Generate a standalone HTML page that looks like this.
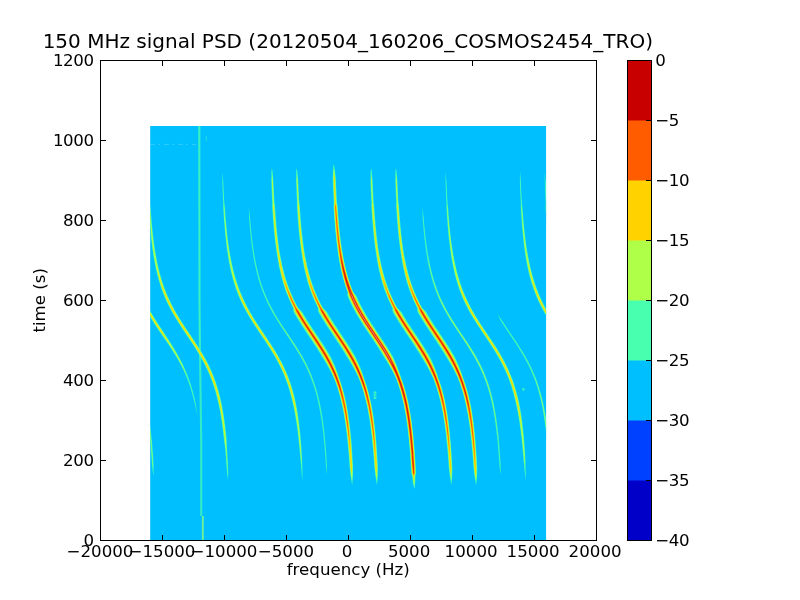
<!DOCTYPE html><html><head><meta charset="utf-8"><title>150 MHz signal PSD</title>
<style>html,body{margin:0;padding:0;background:#fff;overflow:hidden}svg{display:block}text{font-family:"DejaVu Sans","Liberation Sans",sans-serif;fill:#000}</style></head><body>
<svg width="800" height="600" viewBox="0 0 800 600">
<rect width="800" height="600" fill="#fff"/>
<defs><clipPath id="dc"><rect x="150.2" y="126.0" width="395.9" height="414.0"/></clipPath></defs>
<rect x="150.2" y="126.0" width="395.9" height="414.0" fill="#00bfff"/>
<g clip-path="url(#dc)"><g>
<g fill="none" stroke="#48ffaf">
<path d="M199.3 126L199.5 300L199.9 345" stroke-width="2.1" stroke-opacity="0.8"/>
<path d="M199.9 345L201.2 440L201.2 516" stroke-width="2.1" stroke-opacity="0.7"/>
<path d="M202.8 516L202.8 540" stroke-width="1.8" stroke="#8fff7a" stroke-opacity="0.8"/>
<path d="M150 144.4H196" stroke="#ffffff" stroke-width="0.8" stroke-opacity="0.25" stroke-dasharray="5 3 2 4"/>
<path d="M206.3 136V141" stroke-width="1" stroke-opacity="0.5"/>
</g>
<g fill="#48ffaf" fill-opacity="0.8">
<rect x="373.6" y="391.4" width="2.8" height="2.4"/><rect x="373.6" y="394.3" width="2.8" height="2.2"/><rect x="373.6" y="397" width="2.8" height="2"/>
<rect x="522.2" y="388.2" width="2.4" height="2.4"/>
</g>

<g fill="#48ffaf">
<polygon points="333.8,164.0 333.6,165.0 333.4,166.0 333.3,167.0 333.2,168.0 333.2,169.0 333.1,170.0 333.1,171.0 333.0,172.0 332.9,173.0 332.9,174.0 332.9,175.0 332.8,176.0 332.8,177.0 332.7,178.0 332.8,179.0 332.8,180.0 332.8,181.0 332.9,182.0 332.9,183.0 332.9,184.0 333.0,185.0 333.0,186.0 333.0,187.0 333.1,188.0 333.1,189.0 333.2,190.0 333.2,191.0 333.2,192.0 333.3,193.0 333.3,194.0 333.4,195.0 333.4,196.0 333.5,197.0 333.5,198.0 333.6,199.0 333.6,200.0 333.7,201.0 333.7,202.0 333.8,203.0 333.7,204.0 333.6,205.0 333.6,206.0 333.6,207.0 333.7,208.0 333.7,209.0 333.8,210.0 333.9,211.0 333.9,212.0 334.0,213.0 334.0,214.0 334.1,215.0 334.2,216.0 334.3,217.0 334.3,218.0 334.4,219.0 334.5,220.0 334.5,221.0 334.6,222.0 334.7,223.0 334.8,224.0 334.9,225.0 334.9,226.0 335.0,227.0 335.1,228.0 335.2,229.0 335.3,230.0 335.4,231.0 335.5,232.0 335.6,233.0 335.7,234.0 335.8,235.0 335.9,236.0 336.0,237.0 336.1,238.0 336.2,239.0 336.3,240.0 336.4,241.0 336.5,242.0 336.7,243.0 336.8,244.0 336.9,245.0 337.0,246.0 337.2,247.0 337.3,248.0 337.4,249.0 337.6,250.0 337.7,251.0 337.8,252.0 338.0,253.0 338.1,254.0 338.3,255.0 338.4,256.0 338.6,257.0 338.8,258.0 338.9,259.0 339.1,260.0 339.3,261.0 339.4,262.0 339.6,263.0 339.8,264.0 340.0,265.0 340.2,266.0 340.4,267.0 340.6,268.0 340.8,269.0 341.1,270.0 341.3,271.0 341.5,272.0 341.8,273.0 342.0,274.0 342.3,275.0 342.5,276.0 342.8,277.0 343.0,278.0 343.3,279.0 343.6,280.0 343.9,281.0 344.2,282.0 344.5,283.0 344.8,284.0 345.1,285.0 345.4,286.0 345.8,287.0 346.1,288.0 346.4,289.0 346.8,290.0 347.2,291.0 347.5,292.0 347.5,293.0 347.5,294.0 347.5,295.0 347.5,296.0 347.9,297.0 348.3,298.0 348.8,299.0 349.2,300.0 349.7,301.0 350.1,302.0 350.6,303.0 351.1,304.0 351.6,305.0 352.1,306.0 352.6,307.0 353.1,308.0 353.6,309.0 354.2,310.0 354.7,311.0 355.3,312.0 355.8,313.0 356.4,314.0 357.0,315.0 357.6,316.0 358.1,317.0 358.7,318.0 359.4,319.0 360.0,320.0 360.6,321.0 361.2,322.0 361.9,323.0 362.5,324.0 363.1,325.0 363.8,326.0 364.4,327.0 365.1,328.0 365.8,329.0 366.4,330.0 367.1,331.0 367.8,332.0 368.4,333.0 369.1,334.0 369.8,335.0 370.4,336.0 371.1,337.0 371.8,338.0 372.5,339.0 373.1,340.0 373.8,341.0 374.5,342.0 375.1,343.0 375.8,344.0 376.4,345.0 377.1,346.0 377.7,347.0 378.4,348.0 379.0,349.0 379.6,350.0 380.3,351.0 380.9,352.0 381.5,353.0 382.1,354.0 382.7,355.0 383.3,356.0 383.9,357.0 384.6,358.0 385.2,359.0 385.9,360.0 386.5,361.0 387.1,362.0 387.7,363.0 388.3,364.0 388.9,365.0 389.5,366.0 390.1,367.0 390.7,368.0 391.2,369.0 391.8,370.0 392.3,371.0 392.8,372.0 393.4,373.0 393.9,374.0 394.4,375.0 394.9,376.0 395.3,377.0 395.8,378.0 396.2,379.0 396.6,380.0 397.0,381.0 397.3,382.0 397.7,383.0 398.0,384.0 398.4,385.0 398.7,386.0 399.0,387.0 399.3,388.0 399.7,389.0 400.0,390.0 400.3,391.0 400.5,392.0 400.8,393.0 401.1,394.0 401.4,395.0 401.6,396.0 401.9,397.0 402.2,398.0 402.4,399.0 402.6,400.0 402.9,401.0 403.1,402.0 403.3,403.0 403.6,404.0 403.8,405.0 404.0,406.0 404.2,407.0 404.4,408.0 404.6,409.0 404.8,410.0 405.0,411.0 405.1,412.0 405.3,413.0 405.5,414.0 405.7,415.0 405.8,416.0 406.0,417.0 406.2,418.0 406.3,419.0 406.5,420.0 406.6,421.0 406.8,422.0 406.9,423.0 407.0,424.0 407.2,425.0 407.3,426.0 407.4,427.0 407.6,428.0 407.7,429.0 407.8,430.0 407.9,431.0 408.1,432.0 408.2,433.0 408.3,434.0 408.4,435.0 408.5,436.0 408.6,437.0 408.7,438.0 408.8,439.0 408.9,440.0 409.0,441.0 409.1,442.0 409.2,443.0 409.3,444.0 409.4,445.0 409.5,446.0 409.6,447.0 409.6,448.0 409.7,449.0 409.8,450.0 409.9,451.0 410.0,452.0 410.0,453.0 410.1,454.0 410.2,455.0 410.3,456.0 410.3,457.0 410.4,458.0 410.5,459.0 410.5,460.0 410.6,461.0 410.7,462.0 410.7,463.0 410.8,464.0 410.8,465.0 410.9,466.0 411.0,467.0 411.1,468.0 411.1,469.0 411.2,470.0 411.3,471.0 411.3,472.0 411.4,473.0 411.6,474.0 411.8,475.0 412.2,476.0 412.3,477.0 412.4,478.0 412.5,479.0 412.6,480.0 412.8,481.0 412.9,482.0 413.0,483.0 413.2,484.0 413.4,485.0 413.6,486.0 413.8,487.0 414.1,488.0 414.3,489.0 414.3,489.0 414.5,488.0 414.7,487.0 414.8,486.0 414.9,485.0 415.0,484.0 415.2,483.0 415.2,482.0 415.2,481.0 415.3,480.0 415.3,479.0 415.4,478.0 415.4,477.0 415.4,476.0 415.6,475.0 415.8,474.0 415.9,473.0 415.8,472.0 415.8,471.0 415.8,470.0 415.7,469.0 415.7,468.0 415.6,467.0 415.6,466.0 415.5,465.0 415.5,464.0 415.4,463.0 415.4,462.0 415.3,461.0 415.2,460.0 415.2,459.0 415.1,458.0 415.1,457.0 415.0,456.0 414.9,455.0 414.8,454.0 414.8,453.0 414.7,452.0 414.6,451.0 414.6,450.0 414.5,449.0 414.4,448.0 414.3,447.0 414.2,446.0 414.2,445.0 414.1,444.0 414.0,443.0 413.9,442.0 413.8,441.0 413.7,440.0 413.6,439.0 413.5,438.0 413.4,437.0 413.3,436.0 413.2,435.0 413.1,434.0 413.0,433.0 412.9,432.0 412.8,431.0 412.7,430.0 412.6,429.0 412.4,428.0 412.3,427.0 412.2,426.0 412.1,425.0 411.9,424.0 411.8,423.0 411.7,422.0 411.5,421.0 411.4,420.0 411.2,419.0 411.1,418.0 410.9,417.0 410.8,416.0 410.6,415.0 410.5,414.0 410.3,413.0 410.1,412.0 410.0,411.0 409.8,410.0 409.6,409.0 409.4,408.0 409.2,407.0 409.0,406.0 408.8,405.0 408.6,404.0 408.4,403.0 408.2,402.0 408.0,401.0 407.7,400.0 407.5,399.0 407.3,398.0 407.0,397.0 406.8,396.0 406.5,395.0 406.3,394.0 406.0,393.0 405.7,392.0 405.5,391.0 405.2,390.0 404.9,389.0 404.6,388.0 404.3,387.0 404.0,386.0 403.6,385.0 403.3,384.0 403.0,383.0 402.6,382.0 402.3,381.0 401.9,380.0 401.6,379.0 401.2,378.0 400.9,377.0 400.6,376.0 400.2,375.0 399.9,374.0 399.6,373.0 399.2,372.0 398.9,371.0 398.5,370.0 398.2,369.0 397.8,368.0 397.4,367.0 397.0,366.0 396.6,365.0 396.2,364.0 395.8,363.0 395.3,362.0 394.9,361.0 394.5,360.0 394.0,359.0 393.5,358.0 393.0,357.0 392.6,356.0 392.0,355.0 391.4,354.0 390.8,353.0 390.2,352.0 389.6,351.0 389.0,350.0 388.4,349.0 387.8,348.0 387.1,347.0 386.5,346.0 385.8,345.0 385.2,344.0 384.5,343.0 383.9,342.0 383.2,341.0 382.6,340.0 381.9,339.0 381.2,338.0 380.6,337.0 379.9,336.0 379.2,335.0 378.5,334.0 377.9,333.0 377.2,332.0 376.5,331.0 375.9,330.0 375.2,329.0 374.5,328.0 373.9,327.0 373.2,326.0 372.5,325.0 371.9,324.0 371.2,323.0 370.6,322.0 370.0,321.0 369.3,320.0 368.7,319.0 368.1,318.0 367.5,317.0 366.9,316.0 366.3,315.0 365.7,314.0 365.1,313.0 364.5,312.0 363.9,311.0 363.4,310.0 362.8,309.0 362.3,308.0 361.8,307.0 361.2,306.0 360.7,305.0 360.2,304.0 359.7,303.0 359.2,302.0 358.7,301.0 358.3,300.0 357.8,299.0 357.4,298.0 356.9,297.0 356.5,296.0 355.6,295.0 354.8,294.0 354.0,293.0 353.2,292.0 352.8,291.0 352.4,290.0 352.0,289.0 351.6,288.0 351.3,287.0 350.9,286.0 350.5,285.0 350.2,284.0 349.9,283.0 349.5,282.0 349.2,281.0 348.9,280.0 348.6,279.0 348.3,278.0 348.0,277.0 347.7,276.0 347.4,275.0 347.2,274.0 346.9,273.0 346.6,272.0 346.4,271.0 346.1,270.0 345.9,269.0 345.6,268.0 345.4,267.0 345.2,266.0 345.0,265.0 344.7,264.0 344.5,263.0 344.3,262.0 344.1,261.0 343.9,260.0 343.7,259.0 343.5,258.0 343.3,257.0 343.1,256.0 342.9,255.0 342.8,254.0 342.6,253.0 342.4,252.0 342.2,251.0 342.1,250.0 341.9,249.0 341.8,248.0 341.6,247.0 341.5,246.0 341.3,245.0 341.2,244.0 341.0,243.0 340.9,242.0 340.8,241.0 340.7,240.0 340.5,239.0 340.4,238.0 340.3,237.0 340.2,236.0 340.1,235.0 340.0,234.0 339.8,233.0 339.7,232.0 339.6,231.0 339.5,230.0 339.4,229.0 339.3,228.0 339.2,227.0 339.1,226.0 339.0,225.0 339.0,224.0 338.9,223.0 338.8,222.0 338.7,221.0 338.6,220.0 338.5,219.0 338.4,218.0 338.4,217.0 338.3,216.0 338.2,215.0 338.1,214.0 338.1,213.0 338.0,212.0 337.9,211.0 337.8,210.0 337.8,209.0 337.7,208.0 337.6,207.0 337.6,206.0 337.4,205.0 337.2,204.0 337.0,203.0 337.0,202.0 336.9,201.0 336.8,200.0 336.8,199.0 336.7,198.0 336.7,197.0 336.6,196.0 336.6,195.0 336.5,194.0 336.5,193.0 336.4,192.0 336.4,191.0 336.3,190.0 336.3,189.0 336.2,188.0 336.2,187.0 336.1,186.0 336.1,185.0 336.0,184.0 336.0,183.0 335.9,182.0 335.9,181.0 335.8,180.0 335.8,179.0 335.8,178.0 335.7,177.0 335.5,176.0 335.4,175.0 335.3,174.0 335.2,173.0 335.1,172.0 335.0,171.0 334.8,170.0 334.7,169.0 334.6,168.0 334.4,167.0 334.3,166.0 334.0,165.0 333.8,164.0"/>
<polygon points="371.1,168.0 371.0,169.0 370.8,170.0 370.7,171.0 370.6,172.0 370.6,173.0 370.6,174.0 370.6,175.0 370.6,176.0 370.6,177.0 370.6,178.0 370.6,179.0 370.5,180.0 370.5,181.0 370.6,182.0 370.6,183.0 370.6,184.0 370.7,185.0 370.7,186.0 370.7,187.0 370.8,188.0 370.8,189.0 370.9,190.0 370.9,191.0 370.9,192.0 371.0,193.0 371.0,194.0 371.1,195.0 371.1,196.0 371.2,197.0 371.2,198.0 371.3,199.0 371.3,200.0 371.4,201.0 371.4,202.0 371.5,203.0 371.4,204.0 371.4,205.0 371.3,206.0 371.4,207.0 371.5,208.0 371.5,209.0 371.6,210.0 371.6,211.0 371.7,212.0 371.8,213.0 371.8,214.0 371.9,215.0 372.0,216.0 372.0,217.0 372.1,218.0 372.2,219.0 372.3,220.0 372.3,221.0 372.4,222.0 372.5,223.0 372.6,224.0 372.7,225.0 372.8,226.0 372.8,227.0 372.9,228.0 373.0,229.0 373.1,230.0 373.2,231.0 373.3,232.0 373.4,233.0 373.5,234.0 373.6,235.0 373.7,236.0 373.8,237.0 373.9,238.0 374.0,239.0 374.2,240.0 374.3,241.0 374.4,242.0 374.5,243.0 374.6,244.0 374.8,245.0 374.9,246.0 375.0,247.0 375.2,248.0 375.3,249.0 375.5,250.0 375.6,251.0 375.7,252.0 375.9,253.0 376.1,254.0 376.2,255.0 376.4,256.0 376.5,257.0 376.7,258.0 376.9,259.0 377.0,260.0 377.2,261.0 377.4,262.0 377.6,263.0 377.8,264.0 377.9,265.0 378.1,266.0 378.3,267.0 378.6,268.0 378.8,269.0 379.0,270.0 379.2,271.0 379.4,272.0 379.7,273.0 379.9,274.0 380.2,275.0 380.4,276.0 380.7,277.0 380.9,278.0 381.2,279.0 381.5,280.0 381.8,281.0 382.0,282.0 382.3,283.0 382.6,284.0 383.0,285.0 383.3,286.0 383.6,287.0 383.9,288.0 384.3,289.0 384.6,290.0 385.0,291.0 385.4,292.0 385.7,293.0 386.1,294.0 386.5,295.0 386.9,296.0 387.3,297.0 387.8,298.0 388.2,299.0 388.6,300.0 389.1,301.0 389.5,302.0 390.0,303.0 390.5,304.0 390.9,305.0 391.4,306.0 391.9,307.0 392.4,308.0 392.5,309.0 392.5,310.0 392.6,311.0 392.8,312.0 393.3,313.0 393.9,314.0 394.5,315.0 395.1,316.0 395.7,317.0 396.3,318.0 396.9,319.0 397.5,320.0 398.1,321.0 398.7,322.0 399.4,323.0 400.0,324.0 400.6,325.0 401.3,326.0 401.9,327.0 402.6,328.0 403.3,329.0 403.9,330.0 404.6,331.0 405.2,332.0 405.9,333.0 406.6,334.0 407.3,335.0 407.9,336.0 408.6,337.0 409.3,338.0 409.9,339.0 410.6,340.0 411.3,341.0 411.9,342.0 412.6,343.0 413.3,344.0 413.9,345.0 414.6,346.0 415.2,347.0 415.9,348.0 416.5,349.0 417.1,350.0 417.7,351.0 418.4,352.0 419.0,353.0 419.6,354.0 420.2,355.0 420.7,356.0 421.4,357.0 422.0,358.0 422.7,359.0 423.3,360.0 423.9,361.0 424.5,362.0 425.1,363.0 425.7,364.0 426.3,365.0 426.9,366.0 427.4,367.0 428.0,368.0 428.5,369.0 429.1,370.0 429.6,371.0 430.1,372.0 430.6,373.0 431.1,374.0 431.6,375.0 432.1,376.0 432.6,377.0 433.1,378.0 433.5,379.0 433.9,380.0 434.2,381.0 434.6,382.0 435.0,383.0 435.3,384.0 435.7,385.0 436.0,386.0 436.3,387.0 436.7,388.0 437.0,389.0 437.3,390.0 437.6,391.0 437.9,392.0 438.2,393.0 438.4,394.0 438.7,395.0 439.0,396.0 439.3,397.0 439.5,398.0 439.8,399.0 440.0,400.0 440.3,401.0 440.5,402.0 440.7,403.0 440.9,404.0 441.2,405.0 441.4,406.0 441.6,407.0 441.8,408.0 442.0,409.0 442.2,410.0 442.4,411.0 442.6,412.0 442.8,413.0 443.0,414.0 443.1,415.0 443.3,416.0 443.5,417.0 443.6,418.0 443.8,419.0 444.0,420.0 444.1,421.0 444.3,422.0 444.4,423.0 444.6,424.0 444.7,425.0 444.8,426.0 445.0,427.0 445.1,428.0 445.2,429.0 445.4,430.0 445.5,431.0 445.6,432.0 445.7,433.0 445.9,434.0 446.0,435.0 446.1,436.0 446.2,437.0 446.3,438.0 446.4,439.0 446.5,440.0 446.6,441.0 446.7,442.0 446.8,443.0 446.9,444.0 447.0,445.0 447.1,446.0 447.2,447.0 447.3,448.0 447.4,449.0 447.5,450.0 447.6,451.0 447.7,452.0 447.7,453.0 447.8,454.0 447.9,455.0 448.0,456.0 448.1,457.0 448.1,458.0 448.2,459.0 448.3,460.0 448.4,461.0 448.4,462.0 448.5,463.0 448.6,464.0 448.6,465.0 448.7,466.0 448.8,467.0 448.8,468.0 449.0,469.0 449.1,470.0 449.2,471.0 449.3,472.0 449.4,473.0 449.5,474.0 449.7,475.0 449.8,476.0 450.0,477.0 450.1,478.0 450.3,479.0 450.5,480.0 450.6,481.0 450.8,482.0 451.0,483.0 451.2,484.0 451.4,485.0 451.4,485.0 451.5,484.0 451.6,483.0 451.7,482.0 451.8,481.0 451.9,480.0 451.9,479.0 452.0,478.0 452.1,477.0 452.2,476.0 452.2,475.0 452.2,474.0 452.2,473.0 452.3,472.0 452.3,471.0 452.3,470.0 452.3,469.0 452.3,468.0 452.3,467.0 452.2,466.0 452.2,465.0 452.1,464.0 452.1,463.0 452.0,462.0 451.9,461.0 451.9,460.0 451.8,459.0 451.8,458.0 451.7,457.0 451.7,456.0 451.6,455.0 451.5,454.0 451.5,453.0 451.4,452.0 451.3,451.0 451.3,450.0 451.2,449.0 451.1,448.0 451.1,447.0 451.0,446.0 450.9,445.0 450.8,444.0 450.8,443.0 450.7,442.0 450.6,441.0 450.5,440.0 450.4,439.0 450.3,438.0 450.2,437.0 450.1,436.0 450.1,435.0 450.0,434.0 449.9,433.0 449.7,432.0 449.6,431.0 449.5,430.0 449.4,429.0 449.3,428.0 449.2,427.0 449.1,426.0 449.0,425.0 448.8,424.0 448.7,423.0 448.6,422.0 448.4,421.0 448.3,420.0 448.2,419.0 448.0,418.0 447.9,417.0 447.7,416.0 447.6,415.0 447.4,414.0 447.3,413.0 447.1,412.0 446.9,411.0 446.7,410.0 446.6,409.0 446.4,408.0 446.2,407.0 446.0,406.0 445.8,405.0 445.6,404.0 445.4,403.0 445.2,402.0 445.0,401.0 444.8,400.0 444.5,399.0 444.3,398.0 444.1,397.0 443.8,396.0 443.6,395.0 443.3,394.0 443.1,393.0 442.8,392.0 442.5,391.0 442.3,390.0 442.0,389.0 441.7,388.0 441.4,387.0 441.1,386.0 440.8,385.0 440.4,384.0 440.1,383.0 439.8,382.0 439.4,381.0 439.1,380.0 438.7,379.0 438.3,378.0 438.0,377.0 437.7,376.0 437.4,375.0 437.1,374.0 436.7,373.0 436.4,372.0 436.0,371.0 435.6,370.0 435.2,369.0 434.9,368.0 434.5,367.0 434.1,366.0 433.6,365.0 433.2,364.0 432.8,363.0 432.3,362.0 431.9,361.0 431.4,360.0 431.0,359.0 430.5,358.0 430.0,357.0 429.5,356.0 428.9,355.0 428.3,354.0 427.7,353.0 427.1,352.0 426.5,351.0 425.9,350.0 425.3,349.0 424.7,348.0 424.0,347.0 423.4,346.0 422.8,345.0 422.1,344.0 421.5,343.0 420.8,342.0 420.1,341.0 419.5,340.0 418.8,339.0 418.1,338.0 417.5,337.0 416.8,336.0 416.1,335.0 415.5,334.0 414.8,333.0 414.1,332.0 413.4,331.0 412.8,330.0 412.1,329.0 411.4,328.0 410.8,327.0 410.1,326.0 409.4,325.0 408.8,324.0 408.1,323.0 407.5,322.0 406.9,321.0 406.2,320.0 405.6,319.0 405.0,318.0 404.4,317.0 403.7,316.0 403.2,315.0 402.6,314.0 402.0,313.0 401.4,312.0 400.4,311.0 399.4,310.0 398.4,309.0 397.3,308.0 396.8,307.0 396.3,306.0 395.7,305.0 395.2,304.0 394.7,303.0 394.2,302.0 393.7,301.0 393.3,300.0 392.8,299.0 392.3,298.0 391.9,297.0 391.4,296.0 391.0,295.0 390.6,294.0 390.1,293.0 389.7,292.0 389.3,291.0 388.9,290.0 388.6,289.0 388.2,288.0 387.8,287.0 387.4,286.0 387.1,285.0 386.7,284.0 386.4,283.0 386.1,282.0 385.7,281.0 385.4,280.0 385.1,279.0 384.8,278.0 384.5,277.0 384.2,276.0 383.9,275.0 383.7,274.0 383.4,273.0 383.1,272.0 382.9,271.0 382.6,270.0 382.4,269.0 382.1,268.0 381.9,267.0 381.6,266.0 381.4,265.0 381.2,264.0 381.0,263.0 380.8,262.0 380.6,261.0 380.4,260.0 380.2,259.0 380.0,258.0 379.8,257.0 379.6,256.0 379.4,255.0 379.2,254.0 379.1,253.0 378.9,252.0 378.7,251.0 378.6,250.0 378.4,249.0 378.3,248.0 378.1,247.0 378.0,246.0 377.9,245.0 377.7,244.0 377.6,243.0 377.5,242.0 377.3,241.0 377.2,240.0 377.1,239.0 377.0,238.0 376.9,237.0 376.7,236.0 376.6,235.0 376.5,234.0 376.4,233.0 376.3,232.0 376.2,231.0 376.1,230.0 376.0,229.0 375.9,228.0 375.8,227.0 375.7,226.0 375.6,225.0 375.5,224.0 375.5,223.0 375.4,222.0 375.3,221.0 375.2,220.0 375.1,219.0 375.0,218.0 375.0,217.0 374.9,216.0 374.8,215.0 374.7,214.0 374.7,213.0 374.6,212.0 374.5,211.0 374.5,210.0 374.4,209.0 374.3,208.0 374.3,207.0 374.2,206.0 374.0,205.0 373.9,204.0 373.7,203.0 373.7,202.0 373.6,201.0 373.5,200.0 373.5,199.0 373.4,198.0 373.4,197.0 373.3,196.0 373.3,195.0 373.2,194.0 373.2,193.0 373.1,192.0 373.1,191.0 373.0,190.0 373.0,189.0 372.9,188.0 372.9,187.0 372.8,186.0 372.8,185.0 372.7,184.0 372.7,183.0 372.6,182.0 372.6,181.0 372.5,180.0 372.4,179.0 372.3,178.0 372.2,177.0 372.2,176.0 372.1,175.0 372.0,174.0 371.9,173.0 371.8,172.0 371.7,171.0 371.5,170.0 371.3,169.0 371.1,168.0"/>
<polygon points="395.9,168.0 395.8,169.0 395.6,170.0 395.5,171.0 395.4,172.0 395.4,173.0 395.4,174.0 395.4,175.0 395.4,176.0 395.4,177.0 395.4,178.0 395.4,179.0 395.3,180.0 395.3,181.0 395.4,182.0 395.4,183.0 395.4,184.0 395.5,185.0 395.5,186.0 395.5,187.0 395.6,188.0 395.6,189.0 395.7,190.0 395.7,191.0 395.7,192.0 395.8,193.0 395.8,194.0 395.9,195.0 395.9,196.0 396.0,197.0 396.0,198.0 396.1,199.0 396.1,200.0 396.2,201.0 396.2,202.0 396.3,203.0 396.2,204.0 396.2,205.0 396.1,206.0 396.2,207.0 396.3,208.0 396.3,209.0 396.4,210.0 396.4,211.0 396.5,212.0 396.6,213.0 396.6,214.0 396.7,215.0 396.8,216.0 396.8,217.0 396.9,218.0 397.0,219.0 397.1,220.0 397.1,221.0 397.2,222.0 397.3,223.0 397.4,224.0 397.5,225.0 397.6,226.0 397.6,227.0 397.7,228.0 397.8,229.0 397.9,230.0 398.0,231.0 398.1,232.0 398.2,233.0 398.3,234.0 398.4,235.0 398.5,236.0 398.6,237.0 398.7,238.0 398.8,239.0 399.0,240.0 399.1,241.0 399.2,242.0 399.3,243.0 399.4,244.0 399.6,245.0 399.7,246.0 399.8,247.0 400.0,248.0 400.1,249.0 400.3,250.0 400.4,251.0 400.5,252.0 400.7,253.0 400.9,254.0 401.0,255.0 401.2,256.0 401.3,257.0 401.5,258.0 401.7,259.0 401.8,260.0 402.0,261.0 402.2,262.0 402.4,263.0 402.6,264.0 402.7,265.0 402.9,266.0 403.1,267.0 403.4,268.0 403.6,269.0 403.8,270.0 404.0,271.0 404.2,272.0 404.5,273.0 404.7,274.0 405.0,275.0 405.2,276.0 405.5,277.0 405.7,278.0 406.0,279.0 406.3,280.0 406.6,281.0 406.8,282.0 407.1,283.0 407.4,284.0 407.8,285.0 408.1,286.0 408.4,287.0 408.7,288.0 409.1,289.0 409.4,290.0 409.8,291.0 410.2,292.0 410.5,293.0 410.9,294.0 411.3,295.0 411.7,296.0 412.1,297.0 412.6,298.0 413.0,299.0 413.4,300.0 413.9,301.0 414.3,302.0 414.8,303.0 415.3,304.0 415.7,305.0 416.2,306.0 416.7,307.0 417.2,308.0 417.3,309.0 417.3,310.0 417.4,311.0 417.6,312.0 418.1,313.0 418.7,314.0 419.3,315.0 419.9,316.0 420.5,317.0 421.1,318.0 421.7,319.0 422.3,320.0 422.9,321.0 423.5,322.0 424.2,323.0 424.8,324.0 425.4,325.0 426.1,326.0 426.7,327.0 427.4,328.0 428.1,329.0 428.7,330.0 429.4,331.0 430.0,332.0 430.7,333.0 431.4,334.0 432.1,335.0 432.7,336.0 433.4,337.0 434.1,338.0 434.7,339.0 435.4,340.0 436.1,341.0 436.7,342.0 437.4,343.0 438.1,344.0 438.7,345.0 439.4,346.0 440.0,347.0 440.7,348.0 441.3,349.0 441.9,350.0 442.5,351.0 443.2,352.0 443.8,353.0 444.4,354.0 445.0,355.0 445.5,356.0 446.2,357.0 446.8,358.0 447.5,359.0 448.1,360.0 448.7,361.0 449.3,362.0 449.9,363.0 450.5,364.0 451.1,365.0 451.7,366.0 452.2,367.0 452.8,368.0 453.3,369.0 453.9,370.0 454.4,371.0 454.9,372.0 455.4,373.0 455.9,374.0 456.4,375.0 456.9,376.0 457.4,377.0 457.9,378.0 458.3,379.0 458.6,380.0 459.0,381.0 459.4,382.0 459.7,383.0 460.1,384.0 460.4,385.0 460.8,386.0 461.1,387.0 461.4,388.0 461.7,389.0 462.0,390.0 462.3,391.0 462.6,392.0 462.9,393.0 463.2,394.0 463.5,395.0 463.7,396.0 464.0,397.0 464.2,398.0 464.5,399.0 464.7,400.0 465.0,401.0 465.2,402.0 465.5,403.0 465.7,404.0 465.9,405.0 466.1,406.0 466.3,407.0 466.5,408.0 466.7,409.0 466.9,410.0 467.1,411.0 467.3,412.0 467.5,413.0 467.7,414.0 467.9,415.0 468.0,416.0 468.2,417.0 468.4,418.0 468.5,419.0 468.7,420.0 468.8,421.0 469.0,422.0 469.1,423.0 469.3,424.0 469.4,425.0 469.6,426.0 469.7,427.0 469.8,428.0 470.0,429.0 470.1,430.0 470.2,431.0 470.3,432.0 470.5,433.0 470.6,434.0 470.7,435.0 470.8,436.0 470.9,437.0 471.0,438.0 471.1,439.0 471.2,440.0 471.4,441.0 471.5,442.0 471.6,443.0 471.6,444.0 471.7,445.0 471.8,446.0 471.9,447.0 472.0,448.0 472.1,449.0 472.2,450.0 472.3,451.0 472.4,452.0 472.4,453.0 472.5,454.0 472.6,455.0 472.7,456.0 472.8,457.0 472.8,458.0 472.9,459.0 473.0,460.0 473.1,461.0 473.1,462.0 473.2,463.0 473.3,464.0 473.3,465.0 473.4,466.0 473.5,467.0 473.5,468.0 473.7,469.0 473.8,470.0 473.9,471.0 474.0,472.0 474.1,473.0 474.2,474.0 474.4,475.0 474.5,476.0 474.7,477.0 474.8,478.0 475.0,479.0 475.2,480.0 475.4,481.0 475.5,482.0 475.7,483.0 475.9,484.0 476.2,485.0 476.2,485.0 476.3,484.0 476.5,483.0 476.6,482.0 476.7,481.0 476.7,480.0 476.8,479.0 476.9,478.0 477.0,477.0 477.1,476.0 477.1,475.0 477.1,474.0 477.1,473.0 477.2,472.0 477.2,471.0 477.2,470.0 477.2,469.0 477.2,468.0 477.2,467.0 477.1,466.0 477.1,465.0 477.0,464.0 477.0,463.0 476.9,462.0 476.8,461.0 476.8,460.0 476.7,459.0 476.7,458.0 476.6,457.0 476.6,456.0 476.5,455.0 476.4,454.0 476.4,453.0 476.3,452.0 476.2,451.0 476.2,450.0 476.1,449.0 476.0,448.0 475.9,447.0 475.9,446.0 475.8,445.0 475.7,444.0 475.6,443.0 475.6,442.0 475.5,441.0 475.4,440.0 475.3,439.0 475.2,438.0 475.1,437.0 475.0,436.0 474.9,435.0 474.8,434.0 474.7,433.0 474.6,432.0 474.5,431.0 474.4,430.0 474.3,429.0 474.2,428.0 474.1,427.0 473.9,426.0 473.8,425.0 473.7,424.0 473.6,423.0 473.4,422.0 473.3,421.0 473.2,420.0 473.0,419.0 472.9,418.0 472.7,417.0 472.6,416.0 472.4,415.0 472.3,414.0 472.1,413.0 472.0,412.0 471.8,411.0 471.6,410.0 471.4,409.0 471.3,408.0 471.1,407.0 470.9,406.0 470.7,405.0 470.5,404.0 470.3,403.0 470.1,402.0 469.9,401.0 469.6,400.0 469.4,399.0 469.2,398.0 468.9,397.0 468.7,396.0 468.4,395.0 468.2,394.0 467.9,393.0 467.7,392.0 467.4,391.0 467.1,390.0 466.8,389.0 466.5,388.0 466.2,387.0 465.9,386.0 465.6,385.0 465.3,384.0 464.9,383.0 464.6,382.0 464.2,381.0 463.9,380.0 463.5,379.0 463.1,378.0 462.8,377.0 462.5,376.0 462.2,375.0 461.9,374.0 461.5,373.0 461.2,372.0 460.8,371.0 460.4,370.0 460.0,369.0 459.7,368.0 459.3,367.0 458.9,366.0 458.4,365.0 458.0,364.0 457.6,363.0 457.1,362.0 456.7,361.0 456.2,360.0 455.8,359.0 455.3,358.0 454.8,357.0 454.3,356.0 453.7,355.0 453.1,354.0 452.5,353.0 451.9,352.0 451.3,351.0 450.7,350.0 450.1,349.0 449.5,348.0 448.8,347.0 448.2,346.0 447.6,345.0 446.9,344.0 446.3,343.0 445.6,342.0 444.9,341.0 444.3,340.0 443.6,339.0 442.9,338.0 442.3,337.0 441.6,336.0 440.9,335.0 440.3,334.0 439.6,333.0 438.9,332.0 438.2,331.0 437.6,330.0 436.9,329.0 436.2,328.0 435.6,327.0 434.9,326.0 434.2,325.0 433.6,324.0 432.9,323.0 432.3,322.0 431.7,321.0 431.0,320.0 430.4,319.0 429.8,318.0 429.2,317.0 428.5,316.0 428.0,315.0 427.4,314.0 426.8,313.0 426.2,312.0 425.2,311.0 424.2,310.0 423.2,309.0 422.1,308.0 421.6,307.0 421.1,306.0 420.5,305.0 420.0,304.0 419.5,303.0 419.0,302.0 418.5,301.0 418.1,300.0 417.6,299.0 417.1,298.0 416.7,297.0 416.2,296.0 415.8,295.0 415.4,294.0 414.9,293.0 414.5,292.0 414.1,291.0 413.7,290.0 413.4,289.0 413.0,288.0 412.6,287.0 412.2,286.0 411.9,285.0 411.5,284.0 411.2,283.0 410.9,282.0 410.5,281.0 410.2,280.0 409.9,279.0 409.6,278.0 409.3,277.0 409.0,276.0 408.7,275.0 408.5,274.0 408.2,273.0 407.9,272.0 407.7,271.0 407.4,270.0 407.2,269.0 406.9,268.0 406.7,267.0 406.4,266.0 406.2,265.0 406.0,264.0 405.8,263.0 405.6,262.0 405.4,261.0 405.2,260.0 405.0,259.0 404.8,258.0 404.6,257.0 404.4,256.0 404.2,255.0 404.0,254.0 403.9,253.0 403.7,252.0 403.5,251.0 403.4,250.0 403.2,249.0 403.1,248.0 402.9,247.0 402.8,246.0 402.7,245.0 402.5,244.0 402.4,243.0 402.3,242.0 402.1,241.0 402.0,240.0 401.9,239.0 401.8,238.0 401.7,237.0 401.5,236.0 401.4,235.0 401.3,234.0 401.2,233.0 401.1,232.0 401.0,231.0 400.9,230.0 400.8,229.0 400.7,228.0 400.6,227.0 400.5,226.0 400.4,225.0 400.3,224.0 400.3,223.0 400.2,222.0 400.1,221.0 400.0,220.0 399.9,219.0 399.8,218.0 399.8,217.0 399.7,216.0 399.6,215.0 399.5,214.0 399.5,213.0 399.4,212.0 399.3,211.0 399.3,210.0 399.2,209.0 399.1,208.0 399.1,207.0 399.0,206.0 398.8,205.0 398.7,204.0 398.5,203.0 398.5,202.0 398.4,201.0 398.3,200.0 398.3,199.0 398.2,198.0 398.2,197.0 398.1,196.0 398.1,195.0 398.0,194.0 398.0,193.0 397.9,192.0 397.9,191.0 397.8,190.0 397.8,189.0 397.7,188.0 397.7,187.0 397.6,186.0 397.6,185.0 397.5,184.0 397.5,183.0 397.4,182.0 397.4,181.0 397.3,180.0 397.2,179.0 397.1,178.0 397.0,177.0 397.0,176.0 396.9,175.0 396.8,174.0 396.7,173.0 396.6,172.0 396.5,171.0 396.3,170.0 396.1,169.0 395.9,168.0"/>
<polygon points="296.7,168.0 296.6,169.0 296.4,170.0 296.3,171.0 296.2,172.0 296.2,173.0 296.2,174.0 296.2,175.0 296.2,176.0 296.2,177.0 296.2,178.0 296.2,179.0 296.1,180.0 296.1,181.0 296.2,182.0 296.2,183.0 296.2,184.0 296.3,185.0 296.3,186.0 296.3,187.0 296.4,188.0 296.4,189.0 296.5,190.0 296.5,191.0 296.5,192.0 296.6,193.0 296.6,194.0 296.7,195.0 296.7,196.0 296.8,197.0 296.8,198.0 296.9,199.0 296.9,200.0 297.0,201.0 297.0,202.0 297.1,203.0 297.0,204.0 297.0,205.0 296.9,206.0 297.0,207.0 297.1,208.0 297.1,209.0 297.2,210.0 297.2,211.0 297.3,212.0 297.4,213.0 297.4,214.0 297.5,215.0 297.6,216.0 297.6,217.0 297.7,218.0 297.8,219.0 297.9,220.0 297.9,221.0 298.0,222.0 298.1,223.0 298.2,224.0 298.3,225.0 298.4,226.0 298.4,227.0 298.5,228.0 298.6,229.0 298.7,230.0 298.8,231.0 298.9,232.0 299.0,233.0 299.1,234.0 299.2,235.0 299.3,236.0 299.4,237.0 299.5,238.0 299.6,239.0 299.8,240.0 299.9,241.0 300.0,242.0 300.1,243.0 300.2,244.0 300.4,245.0 300.5,246.0 300.6,247.0 300.8,248.0 300.9,249.0 301.1,250.0 301.2,251.0 301.3,252.0 301.5,253.0 301.7,254.0 301.8,255.0 302.0,256.0 302.1,257.0 302.3,258.0 302.5,259.0 302.6,260.0 302.8,261.0 303.0,262.0 303.2,263.0 303.4,264.0 303.5,265.0 303.7,266.0 303.9,267.0 304.2,268.0 304.4,269.0 304.6,270.0 304.8,271.0 305.0,272.0 305.3,273.0 305.5,274.0 305.8,275.0 306.0,276.0 306.3,277.0 306.5,278.0 306.8,279.0 307.1,280.0 307.4,281.0 307.6,282.0 307.9,283.0 308.2,284.0 308.6,285.0 308.9,286.0 309.2,287.0 309.5,288.0 309.9,289.0 310.2,290.0 310.6,291.0 311.0,292.0 311.3,293.0 311.7,294.0 312.1,295.0 312.5,296.0 312.9,297.0 313.4,298.0 313.8,299.0 314.2,300.0 314.7,301.0 315.1,302.0 315.6,303.0 316.1,304.0 316.5,305.0 317.0,306.0 317.5,307.0 318.0,308.0 318.1,309.0 318.1,310.0 318.2,311.0 318.4,312.0 318.9,313.0 319.5,314.0 320.1,315.0 320.7,316.0 321.3,317.0 321.9,318.0 322.5,319.0 323.1,320.0 323.7,321.0 324.3,322.0 325.0,323.0 325.6,324.0 326.2,325.0 326.9,326.0 327.5,327.0 328.2,328.0 328.9,329.0 329.5,330.0 330.2,331.0 330.8,332.0 331.5,333.0 332.2,334.0 332.9,335.0 333.5,336.0 334.2,337.0 334.9,338.0 335.5,339.0 336.2,340.0 336.9,341.0 337.5,342.0 338.2,343.0 338.9,344.0 339.5,345.0 340.2,346.0 340.8,347.0 341.5,348.0 342.1,349.0 342.7,350.0 343.3,351.0 344.0,352.0 344.6,353.0 345.2,354.0 345.8,355.0 346.3,356.0 347.0,357.0 347.6,358.0 348.3,359.0 348.9,360.0 349.5,361.0 350.1,362.0 350.7,363.0 351.3,364.0 351.9,365.0 352.5,366.0 353.0,367.0 353.6,368.0 354.1,369.0 354.7,370.0 355.2,371.0 355.7,372.0 356.2,373.0 356.7,374.0 357.2,375.0 357.7,376.0 358.2,377.0 358.7,378.0 359.1,379.0 359.5,380.0 359.8,381.0 360.2,382.0 360.6,383.0 360.9,384.0 361.3,385.0 361.6,386.0 361.9,387.0 362.3,388.0 362.6,389.0 362.9,390.0 363.2,391.0 363.5,392.0 363.8,393.0 364.0,394.0 364.3,395.0 364.6,396.0 364.9,397.0 365.1,398.0 365.4,399.0 365.6,400.0 365.9,401.0 366.1,402.0 366.3,403.0 366.5,404.0 366.8,405.0 367.0,406.0 367.2,407.0 367.4,408.0 367.6,409.0 367.8,410.0 368.0,411.0 368.2,412.0 368.4,413.0 368.6,414.0 368.7,415.0 368.9,416.0 369.1,417.0 369.2,418.0 369.4,419.0 369.6,420.0 369.7,421.0 369.9,422.0 370.0,423.0 370.2,424.0 370.3,425.0 370.4,426.0 370.6,427.0 370.7,428.0 370.8,429.0 371.0,430.0 371.1,431.0 371.2,432.0 371.3,433.0 371.5,434.0 371.6,435.0 371.7,436.0 371.8,437.0 371.9,438.0 372.0,439.0 372.1,440.0 372.2,441.0 372.3,442.0 372.4,443.0 372.5,444.0 372.6,445.0 372.7,446.0 372.8,447.0 372.9,448.0 373.0,449.0 373.1,450.0 373.2,451.0 373.3,452.0 373.3,453.0 373.4,454.0 373.5,455.0 373.6,456.0 373.7,457.0 373.7,458.0 373.8,459.0 373.9,460.0 374.0,461.0 374.0,462.0 374.1,463.0 374.2,464.0 374.2,465.0 374.3,466.0 374.4,467.0 374.4,468.0 374.6,469.0 374.7,470.0 374.8,471.0 374.9,472.0 375.0,473.0 375.1,474.0 375.3,475.0 375.4,476.0 375.6,477.0 375.7,478.0 375.9,479.0 376.1,480.0 376.2,481.0 376.4,482.0 376.6,483.0 376.8,484.0 377.0,485.0 377.0,485.0 377.1,484.0 377.2,483.0 377.3,482.0 377.4,481.0 377.5,480.0 377.5,479.0 377.6,478.0 377.7,477.0 377.8,476.0 377.8,475.0 377.8,474.0 377.8,473.0 377.9,472.0 377.9,471.0 377.9,470.0 377.9,469.0 377.9,468.0 377.9,467.0 377.8,466.0 377.8,465.0 377.7,464.0 377.7,463.0 377.6,462.0 377.5,461.0 377.5,460.0 377.4,459.0 377.4,458.0 377.3,457.0 377.3,456.0 377.2,455.0 377.1,454.0 377.1,453.0 377.0,452.0 376.9,451.0 376.9,450.0 376.8,449.0 376.7,448.0 376.7,447.0 376.6,446.0 376.5,445.0 376.4,444.0 376.4,443.0 376.3,442.0 376.2,441.0 376.1,440.0 376.0,439.0 375.9,438.0 375.8,437.0 375.7,436.0 375.7,435.0 375.6,434.0 375.5,433.0 375.3,432.0 375.2,431.0 375.1,430.0 375.0,429.0 374.9,428.0 374.8,427.0 374.7,426.0 374.6,425.0 374.4,424.0 374.3,423.0 374.2,422.0 374.0,421.0 373.9,420.0 373.8,419.0 373.6,418.0 373.5,417.0 373.3,416.0 373.2,415.0 373.0,414.0 372.9,413.0 372.7,412.0 372.5,411.0 372.3,410.0 372.2,409.0 372.0,408.0 371.8,407.0 371.6,406.0 371.4,405.0 371.2,404.0 371.0,403.0 370.8,402.0 370.6,401.0 370.4,400.0 370.1,399.0 369.9,398.0 369.7,397.0 369.4,396.0 369.2,395.0 368.9,394.0 368.7,393.0 368.4,392.0 368.1,391.0 367.9,390.0 367.6,389.0 367.3,388.0 367.0,387.0 366.7,386.0 366.4,385.0 366.0,384.0 365.7,383.0 365.4,382.0 365.0,381.0 364.7,380.0 364.3,379.0 363.9,378.0 363.6,377.0 363.3,376.0 363.0,375.0 362.7,374.0 362.3,373.0 362.0,372.0 361.6,371.0 361.2,370.0 360.8,369.0 360.5,368.0 360.1,367.0 359.7,366.0 359.2,365.0 358.8,364.0 358.4,363.0 357.9,362.0 357.5,361.0 357.0,360.0 356.6,359.0 356.1,358.0 355.6,357.0 355.1,356.0 354.5,355.0 353.9,354.0 353.3,353.0 352.7,352.0 352.1,351.0 351.5,350.0 350.9,349.0 350.3,348.0 349.6,347.0 349.0,346.0 348.4,345.0 347.7,344.0 347.1,343.0 346.4,342.0 345.7,341.0 345.1,340.0 344.4,339.0 343.7,338.0 343.1,337.0 342.4,336.0 341.7,335.0 341.1,334.0 340.4,333.0 339.7,332.0 339.0,331.0 338.4,330.0 337.7,329.0 337.0,328.0 336.4,327.0 335.7,326.0 335.0,325.0 334.4,324.0 333.7,323.0 333.1,322.0 332.5,321.0 331.8,320.0 331.2,319.0 330.6,318.0 330.0,317.0 329.3,316.0 328.8,315.0 328.2,314.0 327.6,313.0 327.0,312.0 326.0,311.0 325.0,310.0 324.0,309.0 322.9,308.0 322.4,307.0 321.9,306.0 321.3,305.0 320.8,304.0 320.3,303.0 319.8,302.0 319.3,301.0 318.9,300.0 318.4,299.0 317.9,298.0 317.5,297.0 317.0,296.0 316.6,295.0 316.2,294.0 315.7,293.0 315.3,292.0 314.9,291.0 314.5,290.0 314.2,289.0 313.8,288.0 313.4,287.0 313.0,286.0 312.7,285.0 312.3,284.0 312.0,283.0 311.7,282.0 311.3,281.0 311.0,280.0 310.7,279.0 310.4,278.0 310.1,277.0 309.8,276.0 309.5,275.0 309.3,274.0 309.0,273.0 308.7,272.0 308.5,271.0 308.2,270.0 308.0,269.0 307.7,268.0 307.5,267.0 307.2,266.0 307.0,265.0 306.8,264.0 306.6,263.0 306.4,262.0 306.2,261.0 306.0,260.0 305.8,259.0 305.6,258.0 305.4,257.0 305.2,256.0 305.0,255.0 304.8,254.0 304.7,253.0 304.5,252.0 304.3,251.0 304.2,250.0 304.0,249.0 303.9,248.0 303.7,247.0 303.6,246.0 303.5,245.0 303.3,244.0 303.2,243.0 303.1,242.0 302.9,241.0 302.8,240.0 302.7,239.0 302.6,238.0 302.5,237.0 302.3,236.0 302.2,235.0 302.1,234.0 302.0,233.0 301.9,232.0 301.8,231.0 301.7,230.0 301.6,229.0 301.5,228.0 301.4,227.0 301.3,226.0 301.2,225.0 301.1,224.0 301.1,223.0 301.0,222.0 300.9,221.0 300.8,220.0 300.7,219.0 300.6,218.0 300.6,217.0 300.5,216.0 300.4,215.0 300.3,214.0 300.3,213.0 300.2,212.0 300.1,211.0 300.1,210.0 300.0,209.0 299.9,208.0 299.9,207.0 299.8,206.0 299.6,205.0 299.5,204.0 299.3,203.0 299.3,202.0 299.2,201.0 299.1,200.0 299.1,199.0 299.0,198.0 299.0,197.0 298.9,196.0 298.9,195.0 298.8,194.0 298.8,193.0 298.7,192.0 298.7,191.0 298.6,190.0 298.6,189.0 298.5,188.0 298.5,187.0 298.4,186.0 298.4,185.0 298.3,184.0 298.3,183.0 298.2,182.0 298.2,181.0 298.1,180.0 298.0,179.0 297.9,178.0 297.8,177.0 297.8,176.0 297.7,175.0 297.6,174.0 297.5,173.0 297.4,172.0 297.3,171.0 297.1,170.0 296.9,169.0 296.7,168.0"/>
<polygon points="271.9,168.0 271.8,169.0 271.6,170.0 271.5,171.0 271.4,172.0 271.4,173.0 271.4,174.0 271.4,175.0 271.4,176.0 271.4,177.0 271.4,178.0 271.4,179.0 271.3,180.0 271.3,181.0 271.4,182.0 271.4,183.0 271.4,184.0 271.5,185.0 271.5,186.0 271.5,187.0 271.6,188.0 271.6,189.0 271.7,190.0 271.7,191.0 271.7,192.0 271.8,193.0 271.8,194.0 271.9,195.0 271.9,196.0 272.0,197.0 272.0,198.0 272.1,199.0 272.1,200.0 272.2,201.0 272.2,202.0 272.3,203.0 272.2,204.0 272.2,205.0 272.1,206.0 272.2,207.0 272.3,208.0 272.3,209.0 272.4,210.0 272.4,211.0 272.5,212.0 272.6,213.0 272.6,214.0 272.7,215.0 272.8,216.0 272.8,217.0 272.9,218.0 273.0,219.0 273.1,220.0 273.1,221.0 273.2,222.0 273.3,223.0 273.4,224.0 273.5,225.0 273.6,226.0 273.6,227.0 273.7,228.0 273.8,229.0 273.9,230.0 274.0,231.0 274.1,232.0 274.2,233.0 274.3,234.0 274.4,235.0 274.5,236.0 274.6,237.0 274.7,238.0 274.8,239.0 275.0,240.0 275.1,241.0 275.2,242.0 275.3,243.0 275.4,244.0 275.6,245.0 275.7,246.0 275.8,247.0 276.0,248.0 276.1,249.0 276.3,250.0 276.4,251.0 276.5,252.0 276.7,253.0 276.9,254.0 277.0,255.0 277.2,256.0 277.3,257.0 277.5,258.0 277.7,259.0 277.8,260.0 278.0,261.0 278.2,262.0 278.4,263.0 278.6,264.0 278.7,265.0 278.9,266.0 279.1,267.0 279.4,268.0 279.6,269.0 279.8,270.0 280.0,271.0 280.2,272.0 280.5,273.0 280.7,274.0 281.0,275.0 281.2,276.0 281.5,277.0 281.7,278.0 282.0,279.0 282.3,280.0 282.6,281.0 282.8,282.0 283.1,283.0 283.4,284.0 283.8,285.0 284.1,286.0 284.4,287.0 284.7,288.0 285.1,289.0 285.4,290.0 285.8,291.0 286.2,292.0 286.5,293.0 286.9,294.0 287.3,295.0 287.7,296.0 288.1,297.0 288.6,298.0 289.0,299.0 289.4,300.0 289.9,301.0 290.3,302.0 290.8,303.0 291.3,304.0 291.7,305.0 292.2,306.0 292.7,307.0 293.2,308.0 293.3,309.0 293.3,310.0 293.4,311.0 293.6,312.0 294.1,313.0 294.7,314.0 295.3,315.0 295.9,316.0 296.5,317.0 297.1,318.0 297.7,319.0 298.3,320.0 298.9,321.0 299.5,322.0 300.2,323.0 300.8,324.0 301.4,325.0 302.1,326.0 302.7,327.0 303.4,328.0 304.1,329.0 304.7,330.0 305.4,331.0 306.0,332.0 306.7,333.0 307.4,334.0 308.1,335.0 308.7,336.0 309.4,337.0 310.1,338.0 310.7,339.0 311.4,340.0 312.1,341.0 312.7,342.0 313.4,343.0 314.1,344.0 314.7,345.0 315.4,346.0 316.0,347.0 316.7,348.0 317.3,349.0 317.9,350.0 318.5,351.0 319.2,352.0 319.8,353.0 320.4,354.0 321.0,355.0 321.5,356.0 322.2,357.0 322.8,358.0 323.5,359.0 324.1,360.0 324.7,361.0 325.3,362.0 325.9,363.0 326.5,364.0 327.1,365.0 327.7,366.0 328.2,367.0 328.8,368.0 329.3,369.0 329.9,370.0 330.4,371.0 330.9,372.0 331.4,373.0 331.9,374.0 332.4,375.0 332.9,376.0 333.4,377.0 333.9,378.0 334.3,379.0 334.7,380.0 335.0,381.0 335.4,382.0 335.8,383.0 336.1,384.0 336.5,385.0 336.8,386.0 337.2,387.0 337.5,388.0 337.8,389.0 338.1,390.0 338.4,391.0 338.7,392.0 339.0,393.0 339.3,394.0 339.6,395.0 339.8,396.0 340.1,397.0 340.3,398.0 340.6,399.0 340.8,400.0 341.1,401.0 341.3,402.0 341.6,403.0 341.8,404.0 342.0,405.0 342.2,406.0 342.4,407.0 342.6,408.0 342.8,409.0 343.0,410.0 343.2,411.0 343.4,412.0 343.6,413.0 343.8,414.0 344.0,415.0 344.1,416.0 344.3,417.0 344.5,418.0 344.6,419.0 344.8,420.0 344.9,421.0 345.1,422.0 345.2,423.0 345.4,424.0 345.5,425.0 345.7,426.0 345.8,427.0 345.9,428.0 346.1,429.0 346.2,430.0 346.3,431.0 346.5,432.0 346.6,433.0 346.7,434.0 346.8,435.0 346.9,436.0 347.0,437.0 347.1,438.0 347.2,439.0 347.4,440.0 347.5,441.0 347.6,442.0 347.7,443.0 347.8,444.0 347.9,445.0 348.0,446.0 348.1,447.0 348.1,448.0 348.2,449.0 348.3,450.0 348.4,451.0 348.5,452.0 348.6,453.0 348.7,454.0 348.8,455.0 348.8,456.0 348.9,457.0 349.0,458.0 349.1,459.0 349.1,460.0 349.2,461.0 349.3,462.0 349.4,463.0 349.4,464.0 349.5,465.0 349.6,466.0 349.6,467.0 349.7,468.0 349.8,469.0 349.9,470.0 350.0,471.0 350.2,472.0 350.3,473.0 350.4,474.0 350.5,475.0 350.7,476.0 350.8,477.0 351.0,478.0 351.1,479.0 351.3,480.0 351.4,481.0 351.6,482.0 351.8,483.0 352.0,484.0 352.2,485.0 352.2,485.0 352.3,484.0 352.4,483.0 352.5,482.0 352.6,481.0 352.6,480.0 352.7,479.0 352.8,478.0 352.8,477.0 352.9,476.0 352.9,475.0 353.0,474.0 353.0,473.0 353.0,472.0 353.0,471.0 353.0,470.0 353.0,469.0 353.0,468.0 353.0,467.0 353.0,466.0 352.9,465.0 352.9,464.0 352.8,463.0 352.7,462.0 352.7,461.0 352.6,460.0 352.6,459.0 352.5,458.0 352.5,457.0 352.4,456.0 352.3,455.0 352.3,454.0 352.2,453.0 352.2,452.0 352.1,451.0 352.0,450.0 352.0,449.0 351.9,448.0 351.8,447.0 351.7,446.0 351.7,445.0 351.6,444.0 351.5,443.0 351.4,442.0 351.4,441.0 351.3,440.0 351.2,439.0 351.1,438.0 351.0,437.0 350.9,436.0 350.8,435.0 350.7,434.0 350.6,433.0 350.5,432.0 350.4,431.0 350.3,430.0 350.2,429.0 350.1,428.0 350.0,427.0 349.8,426.0 349.7,425.0 349.6,424.0 349.5,423.0 349.3,422.0 349.2,421.0 349.1,420.0 348.9,419.0 348.8,418.0 348.6,417.0 348.5,416.0 348.3,415.0 348.2,414.0 348.0,413.0 347.9,412.0 347.7,411.0 347.5,410.0 347.3,409.0 347.2,408.0 347.0,407.0 346.8,406.0 346.6,405.0 346.4,404.0 346.2,403.0 346.0,402.0 345.8,401.0 345.5,400.0 345.3,399.0 345.1,398.0 344.8,397.0 344.6,396.0 344.4,395.0 344.1,394.0 343.8,393.0 343.6,392.0 343.3,391.0 343.0,390.0 342.7,389.0 342.5,388.0 342.2,387.0 341.8,386.0 341.5,385.0 341.2,384.0 340.9,383.0 340.6,382.0 340.2,381.0 339.9,380.0 339.5,379.0 339.1,378.0 338.8,377.0 338.5,376.0 338.2,375.0 337.9,374.0 337.5,373.0 337.2,372.0 336.8,371.0 336.4,370.0 336.0,369.0 335.7,368.0 335.3,367.0 334.9,366.0 334.4,365.0 334.0,364.0 333.6,363.0 333.1,362.0 332.7,361.0 332.2,360.0 331.8,359.0 331.3,358.0 330.8,357.0 330.3,356.0 329.7,355.0 329.1,354.0 328.5,353.0 327.9,352.0 327.3,351.0 326.7,350.0 326.1,349.0 325.5,348.0 324.8,347.0 324.2,346.0 323.6,345.0 322.9,344.0 322.3,343.0 321.6,342.0 320.9,341.0 320.3,340.0 319.6,339.0 318.9,338.0 318.3,337.0 317.6,336.0 316.9,335.0 316.3,334.0 315.6,333.0 314.9,332.0 314.2,331.0 313.6,330.0 312.9,329.0 312.2,328.0 311.6,327.0 310.9,326.0 310.2,325.0 309.6,324.0 308.9,323.0 308.3,322.0 307.7,321.0 307.0,320.0 306.4,319.0 305.8,318.0 305.2,317.0 304.5,316.0 304.0,315.0 303.4,314.0 302.8,313.0 302.2,312.0 301.2,311.0 300.2,310.0 299.2,309.0 298.1,308.0 297.6,307.0 297.1,306.0 296.5,305.0 296.0,304.0 295.5,303.0 295.0,302.0 294.5,301.0 294.1,300.0 293.6,299.0 293.1,298.0 292.7,297.0 292.2,296.0 291.8,295.0 291.4,294.0 290.9,293.0 290.5,292.0 290.1,291.0 289.7,290.0 289.4,289.0 289.0,288.0 288.6,287.0 288.2,286.0 287.9,285.0 287.5,284.0 287.2,283.0 286.9,282.0 286.5,281.0 286.2,280.0 285.9,279.0 285.6,278.0 285.3,277.0 285.0,276.0 284.7,275.0 284.5,274.0 284.2,273.0 283.9,272.0 283.7,271.0 283.4,270.0 283.2,269.0 282.9,268.0 282.7,267.0 282.4,266.0 282.2,265.0 282.0,264.0 281.8,263.0 281.6,262.0 281.4,261.0 281.2,260.0 281.0,259.0 280.8,258.0 280.6,257.0 280.4,256.0 280.2,255.0 280.0,254.0 279.9,253.0 279.7,252.0 279.5,251.0 279.4,250.0 279.2,249.0 279.1,248.0 278.9,247.0 278.8,246.0 278.7,245.0 278.5,244.0 278.4,243.0 278.3,242.0 278.1,241.0 278.0,240.0 277.9,239.0 277.8,238.0 277.7,237.0 277.5,236.0 277.4,235.0 277.3,234.0 277.2,233.0 277.1,232.0 277.0,231.0 276.9,230.0 276.8,229.0 276.7,228.0 276.6,227.0 276.5,226.0 276.4,225.0 276.3,224.0 276.3,223.0 276.2,222.0 276.1,221.0 276.0,220.0 275.9,219.0 275.8,218.0 275.8,217.0 275.7,216.0 275.6,215.0 275.5,214.0 275.5,213.0 275.4,212.0 275.3,211.0 275.3,210.0 275.2,209.0 275.1,208.0 275.1,207.0 275.0,206.0 274.8,205.0 274.7,204.0 274.5,203.0 274.5,202.0 274.4,201.0 274.3,200.0 274.3,199.0 274.2,198.0 274.2,197.0 274.1,196.0 274.1,195.0 274.0,194.0 274.0,193.0 273.9,192.0 273.9,191.0 273.8,190.0 273.8,189.0 273.7,188.0 273.7,187.0 273.6,186.0 273.6,185.0 273.5,184.0 273.5,183.0 273.4,182.0 273.4,181.0 273.3,180.0 273.2,179.0 273.1,178.0 273.0,177.0 273.0,176.0 272.9,175.0 272.8,174.0 272.7,173.0 272.6,172.0 272.5,171.0 272.3,170.0 272.1,169.0 271.9,168.0"/>
<polygon points="222.4,172.0 222.4,173.0 222.4,174.0 222.4,175.0 222.4,176.0 222.4,177.0 222.4,178.0 222.4,179.0 222.4,180.0 222.4,181.0 222.4,182.0 222.4,183.0 222.4,184.0 222.5,185.0 222.5,186.0 222.5,187.0 222.6,188.0 222.6,189.0 222.6,190.0 222.7,191.0 222.7,192.0 222.8,193.0 222.8,194.0 222.9,195.0 222.9,196.0 223.0,197.0 223.0,198.0 223.0,199.0 223.1,200.0 223.1,201.0 223.2,202.0 223.3,203.0 223.2,204.0 223.2,205.0 223.2,206.0 223.2,207.0 223.3,208.0 223.3,209.0 223.4,210.0 223.4,211.0 223.5,212.0 223.6,213.0 223.6,214.0 223.7,215.0 223.8,216.0 223.8,217.0 223.9,218.0 224.0,219.0 224.0,220.0 224.1,221.0 224.2,222.0 224.3,223.0 224.3,224.0 224.4,225.0 224.5,226.0 224.6,227.0 224.7,228.0 224.8,229.0 224.8,230.0 224.9,231.0 225.0,232.0 225.1,233.0 225.2,234.0 225.3,235.0 225.4,236.0 225.5,237.0 225.6,238.0 225.7,239.0 225.9,240.0 226.0,241.0 226.1,242.0 226.2,243.0 226.3,244.0 226.4,245.0 226.5,246.0 226.7,247.0 226.8,248.0 226.9,249.0 227.1,250.0 227.2,251.0 227.4,252.0 227.5,253.0 227.7,254.0 227.8,255.0 228.0,256.0 228.1,257.0 228.3,258.0 228.5,259.0 228.6,260.0 228.8,261.0 229.0,262.0 229.2,263.0 229.4,264.0 229.6,265.0 229.8,266.0 230.0,267.0 230.2,268.0 230.4,269.0 230.6,270.0 230.8,271.0 231.1,272.0 231.3,273.0 231.5,274.0 231.8,275.0 232.0,276.0 232.3,277.0 232.6,278.0 232.8,279.0 233.1,280.0 233.4,281.0 233.7,282.0 234.0,283.0 234.3,284.0 234.6,285.0 235.0,286.0 235.3,287.0 235.6,288.0 236.0,289.0 236.3,290.0 236.7,291.0 237.1,292.0 237.4,293.0 237.8,294.0 238.2,295.0 238.6,296.0 239.0,297.0 239.5,298.0 239.9,299.0 240.3,300.0 240.8,301.0 241.3,302.0 241.7,303.0 242.2,304.0 242.7,305.0 243.2,306.0 243.7,307.0 244.2,308.0 244.8,309.0 245.3,310.0 245.9,311.0 246.4,312.0 247.0,313.0 247.5,314.0 248.1,315.0 248.7,316.0 249.3,317.0 249.9,318.0 250.5,319.0 251.1,320.0 251.8,321.0 252.4,322.0 253.0,323.0 253.7,324.0 254.3,325.0 255.0,326.0 255.6,327.0 256.3,328.0 256.9,329.0 257.6,330.0 258.3,331.0 258.9,332.0 259.6,333.0 260.3,334.0 260.9,335.0 261.6,336.0 262.3,337.0 263.0,338.0 263.6,339.0 264.3,340.0 265.0,341.0 265.6,342.0 266.3,343.0 266.9,344.0 267.6,345.0 268.2,346.0 268.9,347.0 269.5,348.0 270.2,349.0 270.8,350.0 271.4,351.0 272.0,352.0 272.6,353.0 273.2,354.0 273.8,355.0 274.4,356.0 275.0,357.0 275.5,358.0 276.1,359.0 276.7,360.0 277.2,361.0 277.7,362.0 278.3,363.0 278.8,364.0 279.3,365.0 279.8,366.0 280.3,367.0 280.8,368.0 281.3,369.0 281.7,370.0 282.2,371.0 282.6,372.0 283.1,373.0 283.5,374.0 283.9,375.0 284.3,376.0 284.7,377.0 285.1,378.0 285.5,379.0 285.9,380.0 286.3,381.0 286.6,382.0 287.0,383.0 287.4,384.0 287.7,385.0 288.0,386.0 288.4,387.0 288.7,388.0 289.0,389.0 289.3,390.0 289.6,391.0 289.9,392.0 290.2,393.0 290.4,394.0 290.7,395.0 291.0,396.0 291.2,397.0 291.5,398.0 291.7,399.0 292.0,400.0 292.2,401.0 292.5,402.0 292.7,403.0 292.9,404.0 293.1,405.0 293.4,406.0 293.6,407.0 293.8,408.0 294.0,409.0 294.2,410.0 294.4,411.0 294.6,412.0 294.8,413.0 294.9,414.0 295.1,415.0 295.3,416.0 295.5,417.0 295.6,418.0 295.8,419.0 296.0,420.0 296.1,421.0 296.3,422.0 296.4,423.0 296.6,424.0 296.7,425.0 296.9,426.0 297.0,427.0 297.2,428.0 297.3,429.0 297.4,430.0 297.6,431.0 297.7,432.0 297.8,433.0 297.9,434.0 298.1,435.0 298.2,436.0 298.3,437.0 298.4,438.0 298.5,439.0 298.6,440.0 298.7,441.0 298.8,442.0 298.9,443.0 299.1,444.0 299.2,445.0 299.3,446.0 299.3,447.0 299.4,448.0 299.5,449.0 299.6,450.0 299.7,451.0 299.8,452.0 299.9,453.0 300.0,454.0 300.1,455.0 300.2,456.0 300.2,457.0 300.3,458.0 300.4,459.0 300.5,460.0 300.6,461.0 300.7,462.0 300.8,463.0 300.8,464.0 300.9,465.0 301.0,466.0 301.1,467.0 301.2,468.0 301.3,469.0 301.4,470.0 301.5,471.0 301.6,472.0 301.6,473.0 301.7,474.0 301.8,475.0 301.9,476.0 302.0,477.0 302.1,478.0 302.2,479.0 302.3,480.0 302.4,481.0 302.4,481.0 302.4,480.0 302.4,479.0 302.4,478.0 302.4,477.0 302.4,476.0 302.4,475.0 302.4,474.0 302.4,473.0 302.4,472.0 302.4,471.0 302.4,470.0 302.4,469.0 302.3,468.0 302.3,467.0 302.3,466.0 302.3,465.0 302.2,464.0 302.2,463.0 302.2,462.0 302.1,461.0 302.1,460.0 302.1,459.0 302.0,458.0 301.9,457.0 301.9,456.0 301.8,455.0 301.8,454.0 301.7,453.0 301.7,452.0 301.6,451.0 301.5,450.0 301.5,449.0 301.4,448.0 301.3,447.0 301.3,446.0 301.2,445.0 301.1,444.0 301.0,443.0 301.0,442.0 300.9,441.0 300.8,440.0 300.7,439.0 300.6,438.0 300.5,437.0 300.5,436.0 300.4,435.0 300.3,434.0 300.2,433.0 300.1,432.0 300.0,431.0 299.9,430.0 299.8,429.0 299.6,428.0 299.5,427.0 299.4,426.0 299.3,425.0 299.2,424.0 299.1,423.0 298.9,422.0 298.8,421.0 298.7,420.0 298.5,419.0 298.4,418.0 298.3,417.0 298.1,416.0 298.0,415.0 297.8,414.0 297.7,413.0 297.5,412.0 297.3,411.0 297.2,410.0 297.0,409.0 296.8,408.0 296.6,407.0 296.4,406.0 296.2,405.0 296.1,404.0 295.9,403.0 295.6,402.0 295.4,401.0 295.2,400.0 295.0,399.0 294.7,398.0 294.5,397.0 294.3,396.0 294.0,395.0 293.7,394.0 293.5,393.0 293.2,392.0 292.9,391.0 292.6,390.0 292.4,389.0 292.1,388.0 291.8,387.0 291.4,386.0 291.1,385.0 290.8,384.0 290.5,383.0 290.1,382.0 289.8,381.0 289.4,380.0 289.0,379.0 288.7,378.0 288.3,377.0 287.9,376.0 287.5,375.0 287.1,374.0 286.7,373.0 286.3,372.0 285.8,371.0 285.4,370.0 284.9,369.0 284.5,368.0 284.0,367.0 283.5,366.0 283.0,365.0 282.5,364.0 282.0,363.0 281.5,362.0 281.0,361.0 280.5,360.0 279.9,359.0 279.4,358.0 278.8,357.0 278.2,356.0 277.7,355.0 277.1,354.0 276.5,353.0 275.9,352.0 275.3,351.0 274.7,350.0 274.0,349.0 273.4,348.0 272.8,347.0 272.1,346.0 271.5,345.0 270.8,344.0 270.2,343.0 269.5,342.0 268.9,341.0 268.2,340.0 267.5,339.0 266.9,338.0 266.2,337.0 265.5,336.0 264.8,335.0 264.2,334.0 263.5,333.0 262.8,332.0 262.2,331.0 261.5,330.0 260.8,329.0 260.1,328.0 259.5,327.0 258.8,326.0 258.2,325.0 257.5,324.0 256.9,323.0 256.2,322.0 255.6,321.0 255.0,320.0 254.3,319.0 253.7,318.0 253.1,317.0 252.5,316.0 251.9,315.0 251.3,314.0 250.7,313.0 250.2,312.0 249.6,311.0 249.0,310.0 248.5,309.0 247.9,308.0 247.4,307.0 246.9,306.0 246.4,305.0 245.9,304.0 245.4,303.0 244.9,302.0 244.4,301.0 243.9,300.0 243.5,299.0 243.0,298.0 242.6,297.0 242.1,296.0 241.7,295.0 241.3,294.0 240.8,293.0 240.4,292.0 240.0,291.0 239.6,290.0 239.3,289.0 238.9,288.0 238.5,287.0 238.2,286.0 237.8,285.0 237.5,284.0 237.1,283.0 236.8,282.0 236.5,281.0 236.2,280.0 235.9,279.0 235.6,278.0 235.3,277.0 235.0,276.0 234.7,275.0 234.4,274.0 234.2,273.0 233.9,272.0 233.6,271.0 233.4,270.0 233.1,269.0 232.9,268.0 232.7,267.0 232.4,266.0 232.2,265.0 232.0,264.0 231.8,263.0 231.6,262.0 231.4,261.0 231.2,260.0 231.0,259.0 230.8,258.0 230.6,257.0 230.4,256.0 230.2,255.0 230.0,254.0 229.9,253.0 229.7,252.0 229.5,251.0 229.4,250.0 229.2,249.0 229.1,248.0 228.9,247.0 228.7,246.0 228.6,245.0 228.5,244.0 228.3,243.0 228.2,242.0 228.0,241.0 227.9,240.0 227.8,239.0 227.7,238.0 227.5,237.0 227.4,236.0 227.3,235.0 227.2,234.0 227.1,233.0 227.0,232.0 226.9,231.0 226.8,230.0 226.7,229.0 226.6,228.0 226.5,227.0 226.4,226.0 226.3,225.0 226.2,224.0 226.1,223.0 226.0,222.0 225.9,221.0 225.8,220.0 225.8,219.0 225.7,218.0 225.6,217.0 225.5,216.0 225.4,215.0 225.4,214.0 225.3,213.0 225.2,212.0 225.1,211.0 225.1,210.0 225.0,209.0 224.9,208.0 224.8,207.0 224.7,206.0 224.6,205.0 224.5,204.0 224.3,203.0 224.3,202.0 224.2,201.0 224.2,200.0 224.1,199.0 224.0,198.0 224.0,197.0 223.9,196.0 223.9,195.0 223.8,194.0 223.8,193.0 223.7,192.0 223.7,191.0 223.6,190.0 223.6,189.0 223.5,188.0 223.5,187.0 223.4,186.0 223.4,185.0 223.3,184.0 223.3,183.0 223.2,182.0 223.2,181.0 223.1,180.0 223.0,179.0 222.9,178.0 222.8,177.0 222.8,176.0 222.7,175.0 222.6,174.0 222.5,173.0 222.4,172.0"/>
<polygon points="445.6,172.0 445.6,173.0 445.6,174.0 445.6,175.0 445.6,176.0 445.6,177.0 445.6,178.0 445.6,179.0 445.6,180.0 445.6,181.0 445.6,182.0 445.6,183.0 445.6,184.0 445.7,185.0 445.7,186.0 445.7,187.0 445.8,188.0 445.8,189.0 445.8,190.0 445.9,191.0 445.9,192.0 446.0,193.0 446.0,194.0 446.1,195.0 446.1,196.0 446.2,197.0 446.2,198.0 446.2,199.0 446.3,200.0 446.3,201.0 446.4,202.0 446.5,203.0 446.4,204.0 446.4,205.0 446.4,206.0 446.4,207.0 446.5,208.0 446.5,209.0 446.6,210.0 446.6,211.0 446.7,212.0 446.8,213.0 446.8,214.0 446.9,215.0 447.0,216.0 447.0,217.0 447.1,218.0 447.2,219.0 447.2,220.0 447.3,221.0 447.4,222.0 447.5,223.0 447.5,224.0 447.6,225.0 447.7,226.0 447.8,227.0 447.9,228.0 448.0,229.0 448.0,230.0 448.1,231.0 448.2,232.0 448.3,233.0 448.4,234.0 448.5,235.0 448.6,236.0 448.7,237.0 448.8,238.0 448.9,239.0 449.1,240.0 449.2,241.0 449.3,242.0 449.4,243.0 449.5,244.0 449.6,245.0 449.7,246.0 449.9,247.0 450.0,248.0 450.1,249.0 450.3,250.0 450.4,251.0 450.6,252.0 450.7,253.0 450.9,254.0 451.0,255.0 451.2,256.0 451.3,257.0 451.5,258.0 451.7,259.0 451.8,260.0 452.0,261.0 452.2,262.0 452.4,263.0 452.6,264.0 452.8,265.0 453.0,266.0 453.2,267.0 453.4,268.0 453.6,269.0 453.8,270.0 454.0,271.0 454.3,272.0 454.5,273.0 454.7,274.0 455.0,275.0 455.2,276.0 455.5,277.0 455.8,278.0 456.0,279.0 456.3,280.0 456.6,281.0 456.9,282.0 457.2,283.0 457.5,284.0 457.8,285.0 458.2,286.0 458.5,287.0 458.8,288.0 459.2,289.0 459.5,290.0 459.9,291.0 460.3,292.0 460.6,293.0 461.0,294.0 461.4,295.0 461.8,296.0 462.2,297.0 462.7,298.0 463.1,299.0 463.5,300.0 464.0,301.0 464.5,302.0 464.9,303.0 465.4,304.0 465.9,305.0 466.4,306.0 466.9,307.0 467.4,308.0 468.0,309.0 468.5,310.0 469.1,311.0 469.6,312.0 470.2,313.0 470.7,314.0 471.3,315.0 471.9,316.0 472.5,317.0 473.1,318.0 473.7,319.0 474.3,320.0 475.0,321.0 475.6,322.0 476.2,323.0 476.9,324.0 477.5,325.0 478.2,326.0 478.8,327.0 479.5,328.0 480.1,329.0 480.8,330.0 481.5,331.0 482.1,332.0 482.8,333.0 483.5,334.0 484.1,335.0 484.8,336.0 485.5,337.0 486.2,338.0 486.8,339.0 487.5,340.0 488.2,341.0 488.8,342.0 489.5,343.0 490.1,344.0 490.8,345.0 491.4,346.0 492.1,347.0 492.7,348.0 493.4,349.0 494.0,350.0 494.6,351.0 495.2,352.0 495.8,353.0 496.4,354.0 497.0,355.0 497.6,356.0 498.2,357.0 498.7,358.0 499.3,359.0 499.9,360.0 500.4,361.0 500.9,362.0 501.5,363.0 502.0,364.0 502.5,365.0 503.0,366.0 503.5,367.0 504.0,368.0 504.4,369.0 504.9,370.0 505.4,371.0 505.8,372.0 506.2,373.0 506.7,374.0 507.1,375.0 507.5,376.0 507.9,377.0 508.3,378.0 508.7,379.0 509.1,380.0 509.4,381.0 509.8,382.0 510.1,383.0 510.5,384.0 510.8,385.0 511.2,386.0 511.5,387.0 511.8,388.0 512.1,389.0 512.4,390.0 512.7,391.0 513.0,392.0 513.3,393.0 513.5,394.0 513.8,395.0 514.1,396.0 514.3,397.0 514.6,398.0 514.8,399.0 515.1,400.0 515.3,401.0 515.5,402.0 515.8,403.0 516.0,404.0 516.2,405.0 516.5,406.0 516.7,407.0 516.9,408.0 517.1,409.0 517.3,410.0 517.5,411.0 517.7,412.0 517.9,413.0 518.0,414.0 518.2,415.0 518.4,416.0 518.6,417.0 518.7,418.0 518.9,419.0 519.1,420.0 519.2,421.0 519.4,422.0 519.5,423.0 519.7,424.0 519.8,425.0 520.0,426.0 520.1,427.0 520.2,428.0 520.4,429.0 520.5,430.0 520.6,431.0 520.8,432.0 520.9,433.0 521.0,434.0 521.1,435.0 521.3,436.0 521.4,437.0 521.5,438.0 521.6,439.0 521.7,440.0 521.8,441.0 521.9,442.0 522.0,443.0 522.1,444.0 522.2,445.0 522.3,446.0 522.4,447.0 522.5,448.0 522.6,449.0 522.7,450.0 522.8,451.0 522.9,452.0 523.0,453.0 523.1,454.0 523.1,455.0 523.2,456.0 523.3,457.0 523.4,458.0 523.5,459.0 523.5,460.0 523.6,461.0 523.8,462.0 523.9,463.0 524.0,464.0 524.1,465.0 524.1,466.0 524.2,467.0 524.3,468.0 524.4,469.0 524.5,470.0 524.6,471.0 524.7,472.0 524.8,473.0 524.9,474.0 525.0,475.0 525.1,476.0 525.2,477.0 525.3,478.0 525.4,479.0 525.5,480.0 525.6,481.0 525.6,481.0 525.6,480.0 525.6,479.0 525.6,478.0 525.7,477.0 525.7,476.0 525.7,475.0 525.7,474.0 525.7,473.0 525.7,472.0 525.7,471.0 525.6,470.0 525.6,469.0 525.6,468.0 525.6,467.0 525.6,466.0 525.5,465.0 525.5,464.0 525.5,463.0 525.5,462.0 525.5,461.0 525.4,460.0 525.4,459.0 525.3,458.0 525.3,457.0 525.2,456.0 525.2,455.0 525.1,454.0 525.0,453.0 525.0,452.0 524.9,451.0 524.9,450.0 524.8,449.0 524.7,448.0 524.7,447.0 524.6,446.0 524.5,445.0 524.4,444.0 524.4,443.0 524.3,442.0 524.2,441.0 524.1,440.0 524.0,439.0 524.0,438.0 523.9,437.0 523.8,436.0 523.7,435.0 523.6,434.0 523.5,433.0 523.4,432.0 523.3,431.0 523.2,430.0 523.1,429.0 523.0,428.0 522.9,427.0 522.7,426.0 522.6,425.0 522.5,424.0 522.4,423.0 522.3,422.0 522.1,421.0 522.0,420.0 521.9,419.0 521.7,418.0 521.6,417.0 521.4,416.0 521.3,415.0 521.1,414.0 521.0,413.0 520.8,412.0 520.6,411.0 520.5,410.0 520.3,409.0 520.1,408.0 519.9,407.0 519.7,406.0 519.6,405.0 519.4,404.0 519.2,403.0 519.0,402.0 518.7,401.0 518.5,400.0 518.3,399.0 518.1,398.0 517.8,397.0 517.6,396.0 517.3,395.0 517.0,394.0 516.8,393.0 516.5,392.0 516.2,391.0 515.9,390.0 515.6,389.0 515.3,388.0 515.0,387.0 514.7,386.0 514.4,385.0 514.1,384.0 513.7,383.0 513.4,382.0 513.0,381.0 512.7,380.0 512.3,379.0 511.9,378.0 511.5,377.0 511.1,376.0 510.7,375.0 510.3,374.0 509.9,373.0 509.5,372.0 509.1,371.0 508.6,370.0 508.2,369.0 507.7,368.0 507.2,367.0 506.7,366.0 506.2,365.0 505.7,364.0 505.2,363.0 504.7,362.0 504.2,361.0 503.7,360.0 503.1,359.0 502.6,358.0 502.0,357.0 501.4,356.0 500.9,355.0 500.3,354.0 499.7,353.0 499.1,352.0 498.5,351.0 497.9,350.0 497.2,349.0 496.6,348.0 496.0,347.0 495.3,346.0 494.7,345.0 494.0,344.0 493.4,343.0 492.7,342.0 492.1,341.0 491.4,340.0 490.7,339.0 490.1,338.0 489.4,337.0 488.7,336.0 488.0,335.0 487.4,334.0 486.7,333.0 486.0,332.0 485.4,331.0 484.7,330.0 484.0,329.0 483.3,328.0 482.7,327.0 482.0,326.0 481.4,325.0 480.7,324.0 480.1,323.0 479.4,322.0 478.8,321.0 478.2,320.0 477.5,319.0 476.9,318.0 476.3,317.0 475.7,316.0 475.1,315.0 474.5,314.0 473.9,313.0 473.4,312.0 472.8,311.0 472.2,310.0 471.7,309.0 471.1,308.0 470.6,307.0 470.1,306.0 469.6,305.0 469.1,304.0 468.6,303.0 468.1,302.0 467.6,301.0 467.1,300.0 466.7,299.0 466.2,298.0 465.8,297.0 465.3,296.0 464.9,295.0 464.5,294.0 464.0,293.0 463.6,292.0 463.2,291.0 462.8,290.0 462.5,289.0 462.1,288.0 461.7,287.0 461.4,286.0 461.0,285.0 460.7,284.0 460.3,283.0 460.0,282.0 459.7,281.0 459.4,280.0 459.1,279.0 458.8,278.0 458.5,277.0 458.2,276.0 457.9,275.0 457.6,274.0 457.4,273.0 457.1,272.0 456.8,271.0 456.6,270.0 456.3,269.0 456.1,268.0 455.9,267.0 455.6,266.0 455.4,265.0 455.2,264.0 455.0,263.0 454.8,262.0 454.6,261.0 454.4,260.0 454.2,259.0 454.0,258.0 453.8,257.0 453.6,256.0 453.4,255.0 453.2,254.0 453.1,253.0 452.9,252.0 452.7,251.0 452.6,250.0 452.4,249.0 452.3,248.0 452.1,247.0 451.9,246.0 451.8,245.0 451.7,244.0 451.5,243.0 451.4,242.0 451.2,241.0 451.1,240.0 451.0,239.0 450.9,238.0 450.7,237.0 450.6,236.0 450.5,235.0 450.4,234.0 450.3,233.0 450.2,232.0 450.1,231.0 450.0,230.0 449.9,229.0 449.8,228.0 449.7,227.0 449.6,226.0 449.5,225.0 449.4,224.0 449.3,223.0 449.2,222.0 449.1,221.0 449.0,220.0 449.0,219.0 448.9,218.0 448.8,217.0 448.7,216.0 448.6,215.0 448.6,214.0 448.5,213.0 448.4,212.0 448.3,211.0 448.3,210.0 448.2,209.0 448.1,208.0 448.0,207.0 447.9,206.0 447.8,205.0 447.7,204.0 447.5,203.0 447.5,202.0 447.4,201.0 447.4,200.0 447.3,199.0 447.2,198.0 447.2,197.0 447.1,196.0 447.1,195.0 447.0,194.0 447.0,193.0 446.9,192.0 446.9,191.0 446.8,190.0 446.8,189.0 446.7,188.0 446.7,187.0 446.6,186.0 446.6,185.0 446.5,184.0 446.5,183.0 446.4,182.0 446.4,181.0 446.3,180.0 446.2,179.0 446.1,178.0 446.0,177.0 446.0,176.0 445.9,175.0 445.8,174.0 445.7,173.0 445.6,172.0"/>
<polygon opacity="0.9" points="248.8,207.0 248.8,208.0 248.9,209.0 248.9,210.0 248.9,211.0 248.9,212.0 248.9,213.0 249.0,214.0 249.0,215.0 249.0,216.0 249.1,217.0 249.1,218.0 249.2,219.0 249.2,220.0 249.3,221.0 249.4,222.0 249.5,223.0 249.6,224.0 249.6,225.0 249.7,226.0 249.8,227.0 249.9,228.0 250.0,229.0 250.1,230.0 250.2,231.0 250.3,232.0 250.4,233.0 250.5,234.0 250.6,235.0 250.7,236.0 250.8,237.0 250.9,238.0 251.0,239.0 251.1,240.0 251.2,241.0 251.4,242.0 251.5,243.0 251.6,244.0 251.7,245.0 251.9,246.0 252.0,247.0 252.1,248.0 252.3,249.0 252.4,250.0 252.6,251.0 252.7,252.0 252.9,253.0 253.0,254.0 253.2,255.0 253.4,256.0 253.5,257.0 253.7,258.0 253.9,259.0 254.1,260.0 254.3,261.0 254.4,262.0 254.6,263.0 254.8,264.0 255.0,265.0 255.2,266.0 255.5,267.0 255.7,268.0 255.9,269.0 256.1,270.0 256.4,271.0 256.6,272.0 256.8,273.0 257.1,274.0 257.4,275.0 257.6,276.0 257.9,277.0 258.2,278.0 258.4,279.0 258.7,280.0 259.0,281.0 259.3,282.0 259.6,283.0 260.0,284.0 260.3,285.0 260.6,286.0 261.0,287.0 261.3,288.0 261.7,289.0 262.0,290.0 262.4,291.0 262.8,292.0 263.2,293.0 263.6,294.0 264.0,295.0 264.4,296.0 264.8,297.0 265.2,298.0 265.7,299.0 266.1,300.0 266.6,301.0 267.0,302.0 267.5,303.0 268.0,304.0 268.5,305.0 269.0,306.0 269.5,307.0 270.0,308.0 270.6,309.0 271.1,310.0 271.6,311.0 272.2,312.0 272.8,313.0 273.3,314.0 273.9,315.0 274.5,316.0 275.1,317.0 275.7,318.0 276.3,319.0 276.9,320.0 277.6,321.0 278.2,322.0 278.8,323.0 279.5,324.0 280.1,325.0 280.8,326.0 281.4,327.0 282.1,328.0 282.7,329.0 283.4,330.0 284.1,331.0 284.7,332.0 285.4,333.0 286.1,334.0 286.7,335.0 287.4,336.0 288.1,337.0 288.8,338.0 289.4,339.0 290.1,340.0 290.7,341.0 291.4,342.0 292.1,343.0 292.7,344.0 293.4,345.0 294.0,346.0 294.7,347.0 295.3,348.0 295.9,349.0 296.5,350.0 297.2,351.0 297.8,352.0 298.4,353.0 299.0,354.0 299.6,355.0 300.2,356.0 300.8,357.0 301.3,358.0 301.9,359.0 302.4,360.0 303.0,361.0 303.5,362.0 304.0,363.0 304.6,364.0 305.1,365.0 305.6,366.0 306.1,367.0 306.5,368.0 307.0,369.0 307.5,370.0 307.9,371.0 308.4,372.0 308.8,373.0 309.2,374.0 309.7,375.0 310.1,376.0 310.5,377.0 310.9,378.0 311.3,379.0 311.6,380.0 312.0,381.0 312.4,382.0 312.7,383.0 313.1,384.0 313.4,385.0 313.7,386.0 314.1,387.0 314.4,388.0 314.7,389.0 315.0,390.0 315.3,391.0 315.6,392.0 315.9,393.0 316.1,394.0 316.4,395.0 316.7,396.0 316.9,397.0 317.2,398.0 317.4,399.0 317.7,400.0 317.9,401.0 318.1,402.0 318.3,403.0 318.6,404.0 318.8,405.0 319.0,406.0 319.2,407.0 319.4,408.0 319.6,409.0 319.8,410.0 320.0,411.0 320.1,412.0 320.3,413.0 320.5,414.0 320.7,415.0 320.8,416.0 321.0,417.0 321.1,418.0 321.3,419.0 321.5,420.0 321.6,421.0 321.8,422.0 321.9,423.0 322.0,424.0 322.2,425.0 322.3,426.0 322.4,427.0 322.6,428.0 322.7,429.0 322.8,430.0 322.9,431.0 323.1,432.0 323.2,433.0 323.3,434.0 323.4,435.0 323.5,436.0 323.6,437.0 323.7,438.0 323.8,439.0 323.9,440.0 324.0,441.0 324.1,442.0 324.2,443.0 324.3,444.0 324.4,445.0 324.5,446.0 324.6,447.0 324.7,448.0 324.7,449.0 324.8,450.0 324.9,451.0 325.0,452.0 325.1,453.0 325.1,454.0 325.2,455.0 325.3,456.0 325.4,457.0 325.4,458.0 325.5,459.0 325.6,460.0 325.6,461.0 325.7,462.0 325.8,463.0 325.8,464.0 325.9,465.0 326.0,466.0 326.1,467.0 326.2,468.0 326.3,469.0 326.4,470.0 326.5,471.0 326.6,472.0 326.7,473.0 326.8,474.0 326.9,475.0 326.9,475.0 326.9,474.0 326.9,473.0 326.9,472.0 326.9,471.0 326.9,470.0 326.9,469.0 326.9,468.0 326.9,467.0 326.9,466.0 326.9,465.0 326.8,464.0 326.8,463.0 326.7,462.0 326.7,461.0 326.6,460.0 326.5,459.0 326.5,458.0 326.4,457.0 326.3,456.0 326.3,455.0 326.2,454.0 326.1,453.0 326.1,452.0 326.0,451.0 325.9,450.0 325.9,449.0 325.8,448.0 325.7,447.0 325.6,446.0 325.5,445.0 325.5,444.0 325.4,443.0 325.3,442.0 325.2,441.0 325.1,440.0 325.0,439.0 324.9,438.0 324.8,437.0 324.7,436.0 324.6,435.0 324.5,434.0 324.4,433.0 324.3,432.0 324.2,431.0 324.1,430.0 324.0,429.0 323.8,428.0 323.7,427.0 323.6,426.0 323.5,425.0 323.3,424.0 323.2,423.0 323.1,422.0 322.9,421.0 322.8,420.0 322.7,419.0 322.5,418.0 322.4,417.0 322.2,416.0 322.0,415.0 321.9,414.0 321.7,413.0 321.5,412.0 321.4,411.0 321.2,410.0 321.0,409.0 320.8,408.0 320.6,407.0 320.4,406.0 320.2,405.0 320.0,404.0 319.8,403.0 319.6,402.0 319.4,401.0 319.1,400.0 318.9,399.0 318.7,398.0 318.4,397.0 318.2,396.0 317.9,395.0 317.7,394.0 317.4,393.0 317.1,392.0 316.8,391.0 316.5,390.0 316.3,389.0 316.0,388.0 315.6,387.0 315.3,386.0 315.0,385.0 314.7,384.0 314.3,383.0 314.0,382.0 313.6,381.0 313.3,380.0 312.9,379.0 312.5,378.0 312.2,377.0 311.8,376.0 311.4,375.0 311.0,374.0 310.5,373.0 310.1,372.0 309.7,371.0 309.2,370.0 308.8,369.0 308.3,368.0 307.8,367.0 307.4,366.0 306.9,365.0 306.4,364.0 305.9,363.0 305.3,362.0 304.8,361.0 304.3,360.0 303.7,359.0 303.2,358.0 302.6,357.0 302.1,356.0 301.5,355.0 300.9,354.0 300.3,353.0 299.7,352.0 299.1,351.0 298.5,350.0 297.9,349.0 297.2,348.0 296.6,347.0 296.0,346.0 295.3,345.0 294.7,344.0 294.0,343.0 293.3,342.0 292.7,341.0 292.0,340.0 291.3,339.0 290.7,338.0 290.0,337.0 289.3,336.0 288.7,335.0 288.0,334.0 287.3,333.0 286.6,332.0 286.0,331.0 285.3,330.0 284.6,329.0 283.9,328.0 283.3,327.0 282.6,326.0 282.0,325.0 281.3,324.0 280.7,323.0 280.0,322.0 279.4,321.0 278.8,320.0 278.1,319.0 277.5,318.0 276.9,317.0 276.3,316.0 275.7,315.0 275.1,314.0 274.5,313.0 274.0,312.0 273.4,311.0 272.8,310.0 272.3,309.0 271.8,308.0 271.2,307.0 270.7,306.0 270.2,305.0 269.7,304.0 269.2,303.0 268.7,302.0 268.2,301.0 267.8,300.0 267.3,299.0 266.9,298.0 266.4,297.0 266.0,296.0 265.6,295.0 265.1,294.0 264.7,293.0 264.3,292.0 263.9,291.0 263.6,290.0 263.2,289.0 262.8,288.0 262.5,287.0 262.1,286.0 261.8,285.0 261.4,284.0 261.1,283.0 260.8,282.0 260.5,281.0 260.2,280.0 259.9,279.0 259.6,278.0 259.3,277.0 259.0,276.0 258.7,275.0 258.5,274.0 258.2,273.0 258.0,272.0 257.7,271.0 257.5,270.0 257.2,269.0 257.0,268.0 256.8,267.0 256.5,266.0 256.3,265.0 256.1,264.0 255.9,263.0 255.7,262.0 255.5,261.0 255.3,260.0 255.1,259.0 254.9,258.0 254.8,257.0 254.6,256.0 254.4,255.0 254.2,254.0 254.1,253.0 253.9,252.0 253.8,251.0 253.6,250.0 253.5,249.0 253.3,248.0 253.2,247.0 253.0,246.0 252.9,245.0 252.8,244.0 252.6,243.0 252.5,242.0 252.4,241.0 252.2,240.0 252.1,239.0 252.0,238.0 251.9,237.0 251.8,236.0 251.7,235.0 251.6,234.0 251.4,233.0 251.3,232.0 251.2,231.0 251.1,230.0 251.0,229.0 250.9,228.0 250.8,227.0 250.8,226.0 250.7,225.0 250.6,224.0 250.5,223.0 250.4,222.0 250.3,221.0 250.2,220.0 250.2,219.0 250.1,218.0 250.0,217.0 249.8,216.0 249.7,215.0 249.6,214.0 249.5,213.0 249.4,212.0 249.3,211.0 249.2,210.0 249.1,209.0 248.9,208.0 248.8,207.0"/>
<polygon opacity="0.9" points="422.4,207.0 422.4,208.0 422.5,209.0 422.5,210.0 422.5,211.0 422.5,212.0 422.5,213.0 422.6,214.0 422.6,215.0 422.6,216.0 422.7,217.0 422.7,218.0 422.8,219.0 422.8,220.0 422.9,221.0 423.0,222.0 423.1,223.0 423.1,224.0 423.2,225.0 423.3,226.0 423.4,227.0 423.5,228.0 423.6,229.0 423.6,230.0 423.7,231.0 423.8,232.0 423.9,233.0 424.0,234.0 424.1,235.0 424.2,236.0 424.3,237.0 424.4,238.0 424.5,239.0 424.7,240.0 424.8,241.0 424.9,242.0 425.0,243.0 425.1,244.0 425.2,245.0 425.4,246.0 425.5,247.0 425.6,248.0 425.8,249.0 425.9,250.0 426.1,251.0 426.2,252.0 426.4,253.0 426.5,254.0 426.7,255.0 426.8,256.0 427.0,257.0 427.2,258.0 427.3,259.0 427.5,260.0 427.7,261.0 427.9,262.0 428.1,263.0 428.3,264.0 428.5,265.0 428.7,266.0 428.9,267.0 429.1,268.0 429.3,269.0 429.6,270.0 429.8,271.0 430.0,272.0 430.3,273.0 430.5,274.0 430.8,275.0 431.1,276.0 431.3,277.0 431.6,278.0 431.9,279.0 432.2,280.0 432.5,281.0 432.8,282.0 433.1,283.0 433.4,284.0 433.7,285.0 434.1,286.0 434.4,287.0 434.7,288.0 435.1,289.0 435.5,290.0 435.8,291.0 436.2,292.0 436.6,293.0 437.0,294.0 437.4,295.0 437.8,296.0 438.2,297.0 438.7,298.0 439.1,299.0 439.5,300.0 440.0,301.0 440.5,302.0 440.9,303.0 441.4,304.0 441.9,305.0 442.4,306.0 442.9,307.0 443.5,308.0 444.0,309.0 444.5,310.0 445.1,311.0 445.6,312.0 446.2,313.0 446.8,314.0 447.3,315.0 447.9,316.0 448.5,317.0 449.1,318.0 449.7,319.0 450.3,320.0 451.0,321.0 451.6,322.0 452.2,323.0 452.9,324.0 453.5,325.0 454.2,326.0 454.8,327.0 455.5,328.0 456.1,329.0 456.8,330.0 457.5,331.0 458.1,332.0 458.8,333.0 459.5,334.0 460.1,335.0 460.8,336.0 461.5,337.0 462.2,338.0 462.8,339.0 463.5,340.0 464.2,341.0 464.8,342.0 465.5,343.0 466.1,344.0 466.8,345.0 467.4,346.0 468.1,347.0 468.7,348.0 469.3,349.0 470.0,350.0 470.6,351.0 471.2,352.0 471.8,353.0 472.4,354.0 473.0,355.0 473.6,356.0 474.2,357.0 474.7,358.0 475.3,359.0 475.8,360.0 476.4,361.0 476.9,362.0 477.5,363.0 478.0,364.0 478.5,365.0 479.0,366.0 479.5,367.0 480.0,368.0 480.4,369.0 480.9,370.0 481.4,371.0 481.8,372.0 482.2,373.0 482.7,374.0 483.1,375.0 483.5,376.0 483.9,377.0 484.3,378.0 484.7,379.0 485.1,380.0 485.4,381.0 485.8,382.0 486.2,383.0 486.5,384.0 486.8,385.0 487.2,386.0 487.5,387.0 487.8,388.0 488.1,389.0 488.4,390.0 488.7,391.0 489.0,392.0 489.3,393.0 489.6,394.0 489.8,395.0 490.1,396.0 490.4,397.0 490.6,398.0 490.9,399.0 491.1,400.0 491.3,401.0 491.6,402.0 491.8,403.0 492.0,404.0 492.2,405.0 492.4,406.0 492.6,407.0 492.8,408.0 493.0,409.0 493.2,410.0 493.4,411.0 493.6,412.0 493.8,413.0 493.9,414.0 494.1,415.0 494.3,416.0 494.4,417.0 494.6,418.0 494.8,419.0 494.9,420.0 495.1,421.0 495.2,422.0 495.4,423.0 495.5,424.0 495.6,425.0 495.8,426.0 495.9,427.0 496.0,428.0 496.2,429.0 496.3,430.0 496.4,431.0 496.5,432.0 496.6,433.0 496.7,434.0 496.9,435.0 497.0,436.0 497.1,437.0 497.2,438.0 497.3,439.0 497.4,440.0 497.5,441.0 497.6,442.0 497.7,443.0 497.8,444.0 497.9,445.0 497.9,446.0 498.0,447.0 498.1,448.0 498.2,449.0 498.3,450.0 498.4,451.0 498.5,452.0 498.5,453.0 498.6,454.0 498.7,455.0 498.8,456.0 498.8,457.0 498.9,458.0 499.0,459.0 499.0,460.0 499.1,461.0 499.2,462.0 499.2,463.0 499.3,464.0 499.4,465.0 499.5,466.0 499.6,467.0 499.7,468.0 499.8,469.0 499.9,470.0 500.0,471.0 500.2,472.0 500.3,473.0 500.4,474.0 500.5,475.0 500.5,475.0 500.6,474.0 500.6,473.0 500.6,472.0 500.6,471.0 500.6,470.0 500.7,469.0 500.7,468.0 500.6,467.0 500.6,466.0 500.6,465.0 500.6,464.0 500.5,463.0 500.5,462.0 500.4,461.0 500.3,460.0 500.3,459.0 500.2,458.0 500.2,457.0 500.1,456.0 500.0,455.0 500.0,454.0 499.9,453.0 499.8,452.0 499.7,451.0 499.7,450.0 499.6,449.0 499.5,448.0 499.4,447.0 499.4,446.0 499.3,445.0 499.2,444.0 499.1,443.0 499.0,442.0 498.9,441.0 498.8,440.0 498.8,439.0 498.7,438.0 498.6,437.0 498.5,436.0 498.4,435.0 498.3,434.0 498.2,433.0 498.0,432.0 497.9,431.0 497.8,430.0 497.7,429.0 497.6,428.0 497.5,427.0 497.3,426.0 497.2,425.0 497.1,424.0 497.0,423.0 496.8,422.0 496.7,421.0 496.5,420.0 496.4,419.0 496.3,418.0 496.1,417.0 495.9,416.0 495.8,415.0 495.6,414.0 495.5,413.0 495.3,412.0 495.1,411.0 494.9,410.0 494.7,409.0 494.6,408.0 494.4,407.0 494.2,406.0 494.0,405.0 493.8,404.0 493.6,403.0 493.3,402.0 493.1,401.0 492.9,400.0 492.7,399.0 492.4,398.0 492.2,397.0 491.9,396.0 491.7,395.0 491.4,394.0 491.1,393.0 490.9,392.0 490.6,391.0 490.3,390.0 490.0,389.0 489.7,388.0 489.4,387.0 489.1,386.0 488.8,385.0 488.4,384.0 488.1,383.0 487.8,382.0 487.4,381.0 487.1,380.0 486.7,379.0 486.3,378.0 485.9,377.0 485.5,376.0 485.1,375.0 484.7,374.0 484.3,373.0 483.9,372.0 483.5,371.0 483.0,370.0 482.6,369.0 482.1,368.0 481.6,367.0 481.1,366.0 480.7,365.0 480.2,364.0 479.6,363.0 479.1,362.0 478.6,361.0 478.1,360.0 477.5,359.0 477.0,358.0 476.4,357.0 475.9,356.0 475.3,355.0 474.7,354.0 474.1,353.0 473.5,352.0 472.9,351.0 472.3,350.0 471.7,349.0 471.0,348.0 470.4,347.0 469.8,346.0 469.1,345.0 468.5,344.0 467.8,343.0 467.1,342.0 466.5,341.0 465.8,340.0 465.1,339.0 464.5,338.0 463.8,337.0 463.1,336.0 462.4,335.0 461.8,334.0 461.1,333.0 460.4,332.0 459.7,331.0 459.1,330.0 458.4,329.0 457.7,328.0 457.1,327.0 456.4,326.0 455.8,325.0 455.1,324.0 454.5,323.0 453.8,322.0 453.2,321.0 452.5,320.0 451.9,319.0 451.3,318.0 450.7,317.0 450.1,316.0 449.5,315.0 448.9,314.0 448.3,313.0 447.7,312.0 447.2,311.0 446.6,310.0 446.1,309.0 445.5,308.0 445.0,307.0 444.5,306.0 444.0,305.0 443.5,304.0 443.0,303.0 442.5,302.0 442.0,301.0 441.5,300.0 441.1,299.0 440.6,298.0 440.2,297.0 439.7,296.0 439.3,295.0 438.9,294.0 438.5,293.0 438.1,292.0 437.7,291.0 437.3,290.0 436.9,289.0 436.6,288.0 436.2,287.0 435.9,286.0 435.5,285.0 435.2,284.0 434.9,283.0 434.5,282.0 434.2,281.0 433.9,280.0 433.6,279.0 433.3,278.0 433.0,277.0 432.8,276.0 432.5,275.0 432.2,274.0 432.0,273.0 431.7,272.0 431.5,271.0 431.2,270.0 431.0,269.0 430.7,268.0 430.5,267.0 430.3,266.0 430.1,265.0 429.9,264.0 429.7,263.0 429.5,262.0 429.3,261.0 429.1,260.0 428.9,259.0 428.7,258.0 428.5,257.0 428.3,256.0 428.1,255.0 428.0,254.0 427.8,253.0 427.6,252.0 427.5,251.0 427.3,250.0 427.2,249.0 427.0,248.0 426.9,247.0 426.7,246.0 426.6,245.0 426.4,244.0 426.3,243.0 426.2,242.0 426.0,241.0 425.9,240.0 425.8,239.0 425.7,238.0 425.6,237.0 425.4,236.0 425.3,235.0 425.2,234.0 425.1,233.0 425.0,232.0 424.9,231.0 424.8,230.0 424.7,229.0 424.6,228.0 424.5,227.0 424.4,226.0 424.3,225.0 424.2,224.0 424.1,223.0 424.0,222.0 423.9,221.0 423.8,220.0 423.8,219.0 423.7,218.0 423.6,217.0 423.4,216.0 423.3,215.0 423.2,214.0 423.1,213.0 423.0,212.0 422.9,211.0 422.8,210.0 422.7,209.0 422.5,208.0 422.4,207.0"/>
<polygon opacity="0.9" points="497.4,314.0 497.9,315.0 498.4,316.0 498.9,317.0 499.4,318.0 499.9,319.0 500.4,320.0 501.0,321.0 501.5,322.0 502.2,323.0 502.8,324.0 503.4,325.0 504.1,326.0 504.7,327.0 505.4,328.0 506.1,329.0 506.7,330.0 507.4,331.0 508.1,332.0 508.7,333.0 509.4,334.0 510.1,335.0 510.7,336.0 511.4,337.0 512.1,338.0 512.7,339.0 513.4,340.0 514.1,341.0 514.7,342.0 515.4,343.0 516.0,344.0 516.7,345.0 517.3,346.0 518.0,347.0 518.6,348.0 519.2,349.0 519.9,350.0 520.5,351.0 521.1,352.0 521.7,353.0 522.3,354.0 522.9,355.0 523.5,356.0 524.0,357.0 524.6,358.0 525.2,359.0 525.7,360.0 526.2,361.0 526.8,362.0 527.3,363.0 527.8,364.0 528.3,365.0 528.8,366.0 529.3,367.0 529.8,368.0 530.2,369.0 530.7,370.0 531.1,371.0 531.6,372.0 532.0,373.0 532.4,374.0 532.8,375.0 533.3,376.0 533.7,377.0 534.0,378.0 534.4,379.0 534.8,380.0 535.2,381.0 535.5,382.0 535.9,383.0 536.2,384.0 536.5,385.0 536.9,386.0 537.2,387.0 537.5,388.0 537.8,389.0 538.1,390.0 538.4,391.0 538.7,392.0 538.9,393.0 539.2,394.0 539.5,395.0 539.7,396.0 540.0,397.0 540.2,398.0 540.5,399.0 540.7,400.0 540.9,401.0 541.2,402.0 541.4,403.0 541.6,404.0 541.8,405.0 542.0,406.0 542.2,407.0 542.4,408.0 542.6,409.0 542.8,410.0 543.0,411.0 543.1,412.0 543.3,413.0 543.5,414.0 543.6,415.0 543.8,416.0 544.0,417.0 544.1,418.0 544.3,419.0 544.4,420.0 544.6,421.0 544.7,422.0 544.8,423.0 545.0,424.0 545.1,425.0 545.2,426.0 545.4,427.0 545.5,428.0 545.6,429.0 545.7,430.0 545.8,431.0 546.0,432.0 546.1,433.0 546.2,434.0 546.3,435.0 546.4,436.0 546.5,437.0 546.6,438.0 546.7,439.0 546.8,440.0 546.9,441.0 547.0,442.0 547.1,443.0 547.2,444.0 547.3,445.0 547.4,446.0 547.5,447.0 547.6,448.0 547.6,449.0 547.7,450.0 547.8,451.0 547.9,452.0 548.0,453.0 548.0,454.0 548.1,455.0 548.2,456.0 548.3,457.0 548.3,458.0 548.4,459.0 548.5,460.0 548.5,461.0 548.6,462.0 548.7,463.0 548.7,464.0 548.8,465.0 548.9,466.0 549.0,467.0 549.1,468.0 549.2,469.0 549.4,470.0 549.5,471.0 549.6,472.0 549.7,473.0 549.9,474.0 550.0,475.0 550.2,476.0 550.2,476.0 550.2,475.0 550.3,474.0 550.3,473.0 550.4,472.0 550.4,471.0 550.4,470.0 550.4,469.0 550.4,468.0 550.4,467.0 550.4,466.0 550.4,465.0 550.4,464.0 550.3,463.0 550.2,462.0 550.2,461.0 550.1,460.0 550.1,459.0 550.0,458.0 549.9,457.0 549.9,456.0 549.8,455.0 549.7,454.0 549.7,453.0 549.6,452.0 549.5,451.0 549.4,450.0 549.4,449.0 549.3,448.0 549.2,447.0 549.1,446.0 549.0,445.0 549.0,444.0 548.9,443.0 548.8,442.0 548.7,441.0 548.6,440.0 548.5,439.0 548.4,438.0 548.3,437.0 548.2,436.0 548.1,435.0 548.0,434.0 547.9,433.0 547.8,432.0 547.7,431.0 547.6,430.0 547.5,429.0 547.3,428.0 547.2,427.0 547.1,426.0 546.9,425.0 546.8,424.0 546.7,423.0 546.5,422.0 546.4,421.0 546.2,420.0 546.1,419.0 545.9,418.0 545.8,417.0 545.6,416.0 545.4,415.0 545.3,414.0 545.1,413.0 544.9,412.0 544.8,411.0 544.6,410.0 544.4,409.0 544.2,408.0 544.0,407.0 543.8,406.0 543.6,405.0 543.4,404.0 543.2,403.0 542.9,402.0 542.7,401.0 542.5,400.0 542.2,399.0 542.0,398.0 541.7,397.0 541.5,396.0 541.2,395.0 541.0,394.0 540.7,393.0 540.4,392.0 540.1,391.0 539.8,390.0 539.5,389.0 539.2,388.0 538.9,387.0 538.6,386.0 538.3,385.0 537.9,384.0 537.6,383.0 537.3,382.0 536.9,381.0 536.5,380.0 536.2,379.0 535.8,378.0 535.4,377.0 535.0,376.0 534.6,375.0 534.2,374.0 533.7,373.0 533.3,372.0 532.9,371.0 532.4,370.0 532.0,369.0 531.5,368.0 531.0,367.0 530.5,366.0 530.0,365.0 529.5,364.0 529.0,363.0 528.5,362.0 528.0,361.0 527.4,360.0 526.9,359.0 526.3,358.0 525.8,357.0 525.2,356.0 524.6,355.0 524.0,354.0 523.4,353.0 522.8,352.0 522.2,351.0 521.6,350.0 521.0,349.0 520.3,348.0 519.7,347.0 519.0,346.0 518.4,345.0 517.7,344.0 517.1,343.0 516.4,342.0 515.8,341.0 515.1,340.0 514.4,339.0 513.7,338.0 513.1,337.0 512.4,336.0 511.7,335.0 511.0,334.0 510.4,333.0 509.7,332.0 509.0,331.0 508.3,330.0 507.7,329.0 507.0,328.0 506.3,327.0 505.7,326.0 505.0,325.0 504.4,324.0 503.7,323.0 503.1,322.0 502.4,321.0 501.7,320.0 501.0,319.0 500.3,318.0 499.6,317.0 498.8,316.0 498.1,315.0 497.4,314.0"/>
<polygon opacity="0.9" points="100.6,314.0 101.1,315.0 101.6,316.0 102.1,317.0 102.6,318.0 103.1,319.0 103.6,320.0 104.2,321.0 104.7,322.0 105.4,323.0 106.0,324.0 106.6,325.0 107.3,326.0 107.9,327.0 108.6,328.0 109.3,329.0 109.9,330.0 110.6,331.0 111.3,332.0 111.9,333.0 112.6,334.0 113.3,335.0 113.9,336.0 114.6,337.0 115.3,338.0 115.9,339.0 116.6,340.0 117.3,341.0 117.9,342.0 118.6,343.0 119.2,344.0 119.9,345.0 120.5,346.0 121.2,347.0 121.8,348.0 122.4,349.0 123.1,350.0 123.7,351.0 124.3,352.0 124.9,353.0 125.5,354.0 126.1,355.0 126.7,356.0 127.2,357.0 127.8,358.0 128.4,359.0 128.9,360.0 129.4,361.0 130.0,362.0 130.5,363.0 131.0,364.0 131.5,365.0 132.0,366.0 132.5,367.0 133.0,368.0 133.4,369.0 133.9,370.0 134.3,371.0 134.8,372.0 135.2,373.0 135.6,374.0 136.0,375.0 136.5,376.0 136.9,377.0 137.2,378.0 137.6,379.0 138.0,380.0 138.4,381.0 138.7,382.0 139.1,383.0 139.4,384.0 139.7,385.0 140.1,386.0 140.4,387.0 140.7,388.0 141.0,389.0 141.3,390.0 141.6,391.0 141.9,392.0 142.1,393.0 142.4,394.0 142.7,395.0 142.9,396.0 143.2,397.0 143.4,398.0 143.7,399.0 143.9,400.0 144.1,401.0 144.4,402.0 144.6,403.0 144.8,404.0 145.0,405.0 145.2,406.0 145.4,407.0 145.6,408.0 145.8,409.0 146.0,410.0 146.2,411.0 146.3,412.0 146.5,413.0 146.7,414.0 146.8,415.0 147.0,416.0 147.2,417.0 147.3,418.0 147.5,419.0 147.6,420.0 147.8,421.0 147.9,422.0 148.0,423.0 148.2,424.0 148.3,425.0 148.4,426.0 148.6,427.0 148.7,428.0 148.8,429.0 148.9,430.0 149.0,431.0 149.2,432.0 149.3,433.0 149.4,434.0 149.5,435.0 149.6,436.0 149.7,437.0 149.8,438.0 149.9,439.0 150.0,440.0 150.1,441.0 150.2,442.0 150.3,443.0 150.4,444.0 150.5,445.0 150.6,446.0 150.7,447.0 150.8,448.0 150.8,449.0 150.9,450.0 151.0,451.0 151.1,452.0 151.2,453.0 151.2,454.0 151.3,455.0 151.4,456.0 151.5,457.0 151.5,458.0 151.6,459.0 151.7,460.0 151.7,461.0 151.8,462.0 151.9,463.0 151.9,464.0 152.0,465.0 152.1,466.0 152.2,467.0 152.3,468.0 152.4,469.0 152.6,470.0 152.7,471.0 152.8,472.0 152.9,473.0 153.1,474.0 153.2,475.0 153.4,476.0 153.4,476.0 153.4,475.0 153.5,474.0 153.5,473.0 153.6,472.0 153.6,471.0 153.6,470.0 153.6,469.0 153.6,468.0 153.6,467.0 153.6,466.0 153.6,465.0 153.6,464.0 153.5,463.0 153.4,462.0 153.4,461.0 153.3,460.0 153.3,459.0 153.2,458.0 153.1,457.0 153.1,456.0 153.0,455.0 152.9,454.0 152.9,453.0 152.8,452.0 152.7,451.0 152.6,450.0 152.6,449.0 152.5,448.0 152.4,447.0 152.3,446.0 152.2,445.0 152.2,444.0 152.1,443.0 152.0,442.0 151.9,441.0 151.8,440.0 151.7,439.0 151.6,438.0 151.5,437.0 151.4,436.0 151.3,435.0 151.2,434.0 151.1,433.0 151.0,432.0 150.9,431.0 150.8,430.0 150.7,429.0 150.5,428.0 150.4,427.0 150.3,426.0 150.1,425.0 150.0,424.0 149.9,423.0 149.7,422.0 149.6,421.0 149.4,420.0 149.3,419.0 149.1,418.0 149.0,417.0 148.8,416.0 148.6,415.0 148.5,414.0 148.3,413.0 148.1,412.0 148.0,411.0 147.8,410.0 147.6,409.0 147.4,408.0 147.2,407.0 147.0,406.0 146.8,405.0 146.6,404.0 146.4,403.0 146.1,402.0 145.9,401.0 145.7,400.0 145.4,399.0 145.2,398.0 144.9,397.0 144.7,396.0 144.4,395.0 144.2,394.0 143.9,393.0 143.6,392.0 143.3,391.0 143.0,390.0 142.7,389.0 142.4,388.0 142.1,387.0 141.8,386.0 141.5,385.0 141.1,384.0 140.8,383.0 140.5,382.0 140.1,381.0 139.7,380.0 139.4,379.0 139.0,378.0 138.6,377.0 138.2,376.0 137.8,375.0 137.4,374.0 136.9,373.0 136.5,372.0 136.1,371.0 135.6,370.0 135.2,369.0 134.7,368.0 134.2,367.0 133.7,366.0 133.2,365.0 132.7,364.0 132.2,363.0 131.7,362.0 131.2,361.0 130.6,360.0 130.1,359.0 129.5,358.0 129.0,357.0 128.4,356.0 127.8,355.0 127.2,354.0 126.6,353.0 126.0,352.0 125.4,351.0 124.8,350.0 124.2,349.0 123.5,348.0 122.9,347.0 122.2,346.0 121.6,345.0 120.9,344.0 120.3,343.0 119.6,342.0 119.0,341.0 118.3,340.0 117.6,339.0 116.9,338.0 116.3,337.0 115.6,336.0 114.9,335.0 114.2,334.0 113.6,333.0 112.9,332.0 112.2,331.0 111.5,330.0 110.9,329.0 110.2,328.0 109.5,327.0 108.9,326.0 108.2,325.0 107.6,324.0 106.9,323.0 106.3,322.0 105.6,321.0 104.9,320.0 104.2,319.0 103.5,318.0 102.8,317.0 102.0,316.0 101.3,315.0 100.6,314.0"/>
<polygon points="520.0,171.0 520.0,172.0 520.0,173.0 520.0,174.0 520.0,175.0 519.9,176.0 519.9,177.0 519.9,178.0 519.9,179.0 519.9,180.0 519.9,181.0 519.9,182.0 520.0,183.0 520.0,184.0 520.1,185.0 520.1,186.0 520.1,187.0 520.2,188.0 520.2,189.0 520.2,190.0 520.3,191.0 520.3,192.0 520.4,193.0 520.4,194.0 520.5,195.0 520.5,196.0 520.6,197.0 520.6,198.0 520.6,199.0 520.7,200.0 520.7,201.0 520.8,202.0 520.9,203.0 520.8,204.0 520.8,205.0 520.8,206.0 520.8,207.0 520.9,208.0 520.9,209.0 521.0,210.0 521.0,211.0 521.1,212.0 521.2,213.0 521.2,214.0 521.3,215.0 521.3,216.0 521.4,217.0 521.5,218.0 521.5,219.0 521.6,220.0 521.7,221.0 521.8,222.0 521.8,223.0 521.9,224.0 522.0,225.0 522.1,226.0 522.1,227.0 522.2,228.0 522.3,229.0 522.4,230.0 522.5,231.0 522.6,232.0 522.7,233.0 522.8,234.0 522.9,235.0 523.0,236.0 523.1,237.0 523.2,238.0 523.3,239.0 523.4,240.0 523.5,241.0 523.6,242.0 523.7,243.0 523.8,244.0 524.0,245.0 524.1,246.0 524.2,247.0 524.3,248.0 524.5,249.0 524.6,250.0 524.7,251.0 524.9,252.0 525.0,253.0 525.2,254.0 525.3,255.0 525.5,256.0 525.6,257.0 525.8,258.0 526.0,259.0 526.1,260.0 526.3,261.0 526.5,262.0 526.7,263.0 526.8,264.0 527.0,265.0 527.2,266.0 527.4,267.0 527.6,268.0 527.9,269.0 528.1,270.0 528.3,271.0 528.5,272.0 528.8,273.0 529.0,274.0 529.3,275.0 529.5,276.0 529.8,277.0 530.1,278.0 530.4,279.0 530.6,280.0 530.9,281.0 531.2,282.0 531.5,283.0 531.9,284.0 532.2,285.0 532.5,286.0 532.8,287.0 533.2,288.0 533.5,289.0 533.9,290.0 534.3,291.0 534.6,292.0 535.0,293.0 535.4,294.0 535.8,295.0 536.2,296.0 536.6,297.0 537.1,298.0 537.5,299.0 537.9,300.0 538.4,301.0 538.9,302.0 539.3,303.0 539.8,304.0 540.3,305.0 540.8,306.0 541.3,307.0 541.9,308.0 542.4,309.0 542.9,310.0 543.5,311.0 544.0,312.0 544.6,313.0 545.2,314.0 545.7,315.0 546.3,316.0 546.9,317.0 547.5,318.0 548.1,319.0 548.8,320.0 549.4,321.0 550.0,322.0 550.6,323.0 551.3,324.0 551.9,325.0 552.6,326.0 553.2,327.0 553.9,328.0 554.6,329.0 555.2,330.0 555.9,331.0 556.6,332.0 557.3,333.0 558.0,334.0 558.7,335.0 559.4,336.0 560.1,337.0 560.7,338.0 561.4,339.0 562.1,340.0 562.8,341.0 563.5,342.0 564.2,343.0 564.9,344.0 565.5,345.0 566.2,346.0 566.9,347.0 567.5,348.0 568.2,349.0 568.8,350.0 569.5,351.0 570.1,352.0 570.7,353.0 571.4,354.0 572.0,355.0 572.6,356.0 573.2,357.0 573.8,358.0 574.4,359.0 574.9,360.0 575.5,361.0 576.0,362.0 576.6,363.0 577.1,364.0 577.7,365.0 578.2,366.0 578.7,367.0 579.2,368.0 579.7,369.0 580.2,370.0 580.7,371.0 581.1,372.0 581.6,373.0 582.0,374.0 582.5,375.0 582.9,376.0 583.3,377.0 583.7,378.0 584.1,379.0 584.5,380.0 584.9,381.0 585.2,382.0 585.6,383.0 585.9,384.0 586.3,385.0 586.6,386.0 587.0,387.0 587.3,388.0 587.6,389.0 587.9,390.0 588.2,391.0 588.5,392.0 588.8,393.0 589.1,394.0 589.4,395.0 589.6,396.0 589.9,397.0 590.2,398.0 590.4,399.0 590.7,400.0 590.9,401.0 591.2,402.0 591.4,403.0 591.7,404.0 591.9,405.0 592.1,406.0 592.4,407.0 592.6,408.0 592.8,409.0 593.1,410.0 593.3,411.0 593.5,412.0 593.7,413.0 593.9,414.0 594.1,415.0 594.3,416.0 594.5,417.0 594.5,417.0 594.3,416.0 594.2,415.0 594.1,414.0 593.9,413.0 593.8,412.0 593.6,411.0 593.5,410.0 593.3,409.0 593.2,408.0 593.0,407.0 592.9,406.0 592.7,405.0 592.5,404.0 592.3,403.0 592.1,402.0 591.9,401.0 591.7,400.0 591.5,399.0 591.3,398.0 591.0,397.0 590.8,396.0 590.5,395.0 590.3,394.0 590.0,393.0 589.8,392.0 589.5,391.0 589.2,390.0 588.9,389.0 588.6,388.0 588.3,387.0 588.0,386.0 587.7,385.0 587.4,384.0 587.1,383.0 586.7,382.0 586.4,381.0 586.0,380.0 585.7,379.0 585.3,378.0 584.9,377.0 584.6,376.0 584.2,375.0 583.8,374.0 583.4,373.0 583.0,372.0 582.5,371.0 582.1,370.0 581.7,369.0 581.2,368.0 580.8,367.0 580.3,366.0 579.9,365.0 579.4,364.0 578.9,363.0 578.4,362.0 577.9,361.0 577.4,360.0 576.9,359.0 576.3,358.0 575.8,357.0 575.3,356.0 574.7,355.0 574.1,354.0 573.6,353.0 573.0,352.0 572.4,351.0 571.8,350.0 571.2,349.0 570.6,348.0 570.0,347.0 569.4,346.0 568.8,345.0 568.1,344.0 567.5,343.0 566.9,342.0 566.2,341.0 565.6,340.0 564.9,339.0 564.3,338.0 563.6,337.0 563.0,336.0 562.3,335.0 561.7,334.0 561.0,333.0 560.4,332.0 559.7,331.0 559.0,330.0 558.4,329.0 557.7,328.0 557.1,327.0 556.4,326.0 555.7,325.0 555.1,324.0 554.4,323.0 553.8,322.0 553.2,321.0 552.5,320.0 551.9,319.0 551.3,318.0 550.7,317.0 550.1,316.0 549.5,315.0 548.9,314.0 548.3,313.0 547.7,312.0 547.2,311.0 546.6,310.0 546.1,309.0 545.5,308.0 545.0,307.0 544.5,306.0 544.0,305.0 543.5,304.0 543.0,303.0 542.5,302.0 542.0,301.0 541.5,300.0 541.1,299.0 540.6,298.0 540.2,297.0 539.7,296.0 539.3,295.0 538.9,294.0 538.5,293.0 538.1,292.0 537.7,291.0 537.3,290.0 536.9,289.0 536.5,288.0 536.2,287.0 535.8,286.0 535.5,285.0 535.1,284.0 534.8,283.0 534.5,282.0 534.2,281.0 533.9,280.0 533.5,279.0 533.3,278.0 533.0,277.0 532.7,276.0 532.4,275.0 532.1,274.0 531.9,273.0 531.6,272.0 531.4,271.0 531.1,270.0 530.9,269.0 530.6,268.0 530.4,267.0 530.1,266.0 529.9,265.0 529.7,264.0 529.5,263.0 529.3,262.0 529.1,261.0 528.9,260.0 528.7,259.0 528.5,258.0 528.3,257.0 528.1,256.0 527.9,255.0 527.7,254.0 527.6,253.0 527.4,252.0 527.2,251.0 527.0,250.0 526.9,249.0 526.7,248.0 526.6,247.0 526.4,246.0 526.3,245.0 526.1,244.0 526.0,243.0 525.8,242.0 525.7,241.0 525.6,240.0 525.5,239.0 525.3,238.0 525.2,237.0 525.1,236.0 525.0,235.0 524.9,234.0 524.7,233.0 524.6,232.0 524.5,231.0 524.4,230.0 524.3,229.0 524.2,228.0 524.1,227.0 524.0,226.0 523.9,225.0 523.8,224.0 523.7,223.0 523.6,222.0 523.5,221.0 523.5,220.0 523.4,219.0 523.3,218.0 523.2,217.0 523.1,216.0 523.0,215.0 523.0,214.0 522.9,213.0 522.8,212.0 522.7,211.0 522.7,210.0 522.6,209.0 522.5,208.0 522.4,207.0 522.3,206.0 522.2,205.0 522.1,204.0 521.9,203.0 521.9,202.0 521.8,201.0 521.8,200.0 521.7,199.0 521.6,198.0 521.6,197.0 521.5,196.0 521.5,195.0 521.4,194.0 521.4,193.0 521.3,192.0 521.3,191.0 521.2,190.0 521.2,189.0 521.1,188.0 521.1,187.0 521.0,186.0 521.0,185.0 520.9,184.0 520.9,183.0 520.8,182.0 520.8,181.0 520.7,180.0 520.7,179.0 520.6,178.0 520.5,177.0 520.4,176.0 520.3,175.0 520.2,174.0 520.2,173.0 520.1,172.0 520.0,171.0"/>
<polygon points="123.2,171.0 123.2,172.0 123.2,173.0 123.2,174.0 123.2,175.0 123.1,176.0 123.1,177.0 123.1,178.0 123.1,179.0 123.1,180.0 123.1,181.0 123.1,182.0 123.2,183.0 123.2,184.0 123.3,185.0 123.3,186.0 123.3,187.0 123.4,188.0 123.4,189.0 123.4,190.0 123.5,191.0 123.5,192.0 123.6,193.0 123.6,194.0 123.7,195.0 123.7,196.0 123.8,197.0 123.8,198.0 123.8,199.0 123.9,200.0 123.9,201.0 124.0,202.0 124.1,203.0 124.0,204.0 124.0,205.0 124.0,206.0 124.0,207.0 124.1,208.0 124.1,209.0 124.2,210.0 124.2,211.0 124.3,212.0 124.4,213.0 124.4,214.0 124.5,215.0 124.5,216.0 124.6,217.0 124.7,218.0 124.7,219.0 124.8,220.0 124.9,221.0 125.0,222.0 125.0,223.0 125.1,224.0 125.2,225.0 125.3,226.0 125.3,227.0 125.4,228.0 125.5,229.0 125.6,230.0 125.7,231.0 125.8,232.0 125.9,233.0 126.0,234.0 126.1,235.0 126.2,236.0 126.3,237.0 126.4,238.0 126.5,239.0 126.6,240.0 126.7,241.0 126.8,242.0 126.9,243.0 127.0,244.0 127.2,245.0 127.3,246.0 127.4,247.0 127.5,248.0 127.7,249.0 127.8,250.0 127.9,251.0 128.1,252.0 128.2,253.0 128.4,254.0 128.5,255.0 128.7,256.0 128.8,257.0 129.0,258.0 129.2,259.0 129.3,260.0 129.5,261.0 129.7,262.0 129.9,263.0 130.0,264.0 130.2,265.0 130.4,266.0 130.6,267.0 130.8,268.0 131.1,269.0 131.3,270.0 131.5,271.0 131.7,272.0 132.0,273.0 132.2,274.0 132.5,275.0 132.7,276.0 133.0,277.0 133.3,278.0 133.6,279.0 133.8,280.0 134.1,281.0 134.4,282.0 134.7,283.0 135.1,284.0 135.4,285.0 135.7,286.0 136.0,287.0 136.4,288.0 136.7,289.0 137.1,290.0 137.5,291.0 137.8,292.0 138.2,293.0 138.6,294.0 139.0,295.0 139.4,296.0 139.8,297.0 140.3,298.0 140.7,299.0 141.1,300.0 141.6,301.0 142.1,302.0 142.5,303.0 143.0,304.0 143.5,305.0 144.0,306.0 144.5,307.0 145.1,308.0 145.6,309.0 146.1,310.0 146.7,311.0 147.2,312.0 147.8,313.0 148.4,314.0 148.9,315.0 149.5,316.0 150.1,317.0 150.7,318.0 151.3,319.0 152.0,320.0 152.6,321.0 153.2,322.0 153.8,323.0 154.5,324.0 155.1,325.0 155.8,326.0 156.4,327.0 157.1,328.0 157.8,329.0 158.4,330.0 159.1,331.0 159.8,332.0 160.5,333.0 161.2,334.0 161.9,335.0 162.6,336.0 163.3,337.0 163.9,338.0 164.6,339.0 165.3,340.0 166.0,341.0 166.7,342.0 167.4,343.0 168.1,344.0 168.7,345.0 169.4,346.0 170.1,347.0 170.7,348.0 171.4,349.0 172.0,350.0 172.7,351.0 173.3,352.0 173.9,353.0 174.6,354.0 175.2,355.0 175.8,356.0 176.4,357.0 177.0,358.0 177.6,359.0 178.1,360.0 178.7,361.0 179.2,362.0 179.8,363.0 180.3,364.0 180.9,365.0 181.4,366.0 181.9,367.0 182.4,368.0 182.9,369.0 183.4,370.0 183.9,371.0 184.3,372.0 184.8,373.0 185.2,374.0 185.7,375.0 186.1,376.0 186.5,377.0 186.9,378.0 187.3,379.0 187.7,380.0 188.1,381.0 188.4,382.0 188.8,383.0 189.1,384.0 189.5,385.0 189.8,386.0 190.2,387.0 190.5,388.0 190.8,389.0 191.1,390.0 191.4,391.0 191.7,392.0 192.0,393.0 192.3,394.0 192.6,395.0 192.8,396.0 193.1,397.0 193.4,398.0 193.6,399.0 193.9,400.0 194.1,401.0 194.4,402.0 194.6,403.0 194.9,404.0 195.1,405.0 195.3,406.0 195.6,407.0 195.8,408.0 196.0,409.0 196.3,410.0 196.5,411.0 196.7,412.0 196.9,413.0 197.1,414.0 197.3,415.0 197.5,416.0 197.7,417.0 197.7,417.0 197.5,416.0 197.4,415.0 197.3,414.0 197.1,413.0 197.0,412.0 196.8,411.0 196.7,410.0 196.5,409.0 196.4,408.0 196.2,407.0 196.1,406.0 195.9,405.0 195.7,404.0 195.5,403.0 195.3,402.0 195.1,401.0 194.9,400.0 194.7,399.0 194.5,398.0 194.2,397.0 194.0,396.0 193.7,395.0 193.5,394.0 193.2,393.0 193.0,392.0 192.7,391.0 192.4,390.0 192.1,389.0 191.8,388.0 191.5,387.0 191.2,386.0 190.9,385.0 190.6,384.0 190.3,383.0 189.9,382.0 189.6,381.0 189.2,380.0 188.9,379.0 188.5,378.0 188.1,377.0 187.8,376.0 187.4,375.0 187.0,374.0 186.6,373.0 186.2,372.0 185.7,371.0 185.3,370.0 184.9,369.0 184.4,368.0 184.0,367.0 183.5,366.0 183.1,365.0 182.6,364.0 182.1,363.0 181.6,362.0 181.1,361.0 180.6,360.0 180.1,359.0 179.5,358.0 179.0,357.0 178.5,356.0 177.9,355.0 177.3,354.0 176.8,353.0 176.2,352.0 175.6,351.0 175.0,350.0 174.4,349.0 173.8,348.0 173.2,347.0 172.6,346.0 172.0,345.0 171.3,344.0 170.7,343.0 170.1,342.0 169.4,341.0 168.8,340.0 168.1,339.0 167.5,338.0 166.8,337.0 166.2,336.0 165.5,335.0 164.9,334.0 164.2,333.0 163.6,332.0 162.9,331.0 162.2,330.0 161.6,329.0 160.9,328.0 160.3,327.0 159.6,326.0 158.9,325.0 158.3,324.0 157.6,323.0 157.0,322.0 156.4,321.0 155.7,320.0 155.1,319.0 154.5,318.0 153.9,317.0 153.3,316.0 152.7,315.0 152.1,314.0 151.5,313.0 150.9,312.0 150.4,311.0 149.8,310.0 149.3,309.0 148.7,308.0 148.2,307.0 147.7,306.0 147.2,305.0 146.7,304.0 146.2,303.0 145.7,302.0 145.2,301.0 144.7,300.0 144.3,299.0 143.8,298.0 143.4,297.0 142.9,296.0 142.5,295.0 142.1,294.0 141.7,293.0 141.3,292.0 140.9,291.0 140.5,290.0 140.1,289.0 139.7,288.0 139.4,287.0 139.0,286.0 138.7,285.0 138.3,284.0 138.0,283.0 137.7,282.0 137.4,281.0 137.1,280.0 136.7,279.0 136.5,278.0 136.2,277.0 135.9,276.0 135.6,275.0 135.3,274.0 135.1,273.0 134.8,272.0 134.6,271.0 134.3,270.0 134.1,269.0 133.8,268.0 133.6,267.0 133.3,266.0 133.1,265.0 132.9,264.0 132.7,263.0 132.5,262.0 132.3,261.0 132.1,260.0 131.9,259.0 131.7,258.0 131.5,257.0 131.3,256.0 131.1,255.0 130.9,254.0 130.8,253.0 130.6,252.0 130.4,251.0 130.2,250.0 130.1,249.0 129.9,248.0 129.8,247.0 129.6,246.0 129.5,245.0 129.3,244.0 129.2,243.0 129.0,242.0 128.9,241.0 128.8,240.0 128.7,239.0 128.5,238.0 128.4,237.0 128.3,236.0 128.2,235.0 128.1,234.0 127.9,233.0 127.8,232.0 127.7,231.0 127.6,230.0 127.5,229.0 127.4,228.0 127.3,227.0 127.2,226.0 127.1,225.0 127.0,224.0 126.9,223.0 126.8,222.0 126.7,221.0 126.7,220.0 126.6,219.0 126.5,218.0 126.4,217.0 126.3,216.0 126.2,215.0 126.2,214.0 126.1,213.0 126.0,212.0 125.9,211.0 125.9,210.0 125.8,209.0 125.7,208.0 125.6,207.0 125.5,206.0 125.4,205.0 125.3,204.0 125.1,203.0 125.1,202.0 125.0,201.0 125.0,200.0 124.9,199.0 124.8,198.0 124.8,197.0 124.7,196.0 124.7,195.0 124.6,194.0 124.6,193.0 124.5,192.0 124.5,191.0 124.4,190.0 124.4,189.0 124.3,188.0 124.3,187.0 124.2,186.0 124.2,185.0 124.1,184.0 124.1,183.0 124.0,182.0 124.0,181.0 123.9,180.0 123.9,179.0 123.8,178.0 123.7,177.0 123.6,176.0 123.5,175.0 123.4,174.0 123.4,173.0 123.3,172.0 123.2,171.0"/>
<polygon points="544.8,172.0 544.8,173.0 544.8,174.0 544.8,175.0 544.8,176.0 544.8,177.0 544.8,178.0 544.8,179.0 544.8,180.0 544.8,181.0 544.8,182.0 544.9,183.0 544.9,184.0 544.9,185.0 545.0,186.0 545.0,187.0 545.0,188.0 545.1,189.0 545.1,190.0 545.2,191.0 545.2,192.0 545.2,193.0 545.3,194.0 545.3,195.0 545.4,196.0 545.4,197.0 545.5,198.0 545.5,199.0 545.6,200.0 545.6,201.0 545.7,202.0 545.7,203.0 545.7,204.0 545.6,205.0 545.6,206.0 545.5,207.0 545.5,208.0 545.6,209.0 545.7,210.0 545.7,211.0 545.8,212.0 545.8,213.0 545.9,214.0 546.0,215.0 546.0,216.0 546.1,217.0 546.2,218.0 546.2,219.0 546.3,220.0 546.4,221.0 546.5,222.0 546.5,223.0 546.6,224.0 546.7,225.0 546.8,226.0 546.9,227.0 546.9,228.0 547.0,229.0 547.1,230.0 547.2,231.0 547.3,232.0 547.4,233.0 547.5,234.0 547.6,235.0 547.7,236.0 547.8,237.0 547.9,238.0 548.0,239.0 548.1,240.0 548.2,241.0 548.4,242.0 548.5,243.0 548.6,244.0 548.7,245.0 548.8,246.0 549.0,247.0 549.1,248.0 549.2,249.0 549.4,250.0 549.5,251.0 549.7,252.0 549.8,253.0 550.0,254.0 550.1,255.0 550.3,256.0 550.4,257.0 550.6,258.0 550.8,259.0 550.9,260.0 551.1,261.0 551.3,262.0 551.5,263.0 551.7,264.0 551.9,265.0 552.1,266.0 552.3,267.0 552.5,268.0 552.7,269.0 552.9,270.0 553.2,271.0 553.4,272.0 553.6,273.0 553.9,274.0 554.1,275.0 554.4,276.0 554.6,277.0 554.9,278.0 555.2,279.0 555.5,280.0 555.8,281.0 556.1,282.0 556.4,283.0 556.7,284.0 557.0,285.0 557.3,286.0 557.6,287.0 558.0,288.0 558.3,289.0 558.7,290.0 559.0,291.0 559.4,292.0 559.8,293.0 560.2,294.0 560.6,295.0 561.0,296.0 561.4,297.0 561.8,298.0 562.2,299.0 562.7,300.0 563.1,301.0 563.6,302.0 564.1,303.0 564.6,304.0 565.1,305.0 565.6,306.0 566.1,307.0 566.6,308.0 567.1,309.0 567.7,310.0 568.2,311.0 568.8,312.0 569.3,313.0 569.9,314.0 570.5,315.0 571.1,316.0 571.6,317.0 572.3,318.0 572.9,319.0 573.5,320.0 574.1,321.0 574.7,322.0 575.4,323.0 576.0,324.0 576.6,325.0 577.3,326.0 577.9,327.0 578.6,328.0 579.3,329.0 579.9,330.0 580.6,331.0 581.3,332.0 581.9,333.0 582.6,334.0 583.3,335.0 584.0,336.0 584.6,337.0 585.3,338.0 586.0,339.0 586.6,340.0 587.3,341.0 588.0,342.0 588.6,343.0 589.3,344.0 589.9,345.0 590.6,346.0 591.2,347.0 591.9,348.0 592.5,349.0 593.1,350.0 593.7,351.0 594.4,352.0 595.0,353.0 595.6,354.0 596.2,355.0 596.7,356.0 597.3,357.0 597.9,358.0 598.4,359.0 599.0,360.0 599.5,361.0 600.1,362.0 600.6,363.0 601.1,364.0 601.7,365.0 602.2,366.0 602.7,367.0 603.1,368.0 603.6,369.0 604.1,370.0 604.5,371.0 605.0,372.0 605.4,373.0 605.9,374.0 606.3,375.0 606.7,376.0 607.1,377.0 607.5,378.0 607.9,379.0 608.3,380.0 608.7,381.0 609.0,382.0 609.4,383.0 609.7,384.0 610.1,385.0 610.4,386.0 610.7,387.0 611.1,388.0 611.4,389.0 611.7,390.0 612.0,391.0 612.3,392.0 612.5,393.0 612.8,394.0 613.1,395.0 613.4,396.0 613.6,397.0 613.9,398.0 614.1,399.0 614.4,400.0 614.6,401.0 614.8,402.0 615.1,403.0 615.3,404.0 615.5,405.0 615.7,406.0 615.9,407.0 616.1,408.0 616.3,409.0 616.5,410.0 616.7,411.0 616.9,412.0 617.1,413.0 617.3,414.0 617.4,415.0 617.6,416.0 617.8,417.0 617.9,418.0 618.1,419.0 618.3,420.0 618.4,421.0 618.6,422.0 618.7,423.0 618.9,424.0 619.0,425.0 619.1,426.0 619.3,427.0 619.4,428.0 619.5,429.0 619.7,430.0 619.8,431.0 619.9,432.0 620.0,433.0 620.1,434.0 620.2,435.0 620.4,436.0 620.5,437.0 620.6,438.0 620.7,439.0 620.8,440.0 620.9,441.0 621.1,442.0 621.2,443.0 621.4,444.0 621.5,445.0 621.6,446.0 621.8,447.0 621.9,448.0 622.0,449.0 622.1,450.0 622.2,451.0 622.2,452.0 622.3,453.0 622.4,454.0 622.5,455.0 622.6,456.0 622.7,457.0 622.7,458.0 622.8,459.0 622.9,460.0 623.0,461.0 623.0,462.0 623.1,463.0 623.2,464.0 623.2,465.0 623.3,466.0 623.4,467.0 623.4,468.0 623.5,469.0 623.6,470.0 623.7,471.0 623.8,472.0 623.9,473.0 624.0,474.0 624.1,475.0 624.2,476.0 624.4,477.0 624.5,478.0 624.6,479.0 624.8,480.0 624.8,480.0 624.8,479.0 624.8,478.0 624.9,477.0 624.9,476.0 624.9,475.0 625.0,474.0 625.0,473.0 625.0,472.0 625.0,471.0 625.0,470.0 624.9,469.0 624.9,468.0 624.8,467.0 624.8,466.0 624.8,465.0 624.7,464.0 624.7,463.0 624.6,462.0 624.5,461.0 624.5,460.0 624.4,459.0 624.4,458.0 624.3,457.0 624.3,456.0 624.2,455.0 624.2,454.0 624.1,453.0 624.0,452.0 624.0,451.0 623.9,450.0 623.8,449.0 623.8,448.0 623.7,447.0 623.7,446.0 623.6,445.0 623.6,444.0 623.6,443.0 623.5,442.0 623.5,441.0 623.4,440.0 623.4,439.0 623.3,438.0 623.2,437.0 623.1,436.0 623.0,435.0 622.9,434.0 622.8,433.0 622.7,432.0 622.6,431.0 622.4,430.0 622.3,429.0 622.2,428.0 622.1,427.0 622.0,426.0 621.9,425.0 621.7,424.0 621.6,423.0 621.5,422.0 621.3,421.0 621.2,420.0 621.1,419.0 620.9,418.0 620.8,417.0 620.6,416.0 620.5,415.0 620.3,414.0 620.1,413.0 620.0,412.0 619.8,411.0 619.6,410.0 619.4,409.0 619.3,408.0 619.1,407.0 618.9,406.0 618.7,405.0 618.5,404.0 618.3,403.0 618.1,402.0 617.8,401.0 617.6,400.0 617.4,399.0 617.2,398.0 616.9,397.0 616.7,396.0 616.4,395.0 616.2,394.0 615.9,393.0 615.6,392.0 615.3,391.0 615.1,390.0 614.8,389.0 614.5,388.0 614.2,387.0 613.9,386.0 613.5,385.0 613.2,384.0 612.9,383.0 612.5,382.0 612.2,381.0 611.8,380.0 611.5,379.0 611.1,378.0 610.7,377.0 610.3,376.0 609.9,375.0 609.5,374.0 609.1,373.0 608.7,372.0 608.3,371.0 607.8,370.0 607.4,369.0 606.9,368.0 606.4,367.0 606.0,366.0 605.5,365.0 605.0,364.0 604.5,363.0 604.0,362.0 603.5,361.0 602.9,360.0 602.4,359.0 601.8,358.0 601.3,357.0 600.7,356.0 600.1,355.0 599.5,354.0 598.9,353.0 598.3,352.0 597.7,351.0 597.1,350.0 596.5,349.0 595.9,348.0 595.2,347.0 594.6,346.0 594.0,345.0 593.3,344.0 592.7,343.0 592.0,342.0 591.3,341.0 590.7,340.0 590.0,339.0 589.3,338.0 588.7,337.0 588.0,336.0 587.3,335.0 586.6,334.0 586.0,333.0 585.3,332.0 584.6,331.0 583.9,330.0 583.3,329.0 582.6,328.0 581.9,327.0 581.3,326.0 580.6,325.0 580.0,324.0 579.3,323.0 578.7,322.0 578.0,321.0 577.4,320.0 576.8,319.0 576.2,318.0 575.6,317.0 575.0,316.0 574.4,315.0 573.8,314.0 573.2,313.0 572.6,312.0 572.0,311.0 571.5,310.0 570.9,309.0 570.4,308.0 569.9,307.0 569.3,306.0 568.8,305.0 568.3,304.0 567.8,303.0 567.3,302.0 566.9,301.0 566.4,300.0 565.9,299.0 565.5,298.0 565.0,297.0 564.6,296.0 564.1,295.0 563.7,294.0 563.3,293.0 562.9,292.0 562.5,291.0 562.1,290.0 561.7,289.0 561.3,288.0 561.0,287.0 560.6,286.0 560.3,285.0 559.9,284.0 559.6,283.0 559.3,282.0 558.9,281.0 558.6,280.0 558.3,279.0 558.0,278.0 557.7,277.0 557.4,276.0 557.2,275.0 556.9,274.0 556.6,273.0 556.4,272.0 556.1,271.0 555.8,270.0 555.6,269.0 555.4,268.0 555.1,267.0 554.9,266.0 554.7,265.0 554.5,264.0 554.2,263.0 554.0,262.0 553.8,261.0 553.6,260.0 553.4,259.0 553.3,258.0 553.1,257.0 552.9,256.0 552.7,255.0 552.5,254.0 552.4,253.0 552.2,252.0 552.0,251.0 551.9,250.0 551.7,249.0 551.6,248.0 551.4,247.0 551.3,246.0 551.1,245.0 551.0,244.0 550.8,243.0 550.7,242.0 550.6,241.0 550.4,240.0 550.3,239.0 550.2,238.0 550.1,237.0 550.0,236.0 549.8,235.0 549.7,234.0 549.6,233.0 549.5,232.0 549.4,231.0 549.3,230.0 549.2,229.0 549.1,228.0 549.0,227.0 548.9,226.0 548.8,225.0 548.7,224.0 548.6,223.0 548.5,222.0 548.4,221.0 548.4,220.0 548.3,219.0 548.2,218.0 548.1,217.0 548.0,216.0 548.0,215.0 547.9,214.0 547.8,213.0 547.7,212.0 547.7,211.0 547.6,210.0 547.5,209.0 547.4,208.0 547.4,207.0 547.2,206.0 547.0,205.0 546.9,204.0 546.7,203.0 546.6,202.0 546.6,201.0 546.5,200.0 546.4,199.0 546.4,198.0 546.3,197.0 546.3,196.0 546.2,195.0 546.2,194.0 546.1,193.0 546.1,192.0 546.0,191.0 546.0,190.0 545.9,189.0 545.9,188.0 545.8,187.0 545.8,186.0 545.7,185.0 545.7,184.0 545.6,183.0 545.6,182.0 545.5,181.0 545.4,180.0 545.3,179.0 545.3,178.0 545.2,177.0 545.1,176.0 545.1,175.0 545.0,174.0 544.9,173.0 544.8,172.0"/>
<polygon points="148.0,172.0 148.0,173.0 148.0,174.0 148.0,175.0 148.0,176.0 148.0,177.0 148.0,178.0 148.0,179.0 148.0,180.0 148.0,181.0 148.0,182.0 148.1,183.0 148.1,184.0 148.1,185.0 148.2,186.0 148.2,187.0 148.2,188.0 148.3,189.0 148.3,190.0 148.4,191.0 148.4,192.0 148.4,193.0 148.5,194.0 148.5,195.0 148.6,196.0 148.6,197.0 148.7,198.0 148.7,199.0 148.8,200.0 148.8,201.0 148.9,202.0 148.9,203.0 148.9,204.0 148.8,205.0 148.8,206.0 148.7,207.0 148.7,208.0 148.8,209.0 148.9,210.0 148.9,211.0 149.0,212.0 149.0,213.0 149.1,214.0 149.2,215.0 149.2,216.0 149.3,217.0 149.4,218.0 149.4,219.0 149.5,220.0 149.6,221.0 149.7,222.0 149.7,223.0 149.8,224.0 149.9,225.0 150.0,226.0 150.1,227.0 150.1,228.0 150.2,229.0 150.3,230.0 150.4,231.0 150.5,232.0 150.6,233.0 150.7,234.0 150.8,235.0 150.9,236.0 151.0,237.0 151.1,238.0 151.2,239.0 151.3,240.0 151.4,241.0 151.6,242.0 151.7,243.0 151.8,244.0 151.9,245.0 152.0,246.0 152.2,247.0 152.3,248.0 152.4,249.0 152.6,250.0 152.7,251.0 152.9,252.0 153.0,253.0 153.2,254.0 153.3,255.0 153.5,256.0 153.6,257.0 153.8,258.0 154.0,259.0 154.1,260.0 154.3,261.0 154.5,262.0 154.7,263.0 154.9,264.0 155.1,265.0 155.3,266.0 155.5,267.0 155.7,268.0 155.9,269.0 156.1,270.0 156.4,271.0 156.6,272.0 156.8,273.0 157.1,274.0 157.3,275.0 157.6,276.0 157.8,277.0 158.1,278.0 158.4,279.0 158.7,280.0 159.0,281.0 159.3,282.0 159.6,283.0 159.9,284.0 160.2,285.0 160.5,286.0 160.8,287.0 161.2,288.0 161.5,289.0 161.9,290.0 162.2,291.0 162.6,292.0 163.0,293.0 163.4,294.0 163.8,295.0 164.2,296.0 164.6,297.0 165.0,298.0 165.4,299.0 165.9,300.0 166.3,301.0 166.8,302.0 167.3,303.0 167.8,304.0 168.3,305.0 168.8,306.0 169.3,307.0 169.8,308.0 170.3,309.0 170.9,310.0 171.4,311.0 172.0,312.0 172.5,313.0 173.1,314.0 173.7,315.0 174.3,316.0 174.8,317.0 175.5,318.0 176.1,319.0 176.7,320.0 177.3,321.0 177.9,322.0 178.6,323.0 179.2,324.0 179.8,325.0 180.5,326.0 181.1,327.0 181.8,328.0 182.5,329.0 183.1,330.0 183.8,331.0 184.5,332.0 185.1,333.0 185.8,334.0 186.5,335.0 187.2,336.0 187.8,337.0 188.5,338.0 189.2,339.0 189.8,340.0 190.5,341.0 191.2,342.0 191.8,343.0 192.5,344.0 193.1,345.0 193.8,346.0 194.4,347.0 195.1,348.0 195.7,349.0 196.3,350.0 196.9,351.0 197.6,352.0 198.2,353.0 198.8,354.0 199.4,355.0 199.9,356.0 200.5,357.0 201.1,358.0 201.6,359.0 202.2,360.0 202.7,361.0 203.3,362.0 203.8,363.0 204.3,364.0 204.9,365.0 205.4,366.0 205.9,367.0 206.3,368.0 206.8,369.0 207.3,370.0 207.7,371.0 208.2,372.0 208.6,373.0 209.1,374.0 209.5,375.0 209.9,376.0 210.3,377.0 210.7,378.0 211.1,379.0 211.5,380.0 211.9,381.0 212.2,382.0 212.6,383.0 212.9,384.0 213.3,385.0 213.6,386.0 213.9,387.0 214.3,388.0 214.6,389.0 214.9,390.0 215.2,391.0 215.5,392.0 215.7,393.0 216.0,394.0 216.3,395.0 216.6,396.0 216.8,397.0 217.1,398.0 217.3,399.0 217.6,400.0 217.8,401.0 218.0,402.0 218.3,403.0 218.5,404.0 218.7,405.0 218.9,406.0 219.1,407.0 219.3,408.0 219.5,409.0 219.7,410.0 219.9,411.0 220.1,412.0 220.3,413.0 220.5,414.0 220.6,415.0 220.8,416.0 221.0,417.0 221.1,418.0 221.3,419.0 221.5,420.0 221.6,421.0 221.8,422.0 221.9,423.0 222.1,424.0 222.2,425.0 222.3,426.0 222.5,427.0 222.6,428.0 222.7,429.0 222.9,430.0 223.0,431.0 223.1,432.0 223.2,433.0 223.3,434.0 223.4,435.0 223.6,436.0 223.7,437.0 223.8,438.0 223.9,439.0 224.0,440.0 224.1,441.0 224.3,442.0 224.4,443.0 224.6,444.0 224.7,445.0 224.8,446.0 225.0,447.0 225.1,448.0 225.2,449.0 225.3,450.0 225.4,451.0 225.4,452.0 225.5,453.0 225.6,454.0 225.7,455.0 225.8,456.0 225.9,457.0 225.9,458.0 226.0,459.0 226.1,460.0 226.2,461.0 226.2,462.0 226.3,463.0 226.4,464.0 226.4,465.0 226.5,466.0 226.6,467.0 226.6,468.0 226.7,469.0 226.8,470.0 226.9,471.0 227.0,472.0 227.1,473.0 227.2,474.0 227.3,475.0 227.4,476.0 227.6,477.0 227.7,478.0 227.8,479.0 228.0,480.0 228.0,480.0 228.0,479.0 228.0,478.0 228.1,477.0 228.1,476.0 228.1,475.0 228.2,474.0 228.2,473.0 228.2,472.0 228.2,471.0 228.2,470.0 228.1,469.0 228.1,468.0 228.0,467.0 228.0,466.0 228.0,465.0 227.9,464.0 227.9,463.0 227.8,462.0 227.7,461.0 227.7,460.0 227.6,459.0 227.6,458.0 227.5,457.0 227.5,456.0 227.4,455.0 227.4,454.0 227.3,453.0 227.2,452.0 227.2,451.0 227.1,450.0 227.0,449.0 227.0,448.0 226.9,447.0 226.9,446.0 226.8,445.0 226.8,444.0 226.8,443.0 226.7,442.0 226.7,441.0 226.6,440.0 226.6,439.0 226.5,438.0 226.4,437.0 226.3,436.0 226.2,435.0 226.1,434.0 226.0,433.0 225.9,432.0 225.8,431.0 225.6,430.0 225.5,429.0 225.4,428.0 225.3,427.0 225.2,426.0 225.1,425.0 224.9,424.0 224.8,423.0 224.7,422.0 224.5,421.0 224.4,420.0 224.3,419.0 224.1,418.0 224.0,417.0 223.8,416.0 223.7,415.0 223.5,414.0 223.3,413.0 223.2,412.0 223.0,411.0 222.8,410.0 222.6,409.0 222.5,408.0 222.3,407.0 222.1,406.0 221.9,405.0 221.7,404.0 221.5,403.0 221.3,402.0 221.0,401.0 220.8,400.0 220.6,399.0 220.4,398.0 220.1,397.0 219.9,396.0 219.6,395.0 219.4,394.0 219.1,393.0 218.8,392.0 218.5,391.0 218.3,390.0 218.0,389.0 217.7,388.0 217.4,387.0 217.1,386.0 216.7,385.0 216.4,384.0 216.1,383.0 215.7,382.0 215.4,381.0 215.0,380.0 214.7,379.0 214.3,378.0 213.9,377.0 213.5,376.0 213.1,375.0 212.7,374.0 212.3,373.0 211.9,372.0 211.5,371.0 211.0,370.0 210.6,369.0 210.1,368.0 209.6,367.0 209.2,366.0 208.7,365.0 208.2,364.0 207.7,363.0 207.2,362.0 206.7,361.0 206.1,360.0 205.6,359.0 205.0,358.0 204.5,357.0 203.9,356.0 203.3,355.0 202.7,354.0 202.1,353.0 201.5,352.0 200.9,351.0 200.3,350.0 199.7,349.0 199.1,348.0 198.4,347.0 197.8,346.0 197.2,345.0 196.5,344.0 195.9,343.0 195.2,342.0 194.5,341.0 193.9,340.0 193.2,339.0 192.5,338.0 191.9,337.0 191.2,336.0 190.5,335.0 189.8,334.0 189.2,333.0 188.5,332.0 187.8,331.0 187.1,330.0 186.5,329.0 185.8,328.0 185.1,327.0 184.5,326.0 183.8,325.0 183.2,324.0 182.5,323.0 181.9,322.0 181.2,321.0 180.6,320.0 180.0,319.0 179.4,318.0 178.8,317.0 178.2,316.0 177.6,315.0 177.0,314.0 176.4,313.0 175.8,312.0 175.2,311.0 174.7,310.0 174.1,309.0 173.6,308.0 173.1,307.0 172.5,306.0 172.0,305.0 171.5,304.0 171.0,303.0 170.5,302.0 170.1,301.0 169.6,300.0 169.1,299.0 168.7,298.0 168.2,297.0 167.8,296.0 167.3,295.0 166.9,294.0 166.5,293.0 166.1,292.0 165.7,291.0 165.3,290.0 164.9,289.0 164.5,288.0 164.2,287.0 163.8,286.0 163.5,285.0 163.1,284.0 162.8,283.0 162.5,282.0 162.1,281.0 161.8,280.0 161.5,279.0 161.2,278.0 160.9,277.0 160.6,276.0 160.4,275.0 160.1,274.0 159.8,273.0 159.6,272.0 159.3,271.0 159.0,270.0 158.8,269.0 158.6,268.0 158.3,267.0 158.1,266.0 157.9,265.0 157.7,264.0 157.4,263.0 157.2,262.0 157.0,261.0 156.8,260.0 156.6,259.0 156.5,258.0 156.3,257.0 156.1,256.0 155.9,255.0 155.7,254.0 155.6,253.0 155.4,252.0 155.2,251.0 155.1,250.0 154.9,249.0 154.8,248.0 154.6,247.0 154.5,246.0 154.3,245.0 154.2,244.0 154.0,243.0 153.9,242.0 153.8,241.0 153.6,240.0 153.5,239.0 153.4,238.0 153.3,237.0 153.2,236.0 153.0,235.0 152.9,234.0 152.8,233.0 152.7,232.0 152.6,231.0 152.5,230.0 152.4,229.0 152.3,228.0 152.2,227.0 152.1,226.0 152.0,225.0 151.9,224.0 151.8,223.0 151.7,222.0 151.6,221.0 151.6,220.0 151.5,219.0 151.4,218.0 151.3,217.0 151.2,216.0 151.2,215.0 151.1,214.0 151.0,213.0 150.9,212.0 150.9,211.0 150.8,210.0 150.7,209.0 150.6,208.0 150.6,207.0 150.4,206.0 150.2,205.0 150.1,204.0 149.9,203.0 149.8,202.0 149.8,201.0 149.7,200.0 149.6,199.0 149.6,198.0 149.5,197.0 149.5,196.0 149.4,195.0 149.4,194.0 149.3,193.0 149.3,192.0 149.2,191.0 149.2,190.0 149.1,189.0 149.1,188.0 149.0,187.0 149.0,186.0 148.9,185.0 148.9,184.0 148.8,183.0 148.8,182.0 148.7,181.0 148.6,180.0 148.5,179.0 148.5,178.0 148.4,177.0 148.3,176.0 148.3,175.0 148.2,174.0 148.1,173.0 148.0,172.0"/>
</g>
<g fill="#afff48">
<polygon points="333.9,168.0 333.8,169.0 333.7,170.0 333.6,171.0 333.6,172.0 333.5,173.0 333.5,174.0 333.4,175.0 333.4,176.0 333.4,177.0 333.3,178.0 333.3,179.0 333.4,180.0 333.4,181.0 333.4,182.0 333.5,183.0 333.5,184.0 333.5,185.0 333.6,186.0 333.6,187.0 333.7,188.0 333.7,189.0 333.7,190.0 333.8,191.0 333.8,192.0 333.9,193.0 333.9,194.0 333.9,195.0 334.0,196.0 334.0,197.0 334.1,198.0 334.1,199.0 334.2,200.0 334.2,201.0 334.3,202.0 334.3,203.0 334.2,204.0 334.1,205.0 334.0,206.0 334.1,207.0 334.2,208.0 334.2,209.0 334.3,210.0 334.3,211.0 334.4,212.0 334.4,213.0 334.5,214.0 334.6,215.0 334.6,216.0 334.7,217.0 334.8,218.0 334.8,219.0 334.9,220.0 335.0,221.0 335.1,222.0 335.1,223.0 335.2,224.0 335.3,225.0 335.4,226.0 335.5,227.0 335.6,228.0 335.6,229.0 335.7,230.0 335.8,231.0 335.9,232.0 336.0,233.0 336.1,234.0 336.2,235.0 336.3,236.0 336.4,237.0 336.5,238.0 336.6,239.0 336.7,240.0 336.9,241.0 337.0,242.0 337.1,243.0 337.2,244.0 337.3,245.0 337.5,246.0 337.6,247.0 337.7,248.0 337.8,249.0 338.0,250.0 338.1,251.0 338.2,252.0 338.4,253.0 338.5,254.0 338.6,255.0 338.8,256.0 339.0,257.0 339.1,258.0 339.3,259.0 339.4,260.0 339.6,261.0 339.8,262.0 340.0,263.0 340.2,264.0 340.4,265.0 340.6,266.0 340.8,267.0 341.0,268.0 341.2,269.0 341.4,270.0 341.6,271.0 341.9,272.0 342.1,273.0 342.3,274.0 342.6,275.0 342.9,276.0 343.1,277.0 343.4,278.0 343.6,279.0 343.9,280.0 344.2,281.0 344.5,282.0 344.8,283.0 345.1,284.0 345.4,285.0 345.7,286.0 346.1,287.0 346.4,288.0 346.8,289.0 347.1,290.0 347.5,291.0 347.8,292.0 348.0,293.0 348.1,294.0 348.3,295.0 348.5,296.0 348.9,297.0 349.3,298.0 349.8,299.0 350.2,300.0 350.7,301.0 351.1,302.0 351.6,303.0 352.1,304.0 352.6,305.0 353.1,306.0 353.6,307.0 354.1,308.0 354.6,309.0 355.2,310.0 355.7,311.0 356.3,312.0 356.8,313.0 357.4,314.0 358.0,315.0 358.6,316.0 359.2,317.0 359.8,318.0 360.4,319.0 361.0,320.0 361.6,321.0 362.2,322.0 362.9,323.0 363.5,324.0 364.2,325.0 364.8,326.0 365.5,327.0 366.1,328.0 366.8,329.0 367.4,330.0 368.1,331.0 368.8,332.0 369.4,333.0 370.1,334.0 370.8,335.0 371.5,336.0 372.1,337.0 372.8,338.0 373.5,339.0 374.2,340.0 374.8,341.0 375.5,342.0 376.2,343.0 376.8,344.0 377.5,345.0 378.1,346.0 378.8,347.0 379.4,348.0 380.0,349.0 380.7,350.0 381.3,351.0 381.9,352.0 382.5,353.0 383.1,354.0 383.7,355.0 384.3,356.0 384.9,357.0 385.5,358.0 386.1,359.0 386.8,360.0 387.4,361.0 388.0,362.0 388.5,363.0 389.1,364.0 389.7,365.0 390.2,366.0 390.8,367.0 391.3,368.0 391.9,369.0 392.4,370.0 392.9,371.0 393.4,372.0 393.9,373.0 394.4,374.0 394.8,375.0 395.3,376.0 395.7,377.0 396.2,378.0 396.6,379.0 396.9,380.0 397.3,381.0 397.7,382.0 398.0,383.0 398.4,384.0 398.7,385.0 399.0,386.0 399.4,387.0 399.7,388.0 400.0,389.0 400.3,390.0 400.6,391.0 400.9,392.0 401.2,393.0 401.5,394.0 401.7,395.0 402.0,396.0 402.2,397.0 402.5,398.0 402.7,399.0 403.0,400.0 403.2,401.0 403.5,402.0 403.7,403.0 403.9,404.0 404.1,405.0 404.3,406.0 404.5,407.0 404.7,408.0 404.9,409.0 405.1,410.0 405.3,411.0 405.5,412.0 405.7,413.0 405.8,414.0 406.0,415.0 406.2,416.0 406.3,417.0 406.5,418.0 406.7,419.0 406.8,420.0 407.0,421.0 407.1,422.0 407.2,423.0 407.4,424.0 407.5,425.0 407.7,426.0 407.8,427.0 407.9,428.0 408.0,429.0 408.2,430.0 408.3,431.0 408.4,432.0 408.5,433.0 408.6,434.0 408.7,435.0 408.8,436.0 408.9,437.0 409.1,438.0 409.2,439.0 409.3,440.0 409.4,441.0 409.4,442.0 409.5,443.0 409.6,444.0 409.7,445.0 409.8,446.0 409.9,447.0 410.0,448.0 410.1,449.0 410.1,450.0 410.2,451.0 410.3,452.0 410.4,453.0 410.5,454.0 410.5,455.0 410.6,456.0 410.7,457.0 410.7,458.0 410.8,459.0 410.9,460.0 410.9,461.0 411.0,462.0 411.1,463.0 411.1,464.0 411.2,465.0 411.3,466.0 411.3,467.0 411.4,468.0 411.5,469.0 411.5,470.0 411.6,471.0 411.7,472.0 411.7,473.0 412.1,474.0 412.4,475.0 412.7,476.0 412.9,477.0 413.0,478.0 413.1,479.0 413.2,480.0 413.4,481.0 413.5,482.0 413.6,483.0 413.9,484.0 414.1,485.0 414.2,486.0 414.2,486.0 414.2,485.0 414.4,484.0 414.6,483.0 414.6,482.0 414.7,481.0 414.7,480.0 414.7,479.0 414.8,478.0 414.8,477.0 414.8,476.0 415.1,475.0 415.3,474.0 415.5,473.0 415.5,472.0 415.5,471.0 415.4,470.0 415.4,469.0 415.3,468.0 415.3,467.0 415.2,466.0 415.2,465.0 415.1,464.0 415.1,463.0 415.0,462.0 415.0,461.0 414.9,460.0 414.8,459.0 414.8,458.0 414.7,457.0 414.6,456.0 414.6,455.0 414.5,454.0 414.4,453.0 414.4,452.0 414.3,451.0 414.2,450.0 414.1,449.0 414.1,448.0 414.0,447.0 413.9,446.0 413.8,445.0 413.7,444.0 413.6,443.0 413.6,442.0 413.5,441.0 413.4,440.0 413.3,439.0 413.2,438.0 413.1,437.0 413.0,436.0 412.9,435.0 412.8,434.0 412.7,433.0 412.6,432.0 412.5,431.0 412.3,430.0 412.2,429.0 412.1,428.0 412.0,427.0 411.9,426.0 411.7,425.0 411.6,424.0 411.5,423.0 411.3,422.0 411.2,421.0 411.0,420.0 410.9,419.0 410.8,418.0 410.6,417.0 410.4,416.0 410.3,415.0 410.1,414.0 410.0,413.0 409.8,412.0 409.6,411.0 409.4,410.0 409.3,409.0 409.1,408.0 408.9,407.0 408.7,406.0 408.5,405.0 408.3,404.0 408.1,403.0 407.8,402.0 407.6,401.0 407.4,400.0 407.2,399.0 406.9,398.0 406.7,397.0 406.4,396.0 406.2,395.0 405.9,394.0 405.7,393.0 405.4,392.0 405.1,391.0 404.8,390.0 404.5,389.0 404.2,388.0 403.9,387.0 403.6,386.0 403.3,385.0 403.0,384.0 402.6,383.0 402.3,382.0 401.9,381.0 401.6,380.0 401.2,379.0 400.8,378.0 400.5,377.0 400.2,376.0 399.8,375.0 399.4,374.0 399.1,373.0 398.7,372.0 398.3,371.0 397.9,370.0 397.5,369.0 397.1,368.0 396.7,367.0 396.3,366.0 395.9,365.0 395.4,364.0 395.0,363.0 394.5,362.0 394.0,361.0 393.6,360.0 393.1,359.0 392.6,358.0 392.1,357.0 391.5,356.0 391.0,355.0 390.4,354.0 389.8,353.0 389.2,352.0 388.6,351.0 388.0,350.0 387.4,349.0 386.7,348.0 386.1,347.0 385.5,346.0 384.8,345.0 384.2,344.0 383.5,343.0 382.9,342.0 382.2,341.0 381.5,340.0 380.9,339.0 380.2,338.0 379.5,337.0 378.9,336.0 378.2,335.0 377.5,334.0 376.8,333.0 376.2,332.0 375.5,331.0 374.8,330.0 374.2,329.0 373.5,328.0 372.8,327.0 372.2,326.0 371.5,325.0 370.9,324.0 370.2,323.0 369.6,322.0 368.9,321.0 368.3,320.0 367.7,319.0 367.1,318.0 366.4,317.0 365.8,316.0 365.2,315.0 364.7,314.0 364.1,313.0 363.5,312.0 362.9,311.0 362.4,310.0 361.8,309.0 361.3,308.0 360.7,307.0 360.2,306.0 359.7,305.0 359.2,304.0 358.7,303.0 358.2,302.0 357.7,301.0 357.3,300.0 356.8,299.0 356.4,298.0 355.9,297.0 355.5,296.0 354.8,295.0 354.1,294.0 353.5,293.0 352.9,292.0 352.5,291.0 352.1,290.0 351.7,289.0 351.3,288.0 350.9,287.0 350.6,286.0 350.2,285.0 349.9,284.0 349.5,283.0 349.2,282.0 348.9,281.0 348.6,280.0 348.3,279.0 348.0,278.0 347.7,277.0 347.4,276.0 347.1,275.0 346.8,274.0 346.5,273.0 346.3,272.0 346.0,271.0 345.8,270.0 345.5,269.0 345.3,268.0 345.0,267.0 344.8,266.0 344.6,265.0 344.4,264.0 344.2,263.0 343.9,262.0 343.7,261.0 343.5,260.0 343.3,259.0 343.1,258.0 342.9,257.0 342.8,256.0 342.6,255.0 342.4,254.0 342.2,253.0 342.0,252.0 341.9,251.0 341.7,250.0 341.5,249.0 341.4,248.0 341.2,247.0 341.0,246.0 340.9,245.0 340.8,244.0 340.6,243.0 340.5,242.0 340.4,241.0 340.2,240.0 340.1,239.0 340.0,238.0 339.9,237.0 339.7,236.0 339.6,235.0 339.5,234.0 339.4,233.0 339.3,232.0 339.2,231.0 339.1,230.0 339.0,229.0 338.9,228.0 338.8,227.0 338.7,226.0 338.6,225.0 338.5,224.0 338.4,223.0 338.3,222.0 338.2,221.0 338.2,220.0 338.1,219.0 338.0,218.0 337.9,217.0 337.8,216.0 337.7,215.0 337.7,214.0 337.6,213.0 337.5,212.0 337.4,211.0 337.4,210.0 337.3,209.0 337.2,208.0 337.2,207.0 337.1,206.0 336.9,205.0 336.7,204.0 336.5,203.0 336.4,202.0 336.3,201.0 336.3,200.0 336.2,199.0 336.2,198.0 336.1,197.0 336.1,196.0 336.0,195.0 335.9,194.0 335.9,193.0 335.8,192.0 335.8,191.0 335.7,190.0 335.7,189.0 335.6,188.0 335.6,187.0 335.5,186.0 335.5,185.0 335.4,184.0 335.4,183.0 335.4,182.0 335.3,181.0 335.3,180.0 335.2,179.0 335.2,178.0 335.1,177.0 334.9,176.0 334.8,175.0 334.7,174.0 334.6,173.0 334.5,172.0 334.4,171.0 334.2,170.0 334.1,169.0 333.9,168.0"/>
<polygon points="371.3,174.0 371.3,175.0 371.3,176.0 371.2,177.0 371.2,178.0 371.1,179.0 371.1,180.0 371.1,181.0 371.1,182.0 371.2,183.0 371.2,184.0 371.2,185.0 371.3,186.0 371.3,187.0 371.4,188.0 371.4,189.0 371.4,190.0 371.5,191.0 371.5,192.0 371.6,193.0 371.6,194.0 371.7,195.0 371.7,196.0 371.8,197.0 371.8,198.0 371.8,199.0 371.9,200.0 371.9,201.0 372.0,202.0 372.1,203.0 372.0,204.0 372.0,205.0 372.0,206.0 372.0,207.0 372.1,208.0 372.1,209.0 372.2,210.0 372.3,211.0 372.3,212.0 372.4,213.0 372.5,214.0 372.5,215.0 372.6,216.0 372.7,217.0 372.7,218.0 372.8,219.0 372.9,220.0 373.0,221.0 373.0,222.0 373.1,223.0 373.2,224.0 373.3,225.0 373.4,226.0 373.4,227.0 373.5,228.0 373.6,229.0 373.7,230.0 373.8,231.0 373.9,232.0 374.0,233.0 374.1,234.0 374.2,235.0 374.3,236.0 374.4,237.0 374.5,238.0 374.6,239.0 374.8,240.0 374.9,241.0 375.0,242.0 375.1,243.0 375.2,244.0 375.4,245.0 375.5,246.0 375.6,247.0 375.8,248.0 375.9,249.0 376.1,250.0 376.2,251.0 376.4,252.0 376.5,253.0 376.7,254.0 376.8,255.0 377.0,256.0 377.1,257.0 377.3,258.0 377.5,259.0 377.6,260.0 377.8,261.0 378.0,262.0 378.2,263.0 378.3,264.0 378.5,265.0 378.7,266.0 378.9,267.0 379.1,268.0 379.3,269.0 379.6,270.0 379.8,271.0 380.0,272.0 380.2,273.0 380.5,274.0 380.7,275.0 381.0,276.0 381.2,277.0 381.5,278.0 381.8,279.0 382.0,280.0 382.3,281.0 382.6,282.0 382.9,283.0 383.2,284.0 383.5,285.0 383.8,286.0 384.2,287.0 384.5,288.0 384.8,289.0 385.2,290.0 385.5,291.0 385.9,292.0 386.3,293.0 386.7,294.0 387.1,295.0 387.5,296.0 387.9,297.0 388.3,298.0 388.7,299.0 389.1,300.0 389.6,301.0 390.0,302.0 390.5,303.0 391.0,304.0 391.4,305.0 391.9,306.0 392.4,307.0 392.9,308.0 393.1,309.0 393.3,310.0 393.5,311.0 393.9,312.0 394.4,313.0 395.0,314.0 395.6,315.0 396.2,316.0 396.8,317.0 397.4,318.0 398.0,319.0 398.6,320.0 399.2,321.0 399.8,322.0 400.5,323.0 401.1,324.0 401.7,325.0 402.4,326.0 403.0,327.0 403.7,328.0 404.4,329.0 405.0,330.0 405.7,331.0 406.4,332.0 407.0,333.0 407.7,334.0 408.4,335.0 409.0,336.0 409.7,337.0 410.4,338.0 411.1,339.0 411.7,340.0 412.4,341.0 413.1,342.0 413.7,343.0 414.4,344.0 415.0,345.0 415.7,346.0 416.3,347.0 417.0,348.0 417.6,349.0 418.2,350.0 418.8,351.0 419.5,352.0 420.1,353.0 420.7,354.0 421.3,355.0 421.8,356.0 422.5,357.0 423.1,358.0 423.7,359.0 424.3,360.0 424.8,361.0 425.4,362.0 426.0,363.0 426.5,364.0 427.1,365.0 427.6,366.0 428.2,367.0 428.7,368.0 429.2,369.0 429.7,370.0 430.2,371.0 430.7,372.0 431.2,373.0 431.6,374.0 432.1,375.0 432.6,376.0 433.0,377.0 433.5,378.0 433.8,379.0 434.2,380.0 434.6,381.0 435.0,382.0 435.3,383.0 435.7,384.0 436.0,385.0 436.4,386.0 436.7,387.0 437.0,388.0 437.3,389.0 437.6,390.0 438.0,391.0 438.2,392.0 438.5,393.0 438.8,394.0 439.1,395.0 439.4,396.0 439.6,397.0 439.9,398.0 440.1,399.0 440.4,400.0 440.6,401.0 440.9,402.0 441.1,403.0 441.3,404.0 441.6,405.0 441.8,406.0 442.0,407.0 442.2,408.0 442.4,409.0 442.6,410.0 442.8,411.0 443.0,412.0 443.2,413.0 443.4,414.0 443.6,415.0 443.7,416.0 443.9,417.0 444.1,418.0 444.2,419.0 444.4,420.0 444.6,421.0 444.7,422.0 444.9,423.0 445.0,424.0 445.2,425.0 445.3,426.0 445.4,427.0 445.6,428.0 445.7,429.0 445.8,430.0 446.0,431.0 446.1,432.0 446.2,433.0 446.3,434.0 446.5,435.0 446.6,436.0 446.7,437.0 446.8,438.0 446.9,439.0 447.0,440.0 447.1,441.0 447.2,442.0 447.3,443.0 447.4,444.0 447.5,445.0 447.6,446.0 447.7,447.0 447.8,448.0 447.9,449.0 448.0,450.0 448.1,451.0 448.2,452.0 448.3,453.0 448.4,454.0 448.4,455.0 448.5,456.0 448.6,457.0 448.7,458.0 448.7,459.0 448.8,460.0 448.9,461.0 449.0,462.0 449.0,463.0 449.1,464.0 449.2,465.0 449.2,466.0 449.3,467.0 449.4,468.0 449.5,469.0 449.6,470.0 449.8,471.0 449.9,472.0 450.0,473.0 450.1,474.0 450.3,475.0 450.4,476.0 450.5,477.0 450.7,478.0 450.9,479.0 451.2,480.0 451.2,480.0 451.3,479.0 451.4,478.0 451.5,477.0 451.6,476.0 451.6,475.0 451.6,474.0 451.6,473.0 451.7,472.0 451.7,471.0 451.7,470.0 451.7,469.0 451.8,468.0 451.7,467.0 451.7,466.0 451.6,465.0 451.6,464.0 451.5,463.0 451.5,462.0 451.4,461.0 451.4,460.0 451.3,459.0 451.2,458.0 451.2,457.0 451.1,456.0 451.1,455.0 451.0,454.0 450.9,453.0 450.9,452.0 450.8,451.0 450.8,450.0 450.7,449.0 450.6,448.0 450.6,447.0 450.5,446.0 450.4,445.0 450.3,444.0 450.3,443.0 450.2,442.0 450.1,441.0 450.0,440.0 449.9,439.0 449.8,438.0 449.8,437.0 449.7,436.0 449.6,435.0 449.5,434.0 449.4,433.0 449.3,432.0 449.2,431.0 449.1,430.0 449.0,429.0 448.8,428.0 448.7,427.0 448.6,426.0 448.5,425.0 448.4,424.0 448.3,423.0 448.1,422.0 448.0,421.0 447.9,420.0 447.7,419.0 447.6,418.0 447.4,417.0 447.3,416.0 447.1,415.0 447.0,414.0 446.8,413.0 446.7,412.0 446.5,411.0 446.3,410.0 446.2,409.0 446.0,408.0 445.8,407.0 445.6,406.0 445.4,405.0 445.2,404.0 445.0,403.0 444.8,402.0 444.6,401.0 444.4,400.0 444.2,399.0 443.9,398.0 443.7,397.0 443.5,396.0 443.2,395.0 443.0,394.0 442.7,393.0 442.4,392.0 442.2,391.0 441.9,390.0 441.6,389.0 441.3,388.0 441.0,387.0 440.7,386.0 440.4,385.0 440.1,384.0 439.7,383.0 439.4,382.0 439.0,381.0 438.7,380.0 438.3,379.0 438.0,378.0 437.6,377.0 437.3,376.0 436.9,375.0 436.6,374.0 436.2,373.0 435.8,372.0 435.4,371.0 435.0,370.0 434.6,369.0 434.2,368.0 433.7,367.0 433.3,366.0 432.8,365.0 432.4,364.0 431.9,363.0 431.4,362.0 431.0,361.0 430.5,360.0 430.0,359.0 429.4,358.0 428.9,357.0 428.4,356.0 427.8,355.0 427.2,354.0 426.6,353.0 426.0,352.0 425.4,351.0 424.8,350.0 424.2,349.0 423.6,348.0 422.9,347.0 422.3,346.0 421.7,345.0 421.0,344.0 420.4,343.0 419.7,342.0 419.0,341.0 418.4,340.0 417.7,339.0 417.0,338.0 416.4,337.0 415.7,336.0 415.0,335.0 414.3,334.0 413.7,333.0 413.0,332.0 412.3,331.0 411.6,330.0 411.0,329.0 410.3,328.0 409.6,327.0 409.0,326.0 408.3,325.0 407.7,324.0 407.0,323.0 406.4,322.0 405.7,321.0 405.1,320.0 404.5,319.0 403.9,318.0 403.3,317.0 402.6,316.0 402.0,315.0 401.5,314.0 400.9,313.0 400.3,312.0 399.5,311.0 398.6,310.0 397.7,309.0 396.8,308.0 396.3,307.0 395.8,306.0 395.2,305.0 394.7,304.0 394.2,303.0 393.7,302.0 393.2,301.0 392.7,300.0 392.3,299.0 391.8,298.0 391.3,297.0 390.9,296.0 390.5,295.0 390.0,294.0 389.6,293.0 389.2,292.0 388.8,291.0 388.4,290.0 388.0,289.0 387.6,288.0 387.2,287.0 386.9,286.0 386.5,285.0 386.2,284.0 385.8,283.0 385.5,282.0 385.2,281.0 384.9,280.0 384.5,279.0 384.2,278.0 383.9,277.0 383.6,276.0 383.4,275.0 383.1,274.0 382.8,273.0 382.5,272.0 382.3,271.0 382.0,270.0 381.8,269.0 381.5,268.0 381.3,267.0 381.1,266.0 380.8,265.0 380.6,264.0 380.4,263.0 380.2,262.0 380.0,261.0 379.8,260.0 379.6,259.0 379.4,258.0 379.2,257.0 379.0,256.0 378.8,255.0 378.6,254.0 378.5,253.0 378.3,252.0 378.1,251.0 378.0,250.0 377.8,249.0 377.7,248.0 377.5,247.0 377.4,246.0 377.3,245.0 377.1,244.0 377.0,243.0 376.9,242.0 376.7,241.0 376.6,240.0 376.5,239.0 376.4,238.0 376.3,237.0 376.1,236.0 376.0,235.0 375.9,234.0 375.8,233.0 375.7,232.0 375.6,231.0 375.5,230.0 375.4,229.0 375.3,228.0 375.2,227.0 375.1,226.0 375.0,225.0 374.9,224.0 374.8,223.0 374.8,222.0 374.7,221.0 374.6,220.0 374.5,219.0 374.4,218.0 374.4,217.0 374.3,216.0 374.2,215.0 374.1,214.0 374.1,213.0 374.0,212.0 373.9,211.0 373.8,210.0 373.8,209.0 373.7,208.0 373.7,207.0 373.6,206.0 373.4,205.0 373.3,204.0 373.1,203.0 373.1,202.0 373.0,201.0 373.0,200.0 372.9,199.0 372.8,198.0 372.8,197.0 372.7,196.0 372.7,195.0 372.6,194.0 372.6,193.0 372.5,192.0 372.5,191.0 372.4,190.0 372.4,189.0 372.3,188.0 372.3,187.0 372.2,186.0 372.2,185.0 372.2,184.0 372.1,183.0 372.1,182.0 372.0,181.0 371.9,180.0 371.8,179.0 371.7,178.0 371.6,177.0 371.5,176.0 371.4,175.0 371.3,174.0"/>
<polygon points="396.1,174.0 396.1,175.0 396.1,176.0 396.0,177.0 396.0,178.0 395.9,179.0 395.9,180.0 395.9,181.0 395.9,182.0 396.0,183.0 396.0,184.0 396.0,185.0 396.1,186.0 396.1,187.0 396.2,188.0 396.2,189.0 396.2,190.0 396.3,191.0 396.3,192.0 396.4,193.0 396.4,194.0 396.5,195.0 396.5,196.0 396.6,197.0 396.6,198.0 396.6,199.0 396.7,200.0 396.7,201.0 396.8,202.0 396.9,203.0 396.8,204.0 396.8,205.0 396.8,206.0 396.8,207.0 396.9,208.0 396.9,209.0 397.0,210.0 397.1,211.0 397.1,212.0 397.2,213.0 397.3,214.0 397.3,215.0 397.4,216.0 397.5,217.0 397.5,218.0 397.6,219.0 397.7,220.0 397.8,221.0 397.8,222.0 397.9,223.0 398.0,224.0 398.1,225.0 398.2,226.0 398.2,227.0 398.3,228.0 398.4,229.0 398.5,230.0 398.6,231.0 398.7,232.0 398.8,233.0 398.9,234.0 399.0,235.0 399.1,236.0 399.2,237.0 399.3,238.0 399.4,239.0 399.6,240.0 399.7,241.0 399.8,242.0 399.9,243.0 400.0,244.0 400.2,245.0 400.3,246.0 400.4,247.0 400.6,248.0 400.7,249.0 400.9,250.0 401.0,251.0 401.2,252.0 401.3,253.0 401.5,254.0 401.6,255.0 401.8,256.0 401.9,257.0 402.1,258.0 402.3,259.0 402.4,260.0 402.6,261.0 402.8,262.0 403.0,263.0 403.1,264.0 403.3,265.0 403.5,266.0 403.7,267.0 403.9,268.0 404.1,269.0 404.4,270.0 404.6,271.0 404.8,272.0 405.0,273.0 405.3,274.0 405.5,275.0 405.8,276.0 406.0,277.0 406.3,278.0 406.6,279.0 406.8,280.0 407.1,281.0 407.4,282.0 407.7,283.0 408.0,284.0 408.3,285.0 408.6,286.0 409.0,287.0 409.3,288.0 409.6,289.0 410.0,290.0 410.3,291.0 410.7,292.0 411.1,293.0 411.5,294.0 411.9,295.0 412.3,296.0 412.7,297.0 413.1,298.0 413.5,299.0 413.9,300.0 414.4,301.0 414.8,302.0 415.3,303.0 415.8,304.0 416.2,305.0 416.7,306.0 417.2,307.0 417.7,308.0 417.9,309.0 418.1,310.0 418.3,311.0 418.7,312.0 419.2,313.0 419.8,314.0 420.4,315.0 421.0,316.0 421.6,317.0 422.2,318.0 422.8,319.0 423.4,320.0 424.0,321.0 424.6,322.0 425.3,323.0 425.9,324.0 426.5,325.0 427.2,326.0 427.8,327.0 428.5,328.0 429.2,329.0 429.8,330.0 430.5,331.0 431.2,332.0 431.8,333.0 432.5,334.0 433.2,335.0 433.8,336.0 434.5,337.0 435.2,338.0 435.9,339.0 436.5,340.0 437.2,341.0 437.9,342.0 438.5,343.0 439.2,344.0 439.8,345.0 440.5,346.0 441.1,347.0 441.8,348.0 442.4,349.0 443.0,350.0 443.6,351.0 444.3,352.0 444.9,353.0 445.5,354.0 446.1,355.0 446.6,356.0 447.3,357.0 447.9,358.0 448.5,359.0 449.1,360.0 449.6,361.0 450.2,362.0 450.8,363.0 451.3,364.0 451.9,365.0 452.4,366.0 453.0,367.0 453.5,368.0 454.0,369.0 454.5,370.0 455.0,371.0 455.5,372.0 456.0,373.0 456.4,374.0 456.9,375.0 457.4,376.0 457.8,377.0 458.2,378.0 458.6,379.0 459.0,380.0 459.4,381.0 459.8,382.0 460.1,383.0 460.5,384.0 460.8,385.0 461.1,386.0 461.5,387.0 461.8,388.0 462.1,389.0 462.4,390.0 462.7,391.0 463.0,392.0 463.3,393.0 463.6,394.0 463.8,395.0 464.1,396.0 464.4,397.0 464.6,398.0 464.9,399.0 465.1,400.0 465.3,401.0 465.6,402.0 465.8,403.0 466.0,404.0 466.3,405.0 466.5,406.0 466.7,407.0 466.9,408.0 467.1,409.0 467.3,410.0 467.5,411.0 467.7,412.0 467.9,413.0 468.1,414.0 468.2,415.0 468.4,416.0 468.6,417.0 468.8,418.0 468.9,419.0 469.1,420.0 469.2,421.0 469.4,422.0 469.6,423.0 469.7,424.0 469.8,425.0 470.0,426.0 470.1,427.0 470.3,428.0 470.4,429.0 470.5,430.0 470.7,431.0 470.8,432.0 470.9,433.0 471.0,434.0 471.2,435.0 471.3,436.0 471.4,437.0 471.5,438.0 471.6,439.0 471.7,440.0 471.8,441.0 471.9,442.0 472.0,443.0 472.1,444.0 472.2,445.0 472.3,446.0 472.4,447.0 472.5,448.0 472.6,449.0 472.7,450.0 472.8,451.0 472.9,452.0 473.0,453.0 473.0,454.0 473.1,455.0 473.2,456.0 473.3,457.0 473.4,458.0 473.4,459.0 473.5,460.0 473.6,461.0 473.6,462.0 473.7,463.0 473.8,464.0 473.9,465.0 473.9,466.0 474.0,467.0 474.1,468.0 474.2,469.0 474.3,470.0 474.4,471.0 474.6,472.0 474.7,473.0 474.8,474.0 475.0,475.0 475.1,476.0 475.2,477.0 475.4,478.0 475.6,479.0 475.9,480.0 476.0,481.0 476.0,481.0 476.1,480.0 476.2,479.0 476.3,478.0 476.4,477.0 476.5,476.0 476.5,475.0 476.5,474.0 476.6,473.0 476.6,472.0 476.6,471.0 476.6,470.0 476.7,469.0 476.7,468.0 476.6,467.0 476.6,466.0 476.5,465.0 476.5,464.0 476.4,463.0 476.4,462.0 476.3,461.0 476.3,460.0 476.2,459.0 476.2,458.0 476.1,457.0 476.0,456.0 476.0,455.0 475.9,454.0 475.9,453.0 475.8,452.0 475.7,451.0 475.7,450.0 475.6,449.0 475.5,448.0 475.5,447.0 475.4,446.0 475.3,445.0 475.2,444.0 475.2,443.0 475.1,442.0 475.0,441.0 474.9,440.0 474.8,439.0 474.7,438.0 474.7,437.0 474.6,436.0 474.5,435.0 474.4,434.0 474.3,433.0 474.2,432.0 474.1,431.0 474.0,430.0 473.9,429.0 473.8,428.0 473.6,427.0 473.5,426.0 473.4,425.0 473.3,424.0 473.2,423.0 473.0,422.0 472.9,421.0 472.8,420.0 472.6,419.0 472.5,418.0 472.3,417.0 472.2,416.0 472.1,415.0 471.9,414.0 471.7,413.0 471.6,412.0 471.4,411.0 471.2,410.0 471.1,409.0 470.9,408.0 470.7,407.0 470.5,406.0 470.3,405.0 470.1,404.0 469.9,403.0 469.7,402.0 469.5,401.0 469.3,400.0 469.1,399.0 468.8,398.0 468.6,397.0 468.3,396.0 468.1,395.0 467.8,394.0 467.6,393.0 467.3,392.0 467.0,391.0 466.7,390.0 466.4,389.0 466.1,388.0 465.8,387.0 465.5,386.0 465.2,385.0 464.9,384.0 464.6,383.0 464.2,382.0 463.9,381.0 463.5,380.0 463.1,379.0 462.8,378.0 462.4,377.0 462.1,376.0 461.7,375.0 461.4,374.0 461.0,373.0 460.6,372.0 460.2,371.0 459.8,370.0 459.4,369.0 459.0,368.0 458.5,367.0 458.1,366.0 457.6,365.0 457.2,364.0 456.7,363.0 456.2,362.0 455.8,361.0 455.3,360.0 454.8,359.0 454.2,358.0 453.7,357.0 453.2,356.0 452.6,355.0 452.0,354.0 451.4,353.0 450.8,352.0 450.2,351.0 449.6,350.0 449.0,349.0 448.4,348.0 447.7,347.0 447.1,346.0 446.5,345.0 445.8,344.0 445.2,343.0 444.5,342.0 443.8,341.0 443.2,340.0 442.5,339.0 441.8,338.0 441.2,337.0 440.5,336.0 439.8,335.0 439.1,334.0 438.5,333.0 437.8,332.0 437.1,331.0 436.4,330.0 435.8,329.0 435.1,328.0 434.4,327.0 433.8,326.0 433.1,325.0 432.5,324.0 431.8,323.0 431.2,322.0 430.5,321.0 429.9,320.0 429.3,319.0 428.7,318.0 428.1,317.0 427.4,316.0 426.8,315.0 426.3,314.0 425.7,313.0 425.1,312.0 424.3,311.0 423.4,310.0 422.5,309.0 421.6,308.0 421.1,307.0 420.6,306.0 420.0,305.0 419.5,304.0 419.0,303.0 418.5,302.0 418.0,301.0 417.5,300.0 417.1,299.0 416.6,298.0 416.1,297.0 415.7,296.0 415.3,295.0 414.8,294.0 414.4,293.0 414.0,292.0 413.6,291.0 413.2,290.0 412.8,289.0 412.4,288.0 412.0,287.0 411.7,286.0 411.3,285.0 411.0,284.0 410.6,283.0 410.3,282.0 410.0,281.0 409.7,280.0 409.3,279.0 409.0,278.0 408.7,277.0 408.4,276.0 408.2,275.0 407.9,274.0 407.6,273.0 407.3,272.0 407.1,271.0 406.8,270.0 406.6,269.0 406.3,268.0 406.1,267.0 405.9,266.0 405.6,265.0 405.4,264.0 405.2,263.0 405.0,262.0 404.8,261.0 404.6,260.0 404.4,259.0 404.2,258.0 404.0,257.0 403.8,256.0 403.6,255.0 403.4,254.0 403.3,253.0 403.1,252.0 402.9,251.0 402.8,250.0 402.6,249.0 402.5,248.0 402.3,247.0 402.2,246.0 402.1,245.0 401.9,244.0 401.8,243.0 401.7,242.0 401.5,241.0 401.4,240.0 401.3,239.0 401.2,238.0 401.1,237.0 400.9,236.0 400.8,235.0 400.7,234.0 400.6,233.0 400.5,232.0 400.4,231.0 400.3,230.0 400.2,229.0 400.1,228.0 400.0,227.0 399.9,226.0 399.8,225.0 399.7,224.0 399.6,223.0 399.6,222.0 399.5,221.0 399.4,220.0 399.3,219.0 399.2,218.0 399.2,217.0 399.1,216.0 399.0,215.0 398.9,214.0 398.9,213.0 398.8,212.0 398.7,211.0 398.6,210.0 398.6,209.0 398.5,208.0 398.5,207.0 398.4,206.0 398.2,205.0 398.1,204.0 397.9,203.0 397.9,202.0 397.8,201.0 397.8,200.0 397.7,199.0 397.6,198.0 397.6,197.0 397.5,196.0 397.5,195.0 397.4,194.0 397.4,193.0 397.3,192.0 397.3,191.0 397.2,190.0 397.2,189.0 397.1,188.0 397.1,187.0 397.0,186.0 397.0,185.0 397.0,184.0 396.9,183.0 396.9,182.0 396.8,181.0 396.7,180.0 396.6,179.0 396.5,178.0 396.4,177.0 396.3,176.0 396.2,175.0 396.1,174.0"/>
<polygon points="296.9,174.0 296.9,175.0 296.9,176.0 296.8,177.0 296.8,178.0 296.7,179.0 296.7,180.0 296.7,181.0 296.7,182.0 296.8,183.0 296.8,184.0 296.8,185.0 296.9,186.0 296.9,187.0 297.0,188.0 297.0,189.0 297.0,190.0 297.1,191.0 297.1,192.0 297.2,193.0 297.2,194.0 297.3,195.0 297.3,196.0 297.4,197.0 297.4,198.0 297.4,199.0 297.5,200.0 297.5,201.0 297.6,202.0 297.7,203.0 297.6,204.0 297.6,205.0 297.6,206.0 297.6,207.0 297.7,208.0 297.7,209.0 297.8,210.0 297.9,211.0 297.9,212.0 298.0,213.0 298.1,214.0 298.1,215.0 298.2,216.0 298.3,217.0 298.3,218.0 298.4,219.0 298.5,220.0 298.6,221.0 298.6,222.0 298.7,223.0 298.8,224.0 298.9,225.0 299.0,226.0 299.0,227.0 299.1,228.0 299.2,229.0 299.3,230.0 299.4,231.0 299.5,232.0 299.6,233.0 299.7,234.0 299.8,235.0 299.9,236.0 300.0,237.0 300.1,238.0 300.2,239.0 300.4,240.0 300.5,241.0 300.6,242.0 300.7,243.0 300.8,244.0 301.0,245.0 301.1,246.0 301.2,247.0 301.4,248.0 301.5,249.0 301.7,250.0 301.8,251.0 302.0,252.0 302.1,253.0 302.3,254.0 302.4,255.0 302.6,256.0 302.7,257.0 302.9,258.0 303.1,259.0 303.2,260.0 303.4,261.0 303.6,262.0 303.8,263.0 303.9,264.0 304.1,265.0 304.3,266.0 304.5,267.0 304.7,268.0 304.9,269.0 305.2,270.0 305.4,271.0 305.6,272.0 305.8,273.0 306.1,274.0 306.3,275.0 306.6,276.0 306.8,277.0 307.1,278.0 307.4,279.0 307.6,280.0 307.9,281.0 308.2,282.0 308.5,283.0 308.8,284.0 309.1,285.0 309.4,286.0 309.8,287.0 310.1,288.0 310.4,289.0 310.8,290.0 311.1,291.0 311.5,292.0 311.9,293.0 312.3,294.0 312.7,295.0 313.1,296.0 313.5,297.0 313.9,298.0 314.3,299.0 314.7,300.0 315.2,301.0 315.6,302.0 316.1,303.0 316.6,304.0 317.0,305.0 317.5,306.0 318.0,307.0 318.5,308.0 318.7,309.0 318.9,310.0 319.1,311.0 319.5,312.0 320.0,313.0 320.6,314.0 321.2,315.0 321.8,316.0 322.4,317.0 323.0,318.0 323.6,319.0 324.2,320.0 324.8,321.0 325.4,322.0 326.1,323.0 326.7,324.0 327.3,325.0 328.0,326.0 328.6,327.0 329.3,328.0 330.0,329.0 330.6,330.0 331.3,331.0 332.0,332.0 332.6,333.0 333.3,334.0 334.0,335.0 334.6,336.0 335.3,337.0 336.0,338.0 336.7,339.0 337.3,340.0 338.0,341.0 338.7,342.0 339.3,343.0 340.0,344.0 340.6,345.0 341.3,346.0 341.9,347.0 342.6,348.0 343.2,349.0 343.8,350.0 344.4,351.0 345.1,352.0 345.7,353.0 346.3,354.0 346.9,355.0 347.4,356.0 348.1,357.0 348.7,358.0 349.3,359.0 349.9,360.0 350.4,361.0 351.0,362.0 351.6,363.0 352.1,364.0 352.7,365.0 353.2,366.0 353.8,367.0 354.3,368.0 354.8,369.0 355.3,370.0 355.8,371.0 356.3,372.0 356.8,373.0 357.2,374.0 357.7,375.0 358.2,376.0 358.6,377.0 359.1,378.0 359.4,379.0 359.8,380.0 360.2,381.0 360.6,382.0 360.9,383.0 361.3,384.0 361.6,385.0 362.0,386.0 362.3,387.0 362.6,388.0 362.9,389.0 363.2,390.0 363.6,391.0 363.8,392.0 364.1,393.0 364.4,394.0 364.7,395.0 365.0,396.0 365.2,397.0 365.5,398.0 365.7,399.0 366.0,400.0 366.2,401.0 366.5,402.0 366.7,403.0 366.9,404.0 367.2,405.0 367.4,406.0 367.6,407.0 367.8,408.0 368.0,409.0 368.2,410.0 368.4,411.0 368.6,412.0 368.8,413.0 369.0,414.0 369.2,415.0 369.3,416.0 369.5,417.0 369.7,418.0 369.8,419.0 370.0,420.0 370.2,421.0 370.3,422.0 370.5,423.0 370.6,424.0 370.8,425.0 370.9,426.0 371.0,427.0 371.2,428.0 371.3,429.0 371.4,430.0 371.6,431.0 371.7,432.0 371.8,433.0 371.9,434.0 372.1,435.0 372.2,436.0 372.3,437.0 372.4,438.0 372.5,439.0 372.6,440.0 372.7,441.0 372.8,442.0 372.9,443.0 373.0,444.0 373.1,445.0 373.2,446.0 373.3,447.0 373.4,448.0 373.5,449.0 373.6,450.0 373.7,451.0 373.8,452.0 373.9,453.0 374.0,454.0 374.0,455.0 374.1,456.0 374.2,457.0 374.3,458.0 374.3,459.0 374.4,460.0 374.5,461.0 374.6,462.0 374.6,463.0 374.7,464.0 374.8,465.0 374.8,466.0 374.9,467.0 375.0,468.0 375.1,469.0 375.2,470.0 375.4,471.0 375.5,472.0 375.6,473.0 375.7,474.0 375.9,475.0 376.0,476.0 376.1,477.0 376.3,478.0 376.5,479.0 376.8,480.0 376.8,480.0 376.9,479.0 377.0,478.0 377.1,477.0 377.2,476.0 377.2,475.0 377.2,474.0 377.2,473.0 377.3,472.0 377.3,471.0 377.3,470.0 377.3,469.0 377.4,468.0 377.3,467.0 377.3,466.0 377.2,465.0 377.2,464.0 377.1,463.0 377.1,462.0 377.0,461.0 377.0,460.0 376.9,459.0 376.8,458.0 376.8,457.0 376.7,456.0 376.7,455.0 376.6,454.0 376.5,453.0 376.5,452.0 376.4,451.0 376.4,450.0 376.3,449.0 376.2,448.0 376.2,447.0 376.1,446.0 376.0,445.0 375.9,444.0 375.9,443.0 375.8,442.0 375.7,441.0 375.6,440.0 375.5,439.0 375.4,438.0 375.4,437.0 375.3,436.0 375.2,435.0 375.1,434.0 375.0,433.0 374.9,432.0 374.8,431.0 374.7,430.0 374.6,429.0 374.4,428.0 374.3,427.0 374.2,426.0 374.1,425.0 374.0,424.0 373.9,423.0 373.7,422.0 373.6,421.0 373.5,420.0 373.3,419.0 373.2,418.0 373.0,417.0 372.9,416.0 372.7,415.0 372.6,414.0 372.4,413.0 372.3,412.0 372.1,411.0 371.9,410.0 371.8,409.0 371.6,408.0 371.4,407.0 371.2,406.0 371.0,405.0 370.8,404.0 370.6,403.0 370.4,402.0 370.2,401.0 370.0,400.0 369.8,399.0 369.5,398.0 369.3,397.0 369.1,396.0 368.8,395.0 368.6,394.0 368.3,393.0 368.0,392.0 367.8,391.0 367.5,390.0 367.2,389.0 366.9,388.0 366.6,387.0 366.3,386.0 366.0,385.0 365.7,384.0 365.3,383.0 365.0,382.0 364.6,381.0 364.3,380.0 363.9,379.0 363.6,378.0 363.2,377.0 362.9,376.0 362.5,375.0 362.2,374.0 361.8,373.0 361.4,372.0 361.0,371.0 360.6,370.0 360.2,369.0 359.8,368.0 359.3,367.0 358.9,366.0 358.4,365.0 358.0,364.0 357.5,363.0 357.0,362.0 356.6,361.0 356.1,360.0 355.6,359.0 355.0,358.0 354.5,357.0 354.0,356.0 353.4,355.0 352.8,354.0 352.2,353.0 351.6,352.0 351.0,351.0 350.4,350.0 349.8,349.0 349.2,348.0 348.5,347.0 347.9,346.0 347.3,345.0 346.6,344.0 346.0,343.0 345.3,342.0 344.6,341.0 344.0,340.0 343.3,339.0 342.6,338.0 342.0,337.0 341.3,336.0 340.6,335.0 339.9,334.0 339.3,333.0 338.6,332.0 337.9,331.0 337.2,330.0 336.6,329.0 335.9,328.0 335.2,327.0 334.6,326.0 333.9,325.0 333.3,324.0 332.6,323.0 332.0,322.0 331.3,321.0 330.7,320.0 330.1,319.0 329.5,318.0 328.9,317.0 328.2,316.0 327.6,315.0 327.1,314.0 326.5,313.0 325.9,312.0 325.1,311.0 324.2,310.0 323.3,309.0 322.4,308.0 321.9,307.0 321.4,306.0 320.8,305.0 320.3,304.0 319.8,303.0 319.3,302.0 318.8,301.0 318.3,300.0 317.9,299.0 317.4,298.0 316.9,297.0 316.5,296.0 316.1,295.0 315.6,294.0 315.2,293.0 314.8,292.0 314.4,291.0 314.0,290.0 313.6,289.0 313.2,288.0 312.8,287.0 312.5,286.0 312.1,285.0 311.8,284.0 311.4,283.0 311.1,282.0 310.8,281.0 310.5,280.0 310.1,279.0 309.8,278.0 309.5,277.0 309.2,276.0 309.0,275.0 308.7,274.0 308.4,273.0 308.1,272.0 307.9,271.0 307.6,270.0 307.4,269.0 307.1,268.0 306.9,267.0 306.7,266.0 306.4,265.0 306.2,264.0 306.0,263.0 305.8,262.0 305.6,261.0 305.4,260.0 305.2,259.0 305.0,258.0 304.8,257.0 304.6,256.0 304.4,255.0 304.2,254.0 304.1,253.0 303.9,252.0 303.7,251.0 303.6,250.0 303.4,249.0 303.3,248.0 303.1,247.0 303.0,246.0 302.9,245.0 302.7,244.0 302.6,243.0 302.5,242.0 302.3,241.0 302.2,240.0 302.1,239.0 302.0,238.0 301.9,237.0 301.7,236.0 301.6,235.0 301.5,234.0 301.4,233.0 301.3,232.0 301.2,231.0 301.1,230.0 301.0,229.0 300.9,228.0 300.8,227.0 300.7,226.0 300.6,225.0 300.5,224.0 300.4,223.0 300.4,222.0 300.3,221.0 300.2,220.0 300.1,219.0 300.0,218.0 300.0,217.0 299.9,216.0 299.8,215.0 299.7,214.0 299.7,213.0 299.6,212.0 299.5,211.0 299.4,210.0 299.4,209.0 299.3,208.0 299.3,207.0 299.2,206.0 299.0,205.0 298.9,204.0 298.7,203.0 298.7,202.0 298.6,201.0 298.6,200.0 298.5,199.0 298.4,198.0 298.4,197.0 298.3,196.0 298.3,195.0 298.2,194.0 298.2,193.0 298.1,192.0 298.1,191.0 298.0,190.0 298.0,189.0 297.9,188.0 297.9,187.0 297.8,186.0 297.8,185.0 297.8,184.0 297.7,183.0 297.7,182.0 297.6,181.0 297.5,180.0 297.4,179.0 297.3,178.0 297.2,177.0 297.1,176.0 297.0,175.0 296.9,174.0"/>
<polygon points="272.1,174.0 272.1,175.0 272.1,176.0 272.0,177.0 272.0,178.0 271.9,179.0 271.9,180.0 271.9,181.0 271.9,182.0 272.0,183.0 272.0,184.0 272.0,185.0 272.1,186.0 272.1,187.0 272.2,188.0 272.2,189.0 272.2,190.0 272.3,191.0 272.3,192.0 272.4,193.0 272.4,194.0 272.5,195.0 272.5,196.0 272.6,197.0 272.6,198.0 272.6,199.0 272.7,200.0 272.7,201.0 272.8,202.0 272.9,203.0 272.8,204.0 272.8,205.0 272.8,206.0 272.8,207.0 272.9,208.0 272.9,209.0 273.0,210.0 273.1,211.0 273.1,212.0 273.2,213.0 273.3,214.0 273.3,215.0 273.4,216.0 273.5,217.0 273.5,218.0 273.6,219.0 273.7,220.0 273.8,221.0 273.8,222.0 273.9,223.0 274.0,224.0 274.1,225.0 274.2,226.0 274.2,227.0 274.3,228.0 274.4,229.0 274.5,230.0 274.6,231.0 274.7,232.0 274.8,233.0 274.9,234.0 275.0,235.0 275.1,236.0 275.2,237.0 275.3,238.0 275.4,239.0 275.6,240.0 275.7,241.0 275.8,242.0 275.9,243.0 276.0,244.0 276.2,245.0 276.3,246.0 276.4,247.0 276.6,248.0 276.7,249.0 276.9,250.0 277.0,251.0 277.2,252.0 277.3,253.0 277.5,254.0 277.6,255.0 277.8,256.0 277.9,257.0 278.1,258.0 278.3,259.0 278.4,260.0 278.6,261.0 278.8,262.0 279.0,263.0 279.1,264.0 279.3,265.0 279.5,266.0 279.7,267.0 279.9,268.0 280.1,269.0 280.4,270.0 280.6,271.0 280.8,272.0 281.0,273.0 281.3,274.0 281.5,275.0 281.8,276.0 282.0,277.0 282.3,278.0 282.6,279.0 282.8,280.0 283.1,281.0 283.4,282.0 283.7,283.0 284.0,284.0 284.3,285.0 284.6,286.0 285.0,287.0 285.3,288.0 285.6,289.0 286.0,290.0 286.3,291.0 286.7,292.0 287.1,293.0 287.5,294.0 287.9,295.0 288.3,296.0 288.7,297.0 289.1,298.0 289.5,299.0 289.9,300.0 290.4,301.0 290.8,302.0 291.3,303.0 291.8,304.0 292.2,305.0 292.7,306.0 293.2,307.0 293.7,308.0 293.9,309.0 294.1,310.0 294.3,311.0 294.7,312.0 295.2,313.0 295.8,314.0 296.4,315.0 297.0,316.0 297.6,317.0 298.2,318.0 298.8,319.0 299.4,320.0 300.0,321.0 300.6,322.0 301.3,323.0 301.9,324.0 302.5,325.0 303.2,326.0 303.8,327.0 304.5,328.0 305.2,329.0 305.8,330.0 306.5,331.0 307.2,332.0 307.8,333.0 308.5,334.0 309.2,335.0 309.8,336.0 310.5,337.0 311.2,338.0 311.9,339.0 312.5,340.0 313.2,341.0 313.9,342.0 314.5,343.0 315.2,344.0 315.8,345.0 316.5,346.0 317.1,347.0 317.8,348.0 318.4,349.0 319.0,350.0 319.6,351.0 320.3,352.0 320.9,353.0 321.5,354.0 322.1,355.0 322.6,356.0 323.3,357.0 323.9,358.0 324.5,359.0 325.1,360.0 325.6,361.0 326.2,362.0 326.8,363.0 327.3,364.0 327.9,365.0 328.4,366.0 329.0,367.0 329.5,368.0 330.0,369.0 330.5,370.0 331.0,371.0 331.5,372.0 332.0,373.0 332.4,374.0 332.9,375.0 333.4,376.0 333.8,377.0 334.3,378.0 334.7,379.0 335.0,380.0 335.4,381.0 335.8,382.0 336.2,383.0 336.5,384.0 336.9,385.0 337.2,386.0 337.5,387.0 337.8,388.0 338.2,389.0 338.5,390.0 338.8,391.0 339.1,392.0 339.4,393.0 339.7,394.0 339.9,395.0 340.2,396.0 340.5,397.0 340.7,398.0 341.0,399.0 341.2,400.0 341.5,401.0 341.7,402.0 342.0,403.0 342.2,404.0 342.4,405.0 342.6,406.0 342.9,407.0 343.1,408.0 343.3,409.0 343.5,410.0 343.7,411.0 343.9,412.0 344.0,413.0 344.2,414.0 344.4,415.0 344.6,416.0 344.8,417.0 344.9,418.0 345.1,419.0 345.2,420.0 345.4,421.0 345.6,422.0 345.7,423.0 345.9,424.0 346.0,425.0 346.1,426.0 346.3,427.0 346.4,428.0 346.6,429.0 346.7,430.0 346.8,431.0 346.9,432.0 347.1,433.0 347.2,434.0 347.3,435.0 347.4,436.0 347.5,437.0 347.6,438.0 347.8,439.0 347.9,440.0 348.0,441.0 348.1,442.0 348.2,443.0 348.3,444.0 348.4,445.0 348.5,446.0 348.6,447.0 348.7,448.0 348.8,449.0 348.9,450.0 349.0,451.0 349.0,452.0 349.1,453.0 349.2,454.0 349.3,455.0 349.4,456.0 349.5,457.0 349.5,458.0 349.6,459.0 349.7,460.0 349.8,461.0 349.8,462.0 349.9,463.0 350.0,464.0 350.0,465.0 350.1,466.0 350.2,467.0 350.2,468.0 350.4,469.0 350.5,470.0 350.6,471.0 350.8,472.0 350.9,473.0 351.0,474.0 351.1,475.0 351.2,476.0 351.4,477.0 351.6,478.0 351.8,479.0 352.0,480.0 352.0,480.0 352.0,479.0 352.2,478.0 352.3,477.0 352.3,476.0 352.3,475.0 352.4,474.0 352.4,473.0 352.4,472.0 352.4,471.0 352.4,470.0 352.5,469.0 352.5,468.0 352.4,467.0 352.4,466.0 352.4,465.0 352.3,464.0 352.3,463.0 352.2,462.0 352.1,461.0 352.1,460.0 352.0,459.0 352.0,458.0 351.9,457.0 351.9,456.0 351.8,455.0 351.7,454.0 351.7,453.0 351.6,452.0 351.6,451.0 351.5,450.0 351.4,449.0 351.4,448.0 351.3,447.0 351.2,446.0 351.2,445.0 351.1,444.0 351.0,443.0 350.9,442.0 350.8,441.0 350.8,440.0 350.7,439.0 350.6,438.0 350.5,437.0 350.4,436.0 350.3,435.0 350.2,434.0 350.1,433.0 350.0,432.0 349.9,431.0 349.8,430.0 349.7,429.0 349.6,428.0 349.5,427.0 349.4,426.0 349.2,425.0 349.1,424.0 349.0,423.0 348.9,422.0 348.7,421.0 348.6,420.0 348.5,419.0 348.3,418.0 348.2,417.0 348.0,416.0 347.9,415.0 347.7,414.0 347.6,413.0 347.4,412.0 347.3,411.0 347.1,410.0 346.9,409.0 346.7,408.0 346.6,407.0 346.4,406.0 346.2,405.0 346.0,404.0 345.8,403.0 345.6,402.0 345.4,401.0 345.1,400.0 344.9,399.0 344.7,398.0 344.5,397.0 344.2,396.0 344.0,395.0 343.7,394.0 343.5,393.0 343.2,392.0 342.9,391.0 342.7,390.0 342.4,389.0 342.1,388.0 341.8,387.0 341.5,386.0 341.2,385.0 340.8,384.0 340.5,383.0 340.2,382.0 339.8,381.0 339.5,380.0 339.1,379.0 338.8,378.0 338.4,377.0 338.1,376.0 337.7,375.0 337.4,374.0 337.0,373.0 336.6,372.0 336.2,371.0 335.8,370.0 335.4,369.0 335.0,368.0 334.5,367.0 334.1,366.0 333.6,365.0 333.2,364.0 332.7,363.0 332.2,362.0 331.8,361.0 331.3,360.0 330.8,359.0 330.2,358.0 329.7,357.0 329.2,356.0 328.6,355.0 328.0,354.0 327.4,353.0 326.8,352.0 326.2,351.0 325.6,350.0 325.0,349.0 324.4,348.0 323.7,347.0 323.1,346.0 322.5,345.0 321.8,344.0 321.2,343.0 320.5,342.0 319.8,341.0 319.2,340.0 318.5,339.0 317.8,338.0 317.2,337.0 316.5,336.0 315.8,335.0 315.1,334.0 314.5,333.0 313.8,332.0 313.1,331.0 312.4,330.0 311.8,329.0 311.1,328.0 310.4,327.0 309.8,326.0 309.1,325.0 308.5,324.0 307.8,323.0 307.2,322.0 306.5,321.0 305.9,320.0 305.3,319.0 304.7,318.0 304.1,317.0 303.4,316.0 302.8,315.0 302.3,314.0 301.7,313.0 301.1,312.0 300.3,311.0 299.4,310.0 298.5,309.0 297.6,308.0 297.1,307.0 296.6,306.0 296.0,305.0 295.5,304.0 295.0,303.0 294.5,302.0 294.0,301.0 293.5,300.0 293.1,299.0 292.6,298.0 292.1,297.0 291.7,296.0 291.3,295.0 290.8,294.0 290.4,293.0 290.0,292.0 289.6,291.0 289.2,290.0 288.8,289.0 288.4,288.0 288.0,287.0 287.7,286.0 287.3,285.0 287.0,284.0 286.6,283.0 286.3,282.0 286.0,281.0 285.7,280.0 285.3,279.0 285.0,278.0 284.7,277.0 284.4,276.0 284.2,275.0 283.9,274.0 283.6,273.0 283.3,272.0 283.1,271.0 282.8,270.0 282.6,269.0 282.3,268.0 282.1,267.0 281.9,266.0 281.6,265.0 281.4,264.0 281.2,263.0 281.0,262.0 280.8,261.0 280.6,260.0 280.4,259.0 280.2,258.0 280.0,257.0 279.8,256.0 279.6,255.0 279.4,254.0 279.3,253.0 279.1,252.0 278.9,251.0 278.8,250.0 278.6,249.0 278.5,248.0 278.3,247.0 278.2,246.0 278.1,245.0 277.9,244.0 277.8,243.0 277.7,242.0 277.5,241.0 277.4,240.0 277.3,239.0 277.2,238.0 277.1,237.0 276.9,236.0 276.8,235.0 276.7,234.0 276.6,233.0 276.5,232.0 276.4,231.0 276.3,230.0 276.2,229.0 276.1,228.0 276.0,227.0 275.9,226.0 275.8,225.0 275.7,224.0 275.6,223.0 275.6,222.0 275.5,221.0 275.4,220.0 275.3,219.0 275.2,218.0 275.2,217.0 275.1,216.0 275.0,215.0 274.9,214.0 274.9,213.0 274.8,212.0 274.7,211.0 274.6,210.0 274.6,209.0 274.5,208.0 274.5,207.0 274.4,206.0 274.2,205.0 274.1,204.0 273.9,203.0 273.9,202.0 273.8,201.0 273.8,200.0 273.7,199.0 273.6,198.0 273.6,197.0 273.5,196.0 273.5,195.0 273.4,194.0 273.4,193.0 273.3,192.0 273.3,191.0 273.2,190.0 273.2,189.0 273.1,188.0 273.1,187.0 273.0,186.0 273.0,185.0 273.0,184.0 272.9,183.0 272.9,182.0 272.8,181.0 272.7,180.0 272.6,179.0 272.5,178.0 272.4,177.0 272.3,176.0 272.2,175.0 272.1,174.0"/>
<polygon points="223.9,205.0 223.9,206.0 223.9,207.0 223.9,208.0 224.0,209.0 224.0,210.0 224.1,211.0 224.1,212.0 224.2,213.0 224.3,214.0 224.3,215.0 224.4,216.0 224.5,217.0 224.5,218.0 224.6,219.0 224.7,220.0 224.7,221.0 224.8,222.0 224.9,223.0 225.0,224.0 225.0,225.0 225.1,226.0 225.2,227.0 225.3,228.0 225.4,229.0 225.5,230.0 225.5,231.0 225.6,232.0 225.7,233.0 225.8,234.0 225.9,235.0 226.0,236.0 226.1,237.0 226.2,238.0 226.3,239.0 226.5,240.0 226.6,241.0 226.7,242.0 226.8,243.0 226.9,244.0 227.0,245.0 227.1,246.0 227.3,247.0 227.4,248.0 227.5,249.0 227.7,250.0 227.8,251.0 228.0,252.0 228.1,253.0 228.3,254.0 228.4,255.0 228.6,256.0 228.7,257.0 228.9,258.0 229.1,259.0 229.2,260.0 229.4,261.0 229.6,262.0 229.8,263.0 230.0,264.0 230.2,265.0 230.4,266.0 230.6,267.0 230.8,268.0 231.0,269.0 231.2,270.0 231.5,271.0 231.7,272.0 231.9,273.0 232.2,274.0 232.4,275.0 232.7,276.0 233.0,277.0 233.2,278.0 233.5,279.0 233.8,280.0 234.1,281.0 234.4,282.0 234.7,283.0 235.0,284.0 235.3,285.0 235.6,286.0 236.0,287.0 236.3,288.0 236.6,289.0 237.0,290.0 237.4,291.0 237.7,292.0 238.1,293.0 238.5,294.0 238.9,295.0 239.3,296.0 239.7,297.0 240.1,298.0 240.6,299.0 241.0,300.0 241.5,301.0 241.9,302.0 242.4,303.0 242.9,304.0 243.4,305.0 243.9,306.0 244.4,307.0 244.9,308.0 245.4,309.0 246.0,310.0 246.5,311.0 247.1,312.0 247.6,313.0 248.2,314.0 248.8,315.0 249.4,316.0 250.0,317.0 250.6,318.0 251.2,319.0 251.8,320.0 252.4,321.0 253.1,322.0 253.7,323.0 254.3,324.0 255.0,325.0 255.6,326.0 256.3,327.0 257.0,328.0 257.6,329.0 258.3,330.0 258.9,331.0 259.6,332.0 260.3,333.0 261.0,334.0 261.6,335.0 262.3,336.0 263.0,337.0 263.6,338.0 264.3,339.0 265.0,340.0 265.6,341.0 266.3,342.0 267.0,343.0 267.6,344.0 268.3,345.0 268.9,346.0 269.6,347.0 270.2,348.0 270.8,349.0 271.5,350.0 272.1,351.0 272.7,352.0 273.3,353.0 273.9,354.0 274.5,355.0 275.1,356.0 275.6,357.0 276.2,358.0 276.8,359.0 277.3,360.0 277.9,361.0 278.4,362.0 278.9,363.0 279.4,364.0 280.0,365.0 280.5,366.0 280.9,367.0 281.4,368.0 281.9,369.0 282.4,370.0 282.8,371.0 283.3,372.0 283.7,373.0 284.1,374.0 284.6,375.0 285.0,376.0 285.4,377.0 285.8,378.0 286.2,379.0 286.5,380.0 286.9,381.0 287.3,382.0 287.6,383.0 288.0,384.0 288.3,385.0 288.7,386.0 289.0,387.0 289.3,388.0 289.6,389.0 289.9,390.0 290.2,391.0 290.5,392.0 290.8,393.0 291.1,394.0 291.3,395.0 291.6,396.0 291.9,397.0 292.1,398.0 292.4,399.0 292.6,400.0 292.8,401.0 293.1,402.0 293.3,403.0 293.5,404.0 293.8,405.0 294.0,406.0 294.2,407.0 294.4,408.0 294.6,409.0 294.8,410.0 295.0,411.0 295.2,412.0 295.4,413.0 295.6,414.0 295.8,415.0 295.9,416.0 296.1,417.0 296.3,418.0 296.4,419.0 296.6,420.0 296.8,421.0 296.9,422.0 297.1,423.0 297.2,424.0 297.4,425.0 297.5,426.0 297.6,427.0 297.8,428.0 297.9,429.0 298.0,430.0 298.2,431.0 298.3,432.0 298.4,433.0 298.5,434.0 298.7,435.0 298.8,436.0 298.9,437.0 299.0,438.0 299.1,439.0 299.2,440.0 299.3,441.0 299.4,442.0 299.5,443.0 299.6,444.0 299.7,445.0 299.8,446.0 299.9,447.0 300.0,448.0 300.1,449.0 300.2,450.0 300.3,451.0 300.4,452.0 300.5,453.0 300.6,454.0 300.7,455.0 300.8,456.0 300.9,457.0 300.9,458.0 301.0,459.0 301.1,460.0 301.2,461.0 301.3,462.0 301.5,463.0 301.5,464.0 301.5,464.0 301.5,463.0 301.5,462.0 301.5,461.0 301.5,460.0 301.4,459.0 301.4,458.0 301.3,457.0 301.3,456.0 301.2,455.0 301.2,454.0 301.1,453.0 301.0,452.0 301.0,451.0 300.9,450.0 300.9,449.0 300.8,448.0 300.7,447.0 300.7,446.0 300.6,445.0 300.5,444.0 300.4,443.0 300.4,442.0 300.3,441.0 300.2,440.0 300.1,439.0 300.0,438.0 299.9,437.0 299.9,436.0 299.8,435.0 299.7,434.0 299.6,433.0 299.5,432.0 299.4,431.0 299.3,430.0 299.2,429.0 299.0,428.0 298.9,427.0 298.8,426.0 298.7,425.0 298.6,424.0 298.4,423.0 298.3,422.0 298.2,421.0 298.1,420.0 297.9,419.0 297.8,418.0 297.6,417.0 297.5,416.0 297.3,415.0 297.2,414.0 297.0,413.0 296.9,412.0 296.7,411.0 296.5,410.0 296.4,409.0 296.2,408.0 296.0,407.0 295.8,406.0 295.6,405.0 295.4,404.0 295.2,403.0 295.0,402.0 294.8,401.0 294.6,400.0 294.4,399.0 294.1,398.0 293.9,397.0 293.6,396.0 293.4,395.0 293.1,394.0 292.9,393.0 292.6,392.0 292.3,391.0 292.0,390.0 291.7,389.0 291.4,388.0 291.1,387.0 290.8,386.0 290.5,385.0 290.2,384.0 289.8,383.0 289.5,382.0 289.1,381.0 288.8,380.0 288.4,379.0 288.0,378.0 287.7,377.0 287.3,376.0 286.9,375.0 286.5,374.0 286.0,373.0 285.6,372.0 285.2,371.0 284.7,370.0 284.3,369.0 283.8,368.0 283.4,367.0 282.9,366.0 282.4,365.0 281.9,364.0 281.4,363.0 280.9,362.0 280.3,361.0 279.8,360.0 279.3,359.0 278.7,358.0 278.1,357.0 277.6,356.0 277.0,355.0 276.4,354.0 275.8,353.0 275.2,352.0 274.6,351.0 274.0,350.0 273.4,349.0 272.7,348.0 272.1,347.0 271.5,346.0 270.8,345.0 270.2,344.0 269.5,343.0 268.8,342.0 268.2,341.0 267.5,340.0 266.9,339.0 266.2,338.0 265.5,337.0 264.8,336.0 264.2,335.0 263.5,334.0 262.8,333.0 262.1,332.0 261.5,331.0 260.8,330.0 260.1,329.0 259.5,328.0 258.8,327.0 258.1,326.0 257.5,325.0 256.8,324.0 256.2,323.0 255.5,322.0 254.9,321.0 254.3,320.0 253.6,319.0 253.0,318.0 252.4,317.0 251.8,316.0 251.2,315.0 250.6,314.0 250.1,313.0 249.5,312.0 248.9,311.0 248.4,310.0 247.8,309.0 247.3,308.0 246.7,307.0 246.2,306.0 245.7,305.0 245.2,304.0 244.7,303.0 244.2,302.0 243.8,301.0 243.3,300.0 242.8,299.0 242.4,298.0 241.9,297.0 241.5,296.0 241.0,295.0 240.6,294.0 240.2,293.0 239.8,292.0 239.4,291.0 239.0,290.0 238.6,289.0 238.2,288.0 237.9,287.0 237.5,286.0 237.2,285.0 236.8,284.0 236.5,283.0 236.1,282.0 235.8,281.0 235.5,280.0 235.2,279.0 234.9,278.0 234.6,277.0 234.3,276.0 234.1,275.0 233.8,274.0 233.5,273.0 233.2,272.0 233.0,271.0 232.7,270.0 232.5,269.0 232.3,268.0 232.0,267.0 231.8,266.0 231.6,265.0 231.4,264.0 231.1,263.0 230.9,262.0 230.7,261.0 230.5,260.0 230.3,259.0 230.1,258.0 230.0,257.0 229.8,256.0 229.6,255.0 229.4,254.0 229.3,253.0 229.1,252.0 228.9,251.0 228.8,250.0 228.6,249.0 228.5,248.0 228.3,247.0 228.2,246.0 228.0,245.0 227.9,244.0 227.7,243.0 227.6,242.0 227.4,241.0 227.3,240.0 227.2,239.0 227.1,238.0 226.9,237.0 226.8,236.0 226.7,235.0 226.6,234.0 226.5,233.0 226.4,232.0 226.3,231.0 226.2,230.0 226.1,229.0 226.0,228.0 225.9,227.0 225.8,226.0 225.7,225.0 225.6,224.0 225.5,223.0 225.4,222.0 225.3,221.0 225.2,220.0 225.1,219.0 225.0,218.0 225.0,217.0 224.9,216.0 224.8,215.0 224.7,214.0 224.6,213.0 224.6,212.0 224.5,211.0 224.4,210.0 224.3,209.0 224.3,208.0 224.2,207.0 224.0,206.0 223.9,205.0"/>
<polygon points="447.1,205.0 447.1,206.0 447.1,207.0 447.1,208.0 447.2,209.0 447.2,210.0 447.3,211.0 447.3,212.0 447.4,213.0 447.5,214.0 447.5,215.0 447.6,216.0 447.7,217.0 447.7,218.0 447.8,219.0 447.9,220.0 447.9,221.0 448.0,222.0 448.1,223.0 448.2,224.0 448.2,225.0 448.3,226.0 448.4,227.0 448.5,228.0 448.6,229.0 448.7,230.0 448.7,231.0 448.8,232.0 448.9,233.0 449.0,234.0 449.1,235.0 449.2,236.0 449.3,237.0 449.4,238.0 449.5,239.0 449.7,240.0 449.8,241.0 449.9,242.0 450.0,243.0 450.1,244.0 450.2,245.0 450.3,246.0 450.5,247.0 450.6,248.0 450.7,249.0 450.9,250.0 451.0,251.0 451.2,252.0 451.3,253.0 451.5,254.0 451.6,255.0 451.8,256.0 451.9,257.0 452.1,258.0 452.3,259.0 452.4,260.0 452.6,261.0 452.8,262.0 453.0,263.0 453.2,264.0 453.4,265.0 453.6,266.0 453.8,267.0 454.0,268.0 454.2,269.0 454.4,270.0 454.7,271.0 454.9,272.0 455.1,273.0 455.4,274.0 455.6,275.0 455.9,276.0 456.2,277.0 456.4,278.0 456.7,279.0 457.0,280.0 457.3,281.0 457.6,282.0 457.9,283.0 458.2,284.0 458.5,285.0 458.8,286.0 459.2,287.0 459.5,288.0 459.8,289.0 460.2,290.0 460.6,291.0 460.9,292.0 461.3,293.0 461.7,294.0 462.1,295.0 462.5,296.0 462.9,297.0 463.3,298.0 463.8,299.0 464.2,300.0 464.7,301.0 465.1,302.0 465.6,303.0 466.1,304.0 466.6,305.0 467.1,306.0 467.6,307.0 468.1,308.0 468.6,309.0 469.2,310.0 469.7,311.0 470.3,312.0 470.8,313.0 471.4,314.0 472.0,315.0 472.6,316.0 473.2,317.0 473.8,318.0 474.4,319.0 475.0,320.0 475.6,321.0 476.3,322.0 476.9,323.0 477.5,324.0 478.2,325.0 478.8,326.0 479.5,327.0 480.2,328.0 480.8,329.0 481.5,330.0 482.1,331.0 482.8,332.0 483.5,333.0 484.2,334.0 484.8,335.0 485.5,336.0 486.2,337.0 486.8,338.0 487.5,339.0 488.2,340.0 488.8,341.0 489.5,342.0 490.2,343.0 490.8,344.0 491.5,345.0 492.1,346.0 492.8,347.0 493.4,348.0 494.0,349.0 494.7,350.0 495.3,351.0 495.9,352.0 496.5,353.0 497.1,354.0 497.7,355.0 498.3,356.0 498.8,357.0 499.4,358.0 500.0,359.0 500.5,360.0 501.1,361.0 501.6,362.0 502.1,363.0 502.6,364.0 503.1,365.0 503.6,366.0 504.1,367.0 504.6,368.0 505.1,369.0 505.5,370.0 506.0,371.0 506.4,372.0 506.9,373.0 507.3,374.0 507.7,375.0 508.1,376.0 508.5,377.0 508.9,378.0 509.3,379.0 509.7,380.0 510.0,381.0 510.4,382.0 510.8,383.0 511.1,384.0 511.4,385.0 511.8,386.0 512.1,387.0 512.4,388.0 512.7,389.0 513.0,390.0 513.3,391.0 513.6,392.0 513.9,393.0 514.1,394.0 514.4,395.0 514.7,396.0 514.9,397.0 515.2,398.0 515.4,399.0 515.7,400.0 515.9,401.0 516.1,402.0 516.4,403.0 516.6,404.0 516.8,405.0 517.1,406.0 517.3,407.0 517.5,408.0 517.7,409.0 517.9,410.0 518.1,411.0 518.3,412.0 518.5,413.0 518.7,414.0 518.8,415.0 519.0,416.0 519.2,417.0 519.4,418.0 519.5,419.0 519.7,420.0 519.8,421.0 520.0,422.0 520.2,423.0 520.3,424.0 520.4,425.0 520.6,426.0 520.7,427.0 520.9,428.0 521.0,429.0 521.1,430.0 521.3,431.0 521.4,432.0 521.5,433.0 521.6,434.0 521.7,435.0 521.9,436.0 522.0,437.0 522.1,438.0 522.2,439.0 522.3,440.0 522.4,441.0 522.5,442.0 522.6,443.0 522.7,444.0 522.8,445.0 522.9,446.0 523.0,447.0 523.1,448.0 523.2,449.0 523.3,450.0 523.4,451.0 523.5,452.0 523.6,453.0 523.6,454.0 523.7,455.0 523.8,456.0 523.9,457.0 524.0,458.0 524.1,459.0 524.1,460.0 524.3,461.0 524.4,462.0 524.5,463.0 524.6,464.0 524.7,465.0 524.9,466.0 524.9,466.0 524.9,465.0 524.9,464.0 524.8,463.0 524.8,462.0 524.8,461.0 524.8,460.0 524.8,459.0 524.7,458.0 524.7,457.0 524.6,456.0 524.6,455.0 524.5,454.0 524.5,453.0 524.4,452.0 524.3,451.0 524.3,450.0 524.2,449.0 524.1,448.0 524.1,447.0 524.0,446.0 523.9,445.0 523.8,444.0 523.8,443.0 523.7,442.0 523.6,441.0 523.5,440.0 523.4,439.0 523.3,438.0 523.3,437.0 523.2,436.0 523.1,435.0 523.0,434.0 522.9,433.0 522.8,432.0 522.7,431.0 522.6,430.0 522.5,429.0 522.4,428.0 522.2,427.0 522.1,426.0 522.0,425.0 521.9,424.0 521.8,423.0 521.6,422.0 521.5,421.0 521.4,420.0 521.2,419.0 521.1,418.0 521.0,417.0 520.8,416.0 520.7,415.0 520.5,414.0 520.4,413.0 520.2,412.0 520.0,411.0 519.9,410.0 519.7,409.0 519.5,408.0 519.3,407.0 519.1,406.0 519.0,405.0 518.8,404.0 518.6,403.0 518.4,402.0 518.1,401.0 517.9,400.0 517.7,399.0 517.5,398.0 517.2,397.0 517.0,396.0 516.7,395.0 516.4,394.0 516.2,393.0 515.9,392.0 515.6,391.0 515.3,390.0 515.0,389.0 514.7,388.0 514.4,387.0 514.1,386.0 513.8,385.0 513.4,384.0 513.1,383.0 512.8,382.0 512.4,381.0 512.0,380.0 511.7,379.0 511.3,378.0 510.9,377.0 510.5,376.0 510.1,375.0 509.7,374.0 509.3,373.0 508.9,372.0 508.4,371.0 508.0,370.0 507.5,369.0 507.0,368.0 506.6,367.0 506.1,366.0 505.6,365.0 505.1,364.0 504.6,363.0 504.1,362.0 503.5,361.0 503.0,360.0 502.5,359.0 501.9,358.0 501.3,357.0 500.8,356.0 500.2,355.0 499.6,354.0 499.0,353.0 498.4,352.0 497.8,351.0 497.2,350.0 496.6,349.0 495.9,348.0 495.3,347.0 494.7,346.0 494.0,345.0 493.4,344.0 492.7,343.0 492.0,342.0 491.4,341.0 490.7,340.0 490.1,339.0 489.4,338.0 488.7,337.0 488.0,336.0 487.4,335.0 486.7,334.0 486.0,333.0 485.3,332.0 484.7,331.0 484.0,330.0 483.3,329.0 482.7,328.0 482.0,327.0 481.3,326.0 480.7,325.0 480.0,324.0 479.4,323.0 478.7,322.0 478.1,321.0 477.5,320.0 476.8,319.0 476.2,318.0 475.6,317.0 475.0,316.0 474.4,315.0 473.8,314.0 473.3,313.0 472.7,312.0 472.1,311.0 471.6,310.0 471.0,309.0 470.5,308.0 469.9,307.0 469.4,306.0 468.9,305.0 468.4,304.0 467.9,303.0 467.4,302.0 467.0,301.0 466.5,300.0 466.0,299.0 465.6,298.0 465.1,297.0 464.7,296.0 464.2,295.0 463.8,294.0 463.4,293.0 463.0,292.0 462.6,291.0 462.2,290.0 461.8,289.0 461.4,288.0 461.1,287.0 460.7,286.0 460.4,285.0 460.0,284.0 459.7,283.0 459.3,282.0 459.0,281.0 458.7,280.0 458.4,279.0 458.1,278.0 457.8,277.0 457.5,276.0 457.3,275.0 457.0,274.0 456.7,273.0 456.4,272.0 456.2,271.0 455.9,270.0 455.7,269.0 455.5,268.0 455.2,267.0 455.0,266.0 454.8,265.0 454.6,264.0 454.3,263.0 454.1,262.0 453.9,261.0 453.7,260.0 453.5,259.0 453.3,258.0 453.2,257.0 453.0,256.0 452.8,255.0 452.6,254.0 452.5,253.0 452.3,252.0 452.1,251.0 452.0,250.0 451.8,249.0 451.7,248.0 451.5,247.0 451.4,246.0 451.2,245.0 451.1,244.0 450.9,243.0 450.8,242.0 450.6,241.0 450.5,240.0 450.4,239.0 450.3,238.0 450.1,237.0 450.0,236.0 449.9,235.0 449.8,234.0 449.7,233.0 449.6,232.0 449.5,231.0 449.4,230.0 449.3,229.0 449.2,228.0 449.1,227.0 449.0,226.0 448.9,225.0 448.8,224.0 448.7,223.0 448.6,222.0 448.5,221.0 448.4,220.0 448.3,219.0 448.2,218.0 448.2,217.0 448.1,216.0 448.0,215.0 447.9,214.0 447.8,213.0 447.8,212.0 447.7,211.0 447.6,210.0 447.5,209.0 447.5,208.0 447.4,207.0 447.2,206.0 447.1,205.0"/>
<polygon opacity="0.9" points="263.9,293.0 264.3,294.0 264.7,295.0 265.2,296.0 265.6,297.0 266.0,298.0 266.4,299.0 266.9,300.0 267.4,301.0 267.8,302.0 268.3,303.0 268.8,304.0 269.3,305.0 269.8,306.0 270.3,307.0 270.8,308.0 271.4,309.0 271.9,310.0 272.4,311.0 273.0,312.0 273.6,313.0 274.1,314.0 274.7,315.0 275.3,316.0 275.9,317.0 276.5,318.0 277.1,319.0 277.7,320.0 278.4,321.0 279.0,322.0 279.6,323.0 280.3,324.0 280.9,325.0 281.6,326.0 282.2,327.0 282.9,328.0 283.5,329.0 284.2,330.0 284.9,331.0 285.5,332.0 286.2,333.0 286.9,334.0 287.5,335.0 288.2,336.0 288.9,337.0 289.5,338.0 290.2,339.0 290.9,340.0 291.5,341.0 292.2,342.0 292.9,343.0 293.5,344.0 294.2,345.0 294.8,346.0 295.4,347.0 296.1,348.0 296.7,349.0 297.3,350.0 297.9,351.0 298.6,352.0 299.2,353.0 299.8,354.0 300.4,355.0 300.9,356.0 301.5,357.0 302.1,358.0 302.6,359.0 303.2,360.0 303.7,361.0 304.3,362.0 304.8,363.0 305.3,364.0 305.8,365.0 306.3,366.0 306.8,367.0 307.3,368.0 307.8,369.0 308.2,370.0 308.7,371.0 309.1,372.0 309.6,373.0 310.0,374.0 310.4,375.0 310.8,376.0 311.2,377.0 311.6,378.0 312.0,379.0 312.4,380.0 312.8,381.0 313.1,382.0 313.5,383.0 313.8,384.0 314.2,385.0 314.5,386.0 314.8,387.0 315.1,388.0 315.4,389.0 315.7,390.0 316.0,391.0 316.3,392.0 316.6,393.0 316.9,394.0 317.1,395.0 317.4,396.0 317.7,397.0 317.7,397.0 317.4,396.0 317.2,395.0 316.9,394.0 316.6,393.0 316.4,392.0 316.1,391.0 315.8,390.0 315.5,389.0 315.2,388.0 314.9,387.0 314.6,386.0 314.3,385.0 313.9,384.0 313.6,383.0 313.2,382.0 312.9,381.0 312.5,380.0 312.2,379.0 311.8,378.0 311.4,377.0 311.0,376.0 310.6,375.0 310.2,374.0 309.8,373.0 309.3,372.0 308.9,371.0 308.5,370.0 308.0,369.0 307.5,368.0 307.1,367.0 306.6,366.0 306.1,365.0 305.6,364.0 305.1,363.0 304.6,362.0 304.1,361.0 303.5,360.0 303.0,359.0 302.4,358.0 301.9,357.0 301.3,356.0 300.7,355.0 300.1,354.0 299.5,353.0 298.9,352.0 298.3,351.0 297.7,350.0 297.1,349.0 296.5,348.0 295.8,347.0 295.2,346.0 294.5,345.0 293.9,344.0 293.2,343.0 292.6,342.0 291.9,341.0 291.2,340.0 290.6,339.0 289.9,338.0 289.2,337.0 288.5,336.0 287.9,335.0 287.2,334.0 286.5,333.0 285.8,332.0 285.2,331.0 284.5,330.0 283.8,329.0 283.1,328.0 282.5,327.0 281.8,326.0 281.2,325.0 280.5,324.0 279.9,323.0 279.2,322.0 278.6,321.0 278.0,320.0 277.3,319.0 276.7,318.0 276.1,317.0 275.5,316.0 274.9,315.0 274.3,314.0 273.7,313.0 273.2,312.0 272.6,311.0 272.0,310.0 271.5,309.0 271.0,308.0 270.4,307.0 269.9,306.0 269.4,305.0 268.9,304.0 268.4,303.0 267.9,302.0 267.4,301.0 267.0,300.0 266.5,299.0 266.1,298.0 265.6,297.0 265.2,296.0 264.8,295.0 264.3,294.0 263.9,293.0"/>
<polygon opacity="0.9" points="427.2,254.0 427.4,255.0 427.6,256.0 427.7,257.0 427.9,258.0 428.1,259.0 428.2,260.0 428.4,261.0 428.6,262.0 428.8,263.0 429.0,264.0 429.2,265.0 429.4,266.0 429.6,267.0 429.8,268.0 430.1,269.0 430.3,270.0 430.5,271.0 430.8,272.0 431.0,273.0 431.2,274.0 431.5,275.0 431.8,276.0 432.0,277.0 432.3,278.0 432.6,279.0 432.9,280.0 433.2,281.0 433.5,282.0 433.8,283.0 434.1,284.0 434.4,285.0 434.8,286.0 435.1,287.0 435.4,288.0 435.8,289.0 436.2,290.0 436.5,291.0 436.9,292.0 437.3,293.0 437.7,294.0 438.1,295.0 438.5,296.0 438.9,297.0 439.4,298.0 439.8,299.0 440.2,300.0 440.7,301.0 441.2,302.0 441.6,303.0 442.1,304.0 442.6,305.0 443.1,306.0 443.6,307.0 444.2,308.0 444.7,309.0 445.2,310.0 445.8,311.0 446.3,312.0 446.9,313.0 447.5,314.0 448.1,315.0 448.6,316.0 449.2,317.0 449.8,318.0 450.5,319.0 451.1,320.0 451.7,321.0 452.3,322.0 453.0,323.0 453.6,324.0 454.2,325.0 454.9,326.0 455.5,327.0 456.2,328.0 456.9,329.0 457.5,330.0 458.2,331.0 458.9,332.0 459.5,333.0 460.2,334.0 460.9,335.0 461.5,336.0 462.2,337.0 462.9,338.0 463.5,339.0 464.2,340.0 464.9,341.0 465.5,342.0 466.2,343.0 466.8,344.0 467.5,345.0 468.1,346.0 468.8,347.0 469.4,348.0 470.0,349.0 470.7,350.0 471.3,351.0 471.9,352.0 472.5,353.0 473.1,354.0 473.7,355.0 474.3,356.0 474.9,357.0 475.4,358.0 476.0,359.0 476.5,360.0 477.1,361.0 477.6,362.0 478.1,363.0 478.7,364.0 479.2,365.0 479.7,366.0 480.2,367.0 480.6,368.0 481.1,369.0 481.6,370.0 482.0,371.0 482.5,372.0 482.9,373.0 483.4,374.0 483.8,375.0 484.2,376.0 484.6,377.0 485.0,378.0 485.4,379.0 485.7,380.0 486.1,381.0 486.5,382.0 486.8,383.0 487.2,384.0 487.5,385.0 487.8,386.0 488.2,387.0 488.5,388.0 488.8,389.0 489.1,390.0 489.4,391.0 489.7,392.0 490.0,393.0 490.2,394.0 490.5,395.0 490.8,396.0 491.0,397.0 491.3,398.0 491.5,399.0 491.8,400.0 492.0,401.0 492.2,402.0 492.5,403.0 492.7,404.0 492.9,405.0 493.1,406.0 493.3,407.0 493.5,408.0 493.7,409.0 493.9,410.0 494.1,411.0 494.3,412.0 494.4,413.0 494.6,414.0 494.8,415.0 495.0,416.0 495.1,417.0 495.3,418.0 495.4,419.0 495.6,420.0 495.7,421.0 495.9,422.0 496.0,423.0 496.2,424.0 496.3,425.0 496.4,426.0 496.6,427.0 496.7,428.0 496.8,429.0 497.0,430.0 497.1,431.0 497.2,432.0 497.3,433.0 497.4,434.0 497.6,435.0 497.7,436.0 497.8,437.0 497.9,438.0 498.0,439.0 498.1,440.0 498.2,441.0 498.3,442.0 498.4,443.0 498.5,444.0 498.5,444.0 498.4,443.0 498.3,442.0 498.2,441.0 498.1,440.0 498.0,439.0 498.0,438.0 497.9,437.0 497.8,436.0 497.7,435.0 497.6,434.0 497.5,433.0 497.4,432.0 497.2,431.0 497.1,430.0 497.0,429.0 496.9,428.0 496.8,427.0 496.7,426.0 496.5,425.0 496.4,424.0 496.3,423.0 496.1,422.0 496.0,421.0 495.9,420.0 495.7,419.0 495.6,418.0 495.4,417.0 495.3,416.0 495.1,415.0 494.9,414.0 494.8,413.0 494.6,412.0 494.4,411.0 494.3,410.0 494.1,409.0 493.9,408.0 493.7,407.0 493.5,406.0 493.3,405.0 493.1,404.0 492.9,403.0 492.7,402.0 492.4,401.0 492.2,400.0 492.0,399.0 491.8,398.0 491.5,397.0 491.3,396.0 491.0,395.0 490.7,394.0 490.5,393.0 490.2,392.0 489.9,391.0 489.6,390.0 489.3,389.0 489.0,388.0 488.7,387.0 488.4,386.0 488.1,385.0 487.8,384.0 487.4,383.0 487.1,382.0 486.7,381.0 486.4,380.0 486.0,379.0 485.6,378.0 485.3,377.0 484.9,376.0 484.5,375.0 484.0,374.0 483.6,373.0 483.2,372.0 482.8,371.0 482.3,370.0 481.9,369.0 481.4,368.0 480.9,367.0 480.5,366.0 480.0,365.0 479.5,364.0 479.0,363.0 478.4,362.0 477.9,361.0 477.4,360.0 476.8,359.0 476.3,358.0 475.7,357.0 475.2,356.0 474.6,355.0 474.0,354.0 473.4,353.0 472.8,352.0 472.2,351.0 471.6,350.0 471.0,349.0 470.3,348.0 469.7,347.0 469.0,346.0 468.4,345.0 467.7,344.0 467.1,343.0 466.4,342.0 465.8,341.0 465.1,340.0 464.4,339.0 463.8,338.0 463.1,337.0 462.4,336.0 461.7,335.0 461.0,334.0 460.4,333.0 459.7,332.0 459.0,331.0 458.4,330.0 457.7,329.0 457.0,328.0 456.3,327.0 455.7,326.0 455.0,325.0 454.4,324.0 453.7,323.0 453.1,322.0 452.5,321.0 451.8,320.0 451.2,319.0 450.6,318.0 450.0,317.0 449.4,316.0 448.8,315.0 448.2,314.0 447.6,313.0 447.0,312.0 446.5,311.0 445.9,310.0 445.4,309.0 444.8,308.0 444.3,307.0 443.8,306.0 443.3,305.0 442.8,304.0 442.3,303.0 441.8,302.0 441.3,301.0 440.8,300.0 440.4,299.0 439.9,298.0 439.5,297.0 439.0,296.0 438.6,295.0 438.2,294.0 437.8,293.0 437.4,292.0 437.0,291.0 436.6,290.0 436.2,289.0 435.9,288.0 435.5,287.0 435.2,286.0 434.8,285.0 434.5,284.0 434.2,283.0 433.8,282.0 433.5,281.0 433.2,280.0 432.9,279.0 432.6,278.0 432.3,277.0 432.1,276.0 431.8,275.0 431.5,274.0 431.3,273.0 431.0,272.0 430.7,271.0 430.5,270.0 430.3,269.0 430.0,268.0 429.8,267.0 429.6,266.0 429.4,265.0 429.2,264.0 428.9,263.0 428.7,262.0 428.5,261.0 428.3,260.0 428.2,259.0 428.0,258.0 427.8,257.0 427.6,256.0 427.4,255.0 427.2,254.0"/>
<polygon opacity="0.9" points="518.2,346.0 518.8,347.0 519.5,348.0 520.1,349.0 520.7,350.0 521.3,351.0 521.9,352.0 522.5,353.0 523.1,354.0 523.7,355.0 524.3,356.0 524.8,357.0 525.4,358.0 526.0,359.0 526.5,360.0 527.0,361.0 527.6,362.0 528.1,363.0 528.6,364.0 529.1,365.0 529.6,366.0 530.1,367.0 530.5,368.0 531.0,369.0 531.5,370.0 531.9,371.0 532.3,372.0 532.8,373.0 533.2,374.0 533.6,375.0 534.0,376.0 534.4,377.0 534.8,378.0 535.2,379.0 535.5,380.0 535.9,381.0 536.2,382.0 536.6,383.0 536.9,384.0 537.3,385.0 537.6,386.0 537.9,387.0 538.2,388.0 538.5,389.0 538.8,390.0 539.1,391.0 539.4,392.0 539.6,393.0 539.9,394.0 540.2,395.0 540.4,396.0 540.7,397.0 540.9,398.0 541.2,399.0 541.4,400.0 541.6,401.0 541.8,402.0 542.1,403.0 542.3,404.0 542.5,405.0 542.7,406.0 542.9,407.0 543.1,408.0 543.3,409.0 543.4,410.0 543.6,411.0 543.8,412.0 544.0,413.0 544.1,414.0 544.3,415.0 544.5,416.0 544.6,417.0 544.8,418.0 544.9,419.0 545.1,420.0 545.2,421.0 545.3,422.0 545.5,423.0 545.6,424.0 545.7,425.0 545.9,426.0 546.0,427.0 546.1,428.0 546.2,429.0 546.3,430.0 546.5,431.0 546.6,432.0 546.7,433.0 546.8,434.0 546.9,435.0 547.0,436.0 547.1,437.0 547.2,438.0 547.4,439.0 547.5,440.0 547.5,441.0 547.6,442.0 547.7,443.0 547.8,444.0 547.9,445.0 548.0,446.0 548.1,447.0 548.2,448.0 548.3,449.0 548.4,450.0 548.4,451.0 548.5,452.0 548.6,453.0 548.7,454.0 548.7,455.0 548.8,456.0 548.9,457.0 549.0,458.0 549.0,459.0 549.1,460.0 549.2,461.0 549.2,462.0 549.3,463.0 549.4,464.0 549.4,465.0 549.6,466.0 549.7,467.0 549.7,467.0 549.7,466.0 549.8,465.0 549.7,464.0 549.7,463.0 549.6,462.0 549.5,461.0 549.5,460.0 549.4,459.0 549.4,458.0 549.3,457.0 549.2,456.0 549.2,455.0 549.1,454.0 549.0,453.0 549.0,452.0 548.9,451.0 548.8,450.0 548.7,449.0 548.7,448.0 548.6,447.0 548.5,446.0 548.4,445.0 548.3,444.0 548.2,443.0 548.2,442.0 548.1,441.0 548.0,440.0 547.9,439.0 547.8,438.0 547.7,437.0 547.6,436.0 547.5,435.0 547.4,434.0 547.3,433.0 547.2,432.0 547.1,431.0 547.0,430.0 546.8,429.0 546.7,428.0 546.6,427.0 546.4,426.0 546.3,425.0 546.2,424.0 546.0,423.0 545.9,422.0 545.7,421.0 545.6,420.0 545.4,419.0 545.3,418.0 545.1,417.0 545.0,416.0 544.8,415.0 544.6,414.0 544.5,413.0 544.3,412.0 544.1,411.0 543.9,410.0 543.7,409.0 543.5,408.0 543.3,407.0 543.1,406.0 542.9,405.0 542.7,404.0 542.5,403.0 542.3,402.0 542.0,401.0 541.8,400.0 541.6,399.0 541.3,398.0 541.1,397.0 540.8,396.0 540.5,395.0 540.3,394.0 540.0,393.0 539.7,392.0 539.4,391.0 539.1,390.0 538.8,389.0 538.5,388.0 538.2,387.0 537.9,386.0 537.6,385.0 537.2,384.0 536.9,383.0 536.5,382.0 536.2,381.0 535.8,380.0 535.4,379.0 535.0,378.0 534.6,377.0 534.2,376.0 533.8,375.0 533.4,374.0 533.0,373.0 532.5,372.0 532.1,371.0 531.6,370.0 531.2,369.0 530.7,368.0 530.2,367.0 529.7,366.0 529.2,365.0 528.7,364.0 528.2,363.0 527.7,362.0 527.2,361.0 526.6,360.0 526.1,359.0 525.5,358.0 524.9,357.0 524.4,356.0 523.8,355.0 523.2,354.0 522.6,353.0 522.0,352.0 521.4,351.0 520.7,350.0 520.1,349.0 519.5,348.0 518.8,347.0 518.2,346.0"/>
<polygon opacity="0.9" points="121.4,346.0 122.0,347.0 122.7,348.0 123.3,349.0 123.9,350.0 124.5,351.0 125.1,352.0 125.7,353.0 126.3,354.0 126.9,355.0 127.5,356.0 128.0,357.0 128.6,358.0 129.2,359.0 129.7,360.0 130.2,361.0 130.8,362.0 131.3,363.0 131.8,364.0 132.3,365.0 132.8,366.0 133.3,367.0 133.7,368.0 134.2,369.0 134.7,370.0 135.1,371.0 135.5,372.0 136.0,373.0 136.4,374.0 136.8,375.0 137.2,376.0 137.6,377.0 138.0,378.0 138.4,379.0 138.7,380.0 139.1,381.0 139.4,382.0 139.8,383.0 140.1,384.0 140.5,385.0 140.8,386.0 141.1,387.0 141.4,388.0 141.7,389.0 142.0,390.0 142.3,391.0 142.6,392.0 142.8,393.0 143.1,394.0 143.4,395.0 143.6,396.0 143.9,397.0 144.1,398.0 144.4,399.0 144.6,400.0 144.8,401.0 145.0,402.0 145.3,403.0 145.5,404.0 145.7,405.0 145.9,406.0 146.1,407.0 146.3,408.0 146.5,409.0 146.6,410.0 146.8,411.0 147.0,412.0 147.2,413.0 147.3,414.0 147.5,415.0 147.7,416.0 147.8,417.0 148.0,418.0 148.1,419.0 148.3,420.0 148.4,421.0 148.5,422.0 148.7,423.0 148.8,424.0 148.9,425.0 149.1,426.0 149.2,427.0 149.3,428.0 149.4,429.0 149.5,430.0 149.7,431.0 149.8,432.0 149.9,433.0 150.0,434.0 150.1,435.0 150.2,436.0 150.3,437.0 150.4,438.0 150.6,439.0 150.7,440.0 150.7,441.0 150.8,442.0 150.9,443.0 151.0,444.0 151.1,445.0 151.2,446.0 151.3,447.0 151.4,448.0 151.5,449.0 151.6,450.0 151.6,451.0 151.7,452.0 151.8,453.0 151.9,454.0 151.9,455.0 152.0,456.0 152.1,457.0 152.2,458.0 152.2,459.0 152.3,460.0 152.4,461.0 152.4,462.0 152.5,463.0 152.6,464.0 152.6,465.0 152.8,466.0 152.9,467.0 152.9,467.0 152.9,466.0 153.0,465.0 152.9,464.0 152.9,463.0 152.8,462.0 152.7,461.0 152.7,460.0 152.6,459.0 152.6,458.0 152.5,457.0 152.4,456.0 152.4,455.0 152.3,454.0 152.2,453.0 152.2,452.0 152.1,451.0 152.0,450.0 151.9,449.0 151.9,448.0 151.8,447.0 151.7,446.0 151.6,445.0 151.5,444.0 151.4,443.0 151.4,442.0 151.3,441.0 151.2,440.0 151.1,439.0 151.0,438.0 150.9,437.0 150.8,436.0 150.7,435.0 150.6,434.0 150.5,433.0 150.4,432.0 150.3,431.0 150.2,430.0 150.0,429.0 149.9,428.0 149.8,427.0 149.6,426.0 149.5,425.0 149.4,424.0 149.2,423.0 149.1,422.0 148.9,421.0 148.8,420.0 148.6,419.0 148.5,418.0 148.3,417.0 148.2,416.0 148.0,415.0 147.8,414.0 147.7,413.0 147.5,412.0 147.3,411.0 147.1,410.0 146.9,409.0 146.7,408.0 146.5,407.0 146.3,406.0 146.1,405.0 145.9,404.0 145.7,403.0 145.5,402.0 145.2,401.0 145.0,400.0 144.8,399.0 144.5,398.0 144.3,397.0 144.0,396.0 143.7,395.0 143.5,394.0 143.2,393.0 142.9,392.0 142.6,391.0 142.3,390.0 142.0,389.0 141.7,388.0 141.4,387.0 141.1,386.0 140.8,385.0 140.4,384.0 140.1,383.0 139.7,382.0 139.4,381.0 139.0,380.0 138.6,379.0 138.2,378.0 137.8,377.0 137.4,376.0 137.0,375.0 136.6,374.0 136.2,373.0 135.7,372.0 135.3,371.0 134.8,370.0 134.4,369.0 133.9,368.0 133.4,367.0 132.9,366.0 132.4,365.0 131.9,364.0 131.4,363.0 130.9,362.0 130.4,361.0 129.8,360.0 129.3,359.0 128.7,358.0 128.1,357.0 127.6,356.0 127.0,355.0 126.4,354.0 125.8,353.0 125.2,352.0 124.6,351.0 123.9,350.0 123.3,349.0 122.7,348.0 122.0,347.0 121.4,346.0"/>
<polygon points="521.5,205.0 521.5,206.0 521.5,207.0 521.5,208.0 521.6,209.0 521.6,210.0 521.7,211.0 521.7,212.0 521.8,213.0 521.8,214.0 521.9,215.0 522.0,216.0 522.0,217.0 522.1,218.0 522.2,219.0 522.2,220.0 522.3,221.0 522.4,222.0 522.4,223.0 522.5,224.0 522.6,225.0 522.7,226.0 522.7,227.0 522.8,228.0 522.9,229.0 523.0,230.0 523.1,231.0 523.2,232.0 523.3,233.0 523.4,234.0 523.5,235.0 523.6,236.0 523.7,237.0 523.8,238.0 523.9,239.0 524.0,240.0 524.1,241.0 524.2,242.0 524.3,243.0 524.4,244.0 524.6,245.0 524.7,246.0 524.8,247.0 524.9,248.0 525.1,249.0 525.2,250.0 525.3,251.0 525.5,252.0 525.6,253.0 525.8,254.0 525.9,255.0 526.1,256.0 526.2,257.0 526.4,258.0 526.6,259.0 526.8,260.0 526.9,261.0 527.1,262.0 527.3,263.0 527.5,264.0 527.7,265.0 527.9,266.0 528.1,267.0 528.3,268.0 528.5,269.0 528.7,270.0 529.0,271.0 529.2,272.0 529.4,273.0 529.7,274.0 529.9,275.0 530.2,276.0 530.5,277.0 530.7,278.0 531.0,279.0 531.3,280.0 531.6,281.0 531.9,282.0 532.2,283.0 532.5,284.0 532.8,285.0 533.2,286.0 533.5,287.0 533.8,288.0 534.2,289.0 534.5,290.0 534.9,291.0 535.3,292.0 535.7,293.0 536.1,294.0 536.5,295.0 536.9,296.0 537.3,297.0 537.7,298.0 538.1,299.0 538.6,300.0 539.1,301.0 539.5,302.0 540.0,303.0 540.5,304.0 541.0,305.0 541.5,306.0 542.0,307.0 542.5,308.0 543.1,309.0 543.6,310.0 544.1,311.0 544.7,312.0 545.3,313.0 545.8,314.0 546.4,315.0 547.0,316.0 547.6,317.0 548.2,318.0 548.8,319.0 549.4,320.0 550.1,321.0 550.7,322.0 551.3,323.0 552.0,324.0 552.6,325.0 553.3,326.0 553.9,327.0 554.6,328.0 555.3,329.0 555.9,330.0 556.6,331.0 557.3,332.0 558.0,333.0 558.7,334.0 559.4,335.0 560.1,336.0 560.8,337.0 561.5,338.0 562.2,339.0 562.9,340.0 563.6,341.0 564.2,342.0 564.9,343.0 565.6,344.0 566.3,345.0 566.9,346.0 567.6,347.0 568.2,348.0 568.9,349.0 569.5,350.0 570.2,351.0 570.8,352.0 571.4,353.0 572.1,354.0 572.7,355.0 573.3,356.0 573.9,357.0 574.5,358.0 575.0,359.0 575.6,360.0 576.2,361.0 576.7,362.0 577.3,363.0 577.8,364.0 578.4,365.0 578.9,366.0 579.4,367.0 579.9,368.0 580.4,369.0 580.9,370.0 581.4,371.0 581.9,372.0 582.3,373.0 582.8,374.0 583.2,375.0 583.6,376.0 584.1,377.0 584.5,378.0 584.9,379.0 585.3,380.0 585.3,380.0 584.9,379.0 584.5,378.0 584.2,377.0 583.8,376.0 583.4,375.0 583.0,374.0 582.6,373.0 582.2,372.0 581.8,371.0 581.4,370.0 581.0,369.0 580.5,368.0 580.1,367.0 579.6,366.0 579.2,365.0 578.7,364.0 578.2,363.0 577.7,362.0 577.2,361.0 576.7,360.0 576.2,359.0 575.7,358.0 575.1,357.0 574.6,356.0 574.0,355.0 573.4,354.0 572.9,353.0 572.3,352.0 571.7,351.0 571.1,350.0 570.5,349.0 569.9,348.0 569.3,347.0 568.7,346.0 568.0,345.0 567.4,344.0 566.8,343.0 566.1,342.0 565.5,341.0 564.8,340.0 564.2,339.0 563.5,338.0 562.9,337.0 562.2,336.0 561.6,335.0 560.9,334.0 560.3,333.0 559.6,332.0 559.0,331.0 558.4,330.0 557.7,329.0 557.0,328.0 556.4,327.0 555.7,326.0 555.0,325.0 554.4,324.0 553.8,323.0 553.1,322.0 552.5,321.0 551.8,320.0 551.2,319.0 550.6,318.0 550.0,317.0 549.4,316.0 548.8,315.0 548.2,314.0 547.6,313.0 547.1,312.0 546.5,311.0 545.9,310.0 545.4,309.0 544.9,308.0 544.3,307.0 543.8,306.0 543.3,305.0 542.8,304.0 542.3,303.0 541.8,302.0 541.3,301.0 540.9,300.0 540.4,299.0 540.0,298.0 539.5,297.0 539.1,296.0 538.7,295.0 538.2,294.0 537.8,293.0 537.4,292.0 537.0,291.0 536.6,290.0 536.3,289.0 535.9,288.0 535.5,287.0 535.2,286.0 534.8,285.0 534.5,284.0 534.2,283.0 533.8,282.0 533.5,281.0 533.2,280.0 532.9,279.0 532.6,278.0 532.3,277.0 532.0,276.0 531.8,275.0 531.5,274.0 531.2,273.0 531.0,272.0 530.7,271.0 530.5,270.0 530.2,269.0 530.0,268.0 529.7,267.0 529.5,266.0 529.3,265.0 529.1,264.0 528.8,263.0 528.6,262.0 528.4,261.0 528.2,260.0 528.0,259.0 527.8,258.0 527.7,257.0 527.5,256.0 527.3,255.0 527.1,254.0 526.9,253.0 526.8,252.0 526.6,251.0 526.4,250.0 526.3,249.0 526.1,248.0 526.0,247.0 525.8,246.0 525.7,245.0 525.5,244.0 525.4,243.0 525.3,242.0 525.1,241.0 525.0,240.0 524.9,239.0 524.7,238.0 524.6,237.0 524.5,236.0 524.4,235.0 524.3,234.0 524.1,233.0 524.0,232.0 523.9,231.0 523.8,230.0 523.7,229.0 523.6,228.0 523.5,227.0 523.4,226.0 523.3,225.0 523.2,224.0 523.1,223.0 523.0,222.0 522.9,221.0 522.8,220.0 522.8,219.0 522.7,218.0 522.6,217.0 522.5,216.0 522.4,215.0 522.3,214.0 522.3,213.0 522.2,212.0 522.1,211.0 522.0,210.0 522.0,209.0 521.9,208.0 521.8,207.0 521.6,206.0 521.5,205.0"/>
<polygon points="124.7,205.0 124.7,206.0 124.7,207.0 124.7,208.0 124.8,209.0 124.8,210.0 124.9,211.0 124.9,212.0 125.0,213.0 125.0,214.0 125.1,215.0 125.2,216.0 125.2,217.0 125.3,218.0 125.4,219.0 125.4,220.0 125.5,221.0 125.6,222.0 125.6,223.0 125.7,224.0 125.8,225.0 125.9,226.0 125.9,227.0 126.0,228.0 126.1,229.0 126.2,230.0 126.3,231.0 126.4,232.0 126.5,233.0 126.6,234.0 126.7,235.0 126.8,236.0 126.9,237.0 127.0,238.0 127.1,239.0 127.2,240.0 127.3,241.0 127.4,242.0 127.5,243.0 127.6,244.0 127.8,245.0 127.9,246.0 128.0,247.0 128.1,248.0 128.3,249.0 128.4,250.0 128.5,251.0 128.7,252.0 128.8,253.0 129.0,254.0 129.1,255.0 129.3,256.0 129.4,257.0 129.6,258.0 129.8,259.0 130.0,260.0 130.1,261.0 130.3,262.0 130.5,263.0 130.7,264.0 130.9,265.0 131.1,266.0 131.3,267.0 131.5,268.0 131.7,269.0 131.9,270.0 132.2,271.0 132.4,272.0 132.6,273.0 132.9,274.0 133.1,275.0 133.4,276.0 133.7,277.0 133.9,278.0 134.2,279.0 134.5,280.0 134.8,281.0 135.1,282.0 135.4,283.0 135.7,284.0 136.0,285.0 136.4,286.0 136.7,287.0 137.0,288.0 137.4,289.0 137.7,290.0 138.1,291.0 138.5,292.0 138.9,293.0 139.3,294.0 139.7,295.0 140.1,296.0 140.5,297.0 140.9,298.0 141.3,299.0 141.8,300.0 142.3,301.0 142.7,302.0 143.2,303.0 143.7,304.0 144.2,305.0 144.7,306.0 145.2,307.0 145.7,308.0 146.3,309.0 146.8,310.0 147.3,311.0 147.9,312.0 148.5,313.0 149.0,314.0 149.6,315.0 150.2,316.0 150.8,317.0 151.4,318.0 152.0,319.0 152.6,320.0 153.3,321.0 153.9,322.0 154.5,323.0 155.2,324.0 155.8,325.0 156.5,326.0 157.1,327.0 157.8,328.0 158.5,329.0 159.1,330.0 159.8,331.0 160.5,332.0 161.2,333.0 161.9,334.0 162.6,335.0 163.3,336.0 164.0,337.0 164.7,338.0 165.4,339.0 166.1,340.0 166.8,341.0 167.4,342.0 168.1,343.0 168.8,344.0 169.5,345.0 170.1,346.0 170.8,347.0 171.4,348.0 172.1,349.0 172.7,350.0 173.4,351.0 174.0,352.0 174.6,353.0 175.3,354.0 175.9,355.0 176.5,356.0 177.1,357.0 177.7,358.0 178.2,359.0 178.8,360.0 179.4,361.0 179.9,362.0 180.5,363.0 181.0,364.0 181.6,365.0 182.1,366.0 182.6,367.0 183.1,368.0 183.6,369.0 184.1,370.0 184.6,371.0 185.1,372.0 185.5,373.0 186.0,374.0 186.4,375.0 186.8,376.0 187.3,377.0 187.7,378.0 188.1,379.0 188.5,380.0 188.5,380.0 188.1,379.0 187.7,378.0 187.4,377.0 187.0,376.0 186.6,375.0 186.2,374.0 185.8,373.0 185.4,372.0 185.0,371.0 184.6,370.0 184.2,369.0 183.7,368.0 183.3,367.0 182.8,366.0 182.4,365.0 181.9,364.0 181.4,363.0 180.9,362.0 180.4,361.0 179.9,360.0 179.4,359.0 178.9,358.0 178.3,357.0 177.8,356.0 177.2,355.0 176.6,354.0 176.1,353.0 175.5,352.0 174.9,351.0 174.3,350.0 173.7,349.0 173.1,348.0 172.5,347.0 171.9,346.0 171.2,345.0 170.6,344.0 170.0,343.0 169.3,342.0 168.7,341.0 168.0,340.0 167.4,339.0 166.7,338.0 166.1,337.0 165.4,336.0 164.8,335.0 164.1,334.0 163.5,333.0 162.8,332.0 162.2,331.0 161.6,330.0 160.9,329.0 160.2,328.0 159.6,327.0 158.9,326.0 158.2,325.0 157.6,324.0 157.0,323.0 156.3,322.0 155.7,321.0 155.0,320.0 154.4,319.0 153.8,318.0 153.2,317.0 152.6,316.0 152.0,315.0 151.4,314.0 150.8,313.0 150.3,312.0 149.7,311.0 149.1,310.0 148.6,309.0 148.1,308.0 147.5,307.0 147.0,306.0 146.5,305.0 146.0,304.0 145.5,303.0 145.0,302.0 144.5,301.0 144.1,300.0 143.6,299.0 143.2,298.0 142.7,297.0 142.3,296.0 141.9,295.0 141.4,294.0 141.0,293.0 140.6,292.0 140.2,291.0 139.8,290.0 139.5,289.0 139.1,288.0 138.7,287.0 138.4,286.0 138.0,285.0 137.7,284.0 137.4,283.0 137.0,282.0 136.7,281.0 136.4,280.0 136.1,279.0 135.8,278.0 135.5,277.0 135.2,276.0 135.0,275.0 134.7,274.0 134.4,273.0 134.2,272.0 133.9,271.0 133.7,270.0 133.4,269.0 133.2,268.0 132.9,267.0 132.7,266.0 132.5,265.0 132.3,264.0 132.0,263.0 131.8,262.0 131.6,261.0 131.4,260.0 131.2,259.0 131.0,258.0 130.9,257.0 130.7,256.0 130.5,255.0 130.3,254.0 130.1,253.0 130.0,252.0 129.8,251.0 129.6,250.0 129.5,249.0 129.3,248.0 129.2,247.0 129.0,246.0 128.9,245.0 128.7,244.0 128.6,243.0 128.5,242.0 128.3,241.0 128.2,240.0 128.1,239.0 127.9,238.0 127.8,237.0 127.7,236.0 127.6,235.0 127.5,234.0 127.3,233.0 127.2,232.0 127.1,231.0 127.0,230.0 126.9,229.0 126.8,228.0 126.7,227.0 126.6,226.0 126.5,225.0 126.4,224.0 126.3,223.0 126.2,222.0 126.1,221.0 126.0,220.0 126.0,219.0 125.9,218.0 125.8,217.0 125.7,216.0 125.6,215.0 125.5,214.0 125.5,213.0 125.4,212.0 125.3,211.0 125.2,210.0 125.2,209.0 125.1,208.0 125.0,207.0 124.8,206.0 124.7,205.0"/>
<polygon points="546.3,205.0 546.2,206.0 546.1,207.0 546.1,208.0 546.2,209.0 546.3,210.0 546.3,211.0 546.4,212.0 546.4,213.0 546.5,214.0 546.6,215.0 546.6,216.0 546.7,217.0 546.8,218.0 546.8,219.0 546.9,220.0 547.0,221.0 547.0,222.0 547.1,223.0 547.2,224.0 547.3,225.0 547.4,226.0 547.4,227.0 547.5,228.0 547.6,229.0 547.7,230.0 547.8,231.0 547.9,232.0 548.0,233.0 548.1,234.0 548.2,235.0 548.3,236.0 548.4,237.0 548.5,238.0 548.6,239.0 548.7,240.0 548.8,241.0 549.0,242.0 549.1,243.0 549.2,244.0 549.3,245.0 549.4,246.0 549.6,247.0 549.7,248.0 549.8,249.0 550.0,250.0 550.1,251.0 550.3,252.0 550.4,253.0 550.6,254.0 550.7,255.0 550.9,256.0 551.1,257.0 551.2,258.0 551.4,259.0 551.6,260.0 551.8,261.0 551.9,262.0 552.1,263.0 552.3,264.0 552.5,265.0 552.7,266.0 552.9,267.0 553.1,268.0 553.4,269.0 553.6,270.0 553.8,271.0 554.0,272.0 554.3,273.0 554.5,274.0 554.8,275.0 555.0,276.0 555.3,277.0 555.6,278.0 555.8,279.0 556.1,280.0 556.4,281.0 556.7,282.0 557.0,283.0 557.3,284.0 557.6,285.0 557.9,286.0 558.3,287.0 558.6,288.0 559.0,289.0 559.3,290.0 559.7,291.0 560.1,292.0 560.4,293.0 560.8,294.0 561.2,295.0 561.6,296.0 562.0,297.0 562.5,298.0 562.9,299.0 563.3,300.0 563.8,301.0 564.2,302.0 564.7,303.0 565.2,304.0 565.7,305.0 566.2,306.0 566.7,307.0 567.2,308.0 567.8,309.0 568.3,310.0 568.9,311.0 569.4,312.0 570.0,313.0 570.5,314.0 571.1,315.0 571.7,316.0 572.3,317.0 572.9,318.0 573.5,319.0 574.1,320.0 574.8,321.0 575.4,322.0 576.0,323.0 576.7,324.0 577.3,325.0 578.0,326.0 578.6,327.0 579.3,328.0 579.9,329.0 580.6,330.0 581.3,331.0 581.9,332.0 582.6,333.0 583.3,334.0 584.0,335.0 584.6,336.0 585.3,337.0 586.0,338.0 586.6,339.0 587.3,340.0 588.0,341.0 588.6,342.0 589.3,343.0 590.0,344.0 590.6,345.0 591.2,346.0 591.9,347.0 592.5,348.0 593.2,349.0 593.8,350.0 594.4,351.0 595.0,352.0 595.6,353.0 596.2,354.0 596.8,355.0 597.4,356.0 598.0,357.0 598.5,358.0 599.1,359.0 599.6,360.0 600.2,361.0 600.7,362.0 601.3,363.0 601.8,364.0 602.3,365.0 602.8,366.0 603.3,367.0 603.8,368.0 604.3,369.0 604.7,370.0 605.2,371.0 605.6,372.0 606.1,373.0 606.5,374.0 606.9,375.0 607.3,376.0 607.7,377.0 608.1,378.0 608.5,379.0 608.9,380.0 609.3,381.0 609.6,382.0 610.0,383.0 610.4,384.0 610.7,385.0 611.0,386.0 611.4,387.0 611.7,388.0 612.0,389.0 612.3,390.0 612.6,391.0 612.9,392.0 613.2,393.0 613.4,394.0 613.7,395.0 614.0,396.0 614.2,397.0 614.5,398.0 614.8,399.0 615.0,400.0 615.2,401.0 615.5,402.0 615.7,403.0 615.9,404.0 616.1,405.0 616.3,406.0 616.6,407.0 616.8,408.0 617.0,409.0 617.2,410.0 617.3,411.0 617.5,412.0 617.7,413.0 617.9,414.0 618.1,415.0 618.2,416.0 618.4,417.0 618.6,418.0 618.7,419.0 618.9,420.0 619.0,421.0 619.2,422.0 619.3,423.0 619.5,424.0 619.6,425.0 619.8,426.0 619.9,427.0 620.0,428.0 620.1,429.0 620.3,430.0 620.4,431.0 620.5,432.0 620.6,433.0 620.8,434.0 620.9,435.0 621.0,436.0 621.1,437.0 621.2,438.0 621.3,439.0 621.4,440.0 621.5,441.0 621.7,442.0 621.8,443.0 622.0,444.0 622.1,445.0 622.2,446.0 622.4,447.0 622.5,448.0 622.6,449.0 622.7,450.0 622.8,451.0 622.9,452.0 622.9,453.0 623.0,454.0 623.1,455.0 623.2,456.0 623.3,457.0 623.4,458.0 623.5,459.0 623.5,460.0 623.6,461.0 623.7,462.0 623.8,463.0 623.8,464.0 623.9,465.0 624.0,466.0 624.1,467.0 624.1,468.0 624.2,469.0 624.3,470.0 624.3,470.0 624.2,469.0 624.2,468.0 624.2,467.0 624.1,466.0 624.1,465.0 624.0,464.0 624.0,463.0 623.9,462.0 623.9,461.0 623.8,460.0 623.8,459.0 623.7,458.0 623.7,457.0 623.6,456.0 623.6,455.0 623.5,454.0 623.5,453.0 623.4,452.0 623.3,451.0 623.3,450.0 623.2,449.0 623.2,448.0 623.1,447.0 623.1,446.0 623.0,445.0 623.0,444.0 623.0,443.0 622.9,442.0 622.9,441.0 622.8,440.0 622.7,439.0 622.6,438.0 622.6,437.0 622.5,436.0 622.4,435.0 622.3,434.0 622.2,433.0 622.0,432.0 621.9,431.0 621.8,430.0 621.7,429.0 621.6,428.0 621.5,427.0 621.4,426.0 621.2,425.0 621.1,424.0 621.0,423.0 620.8,422.0 620.7,421.0 620.6,420.0 620.4,419.0 620.3,418.0 620.1,417.0 620.0,416.0 619.8,415.0 619.7,414.0 619.5,413.0 619.3,412.0 619.2,411.0 619.0,410.0 618.8,409.0 618.6,408.0 618.4,407.0 618.3,406.0 618.1,405.0 617.9,404.0 617.6,403.0 617.4,402.0 617.2,401.0 617.0,400.0 616.8,399.0 616.5,398.0 616.3,397.0 616.0,396.0 615.8,395.0 615.5,394.0 615.3,393.0 615.0,392.0 614.7,391.0 614.4,390.0 614.1,389.0 613.9,388.0 613.5,387.0 613.2,386.0 612.9,385.0 612.6,384.0 612.3,383.0 611.9,382.0 611.6,381.0 611.2,380.0 610.8,379.0 610.5,378.0 610.1,377.0 609.7,376.0 609.3,375.0 608.9,374.0 608.5,373.0 608.1,372.0 607.6,371.0 607.2,370.0 606.7,369.0 606.3,368.0 605.8,367.0 605.3,366.0 604.8,365.0 604.3,364.0 603.8,363.0 603.3,362.0 602.8,361.0 602.3,360.0 601.7,359.0 601.2,358.0 600.6,357.0 600.0,356.0 599.5,355.0 598.9,354.0 598.3,353.0 597.7,352.0 597.1,351.0 596.5,350.0 595.8,349.0 595.2,348.0 594.6,347.0 593.9,346.0 593.3,345.0 592.6,344.0 592.0,343.0 591.3,342.0 590.7,341.0 590.0,340.0 589.3,339.0 588.7,338.0 588.0,337.0 587.3,336.0 586.6,335.0 586.0,334.0 585.3,333.0 584.6,332.0 583.9,331.0 583.3,330.0 582.6,329.0 581.9,328.0 581.3,327.0 580.6,326.0 580.0,325.0 579.3,324.0 578.7,323.0 578.0,322.0 577.4,321.0 576.7,320.0 576.1,319.0 575.5,318.0 574.9,317.0 574.3,316.0 573.7,315.0 573.1,314.0 572.5,313.0 572.0,312.0 571.4,311.0 570.8,310.0 570.3,309.0 569.7,308.0 569.2,307.0 568.7,306.0 568.2,305.0 567.7,304.0 567.2,303.0 566.7,302.0 566.2,301.0 565.8,300.0 565.3,299.0 564.8,298.0 564.4,297.0 563.9,296.0 563.5,295.0 563.1,294.0 562.7,293.0 562.2,292.0 561.8,291.0 561.5,290.0 561.1,289.0 560.7,288.0 560.3,287.0 560.0,286.0 559.6,285.0 559.3,284.0 558.9,283.0 558.6,282.0 558.3,281.0 558.0,280.0 557.7,279.0 557.4,278.0 557.1,277.0 556.8,276.0 556.5,275.0 556.2,274.0 556.0,273.0 555.7,272.0 555.5,271.0 555.2,270.0 555.0,269.0 554.7,268.0 554.5,267.0 554.3,266.0 554.0,265.0 553.8,264.0 553.6,263.0 553.4,262.0 553.2,261.0 553.0,260.0 552.8,259.0 552.6,258.0 552.4,257.0 552.3,256.0 552.1,255.0 551.9,254.0 551.7,253.0 551.6,252.0 551.4,251.0 551.3,250.0 551.1,249.0 550.9,248.0 550.8,247.0 550.7,246.0 550.5,245.0 550.4,244.0 550.2,243.0 550.1,242.0 550.0,241.0 549.8,240.0 549.7,239.0 549.6,238.0 549.5,237.0 549.4,236.0 549.2,235.0 549.1,234.0 549.0,233.0 548.9,232.0 548.8,231.0 548.7,230.0 548.6,229.0 548.5,228.0 548.4,227.0 548.3,226.0 548.2,225.0 548.1,224.0 548.0,223.0 547.9,222.0 547.9,221.0 547.8,220.0 547.7,219.0 547.6,218.0 547.5,217.0 547.4,216.0 547.4,215.0 547.3,214.0 547.2,213.0 547.1,212.0 547.1,211.0 547.0,210.0 546.9,209.0 546.8,208.0 546.8,207.0 546.5,206.0 546.3,205.0"/>
<polygon points="149.5,205.0 149.4,206.0 149.3,207.0 149.3,208.0 149.4,209.0 149.5,210.0 149.5,211.0 149.6,212.0 149.6,213.0 149.7,214.0 149.8,215.0 149.8,216.0 149.9,217.0 150.0,218.0 150.0,219.0 150.1,220.0 150.2,221.0 150.2,222.0 150.3,223.0 150.4,224.0 150.5,225.0 150.6,226.0 150.6,227.0 150.7,228.0 150.8,229.0 150.9,230.0 151.0,231.0 151.1,232.0 151.2,233.0 151.3,234.0 151.4,235.0 151.5,236.0 151.6,237.0 151.7,238.0 151.8,239.0 151.9,240.0 152.0,241.0 152.2,242.0 152.3,243.0 152.4,244.0 152.5,245.0 152.6,246.0 152.8,247.0 152.9,248.0 153.0,249.0 153.2,250.0 153.3,251.0 153.5,252.0 153.6,253.0 153.8,254.0 153.9,255.0 154.1,256.0 154.3,257.0 154.4,258.0 154.6,259.0 154.8,260.0 155.0,261.0 155.1,262.0 155.3,263.0 155.5,264.0 155.7,265.0 155.9,266.0 156.1,267.0 156.3,268.0 156.6,269.0 156.8,270.0 157.0,271.0 157.2,272.0 157.5,273.0 157.7,274.0 158.0,275.0 158.2,276.0 158.5,277.0 158.8,278.0 159.0,279.0 159.3,280.0 159.6,281.0 159.9,282.0 160.2,283.0 160.5,284.0 160.8,285.0 161.1,286.0 161.5,287.0 161.8,288.0 162.2,289.0 162.5,290.0 162.9,291.0 163.3,292.0 163.6,293.0 164.0,294.0 164.4,295.0 164.8,296.0 165.2,297.0 165.7,298.0 166.1,299.0 166.5,300.0 167.0,301.0 167.4,302.0 167.9,303.0 168.4,304.0 168.9,305.0 169.4,306.0 169.9,307.0 170.4,308.0 171.0,309.0 171.5,310.0 172.1,311.0 172.6,312.0 173.2,313.0 173.7,314.0 174.3,315.0 174.9,316.0 175.5,317.0 176.1,318.0 176.7,319.0 177.3,320.0 178.0,321.0 178.6,322.0 179.2,323.0 179.9,324.0 180.5,325.0 181.2,326.0 181.8,327.0 182.5,328.0 183.1,329.0 183.8,330.0 184.5,331.0 185.1,332.0 185.8,333.0 186.5,334.0 187.2,335.0 187.8,336.0 188.5,337.0 189.2,338.0 189.8,339.0 190.5,340.0 191.2,341.0 191.8,342.0 192.5,343.0 193.2,344.0 193.8,345.0 194.4,346.0 195.1,347.0 195.7,348.0 196.4,349.0 197.0,350.0 197.6,351.0 198.2,352.0 198.8,353.0 199.4,354.0 200.0,355.0 200.6,356.0 201.2,357.0 201.7,358.0 202.3,359.0 202.8,360.0 203.4,361.0 203.9,362.0 204.5,363.0 205.0,364.0 205.5,365.0 206.0,366.0 206.5,367.0 207.0,368.0 207.5,369.0 207.9,370.0 208.4,371.0 208.8,372.0 209.3,373.0 209.7,374.0 210.1,375.0 210.5,376.0 210.9,377.0 211.3,378.0 211.7,379.0 212.1,380.0 212.5,381.0 212.8,382.0 213.2,383.0 213.6,384.0 213.9,385.0 214.2,386.0 214.6,387.0 214.9,388.0 215.2,389.0 215.5,390.0 215.8,391.0 216.1,392.0 216.4,393.0 216.6,394.0 216.9,395.0 217.2,396.0 217.4,397.0 217.7,398.0 218.0,399.0 218.2,400.0 218.4,401.0 218.7,402.0 218.9,403.0 219.1,404.0 219.3,405.0 219.5,406.0 219.8,407.0 220.0,408.0 220.2,409.0 220.4,410.0 220.5,411.0 220.7,412.0 220.9,413.0 221.1,414.0 221.3,415.0 221.4,416.0 221.6,417.0 221.8,418.0 221.9,419.0 222.1,420.0 222.2,421.0 222.4,422.0 222.5,423.0 222.7,424.0 222.8,425.0 223.0,426.0 223.1,427.0 223.2,428.0 223.3,429.0 223.5,430.0 223.6,431.0 223.7,432.0 223.8,433.0 224.0,434.0 224.1,435.0 224.2,436.0 224.3,437.0 224.4,438.0 224.5,439.0 224.6,440.0 224.7,441.0 224.9,442.0 225.0,443.0 225.2,444.0 225.3,445.0 225.4,446.0 225.6,447.0 225.7,448.0 225.8,449.0 225.9,450.0 226.0,451.0 226.1,452.0 226.1,453.0 226.2,454.0 226.3,455.0 226.4,456.0 226.5,457.0 226.6,458.0 226.7,459.0 226.7,460.0 226.8,461.0 226.9,462.0 227.0,463.0 227.0,464.0 227.1,465.0 227.2,466.0 227.3,467.0 227.3,468.0 227.4,469.0 227.5,470.0 227.5,470.0 227.4,469.0 227.4,468.0 227.4,467.0 227.3,466.0 227.3,465.0 227.2,464.0 227.2,463.0 227.1,462.0 227.1,461.0 227.0,460.0 227.0,459.0 226.9,458.0 226.9,457.0 226.8,456.0 226.8,455.0 226.7,454.0 226.7,453.0 226.6,452.0 226.5,451.0 226.5,450.0 226.4,449.0 226.4,448.0 226.3,447.0 226.3,446.0 226.2,445.0 226.2,444.0 226.2,443.0 226.1,442.0 226.1,441.0 226.0,440.0 225.9,439.0 225.8,438.0 225.8,437.0 225.7,436.0 225.6,435.0 225.5,434.0 225.4,433.0 225.2,432.0 225.1,431.0 225.0,430.0 224.9,429.0 224.8,428.0 224.7,427.0 224.6,426.0 224.4,425.0 224.3,424.0 224.2,423.0 224.0,422.0 223.9,421.0 223.8,420.0 223.6,419.0 223.5,418.0 223.3,417.0 223.2,416.0 223.0,415.0 222.9,414.0 222.7,413.0 222.5,412.0 222.4,411.0 222.2,410.0 222.0,409.0 221.8,408.0 221.6,407.0 221.5,406.0 221.3,405.0 221.1,404.0 220.8,403.0 220.6,402.0 220.4,401.0 220.2,400.0 220.0,399.0 219.7,398.0 219.5,397.0 219.2,396.0 219.0,395.0 218.7,394.0 218.5,393.0 218.2,392.0 217.9,391.0 217.6,390.0 217.3,389.0 217.1,388.0 216.7,387.0 216.4,386.0 216.1,385.0 215.8,384.0 215.5,383.0 215.1,382.0 214.8,381.0 214.4,380.0 214.0,379.0 213.7,378.0 213.3,377.0 212.9,376.0 212.5,375.0 212.1,374.0 211.7,373.0 211.3,372.0 210.8,371.0 210.4,370.0 209.9,369.0 209.5,368.0 209.0,367.0 208.5,366.0 208.0,365.0 207.5,364.0 207.0,363.0 206.5,362.0 206.0,361.0 205.5,360.0 204.9,359.0 204.4,358.0 203.8,357.0 203.2,356.0 202.7,355.0 202.1,354.0 201.5,353.0 200.9,352.0 200.3,351.0 199.7,350.0 199.0,349.0 198.4,348.0 197.8,347.0 197.1,346.0 196.5,345.0 195.8,344.0 195.2,343.0 194.5,342.0 193.9,341.0 193.2,340.0 192.5,339.0 191.9,338.0 191.2,337.0 190.5,336.0 189.8,335.0 189.2,334.0 188.5,333.0 187.8,332.0 187.1,331.0 186.5,330.0 185.8,329.0 185.1,328.0 184.5,327.0 183.8,326.0 183.2,325.0 182.5,324.0 181.9,323.0 181.2,322.0 180.6,321.0 179.9,320.0 179.3,319.0 178.7,318.0 178.1,317.0 177.5,316.0 176.9,315.0 176.3,314.0 175.7,313.0 175.2,312.0 174.6,311.0 174.0,310.0 173.5,309.0 172.9,308.0 172.4,307.0 171.9,306.0 171.4,305.0 170.9,304.0 170.4,303.0 169.9,302.0 169.4,301.0 169.0,300.0 168.5,299.0 168.0,298.0 167.6,297.0 167.1,296.0 166.7,295.0 166.3,294.0 165.9,293.0 165.4,292.0 165.0,291.0 164.7,290.0 164.3,289.0 163.9,288.0 163.5,287.0 163.2,286.0 162.8,285.0 162.5,284.0 162.1,283.0 161.8,282.0 161.5,281.0 161.2,280.0 160.9,279.0 160.6,278.0 160.3,277.0 160.0,276.0 159.7,275.0 159.4,274.0 159.2,273.0 158.9,272.0 158.7,271.0 158.4,270.0 158.2,269.0 157.9,268.0 157.7,267.0 157.5,266.0 157.2,265.0 157.0,264.0 156.8,263.0 156.6,262.0 156.4,261.0 156.2,260.0 156.0,259.0 155.8,258.0 155.6,257.0 155.5,256.0 155.3,255.0 155.1,254.0 154.9,253.0 154.8,252.0 154.6,251.0 154.5,250.0 154.3,249.0 154.1,248.0 154.0,247.0 153.9,246.0 153.7,245.0 153.6,244.0 153.4,243.0 153.3,242.0 153.2,241.0 153.0,240.0 152.9,239.0 152.8,238.0 152.7,237.0 152.6,236.0 152.4,235.0 152.3,234.0 152.2,233.0 152.1,232.0 152.0,231.0 151.9,230.0 151.8,229.0 151.7,228.0 151.6,227.0 151.5,226.0 151.4,225.0 151.3,224.0 151.2,223.0 151.1,222.0 151.1,221.0 151.0,220.0 150.9,219.0 150.8,218.0 150.7,217.0 150.6,216.0 150.6,215.0 150.5,214.0 150.4,213.0 150.3,212.0 150.3,211.0 150.2,210.0 150.1,209.0 150.0,208.0 150.0,207.0 149.7,206.0 149.5,205.0"/>
</g>
<g fill="#ffd200">
<polygon points="334.1,175.0 334.1,176.0 334.0,177.0 333.9,178.0 333.9,179.0 334.0,180.0 334.0,181.0 334.0,182.0 334.1,183.0 334.1,184.0 334.1,185.0 334.2,186.0 334.2,187.0 334.2,188.0 334.3,189.0 334.3,190.0 334.4,191.0 334.4,192.0 334.4,193.0 334.5,194.0 334.5,195.0 334.6,196.0 334.6,197.0 334.7,198.0 334.7,199.0 334.8,200.0 334.8,201.0 334.9,202.0 334.9,203.0 334.8,204.0 334.7,205.0 334.6,206.0 334.7,207.0 334.7,208.0 334.8,209.0 334.8,210.0 334.9,211.0 335.0,212.0 335.0,213.0 335.1,214.0 335.2,215.0 335.2,216.0 335.3,217.0 335.4,218.0 335.4,219.0 335.5,220.0 335.6,221.0 335.6,222.0 335.7,223.0 335.8,224.0 335.9,225.0 336.0,226.0 336.0,227.0 336.1,228.0 336.2,229.0 336.3,230.0 336.4,231.0 336.5,232.0 336.6,233.0 336.7,234.0 336.8,235.0 336.9,236.0 337.0,237.0 337.1,238.0 337.2,239.0 337.3,240.0 337.4,241.0 337.5,242.0 337.6,243.0 337.8,244.0 337.9,245.0 338.0,246.0 338.1,247.0 338.2,248.0 338.4,249.0 338.5,250.0 338.6,251.0 338.8,252.0 338.9,253.0 339.0,254.0 339.2,255.0 339.3,256.0 339.5,257.0 339.6,258.0 339.8,259.0 340.0,260.0 340.1,261.0 340.3,262.0 340.5,263.0 340.7,264.0 340.9,265.0 341.1,266.0 341.3,267.0 341.5,268.0 341.7,269.0 341.9,270.0 342.1,271.0 342.3,272.0 342.6,273.0 342.8,274.0 343.1,275.0 343.3,276.0 343.6,277.0 343.8,278.0 344.1,279.0 344.4,280.0 344.6,281.0 344.9,282.0 345.2,283.0 345.5,284.0 345.8,285.0 346.2,286.0 346.5,287.0 346.8,288.0 347.2,289.0 347.5,290.0 347.9,291.0 348.2,292.0 348.5,293.0 348.9,294.0 349.2,295.0 349.5,296.0 349.9,297.0 350.4,298.0 350.8,299.0 351.2,300.0 351.7,301.0 352.2,302.0 352.6,303.0 353.1,304.0 353.6,305.0 354.1,306.0 354.6,307.0 355.2,308.0 355.7,309.0 356.2,310.0 356.8,311.0 357.3,312.0 357.9,313.0 358.5,314.0 359.0,315.0 359.6,316.0 360.2,317.0 360.8,318.0 361.4,319.0 362.0,320.0 362.7,321.0 363.3,322.0 363.9,323.0 364.6,324.0 365.2,325.0 365.9,326.0 366.5,327.0 367.2,328.0 367.8,329.0 368.5,330.0 369.2,331.0 369.8,332.0 370.5,333.0 371.2,334.0 371.9,335.0 372.5,336.0 373.2,337.0 373.9,338.0 374.5,339.0 375.2,340.0 375.9,341.0 376.5,342.0 377.2,343.0 377.9,344.0 378.5,345.0 379.2,346.0 379.8,347.0 380.5,348.0 381.1,349.0 381.7,350.0 382.3,351.0 383.0,352.0 383.6,353.0 384.2,354.0 384.8,355.0 385.3,356.0 385.9,357.0 386.5,358.0 387.1,359.0 387.7,360.0 388.3,361.0 388.8,362.0 389.4,363.0 389.9,364.0 390.5,365.0 391.0,366.0 391.5,367.0 392.1,368.0 392.6,369.0 393.1,370.0 393.6,371.0 394.0,372.0 394.5,373.0 395.0,374.0 395.4,375.0 395.8,376.0 396.2,377.0 396.6,378.0 397.0,379.0 397.4,380.0 397.8,381.0 398.1,382.0 398.5,383.0 398.8,384.0 399.2,385.0 399.5,386.0 399.8,387.0 400.2,388.0 400.5,389.0 400.8,390.0 401.1,391.0 401.4,392.0 401.6,393.0 401.9,394.0 402.2,395.0 402.5,396.0 402.7,397.0 403.0,398.0 403.2,399.0 403.5,400.0 403.7,401.0 403.9,402.0 404.1,403.0 404.4,404.0 404.6,405.0 404.8,406.0 405.0,407.0 405.2,408.0 405.4,409.0 405.6,410.0 405.8,411.0 406.0,412.0 406.1,413.0 406.3,414.0 406.5,415.0 406.6,416.0 406.8,417.0 407.0,418.0 407.1,419.0 407.3,420.0 407.4,421.0 407.6,422.0 407.7,423.0 407.9,424.0 408.0,425.0 408.1,426.0 408.3,427.0 408.4,428.0 408.5,429.0 408.6,430.0 408.7,431.0 408.9,432.0 409.0,433.0 409.1,434.0 409.2,435.0 409.3,436.0 409.4,437.0 409.5,438.0 409.6,439.0 409.7,440.0 409.8,441.0 409.9,442.0 410.0,443.0 410.1,444.0 410.2,445.0 410.3,446.0 410.4,447.0 410.4,448.0 410.5,449.0 410.6,450.0 410.7,451.0 410.8,452.0 410.8,453.0 410.9,454.0 411.0,455.0 411.1,456.0 411.1,457.0 411.2,458.0 411.3,459.0 411.3,460.0 411.4,461.0 411.5,462.0 411.5,463.0 411.6,464.0 411.7,465.0 411.7,466.0 411.8,467.0 411.9,468.0 412.0,469.0 412.0,470.0 412.1,471.0 412.2,472.0 412.3,473.0 412.6,474.0 413.0,475.0 413.3,476.0 413.4,477.0 413.6,478.0 413.8,479.0 413.9,480.0 414.0,481.0 414.0,481.0 414.0,480.0 414.1,479.0 414.1,478.0 414.2,477.0 414.3,476.0 414.5,475.0 414.7,474.0 415.0,473.0 415.0,472.0 414.9,471.0 414.9,470.0 414.9,469.0 414.8,468.0 414.8,467.0 414.8,466.0 414.7,465.0 414.7,464.0 414.6,463.0 414.6,462.0 414.5,461.0 414.4,460.0 414.4,459.0 414.3,458.0 414.2,457.0 414.2,456.0 414.1,455.0 414.0,454.0 414.0,453.0 413.9,452.0 413.8,451.0 413.7,450.0 413.7,449.0 413.6,448.0 413.5,447.0 413.4,446.0 413.3,445.0 413.3,444.0 413.2,443.0 413.1,442.0 413.0,441.0 412.9,440.0 412.8,439.0 412.7,438.0 412.6,437.0 412.5,436.0 412.4,435.0 412.3,434.0 412.2,433.0 412.1,432.0 412.0,431.0 411.9,430.0 411.8,429.0 411.6,428.0 411.5,427.0 411.4,426.0 411.3,425.0 411.1,424.0 411.0,423.0 410.9,422.0 410.7,421.0 410.6,420.0 410.4,419.0 410.3,418.0 410.1,417.0 410.0,416.0 409.8,415.0 409.7,414.0 409.5,413.0 409.3,412.0 409.1,411.0 409.0,410.0 408.8,409.0 408.6,408.0 408.4,407.0 408.2,406.0 408.0,405.0 407.8,404.0 407.6,403.0 407.4,402.0 407.2,401.0 406.9,400.0 406.7,399.0 406.5,398.0 406.2,397.0 406.0,396.0 405.7,395.0 405.5,394.0 405.2,393.0 404.9,392.0 404.6,391.0 404.4,390.0 404.1,389.0 403.8,388.0 403.5,387.0 403.1,386.0 402.8,385.0 402.5,384.0 402.2,383.0 401.8,382.0 401.5,381.0 401.1,380.0 400.7,379.0 400.4,378.0 400.0,377.0 399.6,376.0 399.2,375.0 398.8,374.0 398.5,373.0 398.1,372.0 397.7,371.0 397.2,370.0 396.8,369.0 396.4,368.0 396.0,367.0 395.5,366.0 395.1,365.0 394.6,364.0 394.1,363.0 393.6,362.0 393.1,361.0 392.6,360.0 392.1,359.0 391.6,358.0 391.0,357.0 390.5,356.0 389.9,355.0 389.3,354.0 388.7,353.0 388.1,352.0 387.5,351.0 386.9,350.0 386.3,349.0 385.7,348.0 385.0,347.0 384.4,346.0 383.8,345.0 383.1,344.0 382.5,343.0 381.8,342.0 381.1,341.0 380.5,340.0 379.8,339.0 379.2,338.0 378.5,337.0 377.8,336.0 377.1,335.0 376.5,334.0 375.8,333.0 375.1,332.0 374.4,331.0 373.8,330.0 373.1,329.0 372.4,328.0 371.8,327.0 371.1,326.0 370.5,325.0 369.8,324.0 369.2,323.0 368.5,322.0 367.9,321.0 367.2,320.0 366.6,319.0 366.0,318.0 365.4,317.0 364.8,316.0 364.2,315.0 363.6,314.0 363.0,313.0 362.4,312.0 361.9,311.0 361.3,310.0 360.8,309.0 360.2,308.0 359.7,307.0 359.2,306.0 358.7,305.0 358.2,304.0 357.7,303.0 357.2,302.0 356.7,301.0 356.2,300.0 355.8,299.0 355.3,298.0 354.9,297.0 354.4,296.0 353.9,295.0 353.4,294.0 352.9,293.0 352.5,292.0 352.1,291.0 351.7,290.0 351.3,289.0 350.9,288.0 350.5,287.0 350.2,286.0 349.8,285.0 349.5,284.0 349.1,283.0 348.8,282.0 348.5,281.0 348.1,280.0 347.8,279.0 347.5,278.0 347.2,277.0 346.9,276.0 346.6,275.0 346.4,274.0 346.1,273.0 345.8,272.0 345.5,271.0 345.3,270.0 345.0,269.0 344.8,268.0 344.6,267.0 344.3,266.0 344.1,265.0 343.9,264.0 343.6,263.0 343.4,262.0 343.2,261.0 343.0,260.0 342.8,259.0 342.6,258.0 342.4,257.0 342.2,256.0 342.0,255.0 341.8,254.0 341.7,253.0 341.5,252.0 341.3,251.0 341.1,250.0 341.0,249.0 340.8,248.0 340.6,247.0 340.5,246.0 340.3,245.0 340.2,244.0 340.1,243.0 339.9,242.0 339.8,241.0 339.7,240.0 339.5,239.0 339.4,238.0 339.3,237.0 339.2,236.0 339.1,235.0 339.0,234.0 338.8,233.0 338.7,232.0 338.6,231.0 338.5,230.0 338.4,229.0 338.3,228.0 338.2,227.0 338.1,226.0 338.0,225.0 337.9,224.0 337.8,223.0 337.8,222.0 337.7,221.0 337.6,220.0 337.5,219.0 337.4,218.0 337.3,217.0 337.2,216.0 337.2,215.0 337.1,214.0 337.0,213.0 336.9,212.0 336.9,211.0 336.8,210.0 336.7,209.0 336.7,208.0 336.6,207.0 336.5,206.0 336.3,205.0 336.1,204.0 335.9,203.0 335.8,202.0 335.8,201.0 335.7,200.0 335.6,199.0 335.6,198.0 335.5,197.0 335.5,196.0 335.4,195.0 335.4,194.0 335.3,193.0 335.3,192.0 335.2,191.0 335.1,190.0 335.1,189.0 335.0,188.0 335.0,187.0 335.0,186.0 334.9,185.0 334.9,184.0 334.8,183.0 334.8,182.0 334.7,181.0 334.7,180.0 334.6,179.0 334.6,178.0 334.4,177.0 334.3,176.0 334.1,175.0"/>
<polygon points="372.7,204.0 372.7,205.0 372.6,206.0 372.7,207.0 372.7,208.0 372.8,209.0 372.8,210.0 372.9,211.0 373.0,212.0 373.0,213.0 373.1,214.0 373.2,215.0 373.2,216.0 373.3,217.0 373.4,218.0 373.4,219.0 373.5,220.0 373.6,221.0 373.7,222.0 373.7,223.0 373.8,224.0 373.9,225.0 374.0,226.0 374.1,227.0 374.2,228.0 374.3,229.0 374.3,230.0 374.4,231.0 374.5,232.0 374.6,233.0 374.7,234.0 374.8,235.0 374.9,236.0 375.0,237.0 375.2,238.0 375.3,239.0 375.4,240.0 375.5,241.0 375.6,242.0 375.7,243.0 375.9,244.0 376.0,245.0 376.1,246.0 376.3,247.0 376.4,248.0 376.5,249.0 376.7,250.0 376.8,251.0 377.0,252.0 377.1,253.0 377.3,254.0 377.4,255.0 377.6,256.0 377.8,257.0 377.9,258.0 378.1,259.0 378.2,260.0 378.4,261.0 378.6,262.0 378.8,263.0 379.0,264.0 379.1,265.0 379.3,266.0 379.5,267.0 379.8,268.0 380.0,269.0 380.2,270.0 380.4,271.0 380.6,272.0 380.9,273.0 381.1,274.0 381.4,275.0 381.6,276.0 381.9,277.0 382.1,278.0 382.4,279.0 382.7,280.0 383.0,281.0 383.3,282.0 383.6,283.0 383.9,284.0 384.2,285.0 384.5,286.0 384.8,287.0 385.2,288.0 385.5,289.0 385.9,290.0 386.2,291.0 386.6,292.0 387.0,293.0 387.3,294.0 387.7,295.0 388.1,296.0 388.5,297.0 388.9,298.0 389.4,299.0 389.8,300.0 390.2,301.0 390.7,302.0 391.1,303.0 391.6,304.0 392.1,305.0 392.6,306.0 393.1,307.0 393.6,308.0 393.9,309.0 394.2,310.0 394.6,311.0 395.1,312.0 395.7,313.0 396.2,314.0 396.8,315.0 397.4,316.0 398.0,317.0 398.6,318.0 399.2,319.0 399.8,320.0 400.4,321.0 401.1,322.0 401.7,323.0 402.3,324.0 403.0,325.0 403.6,326.0 404.3,327.0 404.9,328.0 405.6,329.0 406.3,330.0 406.9,331.0 407.6,332.0 408.3,333.0 408.9,334.0 409.6,335.0 410.3,336.0 410.9,337.0 411.6,338.0 412.3,339.0 413.0,340.0 413.6,341.0 414.3,342.0 414.9,343.0 415.6,344.0 416.3,345.0 416.9,346.0 417.5,347.0 418.2,348.0 418.8,349.0 419.4,350.0 420.1,351.0 420.7,352.0 421.3,353.0 421.9,354.0 422.5,355.0 423.0,356.0 423.6,357.0 424.2,358.0 424.8,359.0 425.3,360.0 425.9,361.0 426.4,362.0 427.0,363.0 427.5,364.0 428.0,365.0 428.5,366.0 429.0,367.0 429.5,368.0 430.0,369.0 430.5,370.0 430.9,371.0 431.4,372.0 431.8,373.0 432.3,374.0 432.7,375.0 433.1,376.0 433.6,377.0 434.0,378.0 434.4,379.0 434.8,380.0 435.1,381.0 435.5,382.0 435.9,383.0 436.2,384.0 436.6,385.0 436.9,386.0 437.2,387.0 437.6,388.0 437.9,389.0 438.2,390.0 438.5,391.0 438.8,392.0 439.1,393.0 439.4,394.0 439.6,395.0 439.9,396.0 440.2,397.0 440.4,398.0 440.7,399.0 440.9,400.0 441.2,401.0 441.4,402.0 441.7,403.0 441.9,404.0 442.1,405.0 442.3,406.0 442.6,407.0 442.8,408.0 443.0,409.0 443.2,410.0 443.4,411.0 443.6,412.0 443.7,413.0 443.9,414.0 444.1,415.0 444.3,416.0 444.5,417.0 444.6,418.0 444.8,419.0 445.0,420.0 445.1,421.0 445.3,422.0 445.4,423.0 445.6,424.0 445.7,425.0 445.9,426.0 446.0,427.0 446.2,428.0 446.3,429.0 446.4,430.0 446.6,431.0 446.7,432.0 446.8,433.0 446.9,434.0 447.1,435.0 447.2,436.0 447.3,437.0 447.4,438.0 447.5,439.0 447.6,440.0 447.7,441.0 447.8,442.0 447.9,443.0 448.0,444.0 448.1,445.0 448.2,446.0 448.3,447.0 448.4,448.0 448.5,449.0 448.6,450.0 448.7,451.0 448.8,452.0 448.9,453.0 449.0,454.0 449.0,455.0 449.1,456.0 449.2,457.0 449.3,458.0 449.3,459.0 449.4,460.0 449.5,461.0 449.6,462.0 449.6,463.0 449.7,464.0 449.8,465.0 449.8,466.0 449.9,467.0 450.0,468.0 450.1,469.0 450.2,470.0 450.4,471.0 450.5,472.0 450.7,473.0 450.8,474.0 450.9,475.0 450.9,475.0 450.9,474.0 451.0,473.0 451.0,472.0 451.1,471.0 451.1,470.0 451.2,469.0 451.2,468.0 451.1,467.0 451.1,466.0 451.0,465.0 451.0,464.0 450.9,463.0 450.9,462.0 450.8,461.0 450.8,460.0 450.7,459.0 450.6,458.0 450.6,457.0 450.5,456.0 450.5,455.0 450.4,454.0 450.3,453.0 450.3,452.0 450.2,451.0 450.1,450.0 450.1,449.0 450.0,448.0 449.9,447.0 449.9,446.0 449.8,445.0 449.7,444.0 449.6,443.0 449.6,442.0 449.5,441.0 449.4,440.0 449.3,439.0 449.2,438.0 449.2,437.0 449.1,436.0 449.0,435.0 448.9,434.0 448.8,433.0 448.7,432.0 448.6,431.0 448.5,430.0 448.4,429.0 448.3,428.0 448.2,427.0 448.0,426.0 447.9,425.0 447.8,424.0 447.7,423.0 447.6,422.0 447.4,421.0 447.3,420.0 447.2,419.0 447.0,418.0 446.9,417.0 446.7,416.0 446.6,415.0 446.4,414.0 446.3,413.0 446.1,412.0 445.9,411.0 445.8,410.0 445.6,409.0 445.4,408.0 445.2,407.0 445.1,406.0 444.9,405.0 444.7,404.0 444.5,403.0 444.3,402.0 444.1,401.0 443.8,400.0 443.6,399.0 443.4,398.0 443.2,397.0 442.9,396.0 442.7,395.0 442.4,394.0 442.2,393.0 441.9,392.0 441.6,391.0 441.3,390.0 441.1,389.0 440.8,388.0 440.5,387.0 440.2,386.0 439.8,385.0 439.5,384.0 439.2,383.0 438.9,382.0 438.5,381.0 438.2,380.0 437.8,379.0 437.4,378.0 437.1,377.0 436.7,376.0 436.3,375.0 435.9,374.0 435.5,373.0 435.1,372.0 434.7,371.0 434.2,370.0 433.8,369.0 433.3,368.0 432.9,367.0 432.4,366.0 431.9,365.0 431.4,364.0 430.9,363.0 430.4,362.0 429.9,361.0 429.4,360.0 428.8,359.0 428.3,358.0 427.8,357.0 427.2,356.0 426.6,355.0 426.0,354.0 425.4,353.0 424.8,352.0 424.2,351.0 423.6,350.0 423.0,349.0 422.4,348.0 421.7,347.0 421.1,346.0 420.4,345.0 419.8,344.0 419.1,343.0 418.5,342.0 417.8,341.0 417.1,340.0 416.5,339.0 415.8,338.0 415.1,337.0 414.5,336.0 413.8,335.0 413.1,334.0 412.4,333.0 411.8,332.0 411.1,331.0 410.4,330.0 409.7,329.0 409.1,328.0 408.4,327.0 407.7,326.0 407.1,325.0 406.4,324.0 405.8,323.0 405.1,322.0 404.5,321.0 403.9,320.0 403.3,319.0 402.6,318.0 402.0,317.0 401.4,316.0 400.8,315.0 400.2,314.0 399.6,313.0 399.1,312.0 398.4,311.0 397.7,310.0 396.9,309.0 396.2,308.0 395.7,307.0 395.1,306.0 394.6,305.0 394.1,304.0 393.6,303.0 393.1,302.0 392.6,301.0 392.1,300.0 391.6,299.0 391.1,298.0 390.7,297.0 390.2,296.0 389.8,295.0 389.4,294.0 388.9,293.0 388.5,292.0 388.1,291.0 387.7,290.0 387.3,289.0 386.9,288.0 386.6,287.0 386.2,286.0 385.9,285.0 385.5,284.0 385.2,283.0 384.8,282.0 384.5,281.0 384.2,280.0 383.9,279.0 383.6,278.0 383.3,277.0 383.0,276.0 382.7,275.0 382.4,274.0 382.2,273.0 381.9,272.0 381.7,271.0 381.4,270.0 381.2,269.0 380.9,268.0 380.7,267.0 380.4,266.0 380.2,265.0 380.0,264.0 379.8,263.0 379.6,262.0 379.3,261.0 379.1,260.0 378.9,259.0 378.7,258.0 378.5,257.0 378.4,256.0 378.2,255.0 378.0,254.0 377.8,253.0 377.7,252.0 377.5,251.0 377.4,250.0 377.2,249.0 377.1,248.0 376.9,247.0 376.8,246.0 376.6,245.0 376.5,244.0 376.4,243.0 376.2,242.0 376.1,241.0 376.0,240.0 375.9,239.0 375.7,238.0 375.6,237.0 375.5,236.0 375.4,235.0 375.3,234.0 375.2,233.0 375.1,232.0 375.0,231.0 374.9,230.0 374.8,229.0 374.7,228.0 374.6,227.0 374.5,226.0 374.4,225.0 374.3,224.0 374.2,223.0 374.1,222.0 374.0,221.0 374.0,220.0 373.9,219.0 373.8,218.0 373.7,217.0 373.6,216.0 373.6,215.0 373.5,214.0 373.4,213.0 373.3,212.0 373.3,211.0 373.2,210.0 373.1,209.0 373.1,208.0 373.0,207.0 372.9,206.0 372.7,205.0 372.7,204.0"/>
<polygon points="397.5,204.0 397.5,205.0 397.4,206.0 397.5,207.0 397.5,208.0 397.6,209.0 397.6,210.0 397.7,211.0 397.8,212.0 397.8,213.0 397.9,214.0 398.0,215.0 398.0,216.0 398.1,217.0 398.2,218.0 398.2,219.0 398.3,220.0 398.4,221.0 398.5,222.0 398.5,223.0 398.6,224.0 398.7,225.0 398.8,226.0 398.9,227.0 399.0,228.0 399.1,229.0 399.1,230.0 399.2,231.0 399.3,232.0 399.4,233.0 399.5,234.0 399.6,235.0 399.7,236.0 399.8,237.0 400.0,238.0 400.1,239.0 400.2,240.0 400.3,241.0 400.4,242.0 400.5,243.0 400.7,244.0 400.8,245.0 400.9,246.0 401.1,247.0 401.2,248.0 401.3,249.0 401.5,250.0 401.6,251.0 401.8,252.0 401.9,253.0 402.1,254.0 402.2,255.0 402.4,256.0 402.6,257.0 402.7,258.0 402.9,259.0 403.0,260.0 403.2,261.0 403.4,262.0 403.6,263.0 403.8,264.0 403.9,265.0 404.1,266.0 404.3,267.0 404.6,268.0 404.8,269.0 405.0,270.0 405.2,271.0 405.4,272.0 405.7,273.0 405.9,274.0 406.2,275.0 406.4,276.0 406.7,277.0 406.9,278.0 407.2,279.0 407.5,280.0 407.8,281.0 408.1,282.0 408.4,283.0 408.7,284.0 409.0,285.0 409.3,286.0 409.6,287.0 410.0,288.0 410.3,289.0 410.7,290.0 411.0,291.0 411.4,292.0 411.8,293.0 412.1,294.0 412.5,295.0 412.9,296.0 413.3,297.0 413.7,298.0 414.2,299.0 414.6,300.0 415.0,301.0 415.5,302.0 415.9,303.0 416.4,304.0 416.9,305.0 417.4,306.0 417.9,307.0 418.4,308.0 418.7,309.0 419.0,310.0 419.4,311.0 419.9,312.0 420.5,313.0 421.0,314.0 421.6,315.0 422.2,316.0 422.8,317.0 423.4,318.0 424.0,319.0 424.6,320.0 425.2,321.0 425.9,322.0 426.5,323.0 427.1,324.0 427.8,325.0 428.4,326.0 429.1,327.0 429.7,328.0 430.4,329.0 431.1,330.0 431.7,331.0 432.4,332.0 433.1,333.0 433.7,334.0 434.4,335.0 435.1,336.0 435.7,337.0 436.4,338.0 437.1,339.0 437.8,340.0 438.4,341.0 439.1,342.0 439.7,343.0 440.4,344.0 441.1,345.0 441.7,346.0 442.3,347.0 443.0,348.0 443.6,349.0 444.2,350.0 444.9,351.0 445.5,352.0 446.1,353.0 446.7,354.0 447.3,355.0 447.8,356.0 448.4,357.0 449.0,358.0 449.6,359.0 450.1,360.0 450.7,361.0 451.2,362.0 451.8,363.0 452.3,364.0 452.8,365.0 453.3,366.0 453.8,367.0 454.3,368.0 454.8,369.0 455.3,370.0 455.7,371.0 456.2,372.0 456.6,373.0 457.1,374.0 457.5,375.0 457.9,376.0 458.4,377.0 458.8,378.0 459.2,379.0 459.5,380.0 459.9,381.0 460.3,382.0 460.6,383.0 461.0,384.0 461.3,385.0 461.7,386.0 462.0,387.0 462.3,388.0 462.6,389.0 462.9,390.0 463.2,391.0 463.5,392.0 463.8,393.0 464.1,394.0 464.4,395.0 464.6,396.0 464.9,397.0 465.1,398.0 465.4,399.0 465.6,400.0 465.9,401.0 466.1,402.0 466.3,403.0 466.6,404.0 466.8,405.0 467.0,406.0 467.2,407.0 467.4,408.0 467.6,409.0 467.8,410.0 468.0,411.0 468.2,412.0 468.4,413.0 468.6,414.0 468.8,415.0 469.0,416.0 469.1,417.0 469.3,418.0 469.5,419.0 469.6,420.0 469.8,421.0 470.0,422.0 470.1,423.0 470.3,424.0 470.4,425.0 470.5,426.0 470.7,427.0 470.8,428.0 471.0,429.0 471.1,430.0 471.2,431.0 471.4,432.0 471.5,433.0 471.6,434.0 471.7,435.0 471.8,436.0 472.0,437.0 472.1,438.0 472.2,439.0 472.3,440.0 472.4,441.0 472.5,442.0 472.6,443.0 472.7,444.0 472.8,445.0 472.9,446.0 473.0,447.0 473.1,448.0 473.2,449.0 473.3,450.0 473.4,451.0 473.5,452.0 473.6,453.0 473.6,454.0 473.7,455.0 473.8,456.0 473.9,457.0 474.0,458.0 474.0,459.0 474.1,460.0 474.2,461.0 474.3,462.0 474.3,463.0 474.4,464.0 474.5,465.0 474.5,466.0 474.6,467.0 474.7,468.0 474.8,469.0 474.9,470.0 475.0,471.0 475.2,472.0 475.3,473.0 475.5,474.0 475.6,475.0 475.8,476.0 475.8,476.0 475.8,475.0 475.9,474.0 476.0,473.0 476.0,472.0 476.0,471.0 476.0,470.0 476.1,469.0 476.1,468.0 476.0,467.0 476.0,466.0 475.9,465.0 475.9,464.0 475.8,463.0 475.8,462.0 475.7,461.0 475.7,460.0 475.6,459.0 475.6,458.0 475.5,457.0 475.4,456.0 475.4,455.0 475.3,454.0 475.3,453.0 475.2,452.0 475.1,451.0 475.1,450.0 475.0,449.0 474.9,448.0 474.9,447.0 474.8,446.0 474.7,445.0 474.6,444.0 474.6,443.0 474.5,442.0 474.4,441.0 474.3,440.0 474.3,439.0 474.2,438.0 474.1,437.0 474.0,436.0 473.9,435.0 473.8,434.0 473.7,433.0 473.6,432.0 473.5,431.0 473.4,430.0 473.3,429.0 473.2,428.0 473.1,427.0 473.0,426.0 472.8,425.0 472.7,424.0 472.6,423.0 472.5,422.0 472.3,421.0 472.2,420.0 472.1,419.0 471.9,418.0 471.8,417.0 471.7,416.0 471.5,415.0 471.4,414.0 471.2,413.0 471.0,412.0 470.9,411.0 470.7,410.0 470.5,409.0 470.4,408.0 470.2,407.0 470.0,406.0 469.8,405.0 469.6,404.0 469.4,403.0 469.2,402.0 469.0,401.0 468.8,400.0 468.5,399.0 468.3,398.0 468.1,397.0 467.8,396.0 467.6,395.0 467.3,394.0 467.0,393.0 466.8,392.0 466.5,391.0 466.2,390.0 465.9,389.0 465.6,388.0 465.3,387.0 465.0,386.0 464.7,385.0 464.4,384.0 464.0,383.0 463.7,382.0 463.3,381.0 463.0,380.0 462.6,379.0 462.3,378.0 461.9,377.0 461.5,376.0 461.1,375.0 460.7,374.0 460.3,373.0 459.9,372.0 459.5,371.0 459.0,370.0 458.6,369.0 458.1,368.0 457.7,367.0 457.2,366.0 456.7,365.0 456.2,364.0 455.7,363.0 455.2,362.0 454.7,361.0 454.2,360.0 453.6,359.0 453.1,358.0 452.6,357.0 452.0,356.0 451.4,355.0 450.8,354.0 450.2,353.0 449.6,352.0 449.0,351.0 448.4,350.0 447.8,349.0 447.2,348.0 446.5,347.0 445.9,346.0 445.2,345.0 444.6,344.0 443.9,343.0 443.3,342.0 442.6,341.0 441.9,340.0 441.3,339.0 440.6,338.0 439.9,337.0 439.3,336.0 438.6,335.0 437.9,334.0 437.2,333.0 436.6,332.0 435.9,331.0 435.2,330.0 434.5,329.0 433.9,328.0 433.2,327.0 432.5,326.0 431.9,325.0 431.2,324.0 430.6,323.0 429.9,322.0 429.3,321.0 428.7,320.0 428.1,319.0 427.4,318.0 426.8,317.0 426.2,316.0 425.6,315.0 425.0,314.0 424.4,313.0 423.9,312.0 423.2,311.0 422.5,310.0 421.7,309.0 421.0,308.0 420.5,307.0 419.9,306.0 419.4,305.0 418.9,304.0 418.4,303.0 417.9,302.0 417.4,301.0 416.9,300.0 416.4,299.0 415.9,298.0 415.5,297.0 415.0,296.0 414.6,295.0 414.2,294.0 413.7,293.0 413.3,292.0 412.9,291.0 412.5,290.0 412.1,289.0 411.7,288.0 411.4,287.0 411.0,286.0 410.7,285.0 410.3,284.0 410.0,283.0 409.6,282.0 409.3,281.0 409.0,280.0 408.7,279.0 408.4,278.0 408.1,277.0 407.8,276.0 407.5,275.0 407.2,274.0 407.0,273.0 406.7,272.0 406.5,271.0 406.2,270.0 406.0,269.0 405.7,268.0 405.5,267.0 405.2,266.0 405.0,265.0 404.8,264.0 404.6,263.0 404.4,262.0 404.1,261.0 403.9,260.0 403.7,259.0 403.5,258.0 403.3,257.0 403.2,256.0 403.0,255.0 402.8,254.0 402.6,253.0 402.5,252.0 402.3,251.0 402.2,250.0 402.0,249.0 401.9,248.0 401.7,247.0 401.6,246.0 401.4,245.0 401.3,244.0 401.2,243.0 401.0,242.0 400.9,241.0 400.8,240.0 400.7,239.0 400.5,238.0 400.4,237.0 400.3,236.0 400.2,235.0 400.1,234.0 400.0,233.0 399.9,232.0 399.8,231.0 399.7,230.0 399.6,229.0 399.5,228.0 399.4,227.0 399.3,226.0 399.2,225.0 399.1,224.0 399.0,223.0 398.9,222.0 398.8,221.0 398.8,220.0 398.7,219.0 398.6,218.0 398.5,217.0 398.4,216.0 398.4,215.0 398.3,214.0 398.2,213.0 398.1,212.0 398.1,211.0 398.0,210.0 397.9,209.0 397.9,208.0 397.8,207.0 397.7,206.0 397.5,205.0 397.5,204.0"/>
<polygon points="298.3,204.0 298.3,205.0 298.2,206.0 298.3,207.0 298.3,208.0 298.4,209.0 298.4,210.0 298.5,211.0 298.6,212.0 298.6,213.0 298.7,214.0 298.8,215.0 298.8,216.0 298.9,217.0 299.0,218.0 299.0,219.0 299.1,220.0 299.2,221.0 299.3,222.0 299.3,223.0 299.4,224.0 299.5,225.0 299.6,226.0 299.7,227.0 299.8,228.0 299.9,229.0 299.9,230.0 300.0,231.0 300.1,232.0 300.2,233.0 300.3,234.0 300.4,235.0 300.5,236.0 300.6,237.0 300.8,238.0 300.9,239.0 301.0,240.0 301.1,241.0 301.2,242.0 301.3,243.0 301.5,244.0 301.6,245.0 301.7,246.0 301.9,247.0 302.0,248.0 302.1,249.0 302.3,250.0 302.4,251.0 302.6,252.0 302.7,253.0 302.9,254.0 303.0,255.0 303.2,256.0 303.4,257.0 303.5,258.0 303.7,259.0 303.8,260.0 304.0,261.0 304.2,262.0 304.4,263.0 304.6,264.0 304.7,265.0 304.9,266.0 305.1,267.0 305.4,268.0 305.6,269.0 305.8,270.0 306.0,271.0 306.2,272.0 306.5,273.0 306.7,274.0 307.0,275.0 307.2,276.0 307.5,277.0 307.7,278.0 308.0,279.0 308.3,280.0 308.6,281.0 308.9,282.0 309.2,283.0 309.5,284.0 309.8,285.0 310.1,286.0 310.4,287.0 310.8,288.0 311.1,289.0 311.5,290.0 311.8,291.0 312.2,292.0 312.6,293.0 312.9,294.0 313.3,295.0 313.7,296.0 314.1,297.0 314.5,298.0 315.0,299.0 315.4,300.0 315.8,301.0 316.3,302.0 316.7,303.0 317.2,304.0 317.7,305.0 318.2,306.0 318.7,307.0 319.2,308.0 319.5,309.0 319.8,310.0 320.2,311.0 320.7,312.0 321.3,313.0 321.8,314.0 322.4,315.0 323.0,316.0 323.6,317.0 324.2,318.0 324.8,319.0 325.4,320.0 326.0,321.0 326.7,322.0 327.3,323.0 327.9,324.0 328.6,325.0 329.2,326.0 329.9,327.0 330.5,328.0 331.2,329.0 331.9,330.0 332.5,331.0 333.2,332.0 333.9,333.0 334.5,334.0 335.2,335.0 335.9,336.0 336.5,337.0 337.2,338.0 337.9,339.0 338.6,340.0 339.2,341.0 339.9,342.0 340.5,343.0 341.2,344.0 341.9,345.0 342.5,346.0 343.1,347.0 343.8,348.0 344.4,349.0 345.0,350.0 345.7,351.0 346.3,352.0 346.9,353.0 347.5,354.0 348.1,355.0 348.6,356.0 349.2,357.0 349.8,358.0 350.4,359.0 350.9,360.0 351.5,361.0 352.0,362.0 352.6,363.0 353.1,364.0 353.6,365.0 354.1,366.0 354.6,367.0 355.1,368.0 355.6,369.0 356.1,370.0 356.5,371.0 357.0,372.0 357.4,373.0 357.9,374.0 358.3,375.0 358.7,376.0 359.2,377.0 359.6,378.0 360.0,379.0 360.4,380.0 360.7,381.0 361.1,382.0 361.5,383.0 361.8,384.0 362.2,385.0 362.5,386.0 362.8,387.0 363.2,388.0 363.5,389.0 363.8,390.0 364.1,391.0 364.4,392.0 364.7,393.0 365.0,394.0 365.2,395.0 365.5,396.0 365.8,397.0 366.0,398.0 366.3,399.0 366.5,400.0 366.8,401.0 367.0,402.0 367.3,403.0 367.5,404.0 367.7,405.0 367.9,406.0 368.2,407.0 368.4,408.0 368.6,409.0 368.8,410.0 369.0,411.0 369.2,412.0 369.3,413.0 369.5,414.0 369.7,415.0 369.9,416.0 370.1,417.0 370.2,418.0 370.4,419.0 370.6,420.0 370.7,421.0 370.9,422.0 371.0,423.0 371.2,424.0 371.3,425.0 371.5,426.0 371.6,427.0 371.8,428.0 371.9,429.0 372.0,430.0 372.2,431.0 372.3,432.0 372.4,433.0 372.5,434.0 372.7,435.0 372.8,436.0 372.9,437.0 373.0,438.0 373.1,439.0 373.2,440.0 373.3,441.0 373.4,442.0 373.5,443.0 373.6,444.0 373.7,445.0 373.8,446.0 373.9,447.0 374.0,448.0 374.1,449.0 374.2,450.0 374.3,451.0 374.4,452.0 374.5,453.0 374.6,454.0 374.6,455.0 374.7,456.0 374.8,457.0 374.9,458.0 374.9,459.0 375.0,460.0 375.1,461.0 375.2,462.0 375.2,463.0 375.3,464.0 375.4,465.0 375.4,466.0 375.5,467.0 375.6,468.0 375.7,469.0 375.8,470.0 376.0,471.0 376.1,472.0 376.3,473.0 376.4,474.0 376.5,475.0 376.5,475.0 376.5,474.0 376.6,473.0 376.6,472.0 376.7,471.0 376.7,470.0 376.8,469.0 376.8,468.0 376.7,467.0 376.7,466.0 376.6,465.0 376.6,464.0 376.5,463.0 376.5,462.0 376.4,461.0 376.4,460.0 376.3,459.0 376.2,458.0 376.2,457.0 376.1,456.0 376.1,455.0 376.0,454.0 375.9,453.0 375.9,452.0 375.8,451.0 375.7,450.0 375.7,449.0 375.6,448.0 375.5,447.0 375.5,446.0 375.4,445.0 375.3,444.0 375.2,443.0 375.2,442.0 375.1,441.0 375.0,440.0 374.9,439.0 374.8,438.0 374.8,437.0 374.7,436.0 374.6,435.0 374.5,434.0 374.4,433.0 374.3,432.0 374.2,431.0 374.1,430.0 374.0,429.0 373.9,428.0 373.8,427.0 373.6,426.0 373.5,425.0 373.4,424.0 373.3,423.0 373.2,422.0 373.0,421.0 372.9,420.0 372.8,419.0 372.6,418.0 372.5,417.0 372.3,416.0 372.2,415.0 372.0,414.0 371.9,413.0 371.7,412.0 371.5,411.0 371.4,410.0 371.2,409.0 371.0,408.0 370.8,407.0 370.7,406.0 370.5,405.0 370.3,404.0 370.1,403.0 369.9,402.0 369.7,401.0 369.4,400.0 369.2,399.0 369.0,398.0 368.8,397.0 368.5,396.0 368.3,395.0 368.0,394.0 367.8,393.0 367.5,392.0 367.2,391.0 366.9,390.0 366.7,389.0 366.4,388.0 366.1,387.0 365.8,386.0 365.4,385.0 365.1,384.0 364.8,383.0 364.5,382.0 364.1,381.0 363.8,380.0 363.4,379.0 363.0,378.0 362.7,377.0 362.3,376.0 361.9,375.0 361.5,374.0 361.1,373.0 360.7,372.0 360.3,371.0 359.8,370.0 359.4,369.0 358.9,368.0 358.5,367.0 358.0,366.0 357.5,365.0 357.0,364.0 356.5,363.0 356.0,362.0 355.5,361.0 355.0,360.0 354.4,359.0 353.9,358.0 353.4,357.0 352.8,356.0 352.2,355.0 351.6,354.0 351.0,353.0 350.4,352.0 349.8,351.0 349.2,350.0 348.6,349.0 348.0,348.0 347.3,347.0 346.7,346.0 346.0,345.0 345.4,344.0 344.7,343.0 344.1,342.0 343.4,341.0 342.7,340.0 342.1,339.0 341.4,338.0 340.7,337.0 340.1,336.0 339.4,335.0 338.7,334.0 338.0,333.0 337.4,332.0 336.7,331.0 336.0,330.0 335.3,329.0 334.7,328.0 334.0,327.0 333.3,326.0 332.7,325.0 332.0,324.0 331.4,323.0 330.7,322.0 330.1,321.0 329.5,320.0 328.9,319.0 328.2,318.0 327.6,317.0 327.0,316.0 326.4,315.0 325.8,314.0 325.2,313.0 324.7,312.0 324.0,311.0 323.3,310.0 322.5,309.0 321.8,308.0 321.3,307.0 320.7,306.0 320.2,305.0 319.7,304.0 319.2,303.0 318.7,302.0 318.2,301.0 317.7,300.0 317.2,299.0 316.7,298.0 316.3,297.0 315.8,296.0 315.4,295.0 315.0,294.0 314.5,293.0 314.1,292.0 313.7,291.0 313.3,290.0 312.9,289.0 312.5,288.0 312.2,287.0 311.8,286.0 311.5,285.0 311.1,284.0 310.8,283.0 310.4,282.0 310.1,281.0 309.8,280.0 309.5,279.0 309.2,278.0 308.9,277.0 308.6,276.0 308.3,275.0 308.0,274.0 307.8,273.0 307.5,272.0 307.3,271.0 307.0,270.0 306.8,269.0 306.5,268.0 306.3,267.0 306.0,266.0 305.8,265.0 305.6,264.0 305.4,263.0 305.2,262.0 304.9,261.0 304.7,260.0 304.5,259.0 304.3,258.0 304.1,257.0 304.0,256.0 303.8,255.0 303.6,254.0 303.4,253.0 303.3,252.0 303.1,251.0 303.0,250.0 302.8,249.0 302.7,248.0 302.5,247.0 302.4,246.0 302.2,245.0 302.1,244.0 302.0,243.0 301.8,242.0 301.7,241.0 301.6,240.0 301.5,239.0 301.3,238.0 301.2,237.0 301.1,236.0 301.0,235.0 300.9,234.0 300.8,233.0 300.7,232.0 300.6,231.0 300.5,230.0 300.4,229.0 300.3,228.0 300.2,227.0 300.1,226.0 300.0,225.0 299.9,224.0 299.8,223.0 299.7,222.0 299.6,221.0 299.6,220.0 299.5,219.0 299.4,218.0 299.3,217.0 299.2,216.0 299.2,215.0 299.1,214.0 299.0,213.0 298.9,212.0 298.9,211.0 298.8,210.0 298.7,209.0 298.7,208.0 298.6,207.0 298.5,206.0 298.3,205.0 298.3,204.0"/>
<polygon points="273.5,204.0 273.5,205.0 273.4,206.0 273.5,207.0 273.5,208.0 273.6,209.0 273.6,210.0 273.7,211.0 273.8,212.0 273.8,213.0 273.9,214.0 274.0,215.0 274.0,216.0 274.1,217.0 274.2,218.0 274.2,219.0 274.3,220.0 274.4,221.0 274.5,222.0 274.5,223.0 274.6,224.0 274.7,225.0 274.8,226.0 274.9,227.0 275.0,228.0 275.1,229.0 275.1,230.0 275.2,231.0 275.3,232.0 275.4,233.0 275.5,234.0 275.6,235.0 275.7,236.0 275.8,237.0 276.0,238.0 276.1,239.0 276.2,240.0 276.3,241.0 276.4,242.0 276.5,243.0 276.7,244.0 276.8,245.0 276.9,246.0 277.1,247.0 277.2,248.0 277.3,249.0 277.5,250.0 277.6,251.0 277.8,252.0 277.9,253.0 278.1,254.0 278.2,255.0 278.4,256.0 278.6,257.0 278.7,258.0 278.9,259.0 279.0,260.0 279.2,261.0 279.4,262.0 279.6,263.0 279.8,264.0 279.9,265.0 280.1,266.0 280.3,267.0 280.6,268.0 280.8,269.0 281.0,270.0 281.2,271.0 281.4,272.0 281.7,273.0 281.9,274.0 282.2,275.0 282.4,276.0 282.7,277.0 282.9,278.0 283.2,279.0 283.5,280.0 283.8,281.0 284.1,282.0 284.4,283.0 284.7,284.0 285.0,285.0 285.3,286.0 285.6,287.0 286.0,288.0 286.3,289.0 286.7,290.0 287.0,291.0 287.4,292.0 287.8,293.0 288.1,294.0 288.5,295.0 288.9,296.0 289.3,297.0 289.7,298.0 290.2,299.0 290.6,300.0 291.0,301.0 291.5,302.0 291.9,303.0 292.4,304.0 292.9,305.0 293.4,306.0 293.9,307.0 294.4,308.0 294.7,309.0 295.0,310.0 295.4,311.0 295.9,312.0 296.5,313.0 297.0,314.0 297.6,315.0 298.2,316.0 298.8,317.0 299.4,318.0 300.0,319.0 300.6,320.0 301.2,321.0 301.9,322.0 302.5,323.0 303.1,324.0 303.8,325.0 304.4,326.0 305.1,327.0 305.7,328.0 306.4,329.0 307.1,330.0 307.7,331.0 308.4,332.0 309.1,333.0 309.7,334.0 310.4,335.0 311.1,336.0 311.7,337.0 312.4,338.0 313.1,339.0 313.8,340.0 314.4,341.0 315.1,342.0 315.7,343.0 316.4,344.0 317.1,345.0 317.7,346.0 318.3,347.0 319.0,348.0 319.6,349.0 320.2,350.0 320.9,351.0 321.5,352.0 322.1,353.0 322.7,354.0 323.3,355.0 323.8,356.0 324.4,357.0 325.0,358.0 325.6,359.0 326.1,360.0 326.7,361.0 327.2,362.0 327.8,363.0 328.3,364.0 328.8,365.0 329.3,366.0 329.8,367.0 330.3,368.0 330.8,369.0 331.3,370.0 331.7,371.0 332.2,372.0 332.6,373.0 333.1,374.0 333.5,375.0 333.9,376.0 334.4,377.0 334.8,378.0 335.2,379.0 335.6,380.0 335.9,381.0 336.3,382.0 336.7,383.0 337.0,384.0 337.4,385.0 337.7,386.0 338.1,387.0 338.4,388.0 338.7,389.0 339.0,390.0 339.3,391.0 339.6,392.0 339.9,393.0 340.2,394.0 340.5,395.0 340.8,396.0 341.0,397.0 341.3,398.0 341.6,399.0 341.8,400.0 342.1,401.0 342.3,402.0 342.5,403.0 342.8,404.0 343.0,405.0 343.2,406.0 343.4,407.0 343.6,408.0 343.8,409.0 344.0,410.0 344.2,411.0 344.4,412.0 344.6,413.0 344.8,414.0 345.0,415.0 345.2,416.0 345.3,417.0 345.5,418.0 345.7,419.0 345.8,420.0 346.0,421.0 346.1,422.0 346.3,423.0 346.4,424.0 346.6,425.0 346.7,426.0 346.9,427.0 347.0,428.0 347.2,429.0 347.3,430.0 347.4,431.0 347.5,432.0 347.7,433.0 347.8,434.0 347.9,435.0 348.0,436.0 348.2,437.0 348.3,438.0 348.4,439.0 348.5,440.0 348.6,441.0 348.7,442.0 348.8,443.0 348.9,444.0 349.0,445.0 349.1,446.0 349.2,447.0 349.3,448.0 349.4,449.0 349.5,450.0 349.6,451.0 349.6,452.0 349.7,453.0 349.8,454.0 349.9,455.0 350.0,456.0 350.1,457.0 350.1,458.0 350.2,459.0 350.3,460.0 350.3,461.0 350.4,462.0 350.5,463.0 350.6,464.0 350.6,465.0 350.7,466.0 350.8,467.0 350.8,468.0 350.9,469.0 351.1,470.0 351.2,471.0 351.4,472.0 351.6,473.0 351.7,474.0 351.7,474.0 351.7,473.0 351.8,472.0 351.8,471.0 351.9,470.0 351.9,469.0 351.9,468.0 351.9,467.0 351.8,466.0 351.8,465.0 351.7,464.0 351.7,463.0 351.6,462.0 351.6,461.0 351.5,460.0 351.4,459.0 351.4,458.0 351.3,457.0 351.3,456.0 351.2,455.0 351.1,454.0 351.1,453.0 351.0,452.0 351.0,451.0 350.9,450.0 350.8,449.0 350.8,448.0 350.7,447.0 350.6,446.0 350.5,445.0 350.5,444.0 350.4,443.0 350.3,442.0 350.2,441.0 350.1,440.0 350.1,439.0 350.0,438.0 349.9,437.0 349.8,436.0 349.7,435.0 349.6,434.0 349.5,433.0 349.4,432.0 349.3,431.0 349.2,430.0 349.1,429.0 349.0,428.0 348.9,427.0 348.8,426.0 348.7,425.0 348.5,424.0 348.4,423.0 348.3,422.0 348.2,421.0 348.0,420.0 347.9,419.0 347.8,418.0 347.6,417.0 347.5,416.0 347.3,415.0 347.2,414.0 347.0,413.0 346.9,412.0 346.7,411.0 346.5,410.0 346.3,409.0 346.2,408.0 346.0,407.0 345.8,406.0 345.6,405.0 345.4,404.0 345.2,403.0 345.0,402.0 344.8,401.0 344.6,400.0 344.4,399.0 344.1,398.0 343.9,397.0 343.7,396.0 343.4,395.0 343.2,394.0 342.9,393.0 342.7,392.0 342.4,391.0 342.1,390.0 341.8,389.0 341.5,388.0 341.2,387.0 340.9,386.0 340.6,385.0 340.3,384.0 340.0,383.0 339.6,382.0 339.3,381.0 339.0,380.0 338.6,379.0 338.2,378.0 337.9,377.0 337.5,376.0 337.1,375.0 336.7,374.0 336.3,373.0 335.9,372.0 335.5,371.0 335.0,370.0 334.6,369.0 334.1,368.0 333.7,367.0 333.2,366.0 332.7,365.0 332.2,364.0 331.7,363.0 331.2,362.0 330.7,361.0 330.2,360.0 329.6,359.0 329.1,358.0 328.6,357.0 328.0,356.0 327.4,355.0 326.8,354.0 326.2,353.0 325.6,352.0 325.0,351.0 324.4,350.0 323.8,349.0 323.2,348.0 322.5,347.0 321.9,346.0 321.2,345.0 320.6,344.0 319.9,343.0 319.3,342.0 318.6,341.0 317.9,340.0 317.3,339.0 316.6,338.0 315.9,337.0 315.3,336.0 314.6,335.0 313.9,334.0 313.2,333.0 312.6,332.0 311.9,331.0 311.2,330.0 310.5,329.0 309.9,328.0 309.2,327.0 308.5,326.0 307.9,325.0 307.2,324.0 306.6,323.0 305.9,322.0 305.3,321.0 304.7,320.0 304.1,319.0 303.4,318.0 302.8,317.0 302.2,316.0 301.6,315.0 301.0,314.0 300.4,313.0 299.9,312.0 299.2,311.0 298.5,310.0 297.7,309.0 297.0,308.0 296.5,307.0 295.9,306.0 295.4,305.0 294.9,304.0 294.4,303.0 293.9,302.0 293.4,301.0 292.9,300.0 292.4,299.0 291.9,298.0 291.5,297.0 291.0,296.0 290.6,295.0 290.2,294.0 289.7,293.0 289.3,292.0 288.9,291.0 288.5,290.0 288.1,289.0 287.7,288.0 287.4,287.0 287.0,286.0 286.7,285.0 286.3,284.0 286.0,283.0 285.6,282.0 285.3,281.0 285.0,280.0 284.7,279.0 284.4,278.0 284.1,277.0 283.8,276.0 283.5,275.0 283.2,274.0 283.0,273.0 282.7,272.0 282.5,271.0 282.2,270.0 282.0,269.0 281.7,268.0 281.5,267.0 281.2,266.0 281.0,265.0 280.8,264.0 280.6,263.0 280.4,262.0 280.1,261.0 279.9,260.0 279.7,259.0 279.5,258.0 279.3,257.0 279.2,256.0 279.0,255.0 278.8,254.0 278.6,253.0 278.5,252.0 278.3,251.0 278.2,250.0 278.0,249.0 277.9,248.0 277.7,247.0 277.6,246.0 277.4,245.0 277.3,244.0 277.2,243.0 277.0,242.0 276.9,241.0 276.8,240.0 276.7,239.0 276.5,238.0 276.4,237.0 276.3,236.0 276.2,235.0 276.1,234.0 276.0,233.0 275.9,232.0 275.8,231.0 275.7,230.0 275.6,229.0 275.5,228.0 275.4,227.0 275.3,226.0 275.2,225.0 275.1,224.0 275.0,223.0 274.9,222.0 274.8,221.0 274.8,220.0 274.7,219.0 274.6,218.0 274.5,217.0 274.4,216.0 274.4,215.0 274.3,214.0 274.2,213.0 274.1,212.0 274.1,211.0 274.0,210.0 273.9,209.0 273.9,208.0 273.8,207.0 273.7,206.0 273.5,205.0 273.5,204.0"/>
<polygon points="232.0,270.0 232.2,271.0 232.4,272.0 232.7,273.0 232.9,274.0 233.2,275.0 233.4,276.0 233.7,277.0 233.9,278.0 234.2,279.0 234.5,280.0 234.8,281.0 235.1,282.0 235.4,283.0 235.7,284.0 236.0,285.0 236.3,286.0 236.6,287.0 237.0,288.0 237.3,289.0 237.7,290.0 238.0,291.0 238.4,292.0 238.8,293.0 239.2,294.0 239.6,295.0 240.0,296.0 240.4,297.0 240.8,298.0 241.2,299.0 241.7,300.0 242.1,301.0 242.6,302.0 243.1,303.0 243.6,304.0 244.1,305.0 244.6,306.0 245.1,307.0 245.6,308.0 246.1,309.0 246.7,310.0 247.2,311.0 247.8,312.0 248.3,313.0 248.9,314.0 249.5,315.0 250.1,316.0 250.7,317.0 251.3,318.0 251.9,319.0 252.5,320.0 253.1,321.0 253.8,322.0 254.4,323.0 255.0,324.0 255.7,325.0 256.3,326.0 257.0,327.0 257.7,328.0 258.3,329.0 259.0,330.0 259.7,331.0 260.3,332.0 261.0,333.0 261.7,334.0 262.3,335.0 263.0,336.0 263.7,337.0 264.4,338.0 265.0,339.0 265.7,340.0 266.4,341.0 267.0,342.0 267.7,343.0 268.3,344.0 269.0,345.0 269.6,346.0 270.3,347.0 270.9,348.0 271.5,349.0 272.2,350.0 272.8,351.0 273.4,352.0 274.0,353.0 274.6,354.0 275.2,355.0 275.7,356.0 276.3,357.0 276.9,358.0 277.4,359.0 278.0,360.0 278.5,361.0 279.1,362.0 279.6,363.0 280.1,364.0 280.6,365.0 281.1,366.0 281.6,367.0 282.1,368.0 282.6,369.0 283.0,370.0 283.5,371.0 283.9,372.0 284.4,373.0 284.8,374.0 285.2,375.0 285.6,376.0 286.0,377.0 286.4,378.0 286.8,379.0 287.2,380.0 287.6,381.0 287.9,382.0 288.3,383.0 288.6,384.0 289.0,385.0 289.3,386.0 289.6,387.0 289.9,388.0 290.3,389.0 290.6,390.0 290.8,391.0 291.1,392.0 291.4,393.0 291.7,394.0 292.0,395.0 292.2,396.0 292.5,397.0 292.7,398.0 293.0,399.0 293.2,400.0 293.5,401.0 293.7,402.0 294.0,403.0 294.2,404.0 294.4,405.0 294.6,406.0 294.9,407.0 295.1,408.0 295.3,409.0 295.5,410.0 295.7,411.0 295.9,412.0 296.1,413.0 296.3,414.0 296.5,415.0 296.6,416.0 296.8,417.0 297.0,418.0 297.2,419.0 297.3,420.0 297.3,420.0 297.2,419.0 297.1,418.0 296.9,417.0 296.8,416.0 296.6,415.0 296.5,414.0 296.3,413.0 296.2,412.0 296.0,411.0 295.9,410.0 295.7,409.0 295.5,408.0 295.3,407.0 295.2,406.0 295.0,405.0 294.8,404.0 294.6,403.0 294.4,402.0 294.2,401.0 294.0,400.0 293.7,399.0 293.5,398.0 293.2,397.0 293.0,396.0 292.7,395.0 292.5,394.0 292.2,393.0 291.9,392.0 291.7,391.0 291.4,390.0 291.1,389.0 290.8,388.0 290.5,387.0 290.2,386.0 289.8,385.0 289.5,384.0 289.2,383.0 288.8,382.0 288.5,381.0 288.1,380.0 287.8,379.0 287.4,378.0 287.0,377.0 286.6,376.0 286.2,375.0 285.8,374.0 285.4,373.0 284.9,372.0 284.5,371.0 284.1,370.0 283.6,369.0 283.2,368.0 282.7,367.0 282.2,366.0 281.7,365.0 281.2,364.0 280.7,363.0 280.2,362.0 279.7,361.0 279.1,360.0 278.6,359.0 278.0,358.0 277.5,357.0 276.9,356.0 276.3,355.0 275.7,354.0 275.1,353.0 274.5,352.0 273.9,351.0 273.3,350.0 272.7,349.0 272.0,348.0 271.4,347.0 270.8,346.0 270.1,345.0 269.5,344.0 268.8,343.0 268.1,342.0 267.5,341.0 266.8,340.0 266.1,339.0 265.5,338.0 264.8,337.0 264.1,336.0 263.5,335.0 262.8,334.0 262.1,333.0 261.4,332.0 260.8,331.0 260.1,330.0 259.4,329.0 258.8,328.0 258.1,327.0 257.4,326.0 256.8,325.0 256.1,324.0 255.5,323.0 254.8,322.0 254.2,321.0 253.6,320.0 252.9,319.0 252.3,318.0 251.7,317.0 251.1,316.0 250.5,315.0 249.9,314.0 249.4,313.0 248.8,312.0 248.2,311.0 247.7,310.0 247.1,309.0 246.6,308.0 246.1,307.0 245.5,306.0 245.0,305.0 244.5,304.0 244.0,303.0 243.6,302.0 243.1,301.0 242.6,300.0 242.1,299.0 241.7,298.0 241.2,297.0 240.8,296.0 240.4,295.0 239.9,294.0 239.5,293.0 239.1,292.0 238.7,291.0 238.3,290.0 237.9,289.0 237.5,288.0 237.2,287.0 236.8,286.0 236.5,285.0 236.1,284.0 235.8,283.0 235.4,282.0 235.1,281.0 234.8,280.0 234.5,279.0 234.2,278.0 233.9,277.0 233.6,276.0 233.3,275.0 233.0,274.0 232.8,273.0 232.5,272.0 232.2,271.0 232.0,270.0"/>
<polygon points="455.2,270.0 455.4,271.0 455.6,272.0 455.9,273.0 456.1,274.0 456.4,275.0 456.6,276.0 456.9,277.0 457.1,278.0 457.4,279.0 457.7,280.0 458.0,281.0 458.3,282.0 458.6,283.0 458.9,284.0 459.2,285.0 459.5,286.0 459.8,287.0 460.2,288.0 460.5,289.0 460.9,290.0 461.2,291.0 461.6,292.0 462.0,293.0 462.4,294.0 462.8,295.0 463.2,296.0 463.6,297.0 464.0,298.0 464.4,299.0 464.9,300.0 465.3,301.0 465.8,302.0 466.3,303.0 466.8,304.0 467.3,305.0 467.8,306.0 468.3,307.0 468.8,308.0 469.3,309.0 469.9,310.0 470.4,311.0 471.0,312.0 471.5,313.0 472.1,314.0 472.7,315.0 473.3,316.0 473.9,317.0 474.5,318.0 475.1,319.0 475.7,320.0 476.3,321.0 477.0,322.0 477.6,323.0 478.2,324.0 478.9,325.0 479.5,326.0 480.2,327.0 480.9,328.0 481.5,329.0 482.2,330.0 482.9,331.0 483.5,332.0 484.2,333.0 484.9,334.0 485.5,335.0 486.2,336.0 486.9,337.0 487.6,338.0 488.2,339.0 488.9,340.0 489.6,341.0 490.2,342.0 490.9,343.0 491.5,344.0 492.2,345.0 492.8,346.0 493.5,347.0 494.1,348.0 494.7,349.0 495.4,350.0 496.0,351.0 496.6,352.0 497.2,353.0 497.8,354.0 498.4,355.0 498.9,356.0 499.5,357.0 500.1,358.0 500.6,359.0 501.2,360.0 501.7,361.0 502.3,362.0 502.8,363.0 503.3,364.0 503.8,365.0 504.3,366.0 504.8,367.0 505.3,368.0 505.7,369.0 506.2,370.0 506.6,371.0 507.1,372.0 507.5,373.0 507.9,374.0 508.4,375.0 508.8,376.0 509.2,377.0 509.6,378.0 509.9,379.0 510.3,380.0 510.7,381.0 511.0,382.0 511.4,383.0 511.7,384.0 512.1,385.0 512.4,386.0 512.7,387.0 513.0,388.0 513.3,389.0 513.6,390.0 513.9,391.0 514.2,392.0 514.5,393.0 514.8,394.0 515.0,395.0 515.3,396.0 515.5,397.0 515.8,398.0 516.0,399.0 516.3,400.0 516.5,401.0 516.8,402.0 517.0,403.0 517.2,404.0 517.5,405.0 517.7,406.0 517.9,407.0 518.1,408.0 518.3,409.0 518.5,410.0 518.7,411.0 518.9,412.0 519.1,413.0 519.3,414.0 519.5,415.0 519.7,416.0 519.8,417.0 520.0,418.0 520.2,419.0 520.3,420.0 520.5,421.0 520.7,422.0 520.8,423.0 521.0,424.0 521.1,425.0 521.3,426.0 521.4,427.0 521.6,428.0 521.7,429.0 521.9,430.0 521.9,430.0 521.7,429.0 521.6,428.0 521.5,427.0 521.4,426.0 521.3,425.0 521.2,424.0 521.1,423.0 521.0,422.0 520.8,421.0 520.7,420.0 520.6,419.0 520.4,418.0 520.3,417.0 520.2,416.0 520.0,415.0 519.9,414.0 519.7,413.0 519.6,412.0 519.4,411.0 519.2,410.0 519.1,409.0 518.9,408.0 518.7,407.0 518.5,406.0 518.3,405.0 518.1,404.0 517.9,403.0 517.7,402.0 517.5,401.0 517.3,400.0 517.1,399.0 516.8,398.0 516.6,397.0 516.3,396.0 516.1,395.0 515.8,394.0 515.5,393.0 515.3,392.0 515.0,391.0 514.7,390.0 514.4,389.0 514.1,388.0 513.8,387.0 513.5,386.0 513.1,385.0 512.8,384.0 512.5,383.0 512.1,382.0 511.8,381.0 511.4,380.0 511.0,379.0 510.7,378.0 510.3,377.0 509.9,376.0 509.5,375.0 509.1,374.0 508.6,373.0 508.2,372.0 507.8,371.0 507.3,370.0 506.9,369.0 506.4,368.0 505.9,367.0 505.4,366.0 504.9,365.0 504.4,364.0 503.9,363.0 503.4,362.0 502.9,361.0 502.3,360.0 501.8,359.0 501.2,358.0 500.7,357.0 500.1,356.0 499.5,355.0 498.9,354.0 498.3,353.0 497.7,352.0 497.1,351.0 496.5,350.0 495.9,349.0 495.2,348.0 494.6,347.0 494.0,346.0 493.3,345.0 492.7,344.0 492.0,343.0 491.3,342.0 490.7,341.0 490.0,340.0 489.3,339.0 488.7,338.0 488.0,337.0 487.3,336.0 486.7,335.0 486.0,334.0 485.3,333.0 484.6,332.0 484.0,331.0 483.3,330.0 482.6,329.0 482.0,328.0 481.3,327.0 480.6,326.0 480.0,325.0 479.3,324.0 478.7,323.0 478.0,322.0 477.4,321.0 476.8,320.0 476.1,319.0 475.5,318.0 474.9,317.0 474.3,316.0 473.7,315.0 473.1,314.0 472.6,313.0 472.0,312.0 471.4,311.0 470.9,310.0 470.3,309.0 469.8,308.0 469.3,307.0 468.7,306.0 468.2,305.0 467.7,304.0 467.2,303.0 466.8,302.0 466.3,301.0 465.8,300.0 465.3,299.0 464.9,298.0 464.4,297.0 464.0,296.0 463.6,295.0 463.1,294.0 462.7,293.0 462.3,292.0 461.9,291.0 461.5,290.0 461.1,289.0 460.7,288.0 460.4,287.0 460.0,286.0 459.7,285.0 459.3,284.0 459.0,283.0 458.6,282.0 458.3,281.0 458.0,280.0 457.7,279.0 457.4,278.0 457.1,277.0 456.8,276.0 456.5,275.0 456.2,274.0 456.0,273.0 455.7,272.0 455.4,271.0 455.2,270.0"/>
<polygon points="527.5,260.0 527.7,261.0 527.8,262.0 528.0,263.0 528.2,264.0 528.4,265.0 528.6,266.0 528.8,267.0 529.0,268.0 529.2,269.0 529.4,270.0 529.6,271.0 529.9,272.0 530.1,273.0 530.4,274.0 530.6,275.0 530.9,276.0 531.1,277.0 531.4,278.0 531.7,279.0 532.0,280.0 532.3,281.0 532.6,282.0 532.9,283.0 533.2,284.0 533.5,285.0 533.8,286.0 534.2,287.0 534.5,288.0 534.8,289.0 535.2,290.0 535.6,291.0 535.9,292.0 536.3,293.0 536.7,294.0 537.1,295.0 537.5,296.0 538.0,297.0 538.4,298.0 538.8,299.0 539.3,300.0 539.7,301.0 540.2,302.0 540.7,303.0 541.2,304.0 541.7,305.0 542.2,306.0 542.7,307.0 543.2,308.0 543.7,309.0 544.3,310.0 544.8,311.0 545.4,312.0 546.0,313.0 546.5,314.0 547.1,315.0 547.7,316.0 548.3,317.0 548.9,318.0 549.5,319.0 550.1,320.0 550.8,321.0 551.4,322.0 552.0,323.0 552.7,324.0 553.3,325.0 554.0,326.0 554.6,327.0 555.3,328.0 556.0,329.0 556.6,330.0 557.3,331.0 558.0,332.0 558.7,333.0 559.4,334.0 560.1,335.0 560.8,336.0 561.5,337.0 562.2,338.0 562.9,339.0 563.6,340.0 564.3,341.0 565.0,342.0 565.7,343.0 566.4,344.0 567.1,345.0 567.8,346.0 568.4,347.0 568.4,347.0 567.8,346.0 567.2,345.0 566.6,344.0 566.0,343.0 565.3,342.0 564.7,341.0 564.1,340.0 563.4,339.0 562.8,338.0 562.1,337.0 561.5,336.0 560.9,335.0 560.2,334.0 559.6,333.0 558.9,332.0 558.3,331.0 557.6,330.0 557.0,329.0 556.3,328.0 555.6,327.0 555.0,326.0 554.3,325.0 553.7,324.0 553.0,323.0 552.4,322.0 551.8,321.0 551.1,320.0 550.5,319.0 549.9,318.0 549.3,317.0 548.7,316.0 548.1,315.0 547.5,314.0 546.9,313.0 546.4,312.0 545.8,311.0 545.3,310.0 544.7,309.0 544.2,308.0 543.7,307.0 543.1,306.0 542.6,305.0 542.1,304.0 541.6,303.0 541.2,302.0 540.7,301.0 540.2,300.0 539.7,299.0 539.3,298.0 538.8,297.0 538.4,296.0 538.0,295.0 537.6,294.0 537.2,293.0 536.8,292.0 536.4,291.0 536.0,290.0 535.6,289.0 535.2,288.0 534.9,287.0 534.5,286.0 534.2,285.0 533.8,284.0 533.5,283.0 533.2,282.0 532.8,281.0 532.5,280.0 532.2,279.0 531.9,278.0 531.6,277.0 531.4,276.0 531.1,275.0 530.8,274.0 530.5,273.0 530.3,272.0 530.0,271.0 529.8,270.0 529.5,269.0 529.3,268.0 529.0,267.0 528.8,266.0 528.6,265.0 528.3,264.0 528.1,263.0 527.9,262.0 527.7,261.0 527.5,260.0"/>
<polygon points="130.7,260.0 130.9,261.0 131.0,262.0 131.2,263.0 131.4,264.0 131.6,265.0 131.8,266.0 132.0,267.0 132.2,268.0 132.4,269.0 132.6,270.0 132.8,271.0 133.1,272.0 133.3,273.0 133.6,274.0 133.8,275.0 134.1,276.0 134.3,277.0 134.6,278.0 134.9,279.0 135.2,280.0 135.5,281.0 135.8,282.0 136.1,283.0 136.4,284.0 136.7,285.0 137.0,286.0 137.4,287.0 137.7,288.0 138.0,289.0 138.4,290.0 138.8,291.0 139.1,292.0 139.5,293.0 139.9,294.0 140.3,295.0 140.7,296.0 141.2,297.0 141.6,298.0 142.0,299.0 142.5,300.0 142.9,301.0 143.4,302.0 143.9,303.0 144.4,304.0 144.9,305.0 145.4,306.0 145.9,307.0 146.4,308.0 146.9,309.0 147.5,310.0 148.0,311.0 148.6,312.0 149.2,313.0 149.7,314.0 150.3,315.0 150.9,316.0 151.5,317.0 152.1,318.0 152.7,319.0 153.3,320.0 154.0,321.0 154.6,322.0 155.2,323.0 155.9,324.0 156.5,325.0 157.2,326.0 157.8,327.0 158.5,328.0 159.2,329.0 159.8,330.0 160.5,331.0 161.2,332.0 161.9,333.0 162.6,334.0 163.3,335.0 164.0,336.0 164.7,337.0 165.4,338.0 166.1,339.0 166.8,340.0 167.5,341.0 168.2,342.0 168.9,343.0 169.6,344.0 170.3,345.0 171.0,346.0 171.6,347.0 171.6,347.0 171.0,346.0 170.4,345.0 169.8,344.0 169.2,343.0 168.5,342.0 167.9,341.0 167.3,340.0 166.6,339.0 166.0,338.0 165.3,337.0 164.7,336.0 164.1,335.0 163.4,334.0 162.8,333.0 162.1,332.0 161.5,331.0 160.8,330.0 160.2,329.0 159.5,328.0 158.8,327.0 158.2,326.0 157.5,325.0 156.9,324.0 156.2,323.0 155.6,322.0 155.0,321.0 154.3,320.0 153.7,319.0 153.1,318.0 152.5,317.0 151.9,316.0 151.3,315.0 150.7,314.0 150.1,313.0 149.6,312.0 149.0,311.0 148.5,310.0 147.9,309.0 147.4,308.0 146.9,307.0 146.3,306.0 145.8,305.0 145.3,304.0 144.8,303.0 144.4,302.0 143.9,301.0 143.4,300.0 142.9,299.0 142.5,298.0 142.0,297.0 141.6,296.0 141.2,295.0 140.8,294.0 140.4,293.0 140.0,292.0 139.6,291.0 139.2,290.0 138.8,289.0 138.4,288.0 138.1,287.0 137.7,286.0 137.4,285.0 137.0,284.0 136.7,283.0 136.4,282.0 136.0,281.0 135.7,280.0 135.4,279.0 135.1,278.0 134.8,277.0 134.6,276.0 134.3,275.0 134.0,274.0 133.7,273.0 133.5,272.0 133.2,271.0 133.0,270.0 132.7,269.0 132.5,268.0 132.2,267.0 132.0,266.0 131.8,265.0 131.5,264.0 131.3,263.0 131.1,262.0 130.9,261.0 130.7,260.0"/>
<polygon points="155.9,262.0 156.1,263.0 156.3,264.0 156.5,265.0 156.7,266.0 156.9,267.0 157.1,268.0 157.3,269.0 157.5,270.0 157.7,271.0 158.0,272.0 158.2,273.0 158.4,274.0 158.7,275.0 158.9,276.0 159.2,277.0 159.4,278.0 159.7,279.0 160.0,280.0 160.3,281.0 160.6,282.0 160.9,283.0 161.2,284.0 161.5,285.0 161.8,286.0 162.1,287.0 162.5,288.0 162.8,289.0 163.2,290.0 163.5,291.0 163.9,292.0 164.3,293.0 164.7,294.0 165.1,295.0 165.5,296.0 165.9,297.0 166.3,298.0 166.7,299.0 167.2,300.0 167.6,301.0 168.1,302.0 168.6,303.0 169.1,304.0 169.6,305.0 170.1,306.0 170.6,307.0 171.1,308.0 171.6,309.0 172.2,310.0 172.7,311.0 173.3,312.0 173.9,313.0 174.4,314.0 175.0,315.0 175.6,316.0 176.2,317.0 176.8,318.0 177.4,319.0 178.0,320.0 178.7,321.0 179.3,322.0 179.9,323.0 180.6,324.0 181.2,325.0 181.9,326.0 182.5,327.0 183.2,328.0 183.8,329.0 184.5,330.0 185.2,331.0 185.8,332.0 186.5,333.0 187.2,334.0 187.9,335.0 188.5,336.0 189.2,337.0 189.9,338.0 190.5,339.0 191.2,340.0 191.9,341.0 192.5,342.0 193.2,343.0 193.9,344.0 194.5,345.0 195.2,346.0 195.8,347.0 196.4,348.0 197.1,349.0 197.7,350.0 198.3,351.0 198.9,352.0 199.5,353.0 200.1,354.0 200.7,355.0 201.3,356.0 201.9,357.0 202.4,358.0 203.0,359.0 203.5,360.0 204.1,361.0 204.6,362.0 205.1,363.0 205.7,364.0 206.2,365.0 206.7,366.0 207.2,367.0 207.6,368.0 208.1,369.0 208.6,370.0 209.0,371.0 209.5,372.0 209.9,373.0 210.4,374.0 210.8,375.0 211.2,376.0 211.6,377.0 212.0,378.0 212.4,379.0 212.8,380.0 213.1,381.0 213.5,382.0 213.9,383.0 214.2,384.0 214.5,385.0 214.9,386.0 215.2,387.0 215.5,388.0 215.8,389.0 216.1,390.0 216.4,391.0 216.7,392.0 217.0,393.0 217.3,394.0 217.6,395.0 217.8,396.0 218.1,397.0 218.3,398.0 218.6,399.0 218.8,400.0 219.1,401.0 219.3,402.0 219.5,403.0 219.8,404.0 220.0,405.0 220.2,406.0 220.4,407.0 220.6,408.0 220.8,409.0 221.0,410.0 221.2,411.0 221.4,412.0 221.6,413.0 221.7,414.0 221.9,415.0 222.1,416.0 222.3,417.0 222.4,418.0 222.6,419.0 222.7,420.0 222.9,421.0 223.1,422.0 223.2,423.0 223.3,424.0 223.5,425.0 223.6,426.0 223.8,427.0 223.9,428.0 224.0,429.0 224.2,430.0 224.3,431.0 224.4,432.0 224.5,433.0 224.7,434.0 224.8,435.0 224.9,436.0 225.0,437.0 225.1,438.0 225.2,439.0 225.3,440.0 225.3,440.0 225.2,439.0 225.1,438.0 225.0,437.0 225.0,436.0 224.9,435.0 224.8,434.0 224.7,433.0 224.6,432.0 224.4,431.0 224.3,430.0 224.2,429.0 224.1,428.0 224.0,427.0 223.9,426.0 223.8,425.0 223.6,424.0 223.5,423.0 223.4,422.0 223.2,421.0 223.1,420.0 223.0,419.0 222.8,418.0 222.7,417.0 222.5,416.0 222.4,415.0 222.2,414.0 222.1,413.0 221.9,412.0 221.7,411.0 221.5,410.0 221.4,409.0 221.2,408.0 221.0,407.0 220.8,406.0 220.6,405.0 220.4,404.0 220.2,403.0 220.0,402.0 219.8,401.0 219.6,400.0 219.3,399.0 219.1,398.0 218.9,397.0 218.6,396.0 218.4,395.0 218.1,394.0 217.8,393.0 217.6,392.0 217.3,391.0 217.0,390.0 216.7,389.0 216.4,388.0 216.1,387.0 215.8,386.0 215.5,385.0 215.1,384.0 214.8,383.0 214.5,382.0 214.1,381.0 213.8,380.0 213.4,379.0 213.0,378.0 212.6,377.0 212.3,376.0 211.9,375.0 211.4,374.0 211.0,373.0 210.6,372.0 210.2,371.0 209.7,370.0 209.3,369.0 208.8,368.0 208.3,367.0 207.9,366.0 207.4,365.0 206.9,364.0 206.4,363.0 205.9,362.0 205.3,361.0 204.8,360.0 204.2,359.0 203.7,358.0 203.1,357.0 202.6,356.0 202.0,355.0 201.4,354.0 200.8,353.0 200.2,352.0 199.6,351.0 199.0,350.0 198.3,349.0 197.7,348.0 197.1,347.0 196.4,346.0 195.8,345.0 195.1,344.0 194.5,343.0 193.8,342.0 193.2,341.0 192.5,340.0 191.8,339.0 191.1,338.0 190.5,337.0 189.8,336.0 189.1,335.0 188.5,334.0 187.8,333.0 187.1,332.0 186.4,331.0 185.8,330.0 185.1,329.0 184.4,328.0 183.8,327.0 183.1,326.0 182.5,325.0 181.8,324.0 181.2,323.0 180.5,322.0 179.9,321.0 179.3,320.0 178.6,319.0 178.0,318.0 177.4,317.0 176.8,316.0 176.2,315.0 175.6,314.0 175.0,313.0 174.5,312.0 173.9,311.0 173.4,310.0 172.8,309.0 172.3,308.0 171.7,307.0 171.2,306.0 170.7,305.0 170.2,304.0 169.7,303.0 169.2,302.0 168.8,301.0 168.3,300.0 167.8,299.0 167.4,298.0 166.9,297.0 166.5,296.0 166.0,295.0 165.6,294.0 165.2,293.0 164.8,292.0 164.4,291.0 164.0,290.0 163.6,289.0 163.2,288.0 162.9,287.0 162.5,286.0 162.2,285.0 161.8,284.0 161.5,283.0 161.1,282.0 160.8,281.0 160.5,280.0 160.2,279.0 159.9,278.0 159.6,277.0 159.3,276.0 159.0,275.0 158.7,274.0 158.5,273.0 158.2,272.0 157.9,271.0 157.7,270.0 157.4,269.0 157.2,268.0 157.0,267.0 156.7,266.0 156.5,265.0 156.3,264.0 156.1,263.0 155.9,262.0"/>
</g>
<g fill="#ff5c00">
<polygon points="335.5,204.0 335.4,205.0 335.2,206.0 335.3,207.0 335.3,208.0 335.4,209.0 335.4,210.0 335.5,211.0 335.6,212.0 335.6,213.0 335.7,214.0 335.7,215.0 335.8,216.0 335.9,217.0 335.9,218.0 336.0,219.0 336.1,220.0 336.2,221.0 336.2,222.0 336.3,223.0 336.4,224.0 336.5,225.0 336.5,226.0 336.6,227.0 336.7,228.0 336.8,229.0 336.9,230.0 337.0,231.0 337.1,232.0 337.2,233.0 337.3,234.0 337.4,235.0 337.5,236.0 337.6,237.0 337.7,238.0 337.8,239.0 337.9,240.0 338.0,241.0 338.1,242.0 338.3,243.0 338.4,244.0 338.5,245.0 338.6,246.0 338.7,247.0 338.9,248.0 339.0,249.0 339.1,250.0 339.3,251.0 339.4,252.0 339.5,253.0 339.7,254.0 339.8,255.0 340.0,256.0 340.1,257.0 340.3,258.0 340.4,259.0 340.6,260.0 340.8,261.0 340.9,262.0 341.1,263.0 341.3,264.0 341.5,265.0 341.7,266.0 341.9,267.0 342.1,268.0 342.3,269.0 342.5,270.0 342.7,271.0 342.9,272.0 343.2,273.0 343.4,274.0 343.7,275.0 343.9,276.0 344.2,277.0 344.4,278.0 344.7,279.0 345.0,280.0 345.2,281.0 345.5,282.0 345.8,283.0 346.1,284.0 346.4,285.0 346.7,286.0 347.1,287.0 347.4,288.0 347.7,289.0 348.1,290.0 348.4,291.0 348.8,292.0 349.1,293.0 349.5,294.0 349.9,295.0 350.2,296.0 350.6,297.0 351.1,298.0 351.5,299.0 352.0,300.0 352.4,301.0 352.9,302.0 353.4,303.0 353.8,304.0 354.3,305.0 354.8,306.0 355.4,307.0 355.9,308.0 356.4,309.0 356.9,310.0 357.5,311.0 358.0,312.0 358.6,313.0 359.2,314.0 359.8,315.0 360.4,316.0 360.9,317.0 361.6,318.0 362.2,319.0 362.8,320.0 363.4,321.0 364.0,322.0 364.7,323.0 365.3,324.0 366.0,325.0 366.6,326.0 367.3,327.0 367.9,328.0 368.6,329.0 369.2,330.0 369.9,331.0 370.6,332.0 371.3,333.0 371.9,334.0 372.6,335.0 373.3,336.0 373.9,337.0 374.6,338.0 375.3,339.0 376.0,340.0 376.6,341.0 377.3,342.0 378.0,343.0 378.6,344.0 379.3,345.0 379.9,346.0 380.6,347.0 381.2,348.0 381.8,349.0 382.5,350.0 383.1,351.0 383.7,352.0 384.3,353.0 384.9,354.0 385.5,355.0 386.1,356.0 386.7,357.0 387.2,358.0 387.8,359.0 388.4,360.0 389.0,361.0 389.5,362.0 390.1,363.0 390.6,364.0 391.2,365.0 391.7,366.0 392.2,367.0 392.7,368.0 393.2,369.0 393.7,370.0 394.2,371.0 394.7,372.0 395.2,373.0 395.6,374.0 396.0,375.0 396.5,376.0 396.9,377.0 397.3,378.0 397.6,379.0 398.0,380.0 398.4,381.0 398.8,382.0 399.1,383.0 399.5,384.0 399.8,385.0 400.1,386.0 400.4,387.0 400.8,388.0 401.1,389.0 401.4,390.0 401.7,391.0 402.0,392.0 402.2,393.0 402.5,394.0 402.8,395.0 403.1,396.0 403.3,397.0 403.6,398.0 403.8,399.0 404.0,400.0 404.3,401.0 404.5,402.0 404.7,403.0 405.0,404.0 405.2,405.0 405.4,406.0 405.6,407.0 405.8,408.0 406.0,409.0 406.2,410.0 406.4,411.0 406.5,412.0 406.7,413.0 406.9,414.0 407.1,415.0 407.2,416.0 407.4,417.0 407.6,418.0 407.7,419.0 407.9,420.0 408.0,421.0 408.2,422.0 408.3,423.0 408.4,424.0 408.6,425.0 408.7,426.0 408.8,427.0 409.0,428.0 409.1,429.0 409.2,430.0 409.3,431.0 409.4,432.0 409.6,433.0 409.7,434.0 409.8,435.0 409.9,436.0 410.0,437.0 410.1,438.0 410.2,439.0 410.3,440.0 410.4,441.0 410.5,442.0 410.6,443.0 410.7,444.0 410.8,445.0 410.9,446.0 410.9,447.0 411.0,448.0 411.1,449.0 411.2,450.0 411.3,451.0 411.4,452.0 411.4,453.0 411.5,454.0 411.6,455.0 411.7,456.0 411.7,457.0 411.8,458.0 411.9,459.0 411.9,460.0 412.0,461.0 412.1,462.0 412.1,463.0 412.2,464.0 412.3,465.0 412.3,466.0 412.4,467.0 412.5,468.0 412.6,469.0 412.7,470.0 412.7,471.0 412.8,472.0 412.9,473.0 413.2,474.0 413.6,475.0 413.8,476.0 413.8,476.0 413.8,475.0 414.2,474.0 414.4,473.0 414.4,472.0 414.3,471.0 414.3,470.0 414.3,469.0 414.2,468.0 414.2,467.0 414.2,466.0 414.1,465.0 414.1,464.0 414.0,463.0 414.0,462.0 413.9,461.0 413.8,460.0 413.8,459.0 413.7,458.0 413.7,457.0 413.6,456.0 413.5,455.0 413.5,454.0 413.4,453.0 413.3,452.0 413.2,451.0 413.2,450.0 413.1,449.0 413.0,448.0 412.9,447.0 412.8,446.0 412.8,445.0 412.7,444.0 412.6,443.0 412.5,442.0 412.4,441.0 412.3,440.0 412.2,439.0 412.1,438.0 412.0,437.0 411.9,436.0 411.8,435.0 411.7,434.0 411.6,433.0 411.5,432.0 411.4,431.0 411.3,430.0 411.2,429.0 411.1,428.0 410.9,427.0 410.8,426.0 410.7,425.0 410.5,424.0 410.4,423.0 410.3,422.0 410.1,421.0 410.0,420.0 409.9,419.0 409.7,418.0 409.6,417.0 409.4,416.0 409.2,415.0 409.1,414.0 408.9,413.0 408.7,412.0 408.6,411.0 408.4,410.0 408.2,409.0 408.0,408.0 407.8,407.0 407.6,406.0 407.4,405.0 407.2,404.0 407.0,403.0 406.8,402.0 406.6,401.0 406.3,400.0 406.1,399.0 405.9,398.0 405.6,397.0 405.4,396.0 405.1,395.0 404.9,394.0 404.6,393.0 404.3,392.0 404.0,391.0 403.8,390.0 403.5,389.0 403.2,388.0 402.9,387.0 402.5,386.0 402.2,385.0 401.9,384.0 401.6,383.0 401.2,382.0 400.9,381.0 400.5,380.0 400.1,379.0 399.8,378.0 399.4,377.0 399.0,376.0 398.6,375.0 398.2,374.0 397.8,373.0 397.4,372.0 397.0,371.0 396.6,370.0 396.1,369.0 395.7,368.0 395.3,367.0 394.8,366.0 394.4,365.0 393.9,364.0 393.4,363.0 392.9,362.0 392.4,361.0 391.9,360.0 391.4,359.0 390.9,358.0 390.3,357.0 389.8,356.0 389.2,355.0 388.6,354.0 388.0,353.0 387.4,352.0 386.8,351.0 386.2,350.0 385.6,349.0 384.9,348.0 384.3,347.0 383.7,346.0 383.0,345.0 382.4,344.0 381.7,343.0 381.1,342.0 380.4,341.0 379.7,340.0 379.1,339.0 378.4,338.0 377.7,337.0 377.1,336.0 376.4,335.0 375.7,334.0 375.0,333.0 374.4,332.0 373.7,331.0 373.0,330.0 372.4,329.0 371.7,328.0 371.0,327.0 370.4,326.0 369.7,325.0 369.1,324.0 368.4,323.0 367.8,322.0 367.1,321.0 366.5,320.0 365.9,319.0 365.3,318.0 364.7,317.0 364.1,316.0 363.5,315.0 362.9,314.0 362.3,313.0 361.7,312.0 361.2,311.0 360.6,310.0 360.1,309.0 359.5,308.0 359.0,307.0 358.5,306.0 357.9,305.0 357.4,304.0 357.0,303.0 356.5,302.0 356.0,301.0 355.5,300.0 355.1,299.0 354.6,298.0 354.2,297.0 353.7,296.0 353.2,295.0 352.8,294.0 352.3,293.0 351.9,292.0 351.5,291.0 351.1,290.0 350.7,289.0 350.3,288.0 349.9,287.0 349.6,286.0 349.2,285.0 348.9,284.0 348.5,283.0 348.2,282.0 347.9,281.0 347.5,280.0 347.2,279.0 346.9,278.0 346.6,277.0 346.3,276.0 346.0,275.0 345.8,274.0 345.5,273.0 345.2,272.0 344.9,271.0 344.7,270.0 344.4,269.0 344.2,268.0 343.9,267.0 343.7,266.0 343.5,265.0 343.2,264.0 343.0,263.0 342.8,262.0 342.6,261.0 342.4,260.0 342.2,259.0 342.0,258.0 341.8,257.0 341.6,256.0 341.4,255.0 341.2,254.0 341.0,253.0 340.9,252.0 340.7,251.0 340.5,250.0 340.4,249.0 340.2,248.0 340.0,247.0 339.9,246.0 339.7,245.0 339.6,244.0 339.5,243.0 339.3,242.0 339.2,241.0 339.1,240.0 338.9,239.0 338.8,238.0 338.7,237.0 338.6,236.0 338.5,235.0 338.4,234.0 338.2,233.0 338.1,232.0 338.0,231.0 337.9,230.0 337.8,229.0 337.7,228.0 337.6,227.0 337.5,226.0 337.4,225.0 337.3,224.0 337.3,223.0 337.2,222.0 337.1,221.0 337.0,220.0 336.9,219.0 336.8,218.0 336.7,217.0 336.7,216.0 336.6,215.0 336.5,214.0 336.4,213.0 336.3,212.0 336.3,211.0 336.2,210.0 336.1,209.0 336.1,208.0 336.0,207.0 335.9,206.0 335.6,205.0 335.5,204.0"/>
<polygon points="383.4,280.0 383.7,281.0 384.0,282.0 384.3,283.0 384.6,284.0 384.9,285.0 385.2,286.0 385.6,287.0 385.9,288.0 386.2,289.0 386.6,290.0 386.9,291.0 387.3,292.0 387.6,293.0 388.0,294.0 388.4,295.0 388.8,296.0 389.2,297.0 389.6,298.0 390.0,299.0 390.5,300.0 390.9,301.0 391.4,302.0 391.8,303.0 392.3,304.0 392.8,305.0 393.3,306.0 393.8,307.0 394.3,308.0 394.6,309.0 395.0,310.0 395.4,311.0 395.9,312.0 396.5,313.0 397.1,314.0 397.7,315.0 398.2,316.0 398.8,317.0 399.4,318.0 400.1,319.0 400.7,320.0 401.3,321.0 401.9,322.0 402.6,323.0 403.2,324.0 403.8,325.0 404.5,326.0 405.1,327.0 405.8,328.0 406.5,329.0 407.1,330.0 407.8,331.0 408.5,332.0 409.1,333.0 409.8,334.0 410.5,335.0 411.1,336.0 411.8,337.0 412.5,338.0 413.2,339.0 413.8,340.0 414.5,341.0 415.1,342.0 415.8,343.0 416.5,344.0 417.1,345.0 417.8,346.0 418.4,347.0 419.0,348.0 419.7,349.0 420.3,350.0 420.9,351.0 421.5,352.0 422.1,353.0 422.7,354.0 423.3,355.0 423.9,356.0 424.5,357.0 425.0,358.0 425.6,359.0 426.1,360.0 426.7,361.0 427.2,362.0 427.7,363.0 428.3,364.0 428.8,365.0 429.3,366.0 429.8,367.0 430.2,368.0 430.7,369.0 431.2,370.0 431.6,371.0 432.1,372.0 432.5,373.0 433.0,374.0 433.4,375.0 433.8,376.0 434.2,377.0 434.6,378.0 435.0,379.0 435.4,380.0 435.8,381.0 436.2,382.0 436.5,383.0 436.9,384.0 437.2,385.0 437.6,386.0 437.9,387.0 438.2,388.0 438.5,389.0 438.8,390.0 439.1,391.0 439.4,392.0 439.7,393.0 440.0,394.0 440.3,395.0 440.6,396.0 440.8,397.0 441.1,398.0 441.3,399.0 441.6,400.0 441.8,401.0 442.1,402.0 442.3,403.0 442.5,404.0 442.8,405.0 443.0,406.0 443.2,407.0 443.4,408.0 443.6,409.0 443.8,410.0 444.0,411.0 444.2,412.0 444.4,413.0 444.5,414.0 444.7,415.0 444.9,416.0 445.1,417.0 445.2,418.0 445.4,419.0 445.6,420.0 445.7,421.0 445.9,422.0 446.0,423.0 446.2,424.0 446.3,425.0 446.5,426.0 446.6,427.0 446.8,428.0 446.9,429.0 447.0,430.0 447.2,431.0 447.3,432.0 447.4,433.0 447.5,434.0 447.7,435.0 447.8,436.0 447.9,437.0 448.0,438.0 448.1,439.0 448.3,440.0 448.4,441.0 448.5,442.0 448.6,443.0 448.7,444.0 448.8,445.0 448.9,446.0 449.0,447.0 449.1,448.0 449.2,449.0 449.3,450.0 449.4,451.0 449.5,452.0 449.6,453.0 449.7,454.0 449.8,455.0 449.8,455.0 449.7,454.0 449.6,453.0 449.6,452.0 449.5,451.0 449.5,450.0 449.4,449.0 449.3,448.0 449.3,447.0 449.2,446.0 449.1,445.0 449.1,444.0 449.0,443.0 448.9,442.0 448.9,441.0 448.8,440.0 448.7,439.0 448.6,438.0 448.5,437.0 448.5,436.0 448.4,435.0 448.3,434.0 448.2,433.0 448.1,432.0 448.0,431.0 447.9,430.0 447.8,429.0 447.7,428.0 447.6,427.0 447.4,426.0 447.3,425.0 447.2,424.0 447.1,423.0 447.0,422.0 446.8,421.0 446.7,420.0 446.6,419.0 446.4,418.0 446.3,417.0 446.1,416.0 446.0,415.0 445.8,414.0 445.7,413.0 445.5,412.0 445.3,411.0 445.2,410.0 445.0,409.0 444.8,408.0 444.6,407.0 444.4,406.0 444.2,405.0 444.0,404.0 443.8,403.0 443.6,402.0 443.4,401.0 443.2,400.0 443.0,399.0 442.7,398.0 442.5,397.0 442.3,396.0 442.0,395.0 441.8,394.0 441.5,393.0 441.2,392.0 441.0,391.0 440.7,390.0 440.4,389.0 440.1,388.0 439.8,387.0 439.5,386.0 439.2,385.0 438.9,384.0 438.5,383.0 438.2,382.0 437.9,381.0 437.5,380.0 437.2,379.0 436.8,378.0 436.4,377.0 436.0,376.0 435.7,375.0 435.2,374.0 434.8,373.0 434.4,372.0 434.0,371.0 433.5,370.0 433.1,369.0 432.6,368.0 432.1,367.0 431.7,366.0 431.2,365.0 430.7,364.0 430.2,363.0 429.6,362.0 429.1,361.0 428.6,360.0 428.0,359.0 427.5,358.0 426.9,357.0 426.4,356.0 425.8,355.0 425.2,354.0 424.6,353.0 424.0,352.0 423.4,351.0 422.8,350.0 422.1,349.0 421.5,348.0 420.9,347.0 420.2,346.0 419.6,345.0 418.9,344.0 418.3,343.0 417.6,342.0 417.0,341.0 416.3,340.0 415.6,339.0 414.9,338.0 414.3,337.0 413.6,336.0 412.9,335.0 412.2,334.0 411.6,333.0 410.9,332.0 410.2,331.0 409.5,330.0 408.9,329.0 408.2,328.0 407.5,327.0 406.9,326.0 406.2,325.0 405.6,324.0 404.9,323.0 404.3,322.0 403.6,321.0 403.0,320.0 402.4,319.0 401.8,318.0 401.2,317.0 400.6,316.0 400.0,315.0 399.4,314.0 398.8,313.0 398.2,312.0 397.6,311.0 396.9,310.0 396.2,309.0 395.5,308.0 395.0,307.0 394.4,306.0 393.9,305.0 393.4,304.0 392.9,303.0 392.4,302.0 391.9,301.0 391.4,300.0 390.9,299.0 390.5,298.0 390.0,297.0 389.6,296.0 389.1,295.0 388.7,294.0 388.2,293.0 387.8,292.0 387.4,291.0 387.0,290.0 386.6,289.0 386.2,288.0 385.9,287.0 385.5,286.0 385.1,285.0 384.8,284.0 384.4,283.0 384.1,282.0 383.8,281.0 383.4,280.0"/>
<polygon points="408.2,280.0 408.5,281.0 408.8,282.0 409.1,283.0 409.4,284.0 409.7,285.0 410.0,286.0 410.4,287.0 410.7,288.0 411.0,289.0 411.4,290.0 411.7,291.0 412.1,292.0 412.4,293.0 412.8,294.0 413.2,295.0 413.6,296.0 414.0,297.0 414.4,298.0 414.8,299.0 415.3,300.0 415.7,301.0 416.2,302.0 416.6,303.0 417.1,304.0 417.6,305.0 418.1,306.0 418.6,307.0 419.1,308.0 419.4,309.0 419.8,310.0 420.2,311.0 420.7,312.0 421.3,313.0 421.9,314.0 422.5,315.0 423.0,316.0 423.6,317.0 424.2,318.0 424.9,319.0 425.5,320.0 426.1,321.0 426.7,322.0 427.4,323.0 428.0,324.0 428.6,325.0 429.3,326.0 429.9,327.0 430.6,328.0 431.3,329.0 431.9,330.0 432.6,331.0 433.3,332.0 433.9,333.0 434.6,334.0 435.3,335.0 435.9,336.0 436.6,337.0 437.3,338.0 438.0,339.0 438.6,340.0 439.3,341.0 439.9,342.0 440.6,343.0 441.3,344.0 441.9,345.0 442.6,346.0 443.2,347.0 443.8,348.0 444.5,349.0 445.1,350.0 445.7,351.0 446.3,352.0 446.9,353.0 447.5,354.0 448.1,355.0 448.7,356.0 449.3,357.0 449.8,358.0 450.4,359.0 450.9,360.0 451.5,361.0 452.0,362.0 452.5,363.0 453.1,364.0 453.6,365.0 454.1,366.0 454.6,367.0 455.0,368.0 455.5,369.0 456.0,370.0 456.4,371.0 456.9,372.0 457.3,373.0 457.8,374.0 458.2,375.0 458.6,376.0 459.0,377.0 459.4,378.0 459.8,379.0 460.2,380.0 460.5,381.0 460.9,382.0 461.3,383.0 461.6,384.0 462.0,385.0 462.3,386.0 462.6,387.0 462.9,388.0 463.3,389.0 463.6,390.0 463.9,391.0 464.2,392.0 464.4,393.0 464.7,394.0 465.0,395.0 465.3,396.0 465.5,397.0 465.8,398.0 466.0,399.0 466.3,400.0 466.5,401.0 466.7,402.0 467.0,403.0 467.2,404.0 467.4,405.0 467.7,406.0 467.9,407.0 468.1,408.0 468.3,409.0 468.5,410.0 468.7,411.0 468.9,412.0 469.1,413.0 469.2,414.0 469.4,415.0 469.6,416.0 469.8,417.0 469.9,418.0 470.1,419.0 470.3,420.0 470.4,421.0 470.6,422.0 470.7,423.0 470.9,424.0 471.0,425.0 471.2,426.0 471.3,427.0 471.4,428.0 471.6,429.0 471.7,430.0 471.8,431.0 471.9,432.0 472.1,433.0 472.2,434.0 472.3,435.0 472.4,436.0 472.6,437.0 472.7,438.0 472.8,439.0 472.9,440.0 473.0,441.0 473.1,442.0 473.2,443.0 473.3,444.0 473.4,445.0 473.5,446.0 473.6,447.0 473.7,448.0 473.8,449.0 473.9,450.0 474.0,451.0 474.1,452.0 474.2,453.0 474.3,454.0 474.4,455.0 474.5,456.0 474.5,457.0 474.6,458.0 474.7,459.0 474.8,460.0 474.9,461.0 474.9,462.0 475.0,463.0 475.1,464.0 475.2,465.0 475.2,466.0 475.3,467.0 475.4,468.0 475.4,468.0 475.3,467.0 475.3,466.0 475.2,465.0 475.2,464.0 475.1,463.0 475.1,462.0 475.0,461.0 475.0,460.0 474.9,459.0 474.9,458.0 474.8,457.0 474.8,456.0 474.7,455.0 474.7,454.0 474.6,453.0 474.6,452.0 474.5,451.0 474.4,450.0 474.4,449.0 474.3,448.0 474.3,447.0 474.2,446.0 474.1,445.0 474.0,444.0 474.0,443.0 473.9,442.0 473.8,441.0 473.7,440.0 473.7,439.0 473.6,438.0 473.5,437.0 473.4,436.0 473.3,435.0 473.2,434.0 473.1,433.0 473.0,432.0 472.9,431.0 472.8,430.0 472.7,429.0 472.6,428.0 472.5,427.0 472.4,426.0 472.2,425.0 472.1,424.0 472.0,423.0 471.9,422.0 471.7,421.0 471.6,420.0 471.5,419.0 471.3,418.0 471.2,417.0 471.0,416.0 470.9,415.0 470.7,414.0 470.6,413.0 470.4,412.0 470.2,411.0 470.1,410.0 469.9,409.0 469.7,408.0 469.5,407.0 469.3,406.0 469.2,405.0 469.0,404.0 468.8,403.0 468.6,402.0 468.3,401.0 468.1,400.0 467.9,399.0 467.7,398.0 467.4,397.0 467.2,396.0 466.9,395.0 466.7,394.0 466.4,393.0 466.1,392.0 465.9,391.0 465.6,390.0 465.3,389.0 465.0,388.0 464.7,387.0 464.4,386.0 464.1,385.0 463.7,384.0 463.4,383.0 463.1,382.0 462.7,381.0 462.3,380.0 462.0,379.0 461.6,378.0 461.2,377.0 460.9,376.0 460.5,375.0 460.0,374.0 459.6,373.0 459.2,372.0 458.8,371.0 458.3,370.0 457.9,369.0 457.4,368.0 456.9,367.0 456.5,366.0 456.0,365.0 455.5,364.0 455.0,363.0 454.4,362.0 453.9,361.0 453.4,360.0 452.8,359.0 452.3,358.0 451.7,357.0 451.2,356.0 450.6,355.0 450.0,354.0 449.4,353.0 448.8,352.0 448.2,351.0 447.6,350.0 446.9,349.0 446.3,348.0 445.7,347.0 445.0,346.0 444.4,345.0 443.7,344.0 443.1,343.0 442.4,342.0 441.8,341.0 441.1,340.0 440.4,339.0 439.7,338.0 439.1,337.0 438.4,336.0 437.7,335.0 437.0,334.0 436.4,333.0 435.7,332.0 435.0,331.0 434.3,330.0 433.7,329.0 433.0,328.0 432.3,327.0 431.7,326.0 431.0,325.0 430.4,324.0 429.7,323.0 429.1,322.0 428.4,321.0 427.8,320.0 427.2,319.0 426.6,318.0 426.0,317.0 425.4,316.0 424.8,315.0 424.2,314.0 423.6,313.0 423.0,312.0 422.4,311.0 421.7,310.0 421.0,309.0 420.3,308.0 419.8,307.0 419.2,306.0 418.7,305.0 418.2,304.0 417.7,303.0 417.2,302.0 416.7,301.0 416.2,300.0 415.7,299.0 415.3,298.0 414.8,297.0 414.4,296.0 413.9,295.0 413.5,294.0 413.0,293.0 412.6,292.0 412.2,291.0 411.8,290.0 411.4,289.0 411.0,288.0 410.7,287.0 410.3,286.0 409.9,285.0 409.6,284.0 409.2,283.0 408.9,282.0 408.6,281.0 408.2,280.0"/>
<polygon points="309.0,280.0 309.3,281.0 309.6,282.0 309.9,283.0 310.2,284.0 310.5,285.0 310.8,286.0 311.2,287.0 311.5,288.0 311.8,289.0 312.2,290.0 312.5,291.0 312.9,292.0 313.2,293.0 313.6,294.0 314.0,295.0 314.4,296.0 314.8,297.0 315.2,298.0 315.6,299.0 316.1,300.0 316.5,301.0 317.0,302.0 317.4,303.0 317.9,304.0 318.4,305.0 318.9,306.0 319.4,307.0 319.9,308.0 320.2,309.0 320.6,310.0 321.0,311.0 321.5,312.0 322.1,313.0 322.7,314.0 323.3,315.0 323.8,316.0 324.4,317.0 325.0,318.0 325.7,319.0 326.3,320.0 326.9,321.0 327.5,322.0 328.2,323.0 328.8,324.0 329.4,325.0 330.1,326.0 330.7,327.0 331.4,328.0 332.1,329.0 332.7,330.0 333.4,331.0 334.1,332.0 334.7,333.0 335.4,334.0 336.1,335.0 336.7,336.0 337.4,337.0 338.1,338.0 338.8,339.0 339.4,340.0 340.1,341.0 340.7,342.0 341.4,343.0 342.1,344.0 342.7,345.0 343.4,346.0 344.0,347.0 344.6,348.0 345.3,349.0 345.9,350.0 346.5,351.0 347.1,352.0 347.7,353.0 348.3,354.0 348.9,355.0 349.5,356.0 350.1,357.0 350.6,358.0 351.2,359.0 351.7,360.0 352.3,361.0 352.8,362.0 353.3,363.0 353.9,364.0 354.4,365.0 354.9,366.0 355.4,367.0 355.8,368.0 356.3,369.0 356.8,370.0 357.2,371.0 357.7,372.0 358.1,373.0 358.6,374.0 359.0,375.0 359.4,376.0 359.8,377.0 360.2,378.0 360.6,379.0 361.0,380.0 361.4,381.0 361.8,382.0 362.1,383.0 362.5,384.0 362.8,385.0 363.2,386.0 363.5,387.0 363.8,388.0 364.1,389.0 364.4,390.0 364.7,391.0 365.0,392.0 365.3,393.0 365.6,394.0 365.9,395.0 366.2,396.0 366.4,397.0 366.7,398.0 366.9,399.0 367.2,400.0 367.4,401.0 367.7,402.0 367.9,403.0 368.1,404.0 368.4,405.0 368.6,406.0 368.8,407.0 369.0,408.0 369.2,409.0 369.4,410.0 369.6,411.0 369.8,412.0 370.0,413.0 370.1,414.0 370.3,415.0 370.5,416.0 370.7,417.0 370.8,418.0 371.0,419.0 371.2,420.0 371.3,421.0 371.5,422.0 371.6,423.0 371.8,424.0 371.9,425.0 372.1,426.0 372.2,427.0 372.4,428.0 372.5,429.0 372.6,430.0 372.8,431.0 372.9,432.0 373.0,433.0 373.1,434.0 373.3,435.0 373.4,436.0 373.5,437.0 373.6,438.0 373.7,439.0 373.9,440.0 374.0,441.0 374.1,442.0 374.2,443.0 374.3,444.0 374.4,445.0 374.5,446.0 374.6,447.0 374.7,448.0 374.8,449.0 374.9,450.0 375.0,451.0 375.1,452.0 375.2,453.0 375.3,454.0 375.4,455.0 375.4,455.0 375.3,454.0 375.2,453.0 375.2,452.0 375.1,451.0 375.1,450.0 375.0,449.0 374.9,448.0 374.9,447.0 374.8,446.0 374.7,445.0 374.7,444.0 374.6,443.0 374.5,442.0 374.5,441.0 374.4,440.0 374.3,439.0 374.2,438.0 374.1,437.0 374.1,436.0 374.0,435.0 373.9,434.0 373.8,433.0 373.7,432.0 373.6,431.0 373.5,430.0 373.4,429.0 373.3,428.0 373.2,427.0 373.0,426.0 372.9,425.0 372.8,424.0 372.7,423.0 372.6,422.0 372.4,421.0 372.3,420.0 372.2,419.0 372.0,418.0 371.9,417.0 371.7,416.0 371.6,415.0 371.4,414.0 371.3,413.0 371.1,412.0 370.9,411.0 370.8,410.0 370.6,409.0 370.4,408.0 370.2,407.0 370.0,406.0 369.8,405.0 369.6,404.0 369.4,403.0 369.2,402.0 369.0,401.0 368.8,400.0 368.6,399.0 368.3,398.0 368.1,397.0 367.9,396.0 367.6,395.0 367.4,394.0 367.1,393.0 366.8,392.0 366.6,391.0 366.3,390.0 366.0,389.0 365.7,388.0 365.4,387.0 365.1,386.0 364.8,385.0 364.5,384.0 364.1,383.0 363.8,382.0 363.5,381.0 363.1,380.0 362.8,379.0 362.4,378.0 362.0,377.0 361.6,376.0 361.3,375.0 360.8,374.0 360.4,373.0 360.0,372.0 359.6,371.0 359.1,370.0 358.7,369.0 358.2,368.0 357.7,367.0 357.3,366.0 356.8,365.0 356.3,364.0 355.8,363.0 355.2,362.0 354.7,361.0 354.2,360.0 353.6,359.0 353.1,358.0 352.5,357.0 352.0,356.0 351.4,355.0 350.8,354.0 350.2,353.0 349.6,352.0 349.0,351.0 348.4,350.0 347.7,349.0 347.1,348.0 346.5,347.0 345.8,346.0 345.2,345.0 344.5,344.0 343.9,343.0 343.2,342.0 342.6,341.0 341.9,340.0 341.2,339.0 340.5,338.0 339.9,337.0 339.2,336.0 338.5,335.0 337.8,334.0 337.2,333.0 336.5,332.0 335.8,331.0 335.1,330.0 334.5,329.0 333.8,328.0 333.1,327.0 332.5,326.0 331.8,325.0 331.2,324.0 330.5,323.0 329.9,322.0 329.2,321.0 328.6,320.0 328.0,319.0 327.4,318.0 326.8,317.0 326.2,316.0 325.6,315.0 325.0,314.0 324.4,313.0 323.8,312.0 323.2,311.0 322.5,310.0 321.8,309.0 321.1,308.0 320.6,307.0 320.0,306.0 319.5,305.0 319.0,304.0 318.5,303.0 318.0,302.0 317.5,301.0 317.0,300.0 316.5,299.0 316.1,298.0 315.6,297.0 315.2,296.0 314.7,295.0 314.3,294.0 313.8,293.0 313.4,292.0 313.0,291.0 312.6,290.0 312.2,289.0 311.8,288.0 311.5,287.0 311.1,286.0 310.7,285.0 310.4,284.0 310.0,283.0 309.7,282.0 309.4,281.0 309.0,280.0"/>
<polygon points="284.2,280.0 284.5,281.0 284.8,282.0 285.1,283.0 285.4,284.0 285.7,285.0 286.0,286.0 286.4,287.0 286.7,288.0 287.0,289.0 287.4,290.0 287.7,291.0 288.1,292.0 288.4,293.0 288.8,294.0 289.2,295.0 289.6,296.0 290.0,297.0 290.4,298.0 290.8,299.0 291.3,300.0 291.7,301.0 292.2,302.0 292.6,303.0 293.1,304.0 293.6,305.0 294.1,306.0 294.6,307.0 295.1,308.0 295.4,309.0 295.8,310.0 296.2,311.0 296.7,312.0 297.3,313.0 297.9,314.0 298.5,315.0 299.0,316.0 299.6,317.0 300.2,318.0 300.9,319.0 301.5,320.0 302.1,321.0 302.7,322.0 303.4,323.0 304.0,324.0 304.6,325.0 305.3,326.0 305.9,327.0 306.6,328.0 307.3,329.0 307.9,330.0 308.6,331.0 309.3,332.0 309.9,333.0 310.6,334.0 311.3,335.0 311.9,336.0 312.6,337.0 313.3,338.0 314.0,339.0 314.6,340.0 315.3,341.0 315.9,342.0 316.6,343.0 317.3,344.0 317.9,345.0 318.6,346.0 319.2,347.0 319.8,348.0 320.5,349.0 321.1,350.0 321.7,351.0 322.3,352.0 322.9,353.0 323.5,354.0 324.1,355.0 324.7,356.0 325.3,357.0 325.8,358.0 326.4,359.0 326.9,360.0 327.5,361.0 328.0,362.0 328.5,363.0 329.1,364.0 329.6,365.0 330.1,366.0 330.6,367.0 331.0,368.0 331.5,369.0 332.0,370.0 332.4,371.0 332.9,372.0 333.3,373.0 333.8,374.0 334.2,375.0 334.6,376.0 335.0,377.0 335.4,378.0 335.8,379.0 336.2,380.0 336.6,381.0 337.0,382.0 337.3,383.0 337.7,384.0 338.0,385.0 338.4,386.0 338.7,387.0 339.1,388.0 339.4,389.0 339.7,390.0 340.0,391.0 340.3,392.0 340.6,393.0 340.9,394.0 341.1,395.0 341.4,396.0 341.7,397.0 341.9,398.0 342.2,399.0 342.4,400.0 342.7,401.0 342.9,402.0 343.2,403.0 343.4,404.0 343.6,405.0 343.8,406.0 344.0,407.0 344.2,408.0 344.5,409.0 344.7,410.0 344.8,411.0 345.0,412.0 345.2,413.0 345.4,414.0 345.6,415.0 345.8,416.0 345.9,417.0 346.1,418.0 346.3,419.0 346.4,420.0 346.6,421.0 346.7,422.0 346.9,423.0 347.0,424.0 347.2,425.0 347.3,426.0 347.5,427.0 347.6,428.0 347.8,429.0 347.9,430.0 348.0,431.0 348.2,432.0 348.3,433.0 348.4,434.0 348.5,435.0 348.7,436.0 348.8,437.0 348.9,438.0 349.0,439.0 349.1,440.0 349.3,441.0 349.4,442.0 349.5,443.0 349.6,444.0 349.7,445.0 349.8,446.0 349.9,447.0 350.0,448.0 350.1,449.0 350.2,450.0 350.2,450.0 350.1,449.0 350.1,448.0 350.0,447.0 349.9,446.0 349.9,445.0 349.8,444.0 349.7,443.0 349.6,442.0 349.6,441.0 349.5,440.0 349.4,439.0 349.3,438.0 349.2,437.0 349.2,436.0 349.1,435.0 349.0,434.0 348.9,433.0 348.8,432.0 348.7,431.0 348.6,430.0 348.5,429.0 348.4,428.0 348.3,427.0 348.2,426.0 348.1,425.0 347.9,424.0 347.8,423.0 347.7,422.0 347.6,421.0 347.4,420.0 347.3,419.0 347.2,418.0 347.0,417.0 346.9,416.0 346.7,415.0 346.6,414.0 346.4,413.0 346.2,412.0 346.1,411.0 345.9,410.0 345.7,409.0 345.5,408.0 345.4,407.0 345.2,406.0 345.0,405.0 344.8,404.0 344.6,403.0 344.4,402.0 344.2,401.0 343.9,400.0 343.7,399.0 343.5,398.0 343.3,397.0 343.0,396.0 342.8,395.0 342.5,394.0 342.3,393.0 342.0,392.0 341.7,391.0 341.4,390.0 341.2,389.0 340.9,388.0 340.6,387.0 340.3,386.0 340.0,385.0 339.7,384.0 339.3,383.0 339.0,382.0 338.7,381.0 338.3,380.0 338.0,379.0 337.6,378.0 337.2,377.0 336.8,376.0 336.5,375.0 336.0,374.0 335.6,373.0 335.2,372.0 334.8,371.0 334.3,370.0 333.9,369.0 333.4,368.0 332.9,367.0 332.5,366.0 332.0,365.0 331.5,364.0 331.0,363.0 330.4,362.0 329.9,361.0 329.4,360.0 328.8,359.0 328.3,358.0 327.7,357.0 327.2,356.0 326.6,355.0 326.0,354.0 325.4,353.0 324.8,352.0 324.2,351.0 323.6,350.0 322.9,349.0 322.3,348.0 321.7,347.0 321.0,346.0 320.4,345.0 319.7,344.0 319.1,343.0 318.4,342.0 317.8,341.0 317.1,340.0 316.4,339.0 315.7,338.0 315.1,337.0 314.4,336.0 313.7,335.0 313.0,334.0 312.4,333.0 311.7,332.0 311.0,331.0 310.3,330.0 309.7,329.0 309.0,328.0 308.3,327.0 307.7,326.0 307.0,325.0 306.4,324.0 305.7,323.0 305.1,322.0 304.4,321.0 303.8,320.0 303.2,319.0 302.6,318.0 302.0,317.0 301.4,316.0 300.8,315.0 300.2,314.0 299.6,313.0 299.0,312.0 298.4,311.0 297.7,310.0 297.0,309.0 296.3,308.0 295.8,307.0 295.2,306.0 294.7,305.0 294.2,304.0 293.7,303.0 293.2,302.0 292.7,301.0 292.2,300.0 291.7,299.0 291.3,298.0 290.8,297.0 290.4,296.0 289.9,295.0 289.5,294.0 289.0,293.0 288.6,292.0 288.2,291.0 287.8,290.0 287.4,289.0 287.0,288.0 286.7,287.0 286.3,286.0 285.9,285.0 285.6,284.0 285.2,283.0 284.9,282.0 284.6,281.0 284.2,280.0"/>
</g>
<g fill="#d01c10">
<polygon points="340.0,251.0 340.1,252.0 340.2,253.0 340.4,254.0 340.5,255.0 340.7,256.0 340.8,257.0 341.0,258.0 341.1,259.0 341.3,260.0 341.4,261.0 341.6,262.0 341.8,263.0 341.9,264.0 342.1,265.0 342.3,266.0 342.5,267.0 342.7,268.0 342.9,269.0 343.1,270.0 343.3,271.0 343.6,272.0 343.8,273.0 344.0,274.0 344.3,275.0 344.5,276.0 344.8,277.0 345.0,278.0 345.3,279.0 345.6,280.0 345.9,281.0 346.2,282.0 346.5,283.0 346.8,284.0 347.1,285.0 347.4,286.0 347.7,287.0 348.1,288.0 348.4,289.0 348.8,290.0 349.1,291.0 349.5,292.0 349.9,293.0 350.2,294.0 350.6,295.0 351.0,296.0 351.4,297.0 351.8,298.0 352.3,299.0 352.7,300.0 353.2,301.0 353.7,302.0 354.1,303.0 354.6,304.0 355.1,305.0 355.6,306.0 356.1,307.0 356.7,308.0 357.2,309.0 357.7,310.0 358.3,311.0 358.8,312.0 359.4,313.0 360.0,314.0 360.6,315.0 361.2,316.0 361.8,317.0 362.4,318.0 363.0,319.0 363.6,320.0 364.2,321.0 364.8,322.0 365.5,323.0 366.1,324.0 366.8,325.0 367.4,326.0 368.1,327.0 368.7,328.0 369.4,329.0 370.1,330.0 370.7,331.0 371.4,332.0 372.1,333.0 372.8,334.0 373.4,335.0 374.1,336.0 374.8,337.0 375.4,338.0 376.1,339.0 376.8,340.0 377.5,341.0 378.1,342.0 378.8,343.0 379.4,344.0 380.1,345.0 380.7,346.0 381.4,347.0 382.0,348.0 382.6,349.0 383.3,350.0 383.9,351.0 384.5,352.0 385.1,353.0 385.7,354.0 386.3,355.0 386.9,356.0 387.5,357.0 388.0,358.0 388.6,359.0 389.2,360.0 389.8,361.0 390.3,362.0 390.9,363.0 391.4,364.0 391.9,365.0 392.5,366.0 393.0,367.0 393.5,368.0 394.0,369.0 394.4,370.0 394.9,371.0 395.4,372.0 395.8,373.0 396.3,374.0 396.7,375.0 397.1,376.0 397.5,377.0 397.9,378.0 398.3,379.0 398.7,380.0 399.0,381.0 399.4,382.0 399.8,383.0 400.1,384.0 400.4,385.0 400.8,386.0 401.1,387.0 401.4,388.0 401.7,389.0 402.0,390.0 402.3,391.0 402.6,392.0 402.9,393.0 403.1,394.0 403.4,395.0 403.7,396.0 403.9,397.0 404.2,398.0 404.4,399.0 404.7,400.0 404.9,401.0 405.1,402.0 405.4,403.0 405.6,404.0 405.8,405.0 406.0,406.0 406.2,407.0 406.4,408.0 406.6,409.0 406.8,410.0 407.0,411.0 407.1,412.0 407.3,413.0 407.5,414.0 407.7,415.0 407.8,416.0 408.0,417.0 408.2,418.0 408.3,419.0 408.5,420.0 408.6,421.0 408.8,422.0 408.9,423.0 409.0,424.0 409.2,425.0 409.3,426.0 409.4,427.0 409.6,428.0 409.7,429.0 409.8,430.0 409.9,431.0 410.0,432.0 410.2,433.0 410.3,434.0 410.4,435.0 410.5,436.0 410.6,437.0 410.7,438.0 410.8,439.0 410.9,440.0 411.0,441.0 411.1,442.0 411.2,443.0 411.3,444.0 411.4,445.0 411.5,446.0 411.5,447.0 411.6,448.0 411.7,449.0 411.8,450.0 411.9,451.0 412.0,452.0 412.0,453.0 412.1,454.0 412.2,455.0 412.3,456.0 412.3,457.0 412.4,458.0 412.5,459.0 412.5,460.0 412.6,461.0 412.7,462.0 412.7,463.0 412.8,464.0 412.8,465.0 412.9,466.0 413.0,467.0 413.1,468.0 413.2,469.0 413.3,470.0 413.4,471.0 413.5,472.0 413.5,473.0 413.7,474.0 413.7,474.0 413.7,473.0 413.7,472.0 413.7,471.0 413.7,470.0 413.6,469.0 413.6,468.0 413.6,467.0 413.6,466.0 413.5,465.0 413.5,464.0 413.4,463.0 413.4,462.0 413.3,461.0 413.2,460.0 413.2,459.0 413.1,458.0 413.1,457.0 413.0,456.0 412.9,455.0 412.9,454.0 412.8,453.0 412.7,452.0 412.6,451.0 412.6,450.0 412.5,449.0 412.4,448.0 412.3,447.0 412.2,446.0 412.2,445.0 412.1,444.0 412.0,443.0 411.9,442.0 411.8,441.0 411.7,440.0 411.6,439.0 411.5,438.0 411.4,437.0 411.3,436.0 411.2,435.0 411.1,434.0 411.0,433.0 410.9,432.0 410.8,431.0 410.7,430.0 410.6,429.0 410.5,428.0 410.3,427.0 410.2,426.0 410.1,425.0 409.9,424.0 409.8,423.0 409.7,422.0 409.5,421.0 409.4,420.0 409.2,419.0 409.1,418.0 408.9,417.0 408.8,416.0 408.6,415.0 408.5,414.0 408.3,413.0 408.1,412.0 408.0,411.0 407.8,410.0 407.6,409.0 407.4,408.0 407.2,407.0 407.0,406.0 406.8,405.0 406.6,404.0 406.4,403.0 406.2,402.0 405.9,401.0 405.7,400.0 405.5,399.0 405.2,398.0 405.0,397.0 404.8,396.0 404.5,395.0 404.2,394.0 404.0,393.0 403.7,392.0 403.4,391.0 403.1,390.0 402.8,389.0 402.5,388.0 402.2,387.0 401.9,386.0 401.6,385.0 401.3,384.0 400.9,383.0 400.6,382.0 400.2,381.0 399.9,380.0 399.5,379.0 399.1,378.0 398.7,377.0 398.3,376.0 397.9,375.0 397.5,374.0 397.1,373.0 396.7,372.0 396.3,371.0 395.9,370.0 395.4,369.0 395.0,368.0 394.5,367.0 394.1,366.0 393.6,365.0 393.1,364.0 392.6,363.0 392.1,362.0 391.6,361.0 391.1,360.0 390.6,359.0 390.1,358.0 389.5,357.0 389.0,356.0 388.4,355.0 387.8,354.0 387.2,353.0 386.6,352.0 386.0,351.0 385.4,350.0 384.7,349.0 384.1,348.0 383.5,347.0 382.8,346.0 382.2,345.0 381.6,344.0 380.9,343.0 380.2,342.0 379.6,341.0 378.9,340.0 378.2,339.0 377.6,338.0 376.9,337.0 376.2,336.0 375.6,335.0 374.9,334.0 374.2,333.0 373.5,332.0 372.9,331.0 372.2,330.0 371.5,329.0 370.9,328.0 370.2,327.0 369.5,326.0 368.9,325.0 368.2,324.0 367.6,323.0 367.0,322.0 366.3,321.0 365.7,320.0 365.1,319.0 364.5,318.0 363.8,317.0 363.2,316.0 362.7,315.0 362.1,314.0 361.5,313.0 360.9,312.0 360.4,311.0 359.8,310.0 359.3,309.0 358.7,308.0 358.2,307.0 357.7,306.0 357.2,305.0 356.7,304.0 356.2,303.0 355.7,302.0 355.2,301.0 354.7,300.0 354.3,299.0 353.8,298.0 353.4,297.0 352.9,296.0 352.5,295.0 352.1,294.0 351.6,293.0 351.2,292.0 350.8,291.0 350.4,290.0 350.0,289.0 349.7,288.0 349.3,287.0 348.9,286.0 348.6,285.0 348.2,284.0 347.9,283.0 347.5,282.0 347.2,281.0 346.9,280.0 346.6,279.0 346.3,278.0 346.0,277.0 345.7,276.0 345.4,275.0 345.1,274.0 344.9,273.0 344.6,272.0 344.3,271.0 344.1,270.0 343.8,269.0 343.6,268.0 343.3,267.0 343.1,266.0 342.8,265.0 342.6,264.0 342.4,263.0 342.2,262.0 341.9,261.0 341.7,260.0 341.5,259.0 341.3,258.0 341.1,257.0 340.9,256.0 340.7,255.0 340.5,254.0 340.3,253.0 340.1,252.0 340.0,251.0"/>
<polygon points="395.4,309.0 395.9,310.0 396.2,311.0 396.8,312.0 397.3,313.0 397.9,314.0 398.5,315.0 399.1,316.0 399.7,317.0 400.3,318.0 400.9,319.0 401.5,320.0 402.1,321.0 402.8,322.0 403.4,323.0 404.0,324.0 404.7,325.0 405.3,326.0 406.0,327.0 406.6,328.0 407.3,329.0 408.0,330.0 408.6,331.0 409.3,332.0 410.0,333.0 410.6,334.0 411.3,335.0 412.0,336.0 412.6,337.0 413.3,338.0 414.0,339.0 414.6,340.0 415.3,341.0 416.0,342.0 416.6,343.0 417.3,344.0 417.9,345.0 418.6,346.0 419.2,347.0 419.8,348.0 420.5,349.0 421.1,350.0 421.7,351.0 422.3,352.0 422.9,353.0 423.5,354.0 424.1,355.0 424.7,356.0 425.2,357.0 425.8,358.0 426.4,359.0 426.9,360.0 427.4,361.0 428.0,362.0 428.5,363.0 429.0,364.0 429.5,365.0 430.0,366.0 430.5,367.0 431.0,368.0 431.4,369.0 431.9,370.0 432.3,371.0 432.8,372.0 433.2,373.0 433.6,374.0 434.0,375.0 434.5,376.0 434.9,377.0 435.3,378.0 435.7,379.0 436.1,380.0 436.4,381.0 436.8,382.0 437.2,383.0 437.5,384.0 437.9,385.0 438.2,386.0 438.6,387.0 438.9,388.0 439.2,389.0 439.5,390.0 439.8,391.0 440.1,392.0 440.4,393.0 440.7,394.0 441.0,395.0 441.3,396.0 441.5,397.0 441.8,398.0 442.1,399.0 442.3,400.0 442.6,401.0 442.8,402.0 443.0,403.0 443.3,404.0 443.5,405.0 443.5,405.0 443.3,404.0 443.1,403.0 442.9,402.0 442.7,401.0 442.5,400.0 442.3,399.0 442.0,398.0 441.8,397.0 441.6,396.0 441.3,395.0 441.1,394.0 440.8,393.0 440.6,392.0 440.3,391.0 440.0,390.0 439.7,389.0 439.4,388.0 439.1,387.0 438.8,386.0 438.5,385.0 438.2,384.0 437.9,383.0 437.6,382.0 437.2,381.0 436.9,380.0 436.5,379.0 436.1,378.0 435.8,377.0 435.4,376.0 435.0,375.0 434.6,374.0 434.1,373.0 433.7,372.0 433.3,371.0 432.8,370.0 432.4,369.0 431.9,368.0 431.4,367.0 430.9,366.0 430.4,365.0 429.9,364.0 429.4,363.0 428.9,362.0 428.3,361.0 427.8,360.0 427.3,359.0 426.7,358.0 426.1,357.0 425.6,356.0 425.0,355.0 424.4,354.0 423.8,353.0 423.2,352.0 422.6,351.0 422.0,350.0 421.3,349.0 420.7,348.0 420.1,347.0 419.4,346.0 418.8,345.0 418.1,344.0 417.5,343.0 416.8,342.0 416.1,341.0 415.5,340.0 414.8,339.0 414.1,338.0 413.4,337.0 412.8,336.0 412.1,335.0 411.4,334.0 410.7,333.0 410.1,332.0 409.4,331.0 408.7,330.0 408.0,329.0 407.4,328.0 406.7,327.0 406.0,326.0 405.4,325.0 404.7,324.0 404.1,323.0 403.5,322.0 402.8,321.0 402.2,320.0 401.6,319.0 400.9,318.0 400.3,317.0 399.7,316.0 399.1,315.0 398.5,314.0 398.0,313.0 397.4,312.0 396.8,311.0 396.1,310.0 395.4,309.0"/>
<polygon points="420.2,309.0 420.7,310.0 421.0,311.0 421.6,312.0 422.1,313.0 422.7,314.0 423.3,315.0 423.9,316.0 424.5,317.0 425.1,318.0 425.7,319.0 426.3,320.0 426.9,321.0 427.6,322.0 428.2,323.0 428.8,324.0 429.5,325.0 430.1,326.0 430.8,327.0 431.4,328.0 432.1,329.0 432.8,330.0 433.4,331.0 434.1,332.0 434.8,333.0 435.4,334.0 436.1,335.0 436.8,336.0 437.4,337.0 438.1,338.0 438.8,339.0 439.4,340.0 440.1,341.0 440.8,342.0 441.4,343.0 442.1,344.0 442.7,345.0 443.4,346.0 444.0,347.0 444.6,348.0 445.3,349.0 445.9,350.0 446.5,351.0 447.1,352.0 447.7,353.0 448.3,354.0 448.9,355.0 449.5,356.0 450.0,357.0 450.6,358.0 451.2,359.0 451.7,360.0 452.2,361.0 452.8,362.0 453.3,363.0 453.8,364.0 454.3,365.0 454.8,366.0 455.3,367.0 455.8,368.0 456.2,369.0 456.7,370.0 457.1,371.0 457.6,372.0 458.0,373.0 458.4,374.0 458.8,375.0 459.3,376.0 459.7,377.0 460.1,378.0 460.5,379.0 460.8,380.0 461.2,381.0 461.6,382.0 461.9,383.0 462.3,384.0 462.6,385.0 462.9,386.0 463.3,387.0 463.6,388.0 463.9,389.0 464.2,390.0 464.5,391.0 464.8,392.0 465.1,393.0 465.4,394.0 465.6,395.0 465.9,396.0 466.2,397.0 466.4,398.0 466.7,399.0 466.9,400.0 467.2,401.0 467.4,402.0 467.6,403.0 467.9,404.0 468.1,405.0 468.3,406.0 468.6,407.0 468.8,408.0 469.0,409.0 469.2,410.0 469.4,411.0 469.6,412.0 469.8,413.0 470.0,414.0 470.1,415.0 470.1,415.0 470.0,414.0 469.8,413.0 469.7,412.0 469.5,411.0 469.4,410.0 469.2,409.0 469.0,408.0 468.8,407.0 468.7,406.0 468.5,405.0 468.3,404.0 468.1,403.0 467.9,402.0 467.7,401.0 467.5,400.0 467.2,399.0 467.0,398.0 466.8,397.0 466.5,396.0 466.3,395.0 466.0,394.0 465.8,393.0 465.5,392.0 465.2,391.0 464.9,390.0 464.6,389.0 464.3,388.0 464.0,387.0 463.7,386.0 463.4,385.0 463.1,384.0 462.7,383.0 462.4,382.0 462.1,381.0 461.7,380.0 461.3,379.0 461.0,378.0 460.6,377.0 460.2,376.0 459.8,375.0 459.4,374.0 458.9,373.0 458.5,372.0 458.1,371.0 457.6,370.0 457.2,369.0 456.7,368.0 456.2,367.0 455.7,366.0 455.2,365.0 454.7,364.0 454.2,363.0 453.7,362.0 453.1,361.0 452.6,360.0 452.1,359.0 451.5,358.0 450.9,357.0 450.4,356.0 449.8,355.0 449.2,354.0 448.6,353.0 448.0,352.0 447.4,351.0 446.8,350.0 446.1,349.0 445.5,348.0 444.9,347.0 444.2,346.0 443.6,345.0 442.9,344.0 442.3,343.0 441.6,342.0 440.9,341.0 440.3,340.0 439.6,339.0 438.9,338.0 438.2,337.0 437.6,336.0 436.9,335.0 436.2,334.0 435.5,333.0 434.9,332.0 434.2,331.0 433.5,330.0 432.8,329.0 432.2,328.0 431.5,327.0 430.8,326.0 430.2,325.0 429.5,324.0 428.9,323.0 428.3,322.0 427.6,321.0 427.0,320.0 426.4,319.0 425.7,318.0 425.1,317.0 424.5,316.0 423.9,315.0 423.3,314.0 422.8,313.0 422.2,312.0 421.6,311.0 420.9,310.0 420.2,309.0"/>
<polygon points="321.0,309.0 321.5,310.0 321.8,311.0 322.4,312.0 322.9,313.0 323.5,314.0 324.1,315.0 324.7,316.0 325.3,317.0 325.9,318.0 326.5,319.0 327.1,320.0 327.7,321.0 328.4,322.0 329.0,323.0 329.6,324.0 330.3,325.0 330.9,326.0 331.6,327.0 332.2,328.0 332.9,329.0 333.6,330.0 334.2,331.0 334.9,332.0 335.6,333.0 336.2,334.0 336.9,335.0 337.6,336.0 338.2,337.0 338.9,338.0 339.6,339.0 340.2,340.0 340.9,341.0 341.6,342.0 342.2,343.0 342.9,344.0 343.5,345.0 344.2,346.0 344.8,347.0 345.4,348.0 346.1,349.0 346.7,350.0 347.3,351.0 347.9,352.0 348.5,353.0 349.1,354.0 349.7,355.0 350.3,356.0 350.8,357.0 351.4,358.0 352.0,359.0 352.5,360.0 353.0,361.0 353.6,362.0 354.1,363.0 354.6,364.0 355.1,365.0 355.6,366.0 356.1,367.0 356.6,368.0 357.0,369.0 357.5,370.0 357.9,371.0 358.4,372.0 358.8,373.0 359.2,374.0 359.6,375.0 360.1,376.0 360.5,377.0 360.9,378.0 361.3,379.0 361.7,380.0 362.0,381.0 362.4,382.0 362.8,383.0 363.1,384.0 363.5,385.0 363.8,386.0 364.2,387.0 364.5,388.0 364.8,389.0 365.1,390.0 365.4,391.0 365.7,392.0 366.0,393.0 366.3,394.0 366.6,395.0 366.9,396.0 367.1,397.0 367.4,398.0 367.7,399.0 367.9,400.0 368.2,401.0 368.4,402.0 368.6,403.0 368.9,404.0 369.1,405.0 369.1,405.0 368.9,404.0 368.7,403.0 368.5,402.0 368.3,401.0 368.1,400.0 367.9,399.0 367.6,398.0 367.4,397.0 367.2,396.0 366.9,395.0 366.7,394.0 366.4,393.0 366.2,392.0 365.9,391.0 365.6,390.0 365.3,389.0 365.0,388.0 364.7,387.0 364.4,386.0 364.1,385.0 363.8,384.0 363.5,383.0 363.2,382.0 362.8,381.0 362.5,380.0 362.1,379.0 361.7,378.0 361.4,377.0 361.0,376.0 360.6,375.0 360.2,374.0 359.7,373.0 359.3,372.0 358.9,371.0 358.4,370.0 358.0,369.0 357.5,368.0 357.0,367.0 356.5,366.0 356.0,365.0 355.5,364.0 355.0,363.0 354.5,362.0 353.9,361.0 353.4,360.0 352.9,359.0 352.3,358.0 351.7,357.0 351.2,356.0 350.6,355.0 350.0,354.0 349.4,353.0 348.8,352.0 348.2,351.0 347.6,350.0 346.9,349.0 346.3,348.0 345.7,347.0 345.0,346.0 344.4,345.0 343.7,344.0 343.1,343.0 342.4,342.0 341.7,341.0 341.1,340.0 340.4,339.0 339.7,338.0 339.0,337.0 338.4,336.0 337.7,335.0 337.0,334.0 336.3,333.0 335.7,332.0 335.0,331.0 334.3,330.0 333.6,329.0 333.0,328.0 332.3,327.0 331.6,326.0 331.0,325.0 330.3,324.0 329.7,323.0 329.1,322.0 328.4,321.0 327.8,320.0 327.2,319.0 326.5,318.0 325.9,317.0 325.3,316.0 324.7,315.0 324.1,314.0 323.6,313.0 323.0,312.0 322.4,311.0 321.7,310.0 321.0,309.0"/>
<polygon points="296.2,309.0 296.7,310.0 297.0,311.0 297.6,312.0 298.1,313.0 298.7,314.0 299.3,315.0 299.9,316.0 300.5,317.0 301.1,318.0 301.7,319.0 302.3,320.0 302.9,321.0 303.6,322.0 304.2,323.0 304.8,324.0 305.5,325.0 306.1,326.0 306.8,327.0 307.4,328.0 308.1,329.0 308.8,330.0 309.4,331.0 310.1,332.0 310.8,333.0 311.4,334.0 312.1,335.0 312.8,336.0 313.4,337.0 314.1,338.0 314.8,339.0 315.4,340.0 316.1,341.0 316.8,342.0 317.4,343.0 318.1,344.0 318.7,345.0 319.4,346.0 320.0,347.0 320.6,348.0 321.3,349.0 321.9,350.0 322.5,351.0 323.1,352.0 323.7,353.0 324.3,354.0 324.9,355.0 325.5,356.0 326.0,357.0 326.6,358.0 327.2,359.0 327.7,360.0 328.2,361.0 328.8,362.0 329.3,363.0 329.8,364.0 330.3,365.0 330.8,366.0 331.3,367.0 331.8,368.0 332.2,369.0 332.7,370.0 333.1,371.0 333.6,372.0 334.0,373.0 334.4,374.0 334.8,375.0 335.3,376.0 335.7,377.0 336.1,378.0 336.5,379.0 336.9,380.0 337.3,381.0 337.6,382.0 338.0,383.0 338.4,384.0 338.7,385.0 339.1,386.0 339.4,387.0 339.7,388.0 340.1,389.0 340.4,390.0 340.7,391.0 341.0,392.0 341.3,393.0 341.6,394.0 341.9,395.0 342.1,396.0 342.4,397.0 342.7,398.0 342.9,399.0 343.2,400.0 343.2,400.0 343.0,399.0 342.8,398.0 342.5,397.0 342.3,396.0 342.0,395.0 341.8,394.0 341.6,393.0 341.3,392.0 341.0,391.0 340.8,390.0 340.5,389.0 340.2,388.0 339.9,387.0 339.6,386.0 339.3,385.0 339.0,384.0 338.7,383.0 338.3,382.0 338.0,381.0 337.6,380.0 337.3,379.0 336.9,378.0 336.6,377.0 336.2,376.0 335.8,375.0 335.4,374.0 334.9,373.0 334.5,372.0 334.1,371.0 333.6,370.0 333.2,369.0 332.7,368.0 332.2,367.0 331.7,366.0 331.2,365.0 330.7,364.0 330.2,363.0 329.7,362.0 329.1,361.0 328.6,360.0 328.1,359.0 327.5,358.0 326.9,357.0 326.4,356.0 325.8,355.0 325.2,354.0 324.6,353.0 324.0,352.0 323.4,351.0 322.8,350.0 322.1,349.0 321.5,348.0 320.9,347.0 320.2,346.0 319.6,345.0 318.9,344.0 318.3,343.0 317.6,342.0 316.9,341.0 316.3,340.0 315.6,339.0 314.9,338.0 314.2,337.0 313.6,336.0 312.9,335.0 312.2,334.0 311.5,333.0 310.9,332.0 310.2,331.0 309.5,330.0 308.8,329.0 308.2,328.0 307.5,327.0 306.8,326.0 306.2,325.0 305.5,324.0 304.9,323.0 304.3,322.0 303.6,321.0 303.0,320.0 302.4,319.0 301.7,318.0 301.1,317.0 300.5,316.0 299.9,315.0 299.3,314.0 298.8,313.0 298.2,312.0 297.6,311.0 296.9,310.0 296.2,309.0"/>
</g>
<g fill="#f6b8a8">
<polygon points="348.5,287.0 348.8,288.0 349.2,289.0 349.5,290.0 349.9,291.0 350.2,292.0 350.6,293.0 351.0,294.0 351.3,295.0 351.7,296.0 352.1,297.0 352.5,298.0 353.0,299.0 353.4,300.0 353.9,301.0 354.4,302.0 354.9,303.0 355.3,304.0 355.8,305.0 356.3,306.0 356.9,307.0 357.4,308.0 357.9,309.0 358.5,310.0 359.0,311.0 359.6,312.0 360.1,313.0 360.7,314.0 361.3,315.0 361.9,316.0 362.5,317.0 363.1,318.0 363.7,319.0 364.3,320.0 365.0,321.0 365.6,322.0 366.2,323.0 366.9,324.0 367.5,325.0 368.2,326.0 368.8,327.0 369.5,328.0 370.2,329.0 370.8,330.0 371.5,331.0 372.2,332.0 372.8,333.0 373.5,334.0 374.2,335.0 374.9,336.0 375.5,337.0 376.2,338.0 376.9,339.0 377.5,340.0 378.2,341.0 378.9,342.0 379.5,343.0 380.2,344.0 380.8,345.0 381.5,346.0 382.1,347.0 382.8,348.0 383.4,349.0 384.0,350.0 384.6,351.0 385.2,352.0 385.8,353.0 386.4,354.0 387.0,355.0 387.6,356.0 388.2,357.0 388.8,358.0 389.3,359.0 389.9,360.0 390.5,361.0 391.1,362.0 391.6,363.0 392.2,364.0 392.7,365.0 393.3,366.0 393.3,366.0 392.8,365.0 392.3,364.0 391.9,363.0 391.4,362.0 390.9,361.0 390.4,360.0 389.9,359.0 389.4,358.0 388.8,357.0 388.2,356.0 387.6,355.0 387.1,354.0 386.5,353.0 385.9,352.0 385.2,351.0 384.6,350.0 384.0,349.0 383.4,348.0 382.7,347.0 382.1,346.0 381.5,345.0 380.8,344.0 380.2,343.0 379.5,342.0 378.8,341.0 378.2,340.0 377.5,339.0 376.8,338.0 376.2,337.0 375.5,336.0 374.8,335.0 374.1,334.0 373.5,333.0 372.8,332.0 372.1,331.0 371.5,330.0 370.8,329.0 370.1,328.0 369.5,327.0 368.8,326.0 368.1,325.0 367.5,324.0 366.9,323.0 366.2,322.0 365.6,321.0 365.0,320.0 364.3,319.0 363.7,318.0 363.1,317.0 362.5,316.0 361.9,315.0 361.3,314.0 360.8,313.0 360.2,312.0 359.6,311.0 359.1,310.0 358.5,309.0 358.0,308.0 357.5,307.0 357.0,306.0 356.4,305.0 355.9,304.0 355.5,303.0 355.0,302.0 354.5,301.0 354.0,300.0 353.6,299.0 353.1,298.0 352.7,297.0 352.2,296.0 351.8,295.0 351.3,294.0 350.9,293.0 350.5,292.0 350.1,291.0 349.7,290.0 349.3,289.0 348.9,288.0 348.5,287.0"/>
</g>
</g></g>
<rect x="100.5" y="60.5" width="496" height="480" fill="none" stroke="#000" stroke-width="1"/>
<path d="M100.5 540.5v-5.5M100.5 60.5v5.5M162.5 540.5v-5.5M162.5 60.5v5.5M224.5 540.5v-5.5M224.5 60.5v5.5M286.5 540.5v-5.5M286.5 60.5v5.5M348.5 540.5v-5.5M348.5 60.5v5.5M410.5 540.5v-5.5M410.5 60.5v5.5M472.5 540.5v-5.5M472.5 60.5v5.5M534.5 540.5v-5.5M534.5 60.5v5.5M596.5 540.5v-5.5M596.5 60.5v5.5M100.5 540.5h5.5M596.5 540.5h-5.5M100.5 460.5h5.5M596.5 460.5h-5.5M100.5 380.5h5.5M596.5 380.5h-5.5M100.5 300.5h5.5M596.5 300.5h-5.5M100.5 220.5h5.5M596.5 220.5h-5.5M100.5 140.5h5.5M596.5 140.5h-5.5M100.5 60.5h5.5M596.5 60.5h-5.5" stroke="#000" stroke-width="1" fill="none"/>
<g font-size="16.67px" text-anchor="middle">
<text x="100.0" y="557">−20000</text>
<text x="162.0" y="557">−15000</text>
<text x="224.0" y="557">−10000</text>
<text x="286.0" y="557">−5000</text>
<text x="347.1" y="557">0</text>
<text x="409.1" y="557">5000</text>
<text x="471.1" y="557">10000</text>
<text x="533.1" y="557">15000</text>
<text x="595.1" y="557">20000</text>
</g>
<g font-size="16.67px" text-anchor="end" letter-spacing="-0.4">
<text x="93.7" y="545.9">0</text>
<text x="93.7" y="465.9">200</text>
<text x="93.7" y="385.9">400</text>
<text x="93.7" y="305.9">600</text>
<text x="93.7" y="225.9">800</text>
<text x="93.7" y="145.9">1000</text>
<text x="93.7" y="65.9">1200</text>
</g>
<text x="348.3" y="575.3" font-size="16.67px" text-anchor="middle">frequency (Hz)</text>
<text transform="translate(45,300.3) rotate(-90)" font-size="16.67px" text-anchor="middle">time (s)</text>
<text x="347.8" y="48.1" font-size="20px" text-anchor="middle">150 MHz signal PSD (20120504_160206_COSMOS2454_TRO)</text>
<rect x="627.5" y="60.5" width="24" height="60.5" fill="#c80000"/>
<rect x="627.5" y="120.5" width="24" height="60.5" fill="#ff5c00"/>
<rect x="627.5" y="180.5" width="24" height="60.5" fill="#ffd200"/>
<rect x="627.5" y="240.5" width="24" height="60.5" fill="#afff48"/>
<rect x="627.5" y="300.5" width="24" height="60.5" fill="#48ffaf"/>
<rect x="627.5" y="360.5" width="24" height="60.5" fill="#00bfff"/>
<rect x="627.5" y="420.5" width="24" height="60.5" fill="#0040ff"/>
<rect x="627.5" y="480.5" width="24" height="60.5" fill="#0000c8"/>
<rect x="627.5" y="60.5" width="24" height="480" fill="none" stroke="#000" stroke-width="1"/>
<path d="M651.5 60.5h-5.5M651.5 120.5h-5.5M651.5 180.5h-5.5M651.5 240.5h-5.5M651.5 300.5h-5.5M651.5 360.5h-5.5M651.5 420.5h-5.5M651.5 480.5h-5.5M651.5 540.5h-5.5" stroke="#000" stroke-width="1" fill="none"/>
<g font-size="16.67px" text-anchor="start" letter-spacing="-0.4">
<text x="655.3" y="65.8">0</text>
<text x="655.3" y="125.8">−5</text>
<text x="655.3" y="185.8">−10</text>
<text x="655.3" y="245.8">−15</text>
<text x="655.3" y="305.8">−20</text>
<text x="655.3" y="365.8">−25</text>
<text x="655.3" y="425.8">−30</text>
<text x="655.3" y="485.8">−35</text>
<text x="655.3" y="545.8">−40</text>
</g>
</svg></body></html>
